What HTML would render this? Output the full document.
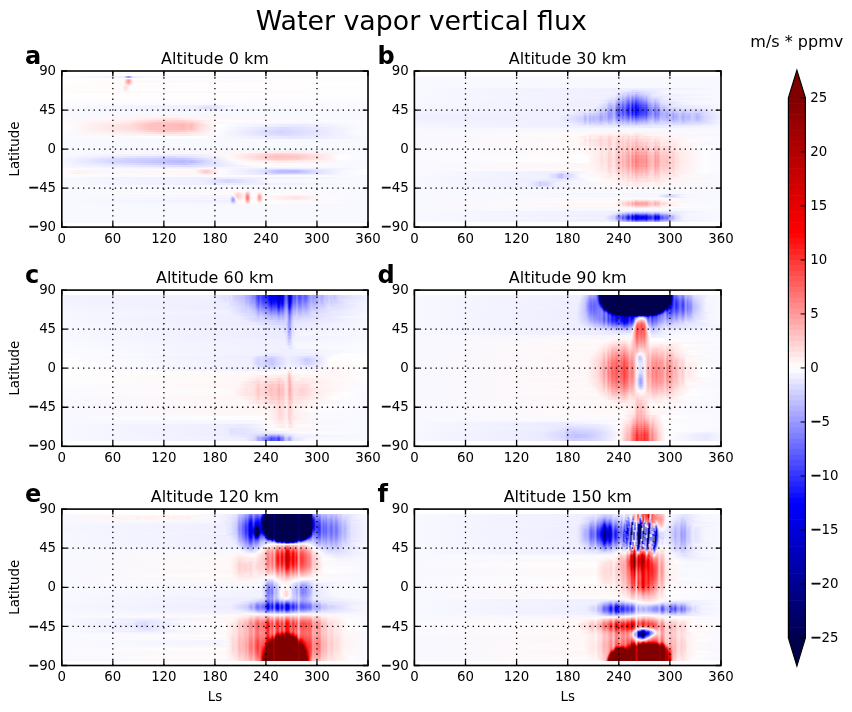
<!DOCTYPE html><html><head><meta charset="utf-8"><title>Water vapor vertical flux</title>
<style>html,body{margin:0;padding:0;background:#fff;width:852px;height:712px;overflow:hidden;position:relative}svg{display:block;position:absolute;left:0;top:0}text{font-family:'DejaVu Sans', 'Liberation Sans', sans-serif;fill:#000}.hm{position:absolute;top:0;height:712px}.hm i{position:absolute;left:0;right:0;display:block}</style></head><body>
<div class="hm" style="left:62.3px;width:306px"><i style="top:75.94px;height:2.05px;background:linear-gradient(90deg,#fcfcff 0,#f0f0ff 62px,#9898ff 66px,#9494ff 67px,#ededff 71px,#f8f8ff 87px,#fbfbff 306px)"></i><i style="top:77.94px;height:1.05px;background:linear-gradient(90deg,#fdfdff 0,#fcfcff 306px)"></i><i style="top:78.94px;height:1.05px;background:linear-gradient(90deg,#fdfdff 0,#fffefe 62px,#fbb 66px,#ffb8b8 67px,#fffdfd 71px,#fcfcff 306px)"></i><i style="top:79.94px;height:3.05px;background:linear-gradient(90deg,#fffeff 0,#fffafa 62px,#ff9d9d 66px,#ff9a9a 67px,#fff9f9 71px,#fefeff 306px)"></i><i style="top:82.94px;height:1.05px;background:linear-gradient(90deg,#fffefe 0,#fff8f8 62px,#ffb6b6 66px,#ffb4b4 67px,#fffcfc 71px,#fff 306px)"></i><i style="top:83.94px;height:1.05px;background:linear-gradient(90deg,#fffdfd 0,#fffcfc 61px,#ffcece 67px,#fff 71px,#fff 306px)"></i><i style="top:84.94px;height:1.05px;background:linear-gradient(90deg,#fffdfd 0,#fff8f8 61px,#ffe2e2 66px,#fcfcff 71px,#fffefe 306px)"></i><i style="top:85.94px;height:3.05px;background:linear-gradient(90deg,#fffcfc 0,#fffbfb 60px,#fdd 64px,#fefcfd 68px,#fffefe 306px)"></i><i style="top:88.94px;height:2.05px;background:linear-gradient(90deg,#fffcfc 0,#fffcfc 60px,#ffe4e4 64px,#fefeff 67px,#fffdfd 306px)"></i><i style="top:90.94px;height:2.05px;background:linear-gradient(90deg,#fffcfc 0,#fff8f8 62px,#fffdfd 306px)"></i><i style="top:92.94px;height:4.05px;background:linear-gradient(90deg,#fffdfd 0,#fffefe 306px)"></i><i style="top:96.94px;height:4.05px;background:linear-gradient(90deg,#fefeff 0,#fdfdff 306px)"></i><i style="top:100.94px;height:4.05px;background:linear-gradient(90deg,#fcfcff 0,#fbfbff 306px)"></i><i style="top:104.94px;height:2.05px;background:linear-gradient(90deg,#fafaff 0,#efefff 134px,#e5e5ff 147px,#f8f8ff 177px,#fafaff 306px)"></i><i style="top:106.94px;height:2.05px;background:linear-gradient(90deg,#f9f9ff 0,#efefff 133px,#dcdcff 146px,#f8f8ff 168px,#f9f9ff 306px)"></i><i style="top:108.94px;height:2.05px;background:linear-gradient(90deg,#f9f9ff 0,#f0f0ff 138px,#f9f9ff 306px)"></i><i style="top:110.94px;height:4.05px;background:linear-gradient(90deg,#f8f8ff 0,#f8f8ff 306px)"></i><i style="top:114.94px;height:3.05px;background:linear-gradient(90deg,#f9f9ff 0,#fff3f3 92px,#f8f8ff 214px,#f8f8ff 306px)"></i><i style="top:117.94px;height:2.05px;background:linear-gradient(90deg,#fafaff 0,#fff3f3 69px,#ffe2e2 110px,#fff6f6 138px,#f9f9ff 306px)"></i><i style="top:119.94px;height:2.05px;background:linear-gradient(90deg,#fbfbff 0,#fff0f0 63px,#ffd7d7 96px,#ffd2d2 120px,#ffdbdb 127px,#fdfdff 155px,#fafaff 306px)"></i><i style="top:121.94px;height:2.05px;background:linear-gradient(90deg,#fcfcff 0,#ffe8e8 65px,#ffc3c3 94px,#ffc4c4 118px,#ffc1c1 120px,#fcc 127px,#ffc6c6 129px,#fff1f1 144px,#fafaff 162px,#f6f6ff 258px,#fbfbff 306px)"></i><i style="top:123.94px;height:3.05px;background:linear-gradient(90deg,#fefeff 0,#ffdede 68px,#ffc0c0 87px,#ffc1c1 97px,#ffb8b8 118px,#ffb4b4 120px,#ffc1c1 127px,#ffb8b8 129px,#ffcfcf 134px,#fffefe 155px,#e8e8ff 232px,#fdfdff 306px)"></i><i style="top:126.94px;height:3.05px;background:linear-gradient(90deg,#fefeff 0,#ffdbdb 72px,#ffc2c2 87px,#ffc3c3 97px,#fbb 118px,#ffb7b7 120px,#ffc4c4 127px,#ffbcbc 129px,#ffdfdf 138px,#fdfdff 157px,#dbdbff 222px,#fdfdff 306px)"></i><i style="top:129.94px;height:2.05px;background:linear-gradient(90deg,#fdfdff 0,#ffe2e2 73px,#ffc9c9 94px,#ffc8c8 120px,#ffd3d3 127px,#ffd6d6 130px,#fefeff 155px,#d4d4ff 219px,#f9f9ff 293px,#fcfcff 306px)"></i><i style="top:131.94px;height:2.05px;background:linear-gradient(90deg,#fbfbff 0,#ffebeb 73px,#ffdbdb 100px,#ffe0e0 124px,#fcfcff 155px,#d4d4ff 219px,#f9f9ff 293px,#fbfbff 306px)"></i><i style="top:133.94px;height:2.05px;background:linear-gradient(90deg,#fafaff 0,#fff4f4 73px,#ffe9e9 120px,#fafaff 156px,#dbdbff 222px,#f9f9ff 298px,#fafaff 306px)"></i><i style="top:135.94px;height:3.05px;background:linear-gradient(90deg,#f9f9ff 0,#fefdfe 137px,#e6e6ff 233px,#f9f9ff 306px)"></i><i style="top:138.94px;height:4.05px;background:linear-gradient(90deg,#f8f8ff 0,#f8f8ff 306px)"></i><i style="top:142.94px;height:4.05px;background:#f8f8ff"></i><i style="top:146.94px;height:4.05px;background:linear-gradient(90deg,#f8f8ff 0,#f8f8ff 306px)"></i><i style="top:150.94px;height:2.05px;background:linear-gradient(90deg,#f8f8ff 0,#fff5f5 186px,#ffe9e9 223px,#fafaff 284px,#f8f8ff 306px)"></i><i style="top:152.94px;height:1.05px;background:linear-gradient(90deg,#f8f8ff 0,#f8f8ff 149px,#fff4f4 175px,#ffd8d8 219px,#ffe9e9 248px,#fbfbff 282px,#f8f8ff 306px)"></i><i style="top:153.94px;height:2.05px;background:linear-gradient(90deg,#f8f8ff 0,#ececff 130px,#fff9f9 167px,#ffc8c8 214px,#fcc 234px,#fefeff 279px,#f8f8ff 306px)"></i><i style="top:155.94px;height:2.05px;background:linear-gradient(90deg,#f8f8ff 0,#d9d9ff 110px,#ececff 145px,#fff9f9 167px,#ffbfbf 214px,#ffc4c4 234px,#fff 278px,#f8f8ff 306px)"></i><i style="top:157.94px;height:2.05px;background:linear-gradient(90deg,#f7f7ff 0,#d4d4ff 63px,#c5c5ff 120px,#ccf 127px,#fffbfb 169px,#ffc9c9 214px,#ffcece 234px,#fefeff 279px,#f7f7ff 306px)"></i><i style="top:159.94px;height:1.05px;background:linear-gradient(90deg,#f7f7ff 0,#d2d2ff 60px,#c5c5ff 96px,#babaff 120px,#c1c1ff 127px,#c2c2ff 130px,#fffdfd 171px,#ffdada 219px,#ffeaea 248px,#fbfbff 282px,#f7f7ff 306px)"></i><i style="top:160.94px;height:2.05px;background:linear-gradient(90deg,#f7f7ff 0,#d2d2ff 60px,#c5c5ff 96px,#b8b8ff 120px,#bfbfff 127px,#b7b7ff 129px,#e8e8ff 153px,#fffbfb 179px,#ffebeb 223px,#fafaff 284px,#f7f7ff 306px)"></i><i style="top:162.94px;height:2.05px;background:linear-gradient(90deg,#f7f7ff 0,#cfcfff 96px,#c4c4ff 120px,#cacaff 127px,#d5d5ff 137px,#fefeff 183px,#f7f7ff 306px)"></i><i style="top:164.94px;height:2.05px;background:linear-gradient(90deg,#f7f7ff 0,#dcdcff 124px,#fbfbff 200px,#f8f8ff 306px)"></i><i style="top:166.94px;height:1.05px;background:linear-gradient(90deg,#f8f8ff 0,#ececff 132px,#f6f6ff 157px,#f8f8ff 306px)"></i><i style="top:167.94px;height:1.05px;background:linear-gradient(90deg,#fafaff 0,#f3f3ff 132px,#fff8f8 142px,#ececff 208px,#efefff 251px,#f9f9ff 306px)"></i><i style="top:168.94px;height:1.05px;background:linear-gradient(90deg,#fcfcff 0,#f9f9ff 131px,#fff0f0 138px,#ffe2e2 146px,#fcfcff 157px,#e6e6ff 204px,#d3d3ff 221px,#e2e2ff 248px,#f8f8ff 287px,#fbfbff 306px)"></i><i style="top:169.94px;height:3.05px;background:linear-gradient(90deg,#fffdfd 0,#fff2f2 16px,#f8f8ff 38px,#fff7f7 133px,#ffc9c9 144px,#fdfdff 158px,#e3e3ff 199px,#bdbdff 216px,#babaff 234px,#dfdfff 254px,#f8f8ff 282px,#fefeff 306px)"></i><i style="top:172.94px;height:1.05px;background:linear-gradient(90deg,#fffcfc 0,#fee 15px,#fafaff 32px,#fff7f7 134px,#ffd7d7 145px,#fcfcff 158px,#e5e5ff 203px,#ccf 218px,#d7d7ff 244px,#f7f7ff 277px,#fff 306px)"></i><i style="top:173.94px;height:1.05px;background:linear-gradient(90deg,#fff 0,#fff9f9 19px,#fff7f7 137px,#ffefef 147px,#fafaff 158px,#e3e3ff 212px,#ebebff 249px,#fdfdff 306px)"></i><i style="top:174.94px;height:2.05px;background:linear-gradient(90deg,#fbfbff 0,#f9f9ff 301px,#fafaff 306px)"></i><i style="top:176.94px;height:2.05px;background:linear-gradient(90deg,#f8f8ff 0,#ededff 151px,#f8f8ff 306px)"></i><i style="top:178.94px;height:4.05px;background:linear-gradient(90deg,#f8f8ff 0,#eef 141px,#d8d8ff 166px,#f8f8ff 208px,#f8f8ff 306px)"></i><i style="top:182.94px;height:2.05px;background:linear-gradient(90deg,#f8f8ff 0,#ededff 148px,#ececff 177px,#f8f8ff 293px,#f8f8ff 306px)"></i><i style="top:184.94px;height:4.05px;background:linear-gradient(90deg,#f8f8ff 0,#f8f8ff 306px)"></i><i style="top:188.94px;height:2.05px;background:linear-gradient(90deg,#f8f8ff 0,#fffbfb 184px,#f8f8ff 306px)"></i><i style="top:190.94px;height:1.05px;background:linear-gradient(90deg,#f8f8ff 0,#fff7f7 173px,#fff9f9 179px,#fffcfc 183px,#ffe1e1 186px,#fbfbff 189px,#f8f8ff 306px)"></i><i style="top:191.94px;height:1.05px;background:linear-gradient(90deg,#f8f8ff 0,#fffafa 171px,#ffe8e8 177px,#fffdfd 182px,#ffcece 185px,#ffdede 187px,#fdfdff 189px,#fff5f5 196px,#ffecec 198px,#fbfbff 201px,#f8f8ff 306px)"></i><i style="top:192.94px;height:1.05px;background:linear-gradient(90deg,#f8f8ff 0,#fff8f8 171px,#ffd7d7 176px,#fff9f9 182px,#fff0f0 183px,#ffb7b7 185px,#ffb6b6 186px,#fff 189px,#fffafa 195px,#ffd9d9 197px,#ffe9e9 199px,#fbfbff 202px,#f8f8ff 306px)"></i><i style="top:193.94px;height:1.05px;background:linear-gradient(90deg,#f8f8ff 0,#fffdfd 171px,#fcc 176px,#fff6f6 182px,#ffe9e9 183px,#ff9f9f 185px,#ff9d9d 186px,#fffdfd 189px,#fdfdff 194px,#fdd 196px,#ffc4c4 197px,#ffc5c5 198px,#fffefe 201px,#fff9f9 243px,#f8f8ff 306px)"></i><i style="top:194.94px;height:1.05px;background:linear-gradient(90deg,#f8f8ff 0,#f2f2ff 171px,#fffefe 172px,#ffcaca 175px,#ffe0e0 179px,#fff3f3 182px,#ffe3e3 183px,#f88 185px,#ff8686 186px,#ffdfdf 188px,#fffbfb 189px,#fff 194px,#ffd0d0 196px,#ffaeae 197px,#ffafaf 198px,#fffbfb 201px,#ffefef 238px,#fafaff 262px,#f8f8ff 306px)"></i><i style="top:195.94px;height:1.05px;background:linear-gradient(90deg,#f8f8ff 0,#f9f9ff 168px,#d9d9ff 171px,#fff5f5 173px,#ffcbcb 175px,#ffd8d8 178px,#fff2f2 182px,#ffe0e0 183px,#ff7878 185px,#ff7575 186px,#ffdada 188px,#fff9f9 189px,#fffdfd 194px,#ffc5c5 196px,#ff9c9c 197px,#ff9e9e 198px,#fff8f8 201px,#ffe6e6 234px,#fbfbff 261px,#f8f8ff 306px)"></i><i style="top:196.94px;height:1.05px;background:linear-gradient(90deg,#f8f8ff 0,#f5f5ff 168px,#babaff 171px,#cdcdff 172px,#f6f6ff 173px,#ffd3d3 175px,#fdd 178px,#fff3f3 182px,#ffdfdf 183px,#ff7171 185px,#ff6e6e 186px,#ffd7d7 188px,#fff9f9 189px,#fffcfc 194px,#ffe8e8 195px,#ff9494 197px,#ff9797 198px,#ffe1e1 200px,#fffefe 202px,#ffe1e1 233px,#fbfbff 261px,#f8f8ff 306px)"></i><i style="top:197.94px;height:1.05px;background:linear-gradient(90deg,#f8f8ff 0,#f1f1ff 168px,#9e9eff 171px,#b3b3ff 172px,#e4e4ff 173px,#fff3f3 174px,#ffd9d9 176px,#fff5f5 182px,#ffe1e1 183px,#ff7575 185px,#ff7272 186px,#ffd9d9 188px,#fff9f9 189px,#fffdfd 194px,#ffe9e9 195px,#ff9898 197px,#ff9b9b 198px,#ffe2e2 200px,#fffefe 202px,#ffe2e2 233px,#fbfbff 261px,#f8f8ff 306px)"></i><i style="top:198.94px;height:1.05px;background:linear-gradient(90deg,#f8f8ff 0,#f7f7ff 167px,#d6d6ff 169px,#9191ff 171px,#a5a5ff 172px,#fff 174px,#ffe6e6 176px,#fff8f8 182px,#ffe5e5 183px,#ff8383 185px,#ff8080 186px,#fdd 188px,#fffafa 189px,#fffefe 194px,#ffcbcb 196px,#ffa7a7 197px,#ffa9a9 198px,#fffafa 201px,#ffeaea 234px,#fafaff 262px,#f8f8ff 306px)"></i><i style="top:199.94px;height:1.05px;background:linear-gradient(90deg,#f8f8ff 0,#efefff 168px,#9797ff 171px,#a8a8ff 172px,#f7f7ff 174px,#fff3f3 177px,#fffcfc 182px,#ffebeb 183px,#ff9898 185px,#ff9595 186px,#ffe4e4 188px,#fffcfc 189px,#fefeff 194px,#ffd8d8 196px,#ffbcbc 197px,#ffbdbd 198px,#fffdfd 201px,#fff5f5 239px,#f8f8ff 292px,#f8f8ff 306px)"></i><i style="top:200.94px;height:1.05px;background:linear-gradient(90deg,#f8f8ff 0,#f1f1ff 168px,#acacff 171px,#b8b8ff 172px,#f4f4ff 174px,#fff 179px,#fff 182px,#fff1f1 183px,#ffb0b0 185px,#ffaeae 186px,#fff 189px,#fff8f8 195px,#ffd2d2 197px,#ffe5e5 199px,#fefeff 201px,#f8f8ff 306px)"></i><i style="top:201.94px;height:1.05px;background:linear-gradient(90deg,#f8f8ff 0,#f3f3ff 168px,#c6c6ff 171px,#fcfcff 175px,#fff7f7 183px,#ffc8c8 185px,#ffc6c6 186px,#fdfdff 189px,#fffdfd 195px,#ffe6e6 198px,#fcfcff 201px,#f8f8ff 306px)"></i><i style="top:202.94px;height:1.05px;background:linear-gradient(90deg,#f8f8ff 0,#f5f5ff 168px,#dcdcff 171px,#fbfbff 176px,#fffcfc 183px,#ffdcdc 185px,#ffe8e8 187px,#fcfcff 189px,#fffafa 199px,#f8f8ff 306px)"></i><i style="top:203.94px;height:2.05px;background:linear-gradient(90deg,#f8f8ff 0,#f7f7ff 174px,#fff9f9 184px,#fff7f7 187px,#f8f8ff 306px)"></i><i style="top:205.94px;height:4.05px;background:linear-gradient(90deg,#f8f8ff 0,#f8f8ff 306px)"></i><i style="top:209.94px;height:4.05px;background:#f8f8ff"></i><i style="top:213.94px;height:4.05px;background:#f8f8ff"></i><i style="top:217.94px;height:4.05px;background:#f8f8ff"></i><i style="top:221.94px;height:0.21px;background:#f8f8ff"></i></div>
<div class="hm" style="left:414.9px;width:307px"><i style="top:75.94px;height:4.05px;background:#f8f8ff"></i><i style="top:79.94px;height:4.05px;background:linear-gradient(90deg,#f8f8ff 0,#f8f8ff 307px)"></i><i style="top:83.94px;height:4.05px;background:linear-gradient(90deg,#f8f8ff 0,#f8f8ff 307px)"></i><i style="top:87.94px;height:2.05px;background:linear-gradient(90deg,#f8f8ff 0,#eef 211px,#ededff 229px,#f8f8ff 307px)"></i><i style="top:89.94px;height:2.05px;background:linear-gradient(90deg,#f8f8ff 0,#eef 203px,#e6e6ff 215px,#dbdbff 218px,#dcdcff 220px,#f7f7ff 254px,#f8f8ff 307px)"></i><i style="top:91.94px;height:2.05px;background:linear-gradient(90deg,#f8f8ff 0,#f1f1ff 200px,#d4d4ff 213px,#cfcfff 214px,#ddf 216px,#c9c9ff 217px,#d7d7ff 219px,#c3c3ff 221px,#dadaff 228px,#f6f6ff 249px,#f8f8ff 307px)"></i><i style="top:93.94px;height:1.05px;background:linear-gradient(90deg,#f8f8ff 0,#eef 200px,#dcdcff 205px,#dcdcff 207px,#d2d2ff 208px,#dadaff 210px,#c1c1ff 214px,#d3d3ff 216px,#b9b9ff 217px,#ccf 219px,#b1b1ff 221px,#cdcdff 225px,#cfcfff 229px,#ebebff 239px,#f8f8ff 307px)"></i><i style="top:94.94px;height:1.05px;background:linear-gradient(90deg,#f8f8ff 0,#efefff 193px,#ececff 200px,#d5d5ff 205px,#e1e1ff 206px,#c9c9ff 208px,#d4d4ff 210px,#b5b5ff 214px,#cbcbff 215px,#ccf 216px,#acacff 217px,#c3c3ff 219px,#a3a3ff 221px,#b2b2ff 223px,#c4c4ff 225px,#babaff 226px,#d1d1ff 230px,#ceceff 232px,#eaeaff 238px,#efefff 245px,#f8f8ff 307px)"></i><i style="top:95.94px;height:1.05px;background:linear-gradient(90deg,#f8f8ff 0,#f1f1ff 192px,#e9e9ff 200px,#ceceff 205px,#dcdcff 206px,#c0c0ff 208px,#cdcdff 210px,#a9a9ff 214px,#c3c3ff 215px,#c4c4ff 216px,#9f9fff 217px,#a2a2ff 218px,#babaff 219px,#9494ff 221px,#a7a7ff 222px,#aaf 224px,#bbf 225px,#afafff 226px,#c9c9ff 230px,#bdbdff 231px,#dbdbff 235px,#e4e4ff 239px,#f8f8ff 277px,#f8f8ff 307px)"></i><i style="top:96.94px;height:1.05px;background:linear-gradient(90deg,#f8f8ff 0,#efefff 192px,#e6e6ff 200px,#c6c6ff 205px,#d7d7ff 206px,#b6b6ff 208px,#c8c8ff 209px,#9c9cff 214px,#babaff 215px,#bcbcff 216px,#9090ff 217px,#9494ff 218px,#b0b0ff 219px,#8484ff 221px,#9a9aff 222px,#9d9dff 224px,#b1b1ff 225px,#a3a3ff 226px,#b3b3ff 228px,#c1c1ff 230px,#b3b3ff 231px,#d3d3ff 234px,#e0e0ff 239px,#dedeff 241px,#f5f5ff 256px,#f8f8ff 307px)"></i><i style="top:97.94px;height:1.05px;background:linear-gradient(90deg,#f8f8ff 0,#f1f1ff 189px,#e2e2ff 198px,#e2e2ff 200px,#bebeff 205px,#d1d1ff 206px,#ababff 208px,#c1c1ff 209px,#8f8fff 214px,#b1b1ff 215px,#b3b3ff 216px,#8181ff 217px,#8686ff 218px,#a5a5ff 219px,#7373ff 221px,#8c8cff 222px,#8f8fff 224px,#a6a6ff 225px,#9696ff 226px,#a8a8ff 228px,#b8b8ff 230px,#a7a7ff 231px,#ccf 234px,#dbdbff 239px,#d1d1ff 240px,#efefff 249px,#f8f8ff 307px)"></i><i style="top:98.94px;height:1.05px;background:linear-gradient(90deg,#f8f8ff 0,#efefff 189px,#dedeff 198px,#dedeff 200px,#b4b4ff 204px,#b4b4ff 205px,#cbcbff 206px,#a0a0ff 208px,#b8b8ff 209px,#8080ff 214px,#a8a8ff 215px,#aaf 216px,#7272ff 217px,#77f 218px,#9b9bff 219px,#6161ff 221px,#7e7eff 222px,#8181ff 224px,#9b9bff 225px,#8989ff 226px,#9d9dff 227px,#9c9cff 229px,#afafff 230px,#9b9bff 231px,#c5c5ff 234px,#d6d6ff 239px,#c9c9ff 240px,#ededff 249px,#f8f8ff 307px)"></i><i style="top:99.94px;height:1.05px;background:linear-gradient(90deg,#f8f8ff 0,#eef 185px,#ddf 193px,#d9d9ff 198px,#dadaff 200px,#b3b3ff 203px,#aaf 205px,#c4c4ff 206px,#9494ff 208px,#b0b0ff 209px,#7272ff 214px,#9e9eff 215px,#a1a1ff 216px,#6262ff 217px,#6868ff 218px,#9090ff 219px,#5050ff 221px,#7070ff 222px,#7373ff 224px,#9090ff 225px,#7b7bff 226px,#9191ff 227px,#8f8fff 229px,#a5a5ff 230px,#8e8eff 231px,#b7b7ff 233px,#d5d5ff 238px,#c1c1ff 240px,#d3d3ff 242px,#dedeff 245px,#f7f7ff 267px,#f8f8ff 307px)"></i><i style="top:100.94px;height:1.05px;background:linear-gradient(90deg,#f8f8ff 0,#f1f1ff 184px,#e5e5ff 192px,#d4d4ff 195px,#dedeff 199px,#9e9eff 204px,#9f9fff 205px,#bdbdff 206px,#8787ff 208px,#a7a7ff 209px,#7676ff 213px,#6363ff 214px,#9595ff 215px,#9898ff 216px,#5252ff 217px,#5959ff 218px,#8585ff 219px,#3e3eff 221px,#6161ff 222px,#6565ff 224px,#8585ff 225px,#6d6dff 226px,#8686ff 227px,#8383ff 229px,#9b9bff 230px,#8181ff 231px,#aeaeff 233px,#d0d0ff 238px,#b8b8ff 240px,#cdcdff 242px,#ceceff 244px,#e4e4ff 246px,#f7f7ff 282px,#f8f8ff 307px)"></i><i style="top:101.94px;height:1.05px;background:linear-gradient(90deg,#f8f8ff 0,#efefff 184px,#e2e2ff 192px,#ceceff 195px,#dadaff 199px,#9e9eff 203px,#9494ff 205px,#b6b6ff 206px,#7a7aff 208px,#9e9eff 209px,#9a9aff 210px,#55f 214px,#8b8bff 215px,#8f8fff 216px,#4343ff 217px,#4b4bff 218px,#7b7bff 219px,#2d2dff 221px,#5454ff 222px,#5757ff 224px,#7a7aff 225px,#5f5fff 226px,#7a7aff 227px,#77f 229px,#9090ff 230px,#7373ff 231px,#a5a5ff 233px,#cacaff 238px,#aeaeff 240px,#c6c6ff 242px,#c6c6ff 244px,#e0e0ff 246px,#f7f7ff 277px,#f8f8ff 307px)"></i><i style="top:102.94px;height:1.05px;background:linear-gradient(90deg,#f7f7ff 0,#eef 184px,#dedeff 192px,#c6c6ff 194px,#c9c9ff 198px,#d6d6ff 199px,#cbcbff 200px,#ababff 201px,#8787ff 204px,#8989ff 205px,#afafff 206px,#6d6dff 208px,#9595ff 209px,#9191ff 210px,#4747ff 214px,#8282ff 215px,#8686ff 216px,#3535ff 217px,#3d3dff 218px,#7171ff 219px,#1d1dff 221px,#4646ff 222px,#4a4aff 224px,#6f6fff 225px,#5252ff 226px,#6f6fff 227px,#6a6aff 229px,#8686ff 230px,#66f 231px,#7878ff 232px,#9c9cff 233px,#b7b7ff 237px,#c4c4ff 238px,#a4a4ff 240px,#bfbfff 242px,#bfbfff 244px,#dcdcff 246px,#f5f5ff 273px,#f8f8ff 307px)"></i><i style="top:103.94px;height:1.05px;background:linear-gradient(90deg,#f7f7ff 0,#eef 182px,#dbdbff 192px,#bfbfff 194px,#c3c3ff 198px,#d2d2ff 199px,#c6c6ff 200px,#a3a3ff 201px,#7b7bff 204px,#7e7eff 205px,#a8a8ff 206px,#6161ff 208px,#8d8dff 209px,#88f 210px,#3a3aff 214px,#7a7aff 215px,#7e7eff 216px,#2727ff 217px,#3030ff 218px,#6868ff 219px,#0e0eff 221px,#3a3aff 222px,#3d3dff 224px,#6565ff 225px,#4545ff 226px,#6464ff 227px,#5e5eff 229px,#7c7cff 230px,#5959ff 231px,#6c6cff 232px,#9393ff 233px,#b0b0ff 237px,#bebeff 238px,#b5b5ff 239px,#99f 240px,#b7b7ff 242px,#adadff 243px,#d8d8ff 246px,#f3f3ff 270px,#f7f7ff 307px)"></i><i style="top:104.94px;height:2.05px;background:linear-gradient(90deg,#f7f7ff 0,#eef 181px,#d5d5ff 192px,#b5b5ff 194px,#babaff 198px,#ccf 199px,#bebeff 200px,#9696ff 201px,#6a6aff 204px,#6e6eff 205px,#9e9eff 206px,#5050ff 208px,#8181ff 209px,#7c7cff 210px,#2929ff 214px,#6e6eff 215px,#7474ff 216px,#1515ff 217px,#1f1fff 218px,#5c5cff 219px,#22f 220px,#0000fb 221px,#2a2aff 222px,#2c2cff 224px,#5757ff 225px,#3535ff 226px,#5656ff 227px,#4e4eff 229px,#6f6fff 230px,#4646ff 231px,#5b5bff 232px,#8787ff 233px,#a5a5ff 237px,#b5b5ff 238px,#aaf 239px,#8989ff 240px,#acacff 242px,#9f9fff 243px,#d1d1ff 246px,#cdcdff 248px,#e6e6ff 257px,#f7f7ff 307px)"></i><i style="top:106.94px;height:2.05px;background:linear-gradient(90deg,#f6f6ff 0,#f0f0ff 177px,#d7d7ff 188px,#ceceff 192px,#b2b2ff 193px,#a9a9ff 197px,#c5c5ff 199px,#b5b5ff 200px,#8787ff 201px,#5858ff 204px,#5d5dff 205px,#9393ff 206px,#3e3eff 208px,#7575ff 209px,#7070ff 210px,#3f3fff 212px,#1717ff 214px,#6363ff 215px,#6969ff 216px,#0404ff 217px,#0f0fff 218px,#5050ff 219px,#1212ff 220px,#00e 221px,#1a1aff 222px,#1c1cff 224px,#4a4aff 225px,#2424ff 226px,#4747ff 227px,#3d3dff 229px,#6060ff 230px,#33f 231px,#4949ff 232px,#7979ff 233px,#99f 237px,#ababff 238px,#9d9dff 239px,#77f 240px,#9e9eff 242px,#8e8eff 243px,#c8c8ff 246px,#c2c2ff 248px,#cdcdff 251px,#dbdbff 255px,#d7d7ff 259px,#e5e5ff 267px,#f6f6ff 307px)"></i><i style="top:108.94px;height:2.05px;background:linear-gradient(90deg,#f4f4ff 0,#f0f0ff 168px,#dcdcff 184px,#c8c8ff 187px,#d2d2ff 189px,#c3c3ff 191px,#c6c6ff 192px,#a6a6ff 193px,#a0a0ff 195px,#a7a7ff 198px,#c0c0ff 199px,#aeaeff 200px,#7d7dff 201px,#4b4bff 204px,#5252ff 205px,#8c8cff 206px,#33f 208px,#6e6eff 209px,#6a6aff 210px,#3737ff 212px,#1010ff 214px,#5f5fff 215px,#6565ff 216px,#0000fd 217px,#0909ff 218px,#4c4cff 219px,#0c0cff 220px,#0000e9 221px,#1414ff 222px,#1515ff 224px,#44f 225px,#1c1cff 226px,#4040ff 227px,#3434ff 229px,#5858ff 230px,#2727ff 231px,#3e3eff 232px,#7171ff 233px,#7f7fff 236px,#a4a4ff 238px,#9494ff 239px,#6969ff 240px,#9292ff 242px,#7f7fff 243px,#c0c0ff 246px,#b8b8ff 248px,#c1c1ff 250px,#c5c5ff 254px,#d3d3ff 257px,#c8c8ff 259px,#d7d7ff 260px,#d6d6ff 263px,#dcdcff 266px,#dadaff 269px,#dedeff 281px,#f5f5ff 307px)"></i><i style="top:110.94px;height:2.05px;background:linear-gradient(90deg,#f2f2ff 0,#efefff 159px,#e2e2ff 169px,#e9e9ff 173px,#d7d7ff 175px,#e2e2ff 177px,#d3d3ff 184px,#c1c1ff 185px,#c6c6ff 188px,#cacaff 189px,#b9b9ff 190px,#c0c0ff 192px,#9d9dff 193px,#9898ff 195px,#a2a2ff 198px,#bdbdff 199px,#ababff 200px,#7878ff 201px,#4848ff 204px,#4f4fff 205px,#8b8bff 206px,#3232ff 208px,#6e6eff 209px,#6a6aff 210px,#3939ff 212px,#1313ff 214px,#6161ff 215px,#6868ff 216px,#0303ff 217px,#0e0eff 218px,#4f4fff 219px,#11f 220px,#0000ed 221px,#1919ff 222px,#1919ff 224px,#4747ff 225px,#1f1fff 226px,#4242ff 227px,#3535ff 229px,#5959ff 230px,#2727ff 231px,#3d3dff 232px,#7070ff 233px,#7d7dff 236px,#a1a1ff 238px,#9090ff 239px,#6262ff 240px,#8c8cff 242px,#77f 243px,#a0a0ff 245px,#babaff 246px,#acacff 247px,#bdbdff 249px,#aeaeff 252px,#ccf 256px,#b4b4ff 258px,#cacaff 260px,#c5c5ff 262px,#d6d6ff 265px,#c1c1ff 268px,#d2d2ff 273px,#d6d6ff 276px,#d2d2ff 281px,#d4d4ff 285px,#f0f0ff 302px,#f4f4ff 307px)"></i><i style="top:112.94px;height:2.05px;background:linear-gradient(90deg,#f0f0ff 0,#f0f0ff 150px,#e1e1ff 168px,#cacaff 170px,#e1e1ff 173px,#c6c6ff 175px,#d8d8ff 177px,#cdcdff 179px,#c9c9ff 184px,#b2b2ff 185px,#b0b0ff 187px,#c4c4ff 189px,#b0b0ff 190px,#bbf 192px,#9696ff 193px,#9494ff 195px,#a2a2ff 198px,#bdbdff 199px,#ababff 200px,#7a7aff 201px,#4d4dff 204px,#5656ff 205px,#9090ff 206px,#3c3cff 208px,#7676ff 209px,#7272ff 210px,#4545ff 212px,#2323ff 214px,#6c6cff 215px,#7272ff 216px,#1414ff 217px,#1f1fff 218px,#5c5cff 219px,#22f 220px,#0101fb 221px,#2929ff 222px,#2929ff 224px,#5353ff 225px,#2e2eff 226px,#4e4eff 227px,#4141ff 229px,#6262ff 230px,#33f 231px,#4747ff 232px,#7676ff 233px,#8181ff 236px,#a3a3ff 238px,#9393ff 239px,#6565ff 240px,#8c8cff 242px,#7676ff 243px,#9e9eff 245px,#b8b8ff 246px,#a8a8ff 247px,#b8b8ff 249px,#a5a5ff 252px,#c4c4ff 256px,#a5a5ff 258px,#a7a7ff 259px,#bfbfff 260px,#b1b1ff 261px,#cdcdff 265px,#b1b1ff 268px,#c4c4ff 270px,#c1c1ff 275px,#d4d4ff 277px,#bcbcff 282px,#dadaff 289px,#f3f3ff 307px)"></i><i style="top:114.94px;height:1.05px;background:linear-gradient(90deg,#efefff 0,#efefff 146px,#e0e0ff 161px,#dbdbff 168px,#bebeff 170px,#dbdbff 173px,#b9b9ff 175px,#d0d0ff 177px,#c0c0ff 178px,#c7c7ff 181px,#c1c1ff 184px,#a9a9ff 185px,#a9a9ff 187px,#c0c0ff 189px,#acacff 190px,#b9b9ff 192px,#9494ff 193px,#9494ff 195px,#a4a4ff 198px,#bfbfff 199px,#aeaeff 200px,#8080ff 201px,#5858ff 204px,#6060ff 205px,#9797ff 206px,#4a4aff 208px,#8080ff 209px,#7d7dff 210px,#3535ff 214px,#7878ff 215px,#7e7eff 216px,#2929ff 217px,#33f 218px,#6a6aff 219px,#1212ff 221px,#3c3cff 222px,#3c3cff 224px,#6262ff 225px,#4040ff 226px,#5d5dff 227px,#5151ff 229px,#6f6fff 230px,#4343ff 231px,#55f 232px,#8080ff 233px,#9898ff 237px,#a9a9ff 238px,#99f 239px,#6d6dff 240px,#9191ff 242px,#7b7bff 243px,#a0a0ff 245px,#b9b9ff 246px,#a9a9ff 247px,#b8b8ff 249px,#a2a2ff 252px,#c0c0ff 256px,#b8b8ff 257px,#9e9eff 258px,#a0a0ff 259px,#babaff 260px,#aaf 261px,#c8c8ff 265px,#a9a9ff 268px,#bebeff 270px,#bbf 275px,#d0d0ff 277px,#c0c0ff 281px,#b5b5ff 282px,#d7d7ff 289px,#ededff 303px,#f2f2ff 307px)"></i><i style="top:115.94px;height:1.05px;background:linear-gradient(90deg,#efefff 0,#f0f0ff 145px,#ddf 161px,#d5d5ff 166px,#d7d7ff 168px,#b7b7ff 170px,#d8d8ff 173px,#b2b2ff 175px,#ccf 177px,#babaff 178px,#c3c3ff 181px,#b9b9ff 183px,#bebeff 184px,#a5a5ff 185px,#a5a5ff 187px,#bebeff 189px,#ababff 190px,#b9b9ff 192px,#9595ff 193px,#9696ff 195px,#a7a7ff 198px,#c1c1ff 199px,#b2b2ff 200px,#8686ff 201px,#6161ff 204px,#6969ff 205px,#9d9dff 206px,#5656ff 208px,#88f 209px,#8686ff 210px,#4545ff 214px,#8282ff 215px,#88f 216px,#3939ff 217px,#4343ff 218px,#7676ff 219px,#2525ff 221px,#4b4bff 222px,#4b4bff 224px,#6e6eff 225px,#4f4fff 226px,#6969ff 227px,#5e5eff 229px,#7979ff 230px,#5151ff 231px,#6161ff 232px,#8989ff 233px,#9f9fff 237px,#aeaeff 238px,#9f9fff 239px,#7575ff 240px,#9797ff 242px,#8282ff 243px,#a4a4ff 245px,#bcbcff 246px,#adadff 248px,#babaff 249px,#a3a3ff 252px,#c0c0ff 256px,#b8b8ff 257px,#9d9dff 258px,#9e9eff 259px,#b8b8ff 260px,#a8a8ff 261px,#c7c7ff 265px,#a6a6ff 268px,#bcbcff 270px,#b9b9ff 275px,#ceceff 277px,#bebeff 281px,#b2b2ff 282px,#d5d5ff 289px,#ececff 303px,#f2f2ff 307px)"></i><i style="top:116.94px;height:1.05px;background:linear-gradient(90deg,#efefff 0,#efefff 145px,#dbdbff 161px,#d3d3ff 166px,#d5d5ff 168px,#b2b2ff 170px,#d6d6ff 173px,#aeaeff 175px,#c9c9ff 177px,#b7b7ff 178px,#c0c0ff 181px,#b7b7ff 183px,#bcbcff 184px,#a3a3ff 185px,#a4a4ff 187px,#bebeff 189px,#acacff 190px,#babaff 192px,#9898ff 193px,#9a9aff 195px,#acacff 198px,#c4c4ff 199px,#b6b6ff 200px,#8d8dff 201px,#6d6dff 204px,#7575ff 205px,#a5a5ff 206px,#6464ff 208px,#9292ff 209px,#9090ff 210px,#55f 214px,#8d8dff 215px,#9292ff 216px,#4c4cff 217px,#5454ff 218px,#8282ff 219px,#3939ff 221px,#5c5cff 222px,#5c5cff 224px,#7b7bff 225px,#5f5fff 226px,#77f 227px,#6c6cff 229px,#8585ff 230px,#6060ff 231px,#6f6fff 232px,#9393ff 233px,#a6a6ff 237px,#b4b4ff 238px,#a6a6ff 239px,#7f7fff 240px,#9e9eff 242px,#8a8aff 243px,#bfbfff 246px,#b1b1ff 248px,#bdbdff 249px,#a6a6ff 252px,#c1c1ff 256px,#b9b9ff 257px,#9e9eff 258px,#a0a0ff 259px,#b9b9ff 260px,#a9a9ff 261px,#c7c7ff 265px,#a6a6ff 268px,#bcbcff 270px,#b9b9ff 275px,#ceceff 277px,#bebeff 281px,#b2b2ff 282px,#d5d5ff 289px,#ececff 303px,#f2f2ff 307px)"></i><i style="top:117.94px;height:1.05px;background:linear-gradient(90deg,#efefff 0,#efefff 145px,#dadaff 161px,#d2d2ff 166px,#d4d4ff 168px,#b0b0ff 170px,#d5d5ff 173px,#acacff 175px,#c8c8ff 177px,#b5b5ff 178px,#bfbfff 181px,#b7b7ff 183px,#bcbcff 184px,#a3a3ff 185px,#a6a6ff 187px,#c0c0ff 189px,#aeaeff 190px,#bdbdff 192px,#9d9dff 193px,#9f9fff 195px,#b1b1ff 198px,#c8c8ff 199px,#bcbcff 200px,#9696ff 201px,#7a7aff 204px,#8181ff 205px,#adadff 206px,#7373ff 208px,#9c9cff 209px,#7676ff 213px,#6767ff 214px,#99f 215px,#9e9eff 216px,#5f5fff 217px,#6767ff 218px,#9090ff 219px,#4f4fff 221px,#6e6eff 222px,#6e6eff 224px,#8989ff 225px,#7070ff 226px,#8585ff 227px,#7c7cff 229px,#9292ff 230px,#7171ff 231px,#7e7eff 232px,#9e9eff 233px,#afafff 237px,#bbf 238px,#aeaeff 239px,#8b8bff 240px,#a6a6ff 242px,#9494ff 243px,#c4c4ff 246px,#b7b7ff 248px,#babaff 250px,#b0b0ff 253px,#c4c4ff 256px,#a2a2ff 258px,#a3a3ff 259px,#bcbcff 260px,#acacff 261px,#c9c9ff 265px,#a9a9ff 268px,#bebeff 270px,#bbf 275px,#d0d0ff 277px,#c0c0ff 281px,#b5b5ff 282px,#d6d6ff 289px,#ededff 303px,#f2f2ff 307px)"></i><i style="top:118.94px;height:1.05px;background:linear-gradient(90deg,#f0f0ff 0,#efefff 145px,#dadaff 161px,#d2d2ff 166px,#d4d4ff 168px,#b1b1ff 170px,#d5d5ff 173px,#adadff 175px,#c9c9ff 177px,#b7b7ff 178px,#c1c1ff 181px,#b9b9ff 183px,#bebeff 184px,#a6a6ff 185px,#a9a9ff 187px,#c3c3ff 189px,#b3b3ff 190px,#c1c1ff 192px,#a3a3ff 193px,#a7a7ff 195px,#b8b8ff 198px,#cdcdff 199px,#c2c2ff 200px,#a1a1ff 201px,#88f 204px,#8f8fff 205px,#b5b5ff 206px,#8383ff 208px,#a8a8ff 209px,#7979ff 214px,#a5a5ff 215px,#a9a9ff 216px,#7373ff 217px,#7979ff 218px,#9d9dff 219px,#6565ff 221px,#8080ff 222px,#8080ff 224px,#9898ff 225px,#8282ff 226px,#9494ff 227px,#8c8cff 229px,#9f9fff 230px,#8282ff 231px,#a9a9ff 233px,#b8b8ff 237px,#c2c2ff 238px,#b7b7ff 239px,#9898ff 240px,#b0b0ff 242px,#9f9fff 243px,#c9c9ff 246px,#bdbdff 248px,#bebeff 251px,#b7b7ff 253px,#c8c8ff 256px,#a8a8ff 258px,#a9a9ff 259px,#c0c0ff 260px,#b1b1ff 261px,#ccf 265px,#aeaeff 268px,#c2c2ff 270px,#bfbfff 275px,#d2d2ff 277px,#b9b9ff 282px,#d9d9ff 289px,#f3f3ff 307px)"></i><i style="top:119.94px;height:1.05px;background:linear-gradient(90deg,#f1f1ff 0,#f0f0ff 145px,#dcdcff 161px,#d4d4ff 166px,#d6d6ff 168px,#b5b5ff 170px,#d7d7ff 173px,#b1b1ff 175px,#ccf 177px,#bbf 178px,#c4c4ff 181px,#c2c2ff 184px,#acacff 185px,#b0b0ff 187px,#c8c8ff 189px,#b9b9ff 190px,#c6c6ff 192px,#acacff 193px,#bfbfff 198px,#d2d2ff 199px,#c8c8ff 200px,#acacff 201px,#9797ff 204px,#9d9dff 205px,#bebeff 206px,#9393ff 208px,#b3b3ff 209px,#8c8cff 214px,#b1b1ff 215px,#b5b5ff 216px,#8686ff 217px,#8c8cff 218px,#aaf 219px,#7a7aff 221px,#9191ff 222px,#9191ff 224px,#a6a6ff 225px,#9393ff 226px,#a3a3ff 227px,#9c9cff 229px,#acacff 230px,#9393ff 231px,#b8b8ff 234px,#cacaff 238px,#a5a5ff 240px,#b9b9ff 242px,#ababff 243px,#cfcfff 246px,#c4c4ff 248px,#c5c5ff 251px,#bebeff 253px,#c6c6ff 257px,#b1b1ff 258px,#b1b1ff 259px,#c6c6ff 260px,#b8b8ff 261px,#d0d0ff 265px,#b5b5ff 268px,#c5c5ff 271px,#c4c4ff 275px,#d6d6ff 277px,#bfbfff 282px,#e7e7ff 295px,#f3f3ff 307px)"></i><i style="top:120.94px;height:1.05px;background:linear-gradient(90deg,#f2f2ff 0,#efefff 146px,#dedeff 161px,#d9d9ff 168px,#bbf 170px,#dadaff 173px,#b8b8ff 175px,#d0d0ff 177px,#c1c1ff 178px,#cacaff 181px,#c8c8ff 184px,#b4b4ff 185px,#c6c6ff 188px,#cdcdff 189px,#c0c0ff 190px,#ccf 192px,#b5b5ff 193px,#c7c7ff 198px,#d8d8ff 199px,#b3b3ff 202px,#ababff 205px,#c7c7ff 206px,#a3a3ff 208px,#bebeff 209px,#9d9dff 214px,#bdbdff 215px,#c0c0ff 216px,#99f 217px,#9e9eff 218px,#b7b7ff 219px,#8f8fff 221px,#a2a2ff 222px,#a2a2ff 224px,#b4b4ff 225px,#a4a4ff 226px,#afafff 228px,#b8b8ff 230px,#a4a4ff 231px,#c3c3ff 234px,#d1d1ff 238px,#b2b2ff 240px,#c3c3ff 242px,#bcbcff 244px,#d5d5ff 246px,#c6c6ff 254px,#cdcdff 257px,#babaff 258px,#ccf 260px,#c6c6ff 262px,#d5d5ff 265px,#bebeff 268px,#cfcfff 273px,#d4d4ff 276px,#cfcfff 281px,#ceceff 283px,#eef 301px,#f4f4ff 307px)"></i><i style="top:121.94px;height:1.05px;background:linear-gradient(90deg,#f3f3ff 0,#eef 150px,#dcdcff 166px,#ddf 168px,#c3c3ff 170px,#dedeff 173px,#c0c0ff 175px,#d5d5ff 177px,#ccf 179px,#cfcfff 184px,#bebeff 185px,#d3d3ff 189px,#cdcdff 191px,#d3d3ff 192px,#bdbdff 194px,#ddf 199px,#b8b8ff 203px,#b8b8ff 205px,#d0d0ff 206px,#b2b2ff 208px,#c8c8ff 209px,#aeaeff 214px,#c8c8ff 215px,#cacaff 216px,#aaf 217px,#c3c3ff 219px,#a3a3ff 221px,#b2b2ff 222px,#b2b2ff 224px,#c0c0ff 225px,#b3b3ff 226px,#c4c4ff 230px,#b3b3ff 231px,#ccf 234px,#d2d2ff 239px,#bfbfff 240px,#cdcdff 242px,#c7c7ff 244px,#dcdcff 246px,#cfcfff 254px,#d4d4ff 257px,#c5c5ff 259px,#d3d3ff 260px,#cfcfff 263px,#d4d4ff 266px,#c7c7ff 268px,#d6d6ff 273px,#dadaff 280px,#d4d4ff 283px,#f4f4ff 307px)"></i><i style="top:122.94px;height:1.05px;background:linear-gradient(90deg,#f4f4ff 0,#efefff 154px,#e2e2ff 168px,#ccf 170px,#e3e3ff 173px,#cacaff 175px,#dbdbff 177px,#d4d4ff 179px,#d6d6ff 184px,#cbcbff 186px,#dadaff 189px,#dadaff 192px,#c8c8ff 194px,#ddf 200px,#c5c5ff 203px,#c5c5ff 205px,#d8d8ff 206px,#c0c0ff 208px,#d1d1ff 210px,#bdbdff 214px,#d2d2ff 215px,#d4d4ff 216px,#babaff 217px,#ceceff 219px,#b4b4ff 221px,#ccf 225px,#c2c2ff 226px,#cfcfff 230px,#c2c2ff 231px,#d6d6ff 235px,#dadaff 239px,#cbcbff 240px,#d9d9ff 245px,#dbdbff 257px,#cfcfff 259px,#dadaff 260px,#dedeff 264px,#d0d0ff 268px,#e0e0ff 280px,#ddf 284px,#f5f5ff 307px)"></i><i style="top:123.94px;height:1.05px;background:linear-gradient(90deg,#f4f4ff 0,#eef 158px,#ddf 169px,#dcdcff 171px,#e7e7ff 173px,#d3d3ff 175px,#e1e1ff 177px,#d5d5ff 187px,#e1e1ff 192px,#d7d7ff 195px,#e3e3ff 200px,#d1d1ff 205px,#dfdfff 206px,#cdcdff 208px,#dadaff 210px,#cbcbff 214px,#dcdcff 216px,#c9c9ff 217px,#d8d8ff 219px,#c4c4ff 221px,#d6d6ff 225px,#d3d3ff 232px,#e1e1ff 239px,#dbdbff 241px,#e2e2ff 251px,#e2e2ff 257px,#d8d8ff 259px,#dedeff 267px,#e1e1ff 281px,#f6f6ff 307px)"></i><i style="top:124.94px;height:1.05px;background:linear-gradient(90deg,#f5f5ff 0,#eef 160px,#e4e4ff 169px,#ebebff 173px,#e2e2ff 176px,#e4e4ff 188px,#e5e5ff 198px,#dbdbff 205px,#e0e0ff 207px,#d7d7ff 214px,#e4e4ff 216px,#d7d7ff 218px,#d8d8ff 220px,#e8e8ff 237px,#e7e7ff 245px,#e9e9ff 276px,#f6f6ff 307px)"></i><i style="top:125.94px;height:2.05px;background:linear-gradient(90deg,#f6f6ff 0,#f0f0ff 168px,#eaeaff 232px,#f7f7ff 307px)"></i><i style="top:127.94px;height:2.05px;background:linear-gradient(90deg,#f7f7ff 0,#f7f7ff 307px)"></i><i style="top:129.94px;height:2.05px;background:linear-gradient(90deg,#f8f8ff 0,#f8f8ff 307px)"></i><i style="top:131.94px;height:2.05px;background:linear-gradient(90deg,#f8f8ff 0,#fff9f9 174px,#fff7f7 198px,#fff0f0 205px,#fff8f8 216px,#fff0f0 218px,#fafaff 272px,#f8f8ff 307px)"></i><i style="top:133.94px;height:2.05px;background:linear-gradient(90deg,#f8f8ff 0,#fffbfb 168px,#fff4f4 171px,#fff1f1 174px,#ffeded 188px,#fff0f0 192px,#ffe7e7 195px,#fff3f3 200px,#ffe5e5 205px,#fff2f2 206px,#ffe4e4 208px,#ffeaea 211px,#ffe4e4 214px,#fff1f1 216px,#ffe5e5 218px,#fee 219px,#ffe0e0 221px,#fff0f0 230px,#fff5f5 239px,#fff5f5 245px,#f8f8ff 307px)"></i><i style="top:135.94px;height:3.05px;background:linear-gradient(90deg,#f8f8ff 0,#fff9f9 161px,#fee 169px,#ffecec 171px,#fff6f6 173px,#ffe2e2 175px,#ffefef 177px,#ffe6e6 184px,#ffdbdb 186px,#ffe8e8 189px,#ffe3e3 191px,#ffe7e7 192px,#ffd5d5 194px,#ffecec 200px,#ffd7d7 203px,#ffd8d8 205px,#ffeaea 206px,#ffd6d6 208px,#ffe5e5 210px,#ffd6d6 214px,#ffe9e9 216px,#ffd5d5 217px,#ffe5e5 219px,#ffd1d1 221px,#ffe5e5 225px,#ffe2e2 232px,#ffefef 239px,#ffe8e8 241px,#fff3f3 251px,#fafaff 287px,#f8f8ff 307px)"></i><i style="top:138.94px;height:3.05px;background:linear-gradient(90deg,#f8f8ff 0,#fff7f7 161px,#fff3f3 168px,#ffe1e1 170px,#fff3f3 173px,#ffdbdb 175px,#ffeaea 177px,#ffe2e2 179px,#ffe0e0 184px,#ffcfcf 185px,#ffe2e2 189px,#ffdbdb 191px,#ffe1e1 192px,#ffcaca 194px,#ffecec 199px,#ffcbcb 203px,#ffcdcd 205px,#ffe2e2 206px,#ffc9c9 208px,#fdd 209px,#ffc8c8 214px,#ffdede 215px,#ffe0e0 216px,#ffc6c6 217px,#ffdbdb 219px,#ffc1c1 221px,#ffdada 225px,#ffd1d1 226px,#ffdede 230px,#ffd6d6 232px,#ffeded 238px,#ffd8d8 240px,#ffe3e3 242px,#ffdede 244px,#ffefef 246px,#ffecec 254px,#fdfdff 278px,#f8f8ff 307px)"></i><i style="top:141.94px;height:4.05px;background:linear-gradient(90deg,#f8f8ff 0,#fff9f9 161px,#ffecec 169px,#ffebeb 171px,#fff5f5 173px,#ffdfdf 175px,#ffecec 177px,#ffe4e4 179px,#ffe1e1 184px,#ffd1d1 185px,#ffe2e2 189px,#ffdbdb 191px,#ffe1e1 192px,#ffc9c9 194px,#ffebeb 199px,#ffcdcd 202px,#ffc7c7 205px,#ffdfdf 206px,#ffc2c2 208px,#ffd8d8 209px,#ffbebe 214px,#ffd7d7 215px,#ffdada 216px,#fbb 217px,#ffd3d3 219px,#ffb3b3 221px,#ffc0c0 223px,#ffd0d0 225px,#ffc4c4 226px,#ffd4d4 230px,#ffc3c3 231px,#ffdbdb 234px,#ffdede 239px,#ffcbcb 240px,#ffd8d8 242px,#ffd2d2 244px,#ffe9e9 246px,#ffe4e4 254px,#ffeded 257px,#ffe6e6 259px,#fff7f7 267px,#f8f8ff 307px)"></i><i style="top:145.94px;height:3.05px;background:linear-gradient(90deg,#f9f9ff 0,#fffafa 168px,#fff2f2 171px,#fff9f9 173px,#ffe8e8 175px,#fff2f2 177px,#ffe8e8 184px,#ffdbdb 186px,#ffe7e7 189px,#ffe0e0 191px,#ffe5e5 192px,#ffcece 194px,#ffecec 199px,#ffc6c6 203px,#ffc6c6 205px,#ffdede 206px,#ffbfbf 208px,#ffd5d5 209px,#ffb7b7 214px,#ffd2d2 215px,#ffd4d4 216px,#ffb1b1 217px,#ffb4b4 218px,#ffcbcb 219px,#ffa5a5 221px,#ffb7b7 222px,#ffb6b6 224px,#ffc6c6 225px,#ffb7b7 226px,#ffc1c1 228px,#ffc9c9 230px,#ffb4b4 231px,#ffd1d1 234px,#ffdede 238px,#ffbcbc 240px,#ffcdcd 242px,#ffc0c0 243px,#ffe1e1 246px,#ffd8d8 248px,#ffdbdb 254px,#ffe6e6 257px,#ffdede 259px,#ffebeb 260px,#fdfdff 287px,#f8f8ff 307px)"></i><i style="top:148.94px;height:3.05px;background:linear-gradient(90deg,#f9f9ff 0,#fff8f8 169px,#fff3f3 174px,#ffecec 184px,#ffdede 187px,#ffeaea 189px,#ffe7e7 192px,#ffd1d1 194px,#ffecec 199px,#ffc5c5 203px,#ffc3c3 205px,#ffdcdc 206px,#ffbaba 208px,#ffd1d1 209px,#ffaeae 214px,#fcc 215px,#ffcece 216px,#ffa6a6 217px,#faa 218px,#ffc3c3 219px,#ff9797 221px,#ffabab 222px,#faa 224px,#ffbcbc 225px,#faa 226px,#ffb5b5 228px,#ffb0b0 229px,#ffbebe 230px,#ffa6a6 231px,#ffc7c7 234px,#ffd7d7 238px,#fcc 239px,#ffafaf 240px,#ffc3c3 242px,#ffb4b4 243px,#ffdbdb 246px,#ffd0d0 248px,#ffd4d4 251px,#ffd4d4 254px,#ffe1e1 257px,#ffd7d7 259px,#ffe6e6 260px,#ffefef 267px,#fdfdff 290px,#f8f8ff 307px)"></i><i style="top:151.94px;height:3.05px;background:linear-gradient(90deg,#f9f9ff 0,#fffafa 169px,#fff5f5 174px,#ffeded 184px,#ffdfdf 187px,#ffeaea 189px,#ffe6e6 192px,#ffd0d0 194px,#ffeaea 199px,#ffc0c0 203px,#ffbebe 205px,#ffd8d8 206px,#ffb3b3 208px,#fcc 209px,#ffa4a4 214px,#ffc5c5 215px,#ffc7c7 216px,#f99 217px,#ff9d9d 218px,#ffbaba 219px,#ff8787 221px,#ff9d9d 222px,#ff9b9b 224px,#ffb0b0 225px,#ff9c9c 226px,#ffacac 227px,#ffa2a2 229px,#ffb3b3 230px,#ff9797 231px,#fbb 233px,#ffc5c5 237px,#ffd0d0 238px,#ffc3c3 239px,#ffa2a2 240px,#ffbaba 242px,#ffa8a8 243px,#ffd5d5 246px,#ffc9c9 248px,#ffcece 251px,#ffcbcb 253px,#ffdcdc 257px,#ffcdcd 258px,#ffe2e2 260px,#ffe5e5 263px,#ffeded 267px,#fdfdff 289px,#f9f9ff 307px)"></i><i style="top:154.94px;height:4.05px;background:linear-gradient(90deg,#f9f9ff 0,#fffdfd 173px,#fff4f4 176px,#ffecec 184px,#ffdede 187px,#ffe9e9 189px,#ffe1e1 191px,#ffe5e5 192px,#ffcdcd 194px,#ffe8e8 199px,#ffc3c3 202px,#ffb7b7 205px,#ffd4d4 206px,#ffabab 208px,#ffc6c6 209px,#ff9898 214px,#ffbdbd 215px,#ffbfbf 216px,#ff8b8b 217px,#ff9090 218px,#ffb0b0 219px,#ff7676 221px,#ff8f8f 222px,#ff8d8d 224px,#ffa4a4 225px,#ff8d8d 226px,#ff9f9f 227px,#ff9595 229px,#ffa8a8 230px,#f88 231px,#ff9393 232px,#ffb1b1 233px,#ffbdbd 237px,#ffc9c9 238px,#fbb 239px,#ff9696 240px,#ffb1b1 242px,#ff9d9d 243px,#ffcfcf 246px,#ffc2c2 248px,#ffc8c8 250px,#ffc5c5 253px,#ffd8d8 257px,#ffc8c8 258px,#ffdfdf 260px,#ffe2e2 263px,#ffecec 266px,#fdfdff 291px,#f9f9ff 307px)"></i><i style="top:158.94px;height:4.05px;background:linear-gradient(90deg,#f9f9ff 0,#fffdfd 173px,#fff4f4 176px,#ffecec 184px,#fdd 187px,#ffe8e8 189px,#ffe0e0 191px,#ffe4e4 192px,#ffcbcb 194px,#ffe8e8 199px,#ffc1c1 202px,#ffb4b4 205px,#ffd2d2 206px,#ffa6a6 208px,#ffc3c3 209px,#ff9292 214px,#ffb9b9 215px,#fbb 216px,#ff8484 217px,#ff8989 218px,#faa 219px,#ff6d6d 221px,#f88 222px,#ff8585 224px,#ff9e9e 225px,#ff8585 226px,#f99 227px,#ff8d8d 229px,#ffa2a2 230px,#ff8080 231px,#ff8c8c 232px,#ffabab 233px,#ffb9b9 237px,#ffc5c5 238px,#ffb7b7 239px,#ff9090 240px,#ffadad 242px,#ff9898 243px,#ffb7b7 245px,#ffcdcd 246px,#ffc0c0 248px,#fcc 249px,#ffbaba 252px,#ffdbdb 256px,#ffc6c6 258px,#ffdede 260px,#ffe1e1 263px,#ffebeb 266px,#fdfdff 291px,#f9f9ff 307px)"></i><i style="top:162.94px;height:4.05px;background:linear-gradient(90deg,#f9f9ff 0,#fff6f6 174px,#ffeded 184px,#ffdfdf 187px,#ffeaea 189px,#ffe6e6 192px,#ffcece 194px,#ffe9e9 199px,#ffc4c4 202px,#ffb8b8 205px,#ffd4d4 206px,#ffabab 208px,#ffc6c6 209px,#ff9898 214px,#ffbdbd 215px,#ffbfbf 216px,#ff8b8b 217px,#ff8f8f 218px,#ffafaf 219px,#ff7575 221px,#ff8e8e 222px,#ff8c8c 224px,#ffa3a3 225px,#ff8c8c 226px,#ff9e9e 227px,#ff9393 229px,#ffa7a7 230px,#ff8787 231px,#ff9292 232px,#ffb0b0 233px,#ffbdbd 237px,#ffc9c9 238px,#fbb 239px,#ff9696 240px,#ffb1b1 242px,#ff9d9d 243px,#ffd0d0 246px,#ffc3c3 248px,#ffc8c8 250px,#ffc6c6 253px,#ffd9d9 257px,#ffc9c9 258px,#ffe0e0 260px,#ffe3e3 263px,#ffeded 266px,#fcfcff 291px,#f9f9ff 307px)"></i><i style="top:166.94px;height:2.05px;background:linear-gradient(90deg,#f9f9ff 0,#fff7f7 174px,#ffefef 184px,#ffe2e2 187px,#ffecec 189px,#ffe8e8 192px,#ffd3d3 194px,#ffecec 199px,#ffc2c2 203px,#ffbfbf 205px,#ffd9d9 206px,#ffb4b4 208px,#ffcdcd 209px,#ffa3a3 214px,#ffc4c4 215px,#ffc6c6 216px,#ff9797 217px,#ff9b9b 218px,#ffb8b8 219px,#ff8484 221px,#ff9b9b 222px,#f99 224px,#ffaeae 225px,#f99 226px,#ffa9a9 227px,#ff9f9f 229px,#ffb1b1 230px,#ff9494 231px,#ffb9b9 233px,#ffc4c4 237px,#ffcfcf 238px,#ffc2c2 239px,#ffa1a1 240px,#ffb9b9 242px,#ffa7a7 243px,#ffd5d5 246px,#ffc9c9 248px,#ffcece 251px,#ffcbcb 253px,#fdd 257px,#ffcece 258px,#ffe3e3 260px,#ffe6e6 263px,#ffeded 267px,#fdfdff 290px,#f9f9ff 307px)"></i><i style="top:168.94px;height:2.05px;background:linear-gradient(90deg,#f9f9ff 0,#fbfbff 161px,#fff8f8 174px,#ffebeb 188px,#ffebeb 192px,#ffd7d7 194px,#fee 199px,#ffc8c8 203px,#ffc6c6 205px,#fdd 206px,#fbb 208px,#ffd2d2 209px,#ffacac 214px,#ffcaca 215px,#fcc 216px,#ffa2a2 217px,#ffa6a6 218px,#ffc0c0 219px,#ff9191 221px,#ffa6a6 222px,#ffa4a4 224px,#ffb7b7 225px,#ffa4a4 226px,#ffafaf 228px,#faa 229px,#ffbaba 230px,#ffa0a0 231px,#ffc3c3 234px,#ffcbcb 237px,#ffd4d4 238px,#ffc9c9 239px,#ffabab 240px,#ffc0c0 242px,#ffb0b0 243px,#ffd9d9 246px,#ffcece 248px,#ffd3d3 251px,#ffd0d0 253px,#ffe0e0 257px,#ffd6d6 259px,#ffe6e6 260px,#ffefef 267px,#fdfdff 290px,#f8f8ff 307px)"></i><i style="top:170.94px;height:2.05px;background:linear-gradient(90deg,#f9f9ff 0,#efefff 140px,#e7e7ff 148px,#fffafa 174px,#fee 188px,#ffeded 192px,#ffdcdc 194px,#ffeaea 200px,#ffcece 203px,#fcc 205px,#ffe1e1 206px,#ffc3c3 208px,#ffd8d8 209px,#ffb7b7 214px,#ffd1d1 215px,#ffd3d3 216px,#ffaeae 217px,#ffb1b1 218px,#ffc8c8 219px,#ffa0a0 221px,#ffb1b1 222px,#ffb0b0 224px,#ffc1c1 225px,#ffb0b0 226px,#ffbaba 228px,#ffb5b5 229px,#ffc3c3 230px,#ffacac 231px,#ffcbcb 234px,#ffdada 238px,#ffb5b5 240px,#ffc8c8 242px,#ffb9b9 243px,#ffdede 246px,#ffd4d4 248px,#ffd8d8 251px,#ffd8d8 254px,#ffe4e4 257px,#ffdbdb 259px,#ffe9e9 260px,#fdfdff 287px,#f8f8ff 307px)"></i><i style="top:172.94px;height:1.05px;background:linear-gradient(90deg,#f9f9ff 0,#efefff 133px,#e7e7ff 140px,#d0d0ff 147px,#e1e1ff 149px,#e7e7ff 153px,#fffbfb 174px,#ffefef 192px,#ffe2e2 195px,#ffeded 200px,#ffcfcf 204px,#ffe5e5 206px,#ffcaca 208px,#ffdcdc 209px,#ffbfbf 214px,#ffd7d7 215px,#ffd8d8 216px,#ffb7b7 217px,#ffcfcf 219px,#faa 221px,#ffbaba 222px,#ffb9b9 224px,#ffc8c8 225px,#ffb9b9 226px,#ffc2c2 228px,#ffcaca 230px,#ffb5b5 231px,#ffd1d1 234px,#ffdede 238px,#ffbdbd 240px,#ffcece 242px,#ffc1c1 243px,#ffe2e2 246px,#ffd9d9 248px,#ffdcdc 254px,#ffe7e7 257px,#ffdede 259px,#ffebeb 260px,#fdfdff 287px,#f8f8ff 307px)"></i><i style="top:173.94px;height:2.05px;background:linear-gradient(90deg,#f9f9ff 0,#f0f0ff 132px,#dedeff 138px,#e0e0ff 140px,#cbcbff 143px,#c0c0ff 147px,#d8d8ff 149px,#d6d6ff 152px,#fbfbff 166px,#fff6f6 184px,#fff2f2 192px,#ffe6e6 195px,#ffefef 200px,#ffd4d4 204px,#ffe8e8 206px,#ffd0d0 208px,#ffdfdf 210px,#ffc6c6 214px,#ffdcdc 215px,#fdd 216px,#ffc0c0 217px,#ffd5d5 219px,#ffb4b4 221px,#ffc0c0 223px,#ffcfcf 225px,#ffc1c1 226px,#ffd0d0 230px,#ffbebe 231px,#ffd7d7 234px,#ffdada 239px,#ffc4c4 240px,#ffd4d4 242px,#fcc 244px,#ffe5e5 246px,#ffe0e0 254px,#ffeaea 257px,#ffe2e2 259px,#fff6f6 266px,#f8f8ff 307px)"></i><i style="top:175.94px;height:2.05px;background:linear-gradient(90deg,#f8f8ff 0,#f0f0ff 132px,#ddf 138px,#e0e0ff 140px,#cbcbff 143px,#c0c0ff 147px,#d8d8ff 149px,#d6d6ff 152px,#fafaff 166px,#fff8f8 184px,#ffeaea 193px,#fff2f2 200px,#ffdede 205px,#ffecec 206px,#ffd8d8 208px,#ffe5e5 210px,#ffd0d0 214px,#ffe3e3 216px,#ffcbcb 217px,#ffdcdc 219px,#ffc1c1 221px,#ffd7d7 225px,#fcc 226px,#ffd9d9 230px,#ffc9c9 231px,#ffdede 234px,#ffe1e1 239px,#ffcece 240px,#ffdbdb 242px,#ffd5d5 244px,#ffeaea 246px,#ffe5e5 254px,#fee 257px,#ffe7e7 259px,#fff7f7 267px,#f8f8ff 307px)"></i><i style="top:177.94px;height:1.05px;background:linear-gradient(90deg,#f8f8ff 0,#f0f0ff 132px,#e6e6ff 140px,#d0d0ff 147px,#e1e1ff 149px,#e6e6ff 153px,#fff 177px,#ffefef 197px,#fff5f5 200px,#ffe3e3 205px,#ffefef 206px,#fdd 208px,#ffe9e9 210px,#ffd7d7 214px,#ffe8e8 216px,#ffd2d2 217px,#ffe2e2 219px,#ffcaca 221px,#fdd 225px,#ffd7d7 229px,#ffdfdf 230px,#ffd6d6 232px,#ffe3e3 235px,#ffe5e5 239px,#ffd5d5 240px,#ffe0e0 242px,#ffdbdb 244px,#ffeded 246px,#ffe9e9 254px,#fff0f0 257px,#fff5f5 263px,#f8f8ff 307px)"></i><i style="top:178.94px;height:2.05px;background:linear-gradient(90deg,#f8f8ff 0,#eef 121px,#e7e7ff 144px,#fffdfd 181px,#fff4f4 198px,#ffe7e7 205px,#fff2f2 206px,#ffe3e3 208px,#ffeded 210px,#fdd 214px,#ffecec 216px,#ffd9d9 217px,#ffe7e7 219px,#ffd2d2 221px,#ffe3e3 225px,#ffe4e4 230px,#ffdcdc 232px,#ffeaea 239px,#ffdbdb 240px,#ffe8e8 245px,#fff3f3 257px,#f9f9ff 293px,#f8f8ff 307px)"></i><i style="top:180.94px;height:1.05px;background:linear-gradient(90deg,#f8f8ff 0,#efefff 114px,#e4e4ff 124px,#d4d4ff 125px,#e0e0ff 128px,#f8f8ff 160px,#fffafa 192px,#fff9f9 200px,#ffebeb 205px,#ffefef 207px,#ffe3e3 214px,#ffefef 216px,#ffe1e1 218px,#ffebeb 219px,#ffd9d9 221px,#ffe5e5 228px,#ffe2e2 232px,#fee 239px,#ffe6e6 241px,#fff0f0 251px,#fbfbff 284px,#f8f8ff 307px)"></i><i style="top:181.94px;height:4.05px;background:linear-gradient(90deg,#f8f8ff 0,#f1f1ff 111px,#e4e4ff 120px,#dadaff 123px,#ddf 124px,#c5c5ff 125px,#dcdcff 127px,#d4d4ff 130px,#f0f0ff 141px,#fff8f8 193px,#fff4f4 202px,#ffebeb 214px,#fff5f5 216px,#ffe9e9 218px,#ffe9e9 220px,#fff4f4 237px,#ffeded 244px,#fff5f5 251px,#f8f8ff 307px)"></i><i style="top:185.94px;height:1.05px;background:linear-gradient(90deg,#f8f8ff 0,#eef 115px,#e7e7ff 124px,#d9d9ff 125px,#e4e4ff 128px,#f9f9ff 159px,#fff9f9 207px,#fff1f1 224px,#fff8f8 239px,#f8f8ff 307px)"></i><i style="top:186.94px;height:2.05px;background:linear-gradient(90deg,#f8f8ff 0,#f1f1ff 124px,#fff8f8 212px,#f8f8ff 307px)"></i><i style="top:188.94px;height:4.05px;background:linear-gradient(90deg,#f8f8ff 0,#f8f8ff 307px)"></i><i style="top:192.94px;height:1.05px;background:linear-gradient(90deg,#f8f8ff 0,#f6f6ff 248px,#f8f8ff 307px)"></i><i style="top:193.94px;height:1.05px;background:linear-gradient(90deg,#f8f8ff 0,#f6f6ff 244px,#e0e0ff 254px,#f9f9ff 274px,#f8f8ff 307px)"></i><i style="top:194.94px;height:2.05px;background:linear-gradient(90deg,#f8f8ff 0,#f7f7ff 242px,#d3d3ff 254px,#ddf 257px,#dbdbff 259px,#f7f7ff 268px,#f8f8ff 307px)"></i><i style="top:196.94px;height:1.05px;background:linear-gradient(90deg,#f8f8ff 0,#f7f7ff 244px,#e2e2ff 254px,#f8f8ff 276px,#f8f8ff 307px)"></i><i style="top:197.94px;height:1.05px;background:linear-gradient(90deg,#f8f8ff 0,#fffefe 237px,#f9f9ff 269px,#f8f8ff 307px)"></i><i style="top:198.94px;height:1.05px;background:linear-gradient(90deg,#f8f8ff 0,#fff6f6 212px,#ffeded 220px,#fff4f4 236px,#f9f9ff 274px,#f8f8ff 307px)"></i><i style="top:199.94px;height:1.05px;background:linear-gradient(90deg,#f8f8ff 0,#fff7f7 203px,#ffe9e9 213px,#ffefef 216px,#fdd 217px,#ffe8e8 219px,#ffd2d2 221px,#ffe1e1 225px,#ffd9d9 229px,#ffe1e1 230px,#ffd8d8 232px,#ffefef 238px,#ffdcdc 240px,#fff6f6 249px,#f8f8ff 307px)"></i><i style="top:200.94px;height:1.05px;background:linear-gradient(90deg,#f8f8ff 0,#fffcfc 200px,#ffebeb 205px,#ffecec 207px,#ffe3e3 208px,#ffeaea 210px,#ffd1d1 214px,#ffe2e2 216px,#ffc7c7 217px,#ffd7d7 219px,#ffb6b6 221px,#ffbebe 223px,#fcc 225px,#ffbebe 226px,#ffc5c5 228px,#ffcdcd 230px,#ffb9b9 231px,#ffd4d4 234px,#ffdbdb 239px,#ffc6c6 240px,#ffd7d7 242px,#ffd3d3 244px,#ffebeb 246px,#fff6f6 255px,#f8f8ff 307px)"></i><i style="top:201.94px;height:1.05px;background:linear-gradient(90deg,#f8f8ff 0,#fff9f9 200px,#ffe3e3 205px,#ffefef 206px,#ffd7d7 208px,#ffe2e2 210px,#ffc1c1 214px,#ffd7d7 215px,#ffd7d7 216px,#ffb2b2 217px,#ffb3b3 218px,#ffc8c8 219px,#ff9c9c 221px,#ffadad 222px,#ffa9a9 224px,#ffbaba 225px,#ffa7a7 226px,#ffb1b1 228px,#ffabab 229px,#ffbaba 230px,#ffa0a0 231px,#ffc4c4 234px,#ffd6d6 238px,#ffb2b2 240px,#ffc8c8 242px,#ffbcbc 243px,#ffe2e2 246px,#fdd 248px,#fff4f4 257px,#f9f9ff 276px,#f8f8ff 307px)"></i><i style="top:202.94px;height:2.05px;background:linear-gradient(90deg,#f8f8ff 0,#fff8f8 200px,#ffe0e0 205px,#ffecec 206px,#ffd3d3 208px,#ffdede 210px,#ffbaba 214px,#ffd2d2 215px,#ffd2d2 216px,#faa 217px,#ffabab 218px,#ffc2c2 219px,#ff9191 221px,#ffa4a4 222px,#ff9f9f 224px,#ffb2b2 225px,#ff9d9d 226px,#ffacac 227px,#ffa2a2 229px,#ffb2b2 230px,#ff9696 231px,#ffbaba 233px,#ffc7c7 237px,#ffd2d2 238px,#ffc7c7 239px,#ffa9a9 240px,#ffc2c2 242px,#ffb4b4 243px,#ffdfdf 246px,#ffd9d9 248px,#fee 255px,#fbfbff 270px,#f8f8ff 307px)"></i><i style="top:204.94px;height:1.05px;background:linear-gradient(90deg,#f8f8ff 0,#fffbfb 200px,#ffe8e8 205px,#fff2f2 206px,#ffdede 208px,#ffe6e6 210px,#ffcaca 214px,#fdd 215px,#fdd 216px,#ffbdbd 217px,#ffd0d0 219px,#ffa9a9 221px,#ffb8b8 222px,#ffb4b4 224px,#ffc4c4 225px,#ffb3b3 226px,#fbb 228px,#ffb6b6 229px,#ffc4c4 230px,#ffadad 231px,#ffcdcd 234px,#fdd 238px,#ffbcbc 240px,#ffd0d0 242px,#ffcbcb 244px,#ffe7e7 246px,#ffeded 254px,#fbfbff 269px,#f8f8ff 307px)"></i><i style="top:205.94px;height:1.05px;background:linear-gradient(90deg,#f8f8ff 0,#fff7f7 202px,#fff2f2 207px,#ffdcdc 214px,#ffeaea 216px,#ffd4d4 217px,#ffe1e1 219px,#ffc6c6 221px,#ffd8d8 225px,#ffcdcd 226px,#ffd8d8 230px,#ffc9c9 231px,#ffdfdf 235px,#ffe4e4 239px,#ffd4d4 240px,#ffe1e1 242px,#ffdede 244px,#fff1f1 246px,#fafaff 271px,#f8f8ff 307px)"></i><i style="top:206.94px;height:1.05px;background:linear-gradient(90deg,#f8f8ff 0,#fff6f6 211px,#fff6f6 216px,#ffe9e9 218px,#ffe8e8 220px,#ffe6e6 232px,#fff2f2 239px,#ffefef 244px,#fff 259px,#f8f8ff 307px)"></i><i style="top:207.94px;height:2.05px;background:linear-gradient(90deg,#f8f8ff 0,#f8f8ff 307px)"></i><i style="top:209.94px;height:1.05px;background:linear-gradient(90deg,#f8f8ff 0,#f7f7ff 262px,#f8f8ff 307px)"></i><i style="top:210.94px;height:1.05px;background:linear-gradient(90deg,#f8f8ff 0,#eef 203px,#eaeaff 216px,#e0e0ff 218px,#e7e7ff 239px,#e7e7ff 245px,#f8f8ff 294px,#f8f8ff 307px)"></i><i style="top:211.94px;height:1.05px;background:linear-gradient(90deg,#f8f8ff 0,#f0f0ff 200px,#e0e0ff 205px,#e0e0ff 207px,#cacaff 214px,#dadaff 216px,#c4c4ff 217px,#d3d3ff 219px,#babaff 221px,#ceceff 225px,#c7c7ff 229px,#cfcfff 230px,#c0c0ff 231px,#d2d2ff 235px,#d4d4ff 239px,#c2c2ff 240px,#cfcfff 242px,#cacaff 244px,#dfdfff 246px,#eaeaff 255px,#f8f8ff 297px,#f8f8ff 307px)"></i><i style="top:212.94px;height:1.05px;background:linear-gradient(90deg,#f8f8ff 0,#f0f0ff 193px,#e9e9ff 200px,#cbcbff 205px,#dadaff 206px,#bcbcff 208px,#ccf 209px,#a4a4ff 214px,#bfbfff 215px,#c0c0ff 216px,#9898ff 217px,#9b9bff 218px,#b4b4ff 219px,#8787ff 221px,#9a9aff 222px,#99f 224px,#ababff 225px,#9898ff 226px,#a3a3ff 228px,#9d9dff 229px,#acacff 230px,#9292ff 231px,#b3b3ff 234px,#b9b9ff 237px,#c2c2ff 238px,#b6b6ff 239px,#9595ff 240px,#adadff 242px,#9c9cff 243px,#cacaff 246px,#c2c2ff 248px,#cdcdff 251px,#d4d4ff 254px,#e4e4ff 257px,#f8f8ff 276px,#f8f8ff 307px)"></i><i style="top:213.94px;height:1.05px;background:linear-gradient(90deg,#f8f8ff 0,#f1f1ff 192px,#e0e0ff 200px,#b0b0ff 205px,#c7c7ff 206px,#9797ff 208px,#b1b1ff 209px,#7070ff 214px,#9d9dff 215px,#9f9fff 216px,#5d5dff 217px,#6262ff 218px,#8a8aff 219px,#4141ff 221px,#6161ff 222px,#5e5eff 224px,#7c7cff 225px,#5e5eff 226px,#7575ff 227px,#66f 229px,#7e7eff 230px,#5353ff 231px,#6060ff 232px,#8585ff 233px,#8585ff 236px,#a1a1ff 238px,#8e8eff 239px,#5959ff 240px,#7f7fff 242px,#6464ff 243px,#7070ff 244px,#aeaeff 246px,#9c9cff 247px,#b3b3ff 249px,#aaf 252px,#d7d7ff 256px,#d7d7ff 259px,#f3f3ff 265px,#f8f8ff 307px)"></i><i style="top:214.94px;height:1.05px;background:linear-gradient(90deg,#f8f8ff 0,#eef 192px,#d9d9ff 198px,#d7d7ff 200px,#a2a2ff 203px,#9292ff 205px,#b3b3ff 206px,#6f6fff 208px,#9595ff 209px,#8e8eff 210px,#3939ff 214px,#77f 215px,#7a7aff 216px,#1d1dff 217px,#2424ff 218px,#5d5dff 219px,#2121ff 220px,#0000f8 221px,#2424ff 222px,#1f1fff 224px,#4949ff 225px,#1f1fff 226px,#3f3fff 227px,#2a2aff 229px,#4b4bff 230px,#0f0fff 231px,#22f 232px,#5656ff 233px,#5656ff 236px,#7e7eff 238px,#6262ff 239px,#1818ff 240px,#4d4dff 242px,#2727ff 243px,#3838ff 244px,#9090ff 246px,#77f 247px,#9696ff 249px,#8a8aff 252px,#cacaff 256px,#c0c0ff 258px,#dcdcff 260px,#f6f6ff 271px,#f8f8ff 307px)"></i><i style="top:215.94px;height:1.05px;background:linear-gradient(90deg,#f8f8ff 0,#eef 190px,#d2d2ff 198px,#dbdbff 199px,#cfcfff 200px,#aeaeff 201px,#7c7cff 204px,#7a7aff 205px,#a3a3ff 206px,#4f4fff 208px,#7d7dff 209px,#7575ff 210px,#0b0bff 214px,#5959ff 215px,#5c5cff 216px,#0000ef 217px,#0000f5 218px,#3939ff 219px,#0000f3 220px,#0000ce 221px,#0000f5 222px,#0000f1 224px,#2020ff 225px,#0000f1 226px,#1313ff 227px,#0000fa 229px,#2323ff 230px,#0000e3 231px,#0000f3 232px,#3030ff 233px,#3030ff 236px,#6161ff 238px,#3e3eff 239px,#0000ea 240px,#0808ff 241px,#2525ff 242px,#0000f8 243px,#0b0bff 244px,#77f 246px,#5858ff 247px,#6161ff 248px,#7f7fff 249px,#7e7eff 251px,#7070ff 252px,#bfbfff 256px,#b2b2ff 258px,#d6d6ff 260px,#f4f4ff 269px,#f8f8ff 307px)"></i><i style="top:216.94px;height:1.05px;background:linear-gradient(90deg,#f8f8ff 0,#f2f2ff 189px,#cfcfff 198px,#d9d9ff 199px,#ccf 200px,#a8a8ff 201px,#7171ff 204px,#7070ff 205px,#9c9cff 206px,#4040ff 208px,#7373ff 209px,#6a6aff 210px,#2c2cff 212px,#0000f9 214px,#4b4bff 215px,#4f4fff 216px,#0000df 217px,#0000e6 218px,#2828ff 219px,#0000e3 220px,#00b 221px,#0000e5 222px,#0000e1 224px,#0e0eff 225px,#0000e1 226px,#00f 227px,#0000eb 229px,#11f 230px,#0000d2 231px,#0000e3 232px,#1f1fff 233px,#1f1fff 236px,#5454ff 238px,#2f2fff 239px,#0000da 240px,#0000f6 241px,#1313ff 242px,#0000e8 243px,#0000f9 244px,#6c6cff 246px,#4b4bff 247px,#5454ff 248px,#7575ff 249px,#7474ff 251px,#6565ff 252px,#babaff 256px,#adadff 258px,#d3d3ff 260px,#f1f1ff 268px,#f8f8ff 307px)"></i><i style="top:217.94px;height:1.05px;background:linear-gradient(90deg,#f8f8ff 0,#f2f2ff 189px,#d1d1ff 198px,#dadaff 199px,#ceceff 200px,#acacff 201px,#7878ff 204px,#7676ff 205px,#a0a0ff 206px,#4949ff 208px,#7979ff 209px,#7171ff 210px,#3636ff 212px,#0404ff 214px,#5454ff 215px,#5757ff 216px,#0000e9 217px,#0000ef 218px,#33f 219px,#0000ed 220px,#0000c7 221px,#0000ef 222px,#0000eb 224px,#1919ff 225px,#0000eb 226px,#0c0cff 227px,#0000f5 229px,#1c1cff 230px,#00d 231px,#0000ed 232px,#2a2aff 233px,#2a2aff 236px,#5c5cff 238px,#3939ff 239px,#0000e4 240px,#0101ff 241px,#1e1eff 242px,#0000f2 243px,#0404ff 244px,#7373ff 246px,#5353ff 247px,#5c5cff 248px,#7b7bff 249px,#7a7aff 251px,#6c6cff 252px,#bdbdff 256px,#b0b0ff 258px,#d5d5ff 260px,#f4f4ff 269px,#f8f8ff 307px)"></i><i style="top:218.94px;height:1.05px;background:linear-gradient(90deg,#f8f8ff 0,#eef 191px,#d7d7ff 198px,#dfdfff 199px,#8d8dff 204px,#8c8cff 205px,#afafff 206px,#66f 208px,#8e8eff 209px,#8787ff 210px,#2c2cff 214px,#6f6fff 215px,#7272ff 216px,#1010ff 217px,#1717ff 218px,#5353ff 219px,#1414ff 220px,#0000ed 221px,#1616ff 222px,#1212ff 224px,#3e3eff 225px,#11f 226px,#33f 227px,#1d1dff 229px,#4040ff 230px,#0101ff 231px,#1414ff 232px,#4c4cff 233px,#4c4cff 236px,#7676ff 238px,#5858ff 239px,#0909ff 240px,#4242ff 242px,#1919ff 243px,#2c2cff 244px,#8989ff 246px,#6f6fff 247px,#7676ff 248px,#9090ff 249px,#8383ff 252px,#c7c7ff 256px,#bcbcff 258px,#dbdbff 260px,#f6f6ff 270px,#f8f8ff 307px)"></i><i style="top:219.94px;height:1.05px;background:linear-gradient(90deg,#f8f8ff 0,#f0f0ff 192px,#dedeff 200px,#aaf 204px,#a9a9ff 205px,#c2c2ff 206px,#8d8dff 208px,#ababff 209px,#77f 213px,#6363ff 214px,#9494ff 215px,#9696ff 216px,#4e4eff 217px,#5353ff 218px,#8080ff 219px,#3030ff 221px,#5353ff 222px,#4f4fff 224px,#7070ff 225px,#4f4fff 226px,#6868ff 227px,#5858ff 229px,#7272ff 230px,#4343ff 231px,#5151ff 232px,#7a7aff 233px,#7a7aff 236px,#99f 238px,#8383ff 239px,#4949ff 240px,#7373ff 242px,#55f 243px,#6363ff 244px,#a7a7ff 246px,#9393ff 247px,#acacff 249px,#a2a2ff 252px,#d4d4ff 256px,#d4d4ff 259px,#ebebff 263px,#f8f8ff 303px,#f8f8ff 307px)"></i><i style="top:220.94px;height:1.05px;background:linear-gradient(90deg,#f8f8ff 0,#efefff 193px,#e7e7ff 200px,#c5c5ff 205px,#d6d6ff 206px,#b4b4ff 208px,#c6c6ff 209px,#9898ff 214px,#b8b8ff 215px,#b9b9ff 216px,#8b8bff 217px,#8e8eff 218px,#ababff 219px,#77f 221px,#8e8eff 222px,#8c8cff 224px,#a1a1ff 225px,#8c8cff 226px,#9c9cff 227px,#9191ff 229px,#a2a2ff 230px,#8484ff 231px,#a7a7ff 233px,#b0b0ff 237px,#bbf 238px,#adadff 239px,#88f 240px,#a3a3ff 242px,#9090ff 243px,#c4c4ff 246px,#bbf 248px,#c7c7ff 251px,#cfcfff 254px,#e1e1ff 257px,#f8f8ff 274px,#f8f8ff 307px)"></i><i style="top:221.94px;height:0.21px;background:linear-gradient(90deg,#f8f8ff 0,#eef 196px,#dfdfff 202px,#d4d4ff 205px,#dfdfff 206px,#c7c7ff 208px,#d2d2ff 210px,#b3b3ff 214px,#cacaff 215px,#cbcbff 216px,#aaf 217px,#acacff 218px,#c1c1ff 219px,#9c9cff 221px,#acacff 222px,#aaf 224px,#babaff 225px,#aaf 226px,#b3b3ff 228px,#babaff 230px,#a5a5ff 231px,#c0c0ff 234px,#ccf 238px,#a8a8ff 240px,#bbf 242px,#adadff 243px,#d3d3ff 246px,#ccf 248px,#e3e3ff 255px,#f8f8ff 277px,#f8f8ff 307px)"></i></div>
<div class="hm" style="left:62.3px;width:306px"><i style="top:295.05px;height:4.05px;background:linear-gradient(90deg,#f1f1ff 0,#f0f0ff 148px,#e0e0ff 164px,#e8e8ff 166px,#d8d8ff 167px,#e5e5ff 169px,#d1d1ff 172px,#c9c9ff 177px,#bcbcff 183px,#a5a5ff 185px,#b9b9ff 186px,#a1a1ff 187px,#9f9fff 189px,#8787ff 191px,#8b8bff 193px,#6161ff 194px,#44f 196px,#2424ff 197px,#6969ff 198px,#4545ff 199px,#4848ff 200px,#2e2eff 201px,#3030ff 205px,#0101ff 207px,#0000fe 208px,#0000db 209px,#0000df 210px,#0101ff 211px,#0000e8 212px,#0000fe 214px,#0000f0 215px,#00b 216px,#0000a9 217px,#0000d9 218px,#0000f7 219px,#0000db 220px,#0000d4 221px,#1d1dff 222px,#5151ff 223px,#6d6dff 224px,#6868ff 225px,#2424ff 226px,#0000b1 227px,#0000ac 228px,#0000ed 229px,#2020ff 230px,#5858ff 231px,#6969ff 232px,#4b4bff 233px,#8989ff 235px,#4646ff 237px,#5757ff 238px,#5454ff 239px,#7474ff 240px,#7878ff 241px,#5a5aff 243px,#6969ff 245px,#9393ff 247px,#aaf 250px,#9494ff 251px,#a2a2ff 253px,#9898ff 254px,#bfbfff 257px,#a7a7ff 260px,#c6c6ff 263px,#c3c3ff 266px,#d7d7ff 267px,#c3c3ff 269px,#d2d2ff 270px,#c1c1ff 272px,#dadaff 277px,#dbdbff 280px,#f2f2ff 306px)"></i><i style="top:299.05px;height:2.05px;background:linear-gradient(90deg,#f2f2ff 0,#efefff 153px,#e2e2ff 164px,#e9e9ff 166px,#dadaff 167px,#e7e7ff 169px,#d4d4ff 172px,#cdcdff 177px,#c1c1ff 183px,#ababff 185px,#bebeff 186px,#a8a8ff 187px,#a5a5ff 189px,#8e8eff 191px,#9292ff 193px,#6a6aff 194px,#4e4eff 196px,#2f2fff 197px,#7070ff 198px,#4e4eff 199px,#5151ff 200px,#3838ff 201px,#3838ff 205px,#0a0aff 207px,#0909ff 208px,#0000e3 209px,#0000e7 210px,#0909ff 211px,#0000ef 212px,#0707ff 214px,#0000f7 215px,#0000c4 216px,#0000b3 217px,#0000e2 218px,#0101fe 219px,#0000e3 220px,#0000dc 221px,#2525ff 222px,#5757ff 223px,#7272ff 224px,#6d6dff 225px,#2c2cff 226px,#00b 227px,#0000b7 228px,#0000f5 229px,#6060ff 231px,#7171ff 232px,#55f 233px,#9090ff 235px,#5252ff 237px,#6262ff 238px,#5f5fff 239px,#7e7eff 240px,#8181ff 241px,#6767ff 243px,#7575ff 245px,#9c9cff 247px,#b0b0ff 250px,#9d9dff 251px,#aaf 253px,#a9a9ff 255px,#c5c5ff 257px,#afafff 260px,#cbcbff 263px,#c8c8ff 266px,#dadaff 267px,#c9c9ff 269px,#d6d6ff 270px,#ccf 273px,#dedeff 277px,#e5e5ff 282px,#f3f3ff 306px)"></i><i style="top:301.05px;height:2.05px;background:linear-gradient(90deg,#f3f3ff 0,#efefff 153px,#e4e4ff 164px,#eaeaff 166px,#e1e1ff 168px,#e0e0ff 170px,#c5c5ff 183px,#b1b1ff 185px,#c2c2ff 186px,#aeaeff 187px,#9d9dff 190px,#99f 193px,#7575ff 194px,#5a5aff 196px,#3e3eff 197px,#7a7aff 198px,#5959ff 199px,#5c5cff 200px,#4545ff 201px,#4545ff 205px,#1a1aff 207px,#1818ff 208px,#0000f0 209px,#0000f3 210px,#1919ff 211px,#0000fb 212px,#1717ff 214px,#0606ff 215px,#0000d3 216px,#0000c3 217px,#0000ef 218px,#0f0fff 219px,#0000ea 221px,#33f 222px,#6262ff 223px,#7b7bff 224px,#7676ff 225px,#3939ff 226px,#0000ca 227px,#0000c7 228px,#0404fe 229px,#6a6aff 231px,#7a7aff 232px,#6161ff 233px,#9797ff 235px,#5f5fff 237px,#6c6cff 239px,#88f 240px,#8b8bff 241px,#7373ff 243px,#8080ff 245px,#a9a9ff 248px,#b7b7ff 250px,#a5a5ff 251px,#b1b1ff 253px,#b1b1ff 255px,#c9c9ff 257px,#b6b6ff 260px,#d0d0ff 263px,#cdcdff 266px,#ddf 267px,#cdcdff 269px,#d4d4ff 271px,#d2d2ff 274px,#e7e7ff 284px,#f4f4ff 306px)"></i><i style="top:303.05px;height:1.05px;background:linear-gradient(90deg,#f4f4ff 0,#eef 154px,#ececff 166px,#e3e3ff 168px,#e2e2ff 170px,#c9c9ff 183px,#b7b7ff 185px,#c6c6ff 186px,#b4b4ff 187px,#9f9fff 192px,#a0a0ff 193px,#7e7eff 194px,#6565ff 196px,#4b4bff 197px,#8383ff 198px,#6464ff 199px,#6767ff 200px,#5151ff 201px,#5151ff 205px,#2929ff 207px,#2727ff 208px,#0000fd 209px,#0101ff 210px,#2828ff 211px,#0c0cff 212px,#2626ff 214px,#1616ff 215px,#0000e2 216px,#0000d3 217px,#0000fb 218px,#1f1fff 219px,#0000fd 220px,#0000f7 221px,#4040ff 222px,#6b6bff 223px,#8383ff 224px,#7e7eff 225px,#4545ff 226px,#0000d9 227px,#0000d6 228px,#1414ff 229px,#7474ff 231px,#8383ff 232px,#6b6bff 233px,#9e9eff 235px,#6a6aff 237px,#7676ff 239px,#9090ff 240px,#9393ff 241px,#7e7eff 243px,#9d9dff 246px,#bcbcff 250px,#acacff 251px,#b7b7ff 255px,#cdcdff 257px,#bcbcff 260px,#d7d7ff 265px,#d1d1ff 266px,#e0e0ff 267px,#d1d1ff 269px,#d8d8ff 271px,#d6d6ff 274px,#f0f0ff 291px,#f4f4ff 306px)"></i><i style="top:304.05px;height:1.05px;background:linear-gradient(90deg,#f4f4ff 0,#ededff 155px,#ececff 166px,#e4e4ff 168px,#e3e3ff 170px,#ccf 183px,#babaff 185px,#c9c9ff 186px,#b8b8ff 187px,#a5a5ff 193px,#8585ff 194px,#5454ff 197px,#8989ff 198px,#6c6cff 199px,#6f6fff 200px,#5a5aff 201px,#5a5aff 205px,#3434ff 207px,#33f 208px,#0a0aff 209px,#0e0eff 210px,#33f 211px,#1919ff 212px,#3131ff 214px,#22f 215px,#0000ed 216px,#0000de 217px,#0909ff 218px,#2b2bff 219px,#0a0aff 220px,#0303ff 221px,#4a4aff 222px,#7373ff 223px,#8989ff 224px,#8484ff 225px,#4e4eff 226px,#0000e3 227px,#0000e1 228px,#2020ff 229px,#7b7bff 231px,#8a8aff 232px,#7373ff 233px,#a3a3ff 235px,#7272ff 237px,#7e7eff 239px,#9696ff 240px,#99f 241px,#8585ff 243px,#a2a2ff 246px,#c0c0ff 250px,#b3b3ff 252px,#bbf 255px,#d0d0ff 257px,#c6c6ff 261px,#dadaff 265px,#d4d4ff 266px,#e1e1ff 267px,#d4d4ff 269px,#dadaff 271px,#f5f5ff 303px,#f5f5ff 306px)"></i><i style="top:305.05px;height:1.05px;background:linear-gradient(90deg,#f4f4ff 0,#eef 158px,#ededff 166px,#e5e5ff 168px,#ceceff 183px,#bebeff 185px,#ccf 186px,#bbf 187px,#aaf 193px,#8b8bff 194px,#5e5eff 197px,#9090ff 198px,#7575ff 199px,#77f 200px,#6363ff 201px,#6363ff 205px,#4040ff 207px,#3f3fff 208px,#1919ff 209px,#1d1dff 210px,#3f3fff 211px,#2626ff 212px,#3d3dff 214px,#2f2fff 215px,#0000f8 216px,#0000eb 217px,#1717ff 218px,#3737ff 219px,#1919ff 220px,#1212ff 221px,#55f 222px,#8f8fff 224px,#8b8bff 225px,#5757ff 226px,#00e 227px,#0000ec 228px,#2c2cff 229px,#8383ff 231px,#9090ff 232px,#7b7bff 233px,#a9a9ff 235px,#7a7aff 237px,#8585ff 239px,#9c9cff 240px,#8e8eff 244px,#c0c0ff 249px,#b8b8ff 252px,#cbcbff 256px,#cacaff 259px,#d0d0ff 262px,#e3e3ff 267px,#d7d7ff 269px,#dcdcff 271px,#f5f5ff 306px)"></i><i style="top:306.05px;height:1.05px;background:linear-gradient(90deg,#f5f5ff 0,#ededff 159px,#e6e6ff 170px,#d1d1ff 183px,#c2c2ff 185px,#cfcfff 186px,#c1c1ff 188px,#aeaeff 192px,#afafff 193px,#9292ff 194px,#6868ff 197px,#9797ff 198px,#7d7dff 199px,#7f7fff 200px,#6d6dff 201px,#6d6dff 205px,#4c4cff 207px,#4b4bff 208px,#2828ff 209px,#2b2bff 210px,#4b4bff 211px,#3434ff 212px,#4a4aff 214px,#3d3dff 215px,#0808ff 216px,#0000f8 217px,#44f 219px,#2828ff 220px,#2121ff 221px,#5f5fff 222px,#9696ff 224px,#9191ff 225px,#6161ff 226px,#0000f9 227px,#0000f7 228px,#6363ff 230px,#8b8bff 231px,#9797ff 232px,#8484ff 233px,#aeaeff 235px,#8383ff 237px,#8d8dff 239px,#a2a2ff 240px,#9595ff 244px,#c4c4ff 249px,#bcbcff 252px,#ceceff 256px,#cdcdff 261px,#e5e5ff 267px,#d9d9ff 269px,#dedeff 271px,#f5f5ff 306px)"></i><i style="top:307.05px;height:1.05px;background:linear-gradient(90deg,#f5f5ff 0,#ededff 160px,#e7e7ff 170px,#d4d4ff 183px,#c5c5ff 185px,#d2d2ff 186px,#c5c5ff 188px,#b3b3ff 192px,#b4b4ff 193px,#99f 194px,#7272ff 197px,#9d9dff 198px,#8686ff 199px,#88f 200px,#77f 201px,#77f 205px,#5959ff 207px,#5858ff 208px,#3737ff 209px,#3a3aff 210px,#5858ff 211px,#4343ff 212px,#5757ff 214px,#4b4bff 215px,#1919ff 216px,#0909ff 217px,#5151ff 219px,#3737ff 220px,#3131ff 221px,#6a6aff 222px,#9c9cff 224px,#9898ff 225px,#6a6aff 226px,#0808ff 227px,#0606ff 228px,#4545ff 229px,#9292ff 231px,#9e9eff 232px,#8c8cff 233px,#b3b3ff 235px,#8b8bff 237px,#9595ff 239px,#ababff 241px,#9c9cff 244px,#c8c8ff 249px,#c1c1ff 252px,#d6d6ff 258px,#d0d0ff 261px,#e6e6ff 267px,#dfdfff 274px,#f5f5ff 300px,#f6f6ff 306px)"></i><i style="top:308.05px;height:1.05px;background:linear-gradient(90deg,#f5f5ff 0,#eef 160px,#e8e8ff 170px,#ceceff 184px,#d4d4ff 186px,#b8b8ff 192px,#b9b9ff 193px,#9a9aff 195px,#7c7cff 197px,#a4a4ff 198px,#8f8fff 199px,#7e7eff 204px,#7676ff 206px,#6464ff 208px,#4646ff 209px,#4949ff 210px,#6565ff 211px,#5151ff 212px,#6464ff 214px,#5858ff 215px,#2b2bff 216px,#1c1cff 217px,#5f5fff 219px,#4646ff 220px,#4040ff 221px,#7575ff 222px,#a3a3ff 224px,#9f9fff 225px,#7373ff 226px,#1717ff 227px,#1616ff 228px,#5151ff 229px,#9a9aff 231px,#a5a5ff 232px,#9494ff 233px,#b8b8ff 235px,#9393ff 237px,#9c9cff 239px,#b1b1ff 241px,#a3a3ff 244px,#ceceff 250px,#c5c5ff 252px,#d8d8ff 258px,#d4d4ff 261px,#e8e8ff 267px,#e1e1ff 274px,#f6f6ff 306px)"></i><i style="top:309.05px;height:1.05px;background:linear-gradient(90deg,#f6f6ff 0,#ededff 161px,#eaeaff 170px,#d1d1ff 184px,#d7d7ff 186px,#bdbdff 192px,#bebeff 193px,#a1a1ff 195px,#8686ff 197px,#ababff 198px,#9797ff 199px,#8181ff 206px,#7171ff 208px,#55f 209px,#5858ff 210px,#7171ff 211px,#5f5fff 212px,#7070ff 214px,#66f 215px,#3c3cff 216px,#2e2eff 217px,#6c6cff 219px,#4f4fff 221px,#8080ff 222px,#a9a9ff 224px,#a5a5ff 225px,#7c7cff 226px,#2626ff 227px,#2525ff 228px,#5d5dff 229px,#a1a1ff 231px,#acacff 232px,#9c9cff 233px,#bebeff 235px,#9b9bff 237px,#b6b6ff 241px,#aaf 244px,#d1d1ff 250px,#c9c9ff 252px,#dbdbff 258px,#dbdbff 262px,#e2e2ff 268px,#f6f6ff 306px)"></i><i style="top:310.05px;height:1.05px;background:linear-gradient(90deg,#f6f6ff 0,#f0f0ff 166px,#d4d4ff 184px,#d9d9ff 186px,#c2c2ff 193px,#8f8fff 197px,#b1b1ff 198px,#9f9fff 199px,#8c8cff 206px,#7d7dff 208px,#6464ff 209px,#66f 210px,#7d7dff 211px,#6d6dff 212px,#7c7cff 214px,#7373ff 215px,#4d4dff 216px,#4141ff 217px,#7878ff 219px,#5e5eff 221px,#8a8aff 222px,#afafff 224px,#ababff 225px,#8585ff 226px,#3434ff 227px,#3434ff 228px,#6969ff 229px,#a8a8ff 231px,#b2b2ff 232px,#a4a4ff 233px,#c2c2ff 235px,#a3a3ff 237px,#bbf 241px,#b0b0ff 244px,#d4d4ff 250px,#cdcdff 254px,#ddf 258px,#ddf 262px,#e4e4ff 268px,#f6f6ff 306px)"></i><i style="top:311.05px;height:1.05px;background:linear-gradient(90deg,#f6f6ff 0,#f1f1ff 166px,#d3d3ff 185px,#dcdcff 186px,#c7c7ff 193px,#99f 197px,#b8b8ff 198px,#a7a7ff 199px,#9696ff 206px,#88f 208px,#7272ff 209px,#7474ff 210px,#8989ff 211px,#7a7aff 212px,#88f 214px,#8080ff 215px,#5d5dff 216px,#5252ff 217px,#8484ff 219px,#6d6dff 221px,#aaf 223px,#b0b0ff 225px,#8c8cff 226px,#4141ff 227px,#4242ff 228px,#7474ff 229px,#afafff 231px,#b8b8ff 232px,#ababff 233px,#c7c7ff 235px,#aaf 237px,#c0c0ff 241px,#b6b6ff 244px,#d7d7ff 250px,#d5d5ff 255px,#dcdcff 259px,#e8e8ff 271px,#f6f6ff 306px)"></i><i style="top:312.05px;height:1.05px;background:linear-gradient(90deg,#f6f6ff 0,#f2f2ff 166px,#d6d6ff 185px,#d3d3ff 189px,#cbcbff 193px,#a1a1ff 197px,#bebeff 198px,#a6a6ff 201px,#9f9fff 206px,#9494ff 208px,#7f7fff 209px,#9494ff 211px,#8787ff 212px,#9393ff 214px,#8c8cff 215px,#6d6dff 216px,#6363ff 217px,#9090ff 219px,#7a7aff 221px,#b1b1ff 223px,#b5b5ff 225px,#9393ff 226px,#4d4dff 227px,#4e4eff 228px,#9c9cff 230px,#bebeff 232px,#b2b2ff 233px,#ccf 235px,#b1b1ff 237px,#c5c5ff 241px,#c0c0ff 245px,#dadaff 250px,#d8d8ff 255px,#dedeff 259px,#e9e9ff 271px,#f7f7ff 306px)"></i><i style="top:313.05px;height:1.05px;background:linear-gradient(90deg,#f7f7ff 0,#f2f2ff 166px,#d6d6ff 189px,#cfcfff 193px,#a9a9ff 197px,#c3c3ff 198px,#b1b1ff 202px,#a8a8ff 206px,#8e8eff 210px,#9e9eff 211px,#9393ff 212px,#9797ff 215px,#7b7bff 216px,#7272ff 217px,#9b9bff 219px,#8787ff 221px,#b7b7ff 223px,#babaff 225px,#9a9aff 226px,#5858ff 227px,#5959ff 228px,#a3a3ff 230px,#c3c3ff 232px,#b9b9ff 233px,#d0d0ff 235px,#b8b8ff 237px,#cacaff 241px,#c5c5ff 245px,#dcdcff 250px,#e1e1ff 256px,#f7f7ff 306px)"></i><i style="top:314.05px;height:1.05px;background:linear-gradient(90deg,#f7f7ff 0,#eef 170px,#d9d9ff 189px,#d3d3ff 193px,#b1b1ff 197px,#c8c8ff 198px,#b6b6ff 203px,#a8a8ff 208px,#9797ff 209px,#a8a8ff 211px,#a4a4ff 213px,#a1a1ff 215px,#8181ff 217px,#a5a5ff 219px,#9292ff 221px,#bdbdff 223px,#bebeff 225px,#a0a0ff 226px,#6262ff 227px,#6464ff 228px,#aaf 230px,#c8c8ff 232px,#bfbfff 233px,#d4d4ff 235px,#bebeff 237px,#ceceff 241px,#c9c9ff 245px,#dfdfff 250px,#e3e3ff 256px,#f7f7ff 306px)"></i><i style="top:315.05px;height:1.05px;background:linear-gradient(90deg,#f7f7ff 0,#efefff 170px,#d7d7ff 190px,#d6d6ff 193px,#b8b8ff 197px,#cdcdff 198px,#bcbcff 204px,#b0b0ff 208px,#a4a4ff 210px,#b1b1ff 211px,#adadff 213px,#ababff 215px,#8e8eff 217px,#aeaeff 219px,#9d9dff 221px,#c2c2ff 223px,#c2c2ff 225px,#a4a4ff 226px,#6a6aff 227px,#6d6dff 228px,#b1b1ff 230px,#cdcdff 232px,#c5c5ff 233px,#d7d7ff 235px,#c3c3ff 237px,#cbcbff 242px,#dfdfff 253px,#f6f6ff 299px,#f7f7ff 306px)"></i><i style="top:316.05px;height:2.05px;background:linear-gradient(90deg,#f7f7ff 0,#ededff 176px,#dbdbff 193px,#c2c2ff 197px,#d4d4ff 198px,#bcbcff 208px,#b2b2ff 210px,#bdbdff 211px,#b8b8ff 215px,#a0a0ff 217px,#babaff 219px,#ababff 221px,#ccf 224px,#c6c6ff 225px,#aaf 226px,#7474ff 227px,#7878ff 228px,#b9b9ff 230px,#d3d3ff 232px,#d6d6ff 234px,#d2d2ff 236px,#d9d9ff 246px,#f5f5ff 283px,#f7f7ff 306px)"></i><i style="top:318.05px;height:2.05px;background:linear-gradient(90deg,#f7f7ff 0,#ededff 177px,#d6d6ff 195px,#cdcdff 197px,#dbdbff 198px,#c2c2ff 210px,#c6c6ff 215px,#b4b4ff 217px,#c8c8ff 219px,#bbf 221px,#d2d2ff 224px,#cbcbff 225px,#b0b0ff 226px,#7d7dff 227px,#8383ff 228px,#c2c2ff 230px,#dadaff 232px,#dadaff 236px,#e3e3ff 247px,#f7f7ff 306px)"></i><i style="top:320.05px;height:2.05px;background:linear-gradient(90deg,#f7f7ff 0,#ededff 183px,#d6d6ff 197px,#dcdcff 199px,#d3d3ff 213px,#c4c4ff 217px,#d3d3ff 219px,#c8c8ff 221px,#d6d6ff 224px,#ceceff 225px,#b4b4ff 226px,#8484ff 227px,#8b8bff 228px,#c9c9ff 230px,#e0e0ff 232px,#e0e0ff 236px,#f7f7ff 306px)"></i><i style="top:322.05px;height:3.05px;background:linear-gradient(90deg,#f8f8ff 0,#ececff 189px,#d5d5ff 216px,#d9d9ff 224px,#b7b7ff 226px,#8989ff 227px,#9191ff 228px,#d0d0ff 230px,#e5e5ff 232px,#f8f8ff 306px)"></i><i style="top:325.05px;height:4.05px;background:linear-gradient(90deg,#f8f8ff 0,#efefff 193px,#ddf 224px,#bbf 226px,#8f8fff 227px,#99f 228px,#d7d7ff 230px,#eaeaff 233px,#f8f8ff 306px)"></i><i style="top:329.05px;height:4.05px;background:linear-gradient(90deg,#f8f8ff 0,#ececff 220px,#d8d8ff 225px,#99f 227px,#a3a3ff 228px,#ddf 230px,#f2f2ff 234px,#f8f8ff 306px)"></i><i style="top:333.05px;height:3.05px;background:linear-gradient(90deg,#f8f8ff 0,#ececff 222px,#ddf 225px,#a6a6ff 227px,#afafff 228px,#e2e2ff 230px,#f5f5ff 235px,#f8f8ff 306px)"></i><i style="top:336.05px;height:3.05px;background:linear-gradient(90deg,#f8f8ff 0,#ececff 223px,#d1d1ff 226px,#b5b5ff 227px,#bdbdff 228px,#f0f0ff 231px,#f8f8ff 306px)"></i><i style="top:339.05px;height:3.05px;background:linear-gradient(90deg,#f9f9ff 0,#efefff 223px,#dadaff 226px,#c4c4ff 227px,#f2f2ff 231px,#f9f9ff 306px)"></i><i style="top:342.05px;height:3.05px;background:linear-gradient(90deg,#f9f9ff 0,#efefff 224px,#d2d2ff 227px,#f6f6ff 232px,#f9f9ff 306px)"></i><i style="top:345.05px;height:4.05px;background:linear-gradient(90deg,#fafaff 0,#f0f0ff 225px,#e3e3ff 228px,#f7f7ff 234px,#fafaff 306px)"></i><i style="top:349.05px;height:4.05px;background:linear-gradient(90deg,#fbfbff 0,#efefff 226px,#fbfbff 303px,#fbfbff 306px)"></i><i style="top:353.05px;height:3.05px;background:linear-gradient(90deg,#fdfdff 0,#f1f1ff 193px,#e8e8ff 213px,#f0f0ff 226px,#ededff 249px,#fff 283px,#fcfcff 306px)"></i><i style="top:356.05px;height:2.05px;background:linear-gradient(90deg,#fdfdff 0,#ededff 191px,#dbdbff 197px,#dedeff 200px,#d4d4ff 210px,#efefff 226px,#e4e4ff 238px,#ddf 246px,#fffcfc 271px,#fdfdff 306px)"></i><i style="top:358.05px;height:4.05px;background:linear-gradient(90deg,#fefeff 0,#efefff 189px,#d0d0ff 197px,#dcdcff 198px,#c6c6ff 210px,#d7d7ff 215px,#dcdcff 218px,#ededff 226px,#e5e5ff 236px,#ccf 245px,#fffefe 268px,#fdfdff 306px)"></i><i style="top:362.05px;height:3.05px;background:linear-gradient(90deg,#fff 0,#efefff 189px,#d0d0ff 197px,#dcdcff 198px,#c5c5ff 210px,#d7d7ff 215px,#dcdcff 218px,#efefff 226px,#e7e7ff 236px,#d1d1ff 245px,#fffcfc 268px,#fffbfb 292px,#fefeff 306px)"></i><i style="top:365.05px;height:2.05px;background:linear-gradient(90deg,#fffefe 0,#f0f0ff 190px,#dadaff 197px,#dcdcff 200px,#d1d1ff 210px,#f4f4ff 227px,#e3e3ff 246px,#fffbfb 268px,#fffafa 292px,#fefeff 306px)"></i><i style="top:367.05px;height:2.05px;background:linear-gradient(90deg,#fffefe 0,#f1f1ff 193px,#dfdfff 210px,#fafaff 229px,#f1f1ff 251px,#fff9f9 268px,#fffcfc 298px,#fff 306px)"></i><i style="top:369.05px;height:2.05px;background:linear-gradient(90deg,#fffefe 0,#f1f1ff 200px,#fff8f8 226px,#fff2f2 228px,#fafaff 234px,#fff6f6 271px,#fff 306px)"></i><i style="top:371.05px;height:2.05px;background:linear-gradient(90deg,#fff 0,#fff9f9 225px,#ffdcdc 227px,#fffefe 231px,#fff6f6 271px,#fefeff 306px)"></i><i style="top:373.05px;height:2.05px;background:linear-gradient(90deg,#fff 0,#fff8f8 215px,#fff2f2 225px,#ffc9c9 227px,#fffafa 231px,#fff6f6 271px,#fefeff 306px)"></i><i style="top:375.05px;height:3.05px;background:linear-gradient(90deg,#fefeff 0,#fff6f6 190px,#ffecec 197px,#ffefef 208px,#ffebeb 218px,#ffecec 225px,#ffb8b8 227px,#ffc1c1 228px,#ffecec 230px,#fff4f4 236px,#fff6f6 271px,#fefeff 306px)"></i><i style="top:378.05px;height:3.05px;background:linear-gradient(90deg,#fefeff 0,#fff7f7 183px,#ffe4e4 196px,#ffdfdf 197px,#ffecec 198px,#ffe3e3 213px,#ffd5d5 217px,#ffdede 220px,#fee 224px,#ffd3d3 226px,#ffaeae 227px,#ffb6b6 228px,#ffe3e3 230px,#fff4f4 235px,#ffe9e9 239px,#fff7f7 268px,#fdfdff 306px)"></i><i style="top:381.05px;height:3.05px;background:linear-gradient(90deg,#fdfdff 0,#fff7f7 177px,#ffdede 194px,#ffd2d2 197px,#ffe4e4 198px,#ffd1d1 210px,#ffd7d7 215px,#ffc5c5 217px,#ffd9d9 219px,#ffd0d0 221px,#ffeaea 224px,#ffd3d3 226px,#ffaeae 227px,#ffb1b1 228px,#ffe6e6 231px,#ffe6e6 236px,#ffe8e8 246px,#fff6f6 271px,#fcfcff 306px)"></i><i style="top:384.05px;height:4.05px;background:linear-gradient(90deg,#fcfcff 0,#fff6f6 176px,#ffe5e5 185px,#ffe5e5 189px,#ffe1e1 193px,#ffc7c7 197px,#fdd 198px,#ffd4d4 204px,#ffc5c5 210px,#ffd0d0 214px,#ffb6b6 217px,#ffcfcf 219px,#ffc4c4 221px,#ffe7e7 224px,#ffd2d2 226px,#ffadad 227px,#ffadad 228px,#ffdfdf 231px,#ffe4e4 234px,#ffdede 236px,#ffdbdb 245px,#ffefef 250px,#fff7f7 271px,#fbfbff 306px)"></i><i style="top:388.05px;height:4.05px;background:linear-gradient(90deg,#fafaff 0,#fffafa 170px,#ffe2e2 185px,#ffebeb 186px,#fdd 193px,#ffc0c0 197px,#ffd8d8 198px,#ffcece 204px,#ffbebe 210px,#ffcaca 211px,#ffc5c5 215px,#ffadad 217px,#ffc8c8 219px,#ffbcbc 221px,#ffe4e4 224px,#ffd1d1 226px,#ffabab 227px,#ffa8a8 228px,#ffdbdb 231px,#ffe0e0 234px,#ffdada 236px,#ffd3d3 239px,#ffd6d6 242px,#ffe6e6 251px,#fff0f0 259px,#fdfdff 295px,#fafaff 306px)"></i><i style="top:392.05px;height:4.05px;background:linear-gradient(90deg,#fafaff 0,#fffafa 170px,#ffe3e3 185px,#ffe3e3 189px,#ffdfdf 193px,#ffc3c3 197px,#ffdada 198px,#ffd1d1 204px,#ffc0c0 210px,#ffcbcb 211px,#ffc7c7 215px,#ffafaf 217px,#ffcaca 219px,#ffbebe 221px,#ffe5e5 224px,#ffd3d3 226px,#ffaeae 227px,#ffabab 228px,#ffdcdc 231px,#ffe1e1 234px,#ffdbdb 236px,#ffd5d5 239px,#ffd7d7 242px,#ffeded 253px,#fefeff 282px,#f9f9ff 306px)"></i><i style="top:396.05px;height:4.05px;background:linear-gradient(90deg,#f9f9ff 0,#fff6f6 177px,#ffe6e6 193px,#ffcece 197px,#ffe2e2 198px,#ffd3d3 208px,#ffcaca 210px,#ffcfcf 215px,#ffbaba 217px,#ffd1d1 219px,#ffc6c6 221px,#ffe9e9 224px,#ffd8d8 226px,#ffb8b8 227px,#ffb5b5 228px,#ffe4e4 232px,#ffe5e5 234px,#ffe0e0 236px,#ffe7e7 246px,#fffdfd 271px,#f9f9ff 306px)"></i><i style="top:400.05px;height:4.05px;background:linear-gradient(90deg,#f8f8ff 0,#fff7f7 183px,#ffe3e3 196px,#ffdede 197px,#ffebeb 198px,#ffd7d7 210px,#ffd9d9 215px,#ffc7c7 217px,#ffd9d9 219px,#ffd0d0 221px,#ffeded 224px,#ffdfdf 226px,#ffc3c3 227px,#ffc1c1 228px,#ffeaea 232px,#ffe7e7 236px,#fff2f2 247px,#fafaff 287px,#f8f8ff 306px)"></i><i style="top:404.05px;height:4.05px;background:linear-gradient(90deg,#f8f8ff 0,#fff7f7 193px,#ffecec 197px,#ffeded 206px,#ffe1e1 215px,#ffd1d1 217px,#ffdfdf 219px,#ffd6d6 221px,#fff0f0 224px,#ffe3e3 226px,#ffcaca 227px,#ffd7d7 229px,#ffeded 232px,#ffecec 236px,#fdfdff 266px,#f8f8ff 306px)"></i><i style="top:408.05px;height:4.05px;background:linear-gradient(90deg,#f8f8ff 0,#fff5f5 205px,#ffe5e5 215px,#ffd5d5 217px,#ffdbdb 220px,#ffefef 225px,#ffcbcb 227px,#ffd8d8 229px,#fee 232px,#fffdfd 248px,#f8f8ff 306px)"></i><i style="top:412.05px;height:4.05px;background:linear-gradient(90deg,#f8f8ff 0,#fff7f7 206px,#ffe7e7 215px,#ffd7d7 217px,#ffdbdb 220px,#ffefef 225px,#ffcbcb 227px,#ffd8d8 229px,#fee 232px,#fafaff 257px,#f8f8ff 306px)"></i><i style="top:416.05px;height:4.05px;background:linear-gradient(90deg,#f8f8ff 0,#fffeff 201px,#ffe9e9 215px,#ffdada 217px,#ffdede 220px,#fff0f0 225px,#ffcece 227px,#ffe4e4 230px,#fff0f0 236px,#fafaff 255px,#f8f8ff 306px)"></i><i style="top:420.05px;height:4.05px;background:linear-gradient(90deg,#f8f8ff 0,#f6f6ff 192px,#fff9f9 208px,#ffe7e7 218px,#ffecec 222px,#fff3f3 225px,#ffd5d5 228px,#fff3f3 232px,#f8f8ff 261px,#f8f8ff 306px)"></i><i style="top:424.05px;height:4.05px;background:linear-gradient(90deg,#f8f8ff 0,#eef 160px,#e9e9ff 181px,#fffafa 211px,#ffecec 221px,#fff8f8 225px,#ffe2e2 228px,#fff9f9 234px,#f8f8ff 306px)"></i><i style="top:428.05px;height:3.05px;background:linear-gradient(90deg,#f8f8ff 0,#eef 158px,#ebebff 166px,#e3e3ff 168px,#e3e3ff 170px,#e5e5ff 185px,#fffcfc 215px,#fff9f9 226px,#fff4f4 229px,#f8f8ff 257px,#f8f8ff 306px)"></i><i style="top:431.05px;height:2.05px;background:linear-gradient(90deg,#f8f8ff 0,#eef 158px,#ebebff 166px,#e3e3ff 168px,#e3e3ff 170px,#e4e4ff 185px,#fcfcff 240px,#f8f8ff 306px)"></i><i style="top:433.05px;height:1.05px;background:linear-gradient(90deg,#f8f8ff 0,#efefff 158px,#ececff 166px,#e4e4ff 168px,#e3e3ff 206px,#e6e6ff 218px,#fbfbff 239px,#f8f8ff 306px)"></i><i style="top:434.05px;height:1.05px;background:linear-gradient(90deg,#f8f8ff 0,#ededff 159px,#ededff 166px,#e6e6ff 168px,#e1e1ff 195px,#ccf 208px,#c4c4ff 210px,#ceceff 215px,#c4c4ff 217px,#d6d6ff 220px,#ececff 226px,#f8f8ff 260px,#f8f8ff 306px)"></i><i style="top:435.05px;height:1.05px;background:linear-gradient(90deg,#f8f8ff 0,#eef 160px,#e6e6ff 185px,#dbdbff 194px,#cacaff 197px,#d8d8ff 198px,#b0b0ff 208px,#a3a3ff 210px,#b1b1ff 211px,#b0b0ff 213px,#b2b2ff 215px,#a0a0ff 217px,#c1c1ff 219px,#c0c0ff 221px,#e5e5ff 224px,#d9d9ff 228px,#f4f4ff 234px,#f8f8ff 306px)"></i><i style="top:436.05px;height:1.05px;background:linear-gradient(90deg,#f8f8ff 0,#efefff 160px,#e2e2ff 190px,#cdcdff 195px,#b9b9ff 197px,#cbcbff 198px,#ababff 203px,#9f9fff 206px,#9191ff 208px,#7b7bff 209px,#9191ff 211px,#8585ff 212px,#9292ff 215px,#7a7aff 216px,#7676ff 217px,#a7a7ff 219px,#a4a4ff 221px,#d2d2ff 223px,#ddf 225px,#c1c1ff 227px,#ededff 232px,#f8f8ff 300px,#f8f8ff 306px)"></i><i style="top:437.05px;height:1.05px;background:linear-gradient(90deg,#f8f8ff 0,#f1f1ff 166px,#e4e4ff 189px,#d8d8ff 193px,#a9a9ff 197px,#bfbfff 198px,#9c9cff 201px,#8686ff 206px,#7373ff 208px,#5757ff 209px,#5a5aff 210px,#7474ff 211px,#6464ff 212px,#7979ff 214px,#7474ff 215px,#5454ff 216px,#5050ff 217px,#8f8fff 219px,#8a8aff 221px,#c5c5ff 223px,#d4d4ff 225px,#afafff 227px,#e9e9ff 232px,#f8f8ff 264px,#f8f8ff 306px)"></i><i style="top:438.05px;height:3.05px;background:linear-gradient(90deg,#f8f8ff 0,#eef 183px,#d5d5ff 193px,#9e9eff 197px,#b8b8ff 198px,#a3a3ff 199px,#7474ff 206px,#5f5fff 208px,#3f3fff 209px,#4242ff 210px,#5f5fff 211px,#4d4dff 212px,#66f 214px,#5f5fff 215px,#3a3aff 216px,#3535ff 217px,#7e7eff 219px,#7878ff 221px,#a4a4ff 222px,#cbcbff 224px,#bfbfff 226px,#a1a1ff 227px,#a9a9ff 228px,#e0e0ff 231px,#f8f8ff 247px,#f8f8ff 306px)"></i><i style="top:441.05px;height:0.31px;background:linear-gradient(90deg,#f8f8ff 0,#efefff 186px,#dbdbff 193px,#ababff 197px,#c1c1ff 198px,#9d9dff 201px,#8686ff 206px,#7373ff 208px,#5757ff 209px,#5a5aff 210px,#7373ff 211px,#6363ff 212px,#7979ff 214px,#7373ff 215px,#5353ff 216px,#4e4eff 217px,#8d8dff 219px,#88f 221px,#c4c4ff 223px,#d3d3ff 225px,#acacff 227px,#e7e7ff 232px,#f8f8ff 264px,#f8f8ff 306px)"></i></div>
<div class="hm" style="left:414.9px;width:307px"><i style="top:295.05px;height:1.05px;background:linear-gradient(90deg,#f8f8ff 0,#efefff 166px,#cbcbff 172px,#a5a5ff 175px,#ababff 178px,#9797ff 179px,#a2a2ff 180px,#9595ff 181px,#3d3dff 183px,#0000a6 184px,#00004c 185px,#00004c 256px,#000098 257px,#1a1aff 258px,#6b6bff 259px,#7c7cff 260px,#66f 261px,#a6a6ff 265px,#8080ff 268px,#cacaff 271px,#b3b3ff 272px,#c2c2ff 276px,#dedeff 279px,#f8f8ff 297px,#f8f8ff 307px)"></i><i style="top:296.05px;height:1.05px;background:linear-gradient(90deg,#f8f8ff 0,#eef 166px,#c6c6ff 172px,#9d9dff 175px,#a4a4ff 178px,#8e8eff 179px,#9c9cff 180px,#9090ff 181px,#3f3fff 183px,#0000ac 184px,#00004c 185px,#00004c 256px,#009 257px,#1616ff 258px,#6464ff 259px,#7373ff 260px,#5a5aff 261px,#9e9eff 265px,#7474ff 268px,#c5c5ff 271px,#ababff 272px,#babaff 276px,#dadaff 279px,#f7f7ff 295px,#f8f8ff 307px)"></i><i style="top:297.05px;height:1.05px;background:linear-gradient(90deg,#f8f8ff 0,#efefff 165px,#c2c2ff 172px,#9595ff 175px,#9393ff 177px,#9d9dff 178px,#8585ff 179px,#9595ff 180px,#8b8bff 181px,#4343ff 183px,#0000b5 184px,#00004f 185px,#00004c 256px,#00009d 257px,#1414ff 258px,#5e5eff 259px,#6a6aff 260px,#4e4eff 261px,#9696ff 265px,#6868ff 268px,#c0c0ff 271px,#a3a3ff 272px,#b7b7ff 275px,#b3b3ff 276px,#d4d4ff 278px,#f7f7ff 294px,#f8f8ff 307px)"></i><i style="top:298.05px;height:1.05px;background:linear-gradient(90deg,#f8f8ff 0,#eef 165px,#bebeff 172px,#8e8eff 175px,#8c8cff 177px,#9696ff 178px,#7d7dff 179px,#8f8fff 180px,#8686ff 181px,#4848ff 183px,#0000c2 184px,#00005f 185px,#00004c 186px,#00004c 256px,#0000a5 257px,#1414ff 258px,#5959ff 259px,#6363ff 260px,#4343ff 261px,#8f8fff 265px,#77f 267px,#5c5cff 268px,#bbf 271px,#9b9bff 272px,#9b9bff 273px,#b0b0ff 275px,#acacff 276px,#d0d0ff 278px,#f6f6ff 293px,#f8f8ff 307px)"></i><i style="top:299.05px;height:1.05px;background:linear-gradient(90deg,#f8f8ff 0,#f0f0ff 164px,#c8c8ff 171px,#8686ff 175px,#8484ff 177px,#9090ff 178px,#7575ff 179px,#8989ff 180px,#8282ff 181px,#5050ff 183px,#0000d2 184px,#000074 185px,#00004c 186px,#00004c 256px,#0000af 257px,#1616ff 258px,#55f 259px,#5c5cff 260px,#3939ff 261px,#7070ff 264px,#88f 265px,#6e6eff 267px,#5151ff 268px,#b6b6ff 271px,#9494ff 272px,#9393ff 273px,#a7a7ff 274px,#a5a5ff 276px,#ccf 278px,#f6f6ff 292px,#f8f8ff 307px)"></i><i style="top:300.05px;height:1.05px;background:linear-gradient(90deg,#f8f8ff 0,#efefff 164px,#c5c5ff 171px,#8080ff 175px,#7e7eff 177px,#8a8aff 178px,#6e6eff 179px,#8383ff 180px,#5959ff 183px,#0000e4 184px,#00008d 185px,#00004c 186px,#00004c 256px,#0000bc 257px,#1a1aff 258px,#5353ff 259px,#5757ff 260px,#3131ff 261px,#6868ff 264px,#8282ff 265px,#66f 267px,#4747ff 268px,#b2b2ff 271px,#8d8dff 272px,#8b8bff 273px,#a1a1ff 274px,#9e9eff 276px,#c9c9ff 278px,#f6f6ff 292px,#f8f8ff 307px)"></i><i style="top:301.05px;height:1.05px;background:linear-gradient(90deg,#f8f8ff 0,#eef 164px,#c2c2ff 171px,#7a7aff 175px,#7878ff 177px,#8484ff 178px,#6767ff 179px,#7e7eff 180px,#6262ff 183px,#0000f8 184px,#0000ab 185px,#00004c 186px,#00004c 256px,#0000cb 257px,#1f1fff 258px,#5151ff 259px,#5252ff 260px,#2a2aff 261px,#6262ff 264px,#7d7dff 265px,#5f5fff 267px,#3e3eff 268px,#aeaeff 271px,#8686ff 272px,#8585ff 273px,#9b9bff 274px,#9898ff 276px,#c5c5ff 278px,#f6f6ff 292px,#f8f8ff 307px)"></i><i style="top:302.05px;height:1.05px;background:linear-gradient(90deg,#f8f8ff 0,#efefff 163px,#cbcbff 170px,#9696ff 173px,#6c6cff 176px,#7f7fff 178px,#6161ff 179px,#7a7aff 180px,#6b6bff 183px,#1212ff 184px,#00c 185px,#000054 186px,#00004c 255px,#00006e 256px,#0000da 257px,#2525ff 258px,#5151ff 259px,#4f4fff 260px,#2424ff 261px,#5d5dff 264px,#7979ff 265px,#5959ff 267px,#3737ff 268px,#ababff 271px,#8181ff 272px,#7f7fff 273px,#9797ff 274px,#9292ff 276px,#c2c2ff 278px,#f5f5ff 292px,#f8f8ff 307px)"></i><i style="top:303.05px;height:1.05px;background:linear-gradient(90deg,#f8f8ff 0,#eef 163px,#c9c9ff 170px,#9393ff 173px,#6868ff 176px,#7c7cff 178px,#5d5dff 179px,#7676ff 180px,#6a6aff 182px,#7373ff 183px,#2c2cff 184px,#0000ed 185px,#000083 186px,#00004c 187px,#00004c 255px,#000092 256px,#0000e9 257px,#2b2bff 258px,#5151ff 259px,#4d4dff 260px,#2020ff 261px,#5a5aff 264px,#7676ff 265px,#55f 267px,#3232ff 268px,#a8a8ff 271px,#7d7dff 272px,#7a7aff 273px,#9393ff 274px,#8d8dff 276px,#bfbfff 278px,#d6d6ff 283px,#f5f5ff 293px,#f8f8ff 307px)"></i><i style="top:304.05px;height:1.05px;background:linear-gradient(90deg,#f8f8ff 0,#ededff 163px,#c8c8ff 170px,#9191ff 173px,#6565ff 176px,#7979ff 178px,#5959ff 179px,#7373ff 180px,#6b6bff 182px,#7979ff 183px,#1212ff 185px,#0000b5 186px,#000071 187px,#00004c 188px,#00004c 254px,#000067 255px,#0000f7 257px,#5252ff 259px,#4c4cff 260px,#1e1eff 261px,#5858ff 264px,#7474ff 265px,#5252ff 267px,#2e2eff 268px,#a6a6ff 271px,#7979ff 272px,#77f 273px,#9090ff 274px,#8a8aff 276px,#bdbdff 278px,#ccf 282px,#f4f4ff 291px,#f8f8ff 307px)"></i><i style="top:305.05px;height:1.05px;background:linear-gradient(90deg,#f8f8ff 0,#f0f0ff 162px,#c7c7ff 170px,#8f8fff 173px,#6c6cff 175px,#6969ff 177px,#77f 178px,#5656ff 179px,#7171ff 180px,#6b6bff 182px,#7e7eff 183px,#3838ff 185px,#0000e5 186px,#0000a9 187px,#00004c 188px,#00004c 253px,#000080 254px,#00009a 255px,#0606ff 257px,#3737ff 258px,#5454ff 259px,#4d4dff 260px,#1e1eff 261px,#5757ff 264px,#7373ff 265px,#5151ff 267px,#2d2dff 268px,#a5a5ff 271px,#7878ff 272px,#7575ff 273px,#8e8eff 274px,#88f 276px,#bcbcff 278px,#cbcbff 282px,#f4f4ff 291px,#f8f8ff 307px)"></i><i style="top:306.05px;height:1.05px;background:linear-gradient(90deg,#f8f8ff 0,#efefff 162px,#c6c6ff 170px,#8f8fff 173px,#6262ff 176px,#7676ff 178px,#55f 179px,#7070ff 180px,#6b6bff 182px,#8282ff 183px,#6262ff 184px,#55f 185px,#1616ff 186px,#0000e2 187px,#00005f 188px,#00004c 189px,#00004c 253px,#0000ba 254px,#0000c7 255px,#0000e8 256px,#1515ff 257px,#5757ff 259px,#4e4eff 260px,#2020ff 261px,#5858ff 264px,#7474ff 265px,#5252ff 267px,#2e2eff 268px,#a5a5ff 271px,#77f 272px,#7474ff 273px,#8d8dff 274px,#8686ff 276px,#bbf 278px,#cacaff 282px,#f4f4ff 291px,#f8f8ff 307px)"></i><i style="top:307.05px;height:1.05px;background:linear-gradient(90deg,#f8f8ff 0,#efefff 162px,#c6c6ff 170px,#8f8fff 173px,#6363ff 176px,#7676ff 178px,#55f 179px,#6f6fff 180px,#6c6cff 182px,#8484ff 183px,#6b6bff 184px,#6a6aff 185px,#1b1bff 187px,#0000ad 188px,#00004c 189px,#00004c 250px,#00005b 251px,#00004c 252px,#000062 253px,#0000ea 254px,#0000e9 255px,#0000fa 256px,#5a5aff 259px,#5252ff 260px,#2424ff 261px,#5b5bff 264px,#7676ff 265px,#55f 267px,#3030ff 268px,#a6a6ff 271px,#7878ff 272px,#7575ff 273px,#8d8dff 274px,#8787ff 276px,#bbf 278px,#cacaff 282px,#f4f4ff 291px,#f8f8ff 307px)"></i><i style="top:308.05px;height:1.05px;background:linear-gradient(90deg,#f8f8ff 0,#eef 162px,#c6c6ff 170px,#9090ff 173px,#6464ff 176px,#77f 178px,#5656ff 179px,#7070ff 180px,#6c6cff 182px,#8686ff 183px,#7171ff 184px,#77f 185px,#4e4eff 187px,#0000f1 188px,#000059 189px,#00004c 190px,#00005b 191px,#00004c 193px,#00004c 249px,#0000a4 251px,#00004c 252px,#0000af 253px,#1717ff 254px,#0404ff 255px,#0d0dff 256px,#5f5fff 259px,#5656ff 260px,#2929ff 261px,#5f5fff 264px,#7a7aff 265px,#5959ff 267px,#3535ff 268px,#a8a8ff 271px,#7b7bff 272px,#77f 273px,#8f8fff 274px,#88f 276px,#bcbcff 278px,#cacaff 282px,#f4f4ff 291px,#f8f8ff 307px)"></i><i style="top:309.05px;height:1.05px;background:linear-gradient(90deg,#f8f8ff 0,#eef 162px,#c6c6ff 170px,#9292ff 173px,#6767ff 176px,#7979ff 178px,#5858ff 179px,#7171ff 180px,#6d6dff 182px,#8787ff 183px,#7575ff 184px,#7f7fff 185px,#6f6fff 187px,#3131ff 188px,#0000ba 189px,#000092 190px,#0000a9 191px,#00004d 192px,#00004c 249px,#0000c1 250px,#0000ec 251px,#00a 252px,#0000e7 253px,#3a3aff 254px,#1d1dff 255px,#1d1dff 256px,#6464ff 259px,#5c5cff 260px,#3030ff 261px,#6464ff 264px,#7e7eff 265px,#5e5eff 267px,#3c3cff 268px,#aaf 271px,#7e7eff 272px,#7b7bff 273px,#9292ff 274px,#8b8bff 276px,#bdbdff 278px,#cbcbff 282px,#f4f4ff 291px,#f8f8ff 307px)"></i><i style="top:310.05px;height:1.05px;background:linear-gradient(90deg,#f8f8ff 0,#eef 162px,#c7c7ff 170px,#9494ff 173px,#6b6bff 176px,#7c7cff 178px,#5c5cff 179px,#7474ff 180px,#6f6fff 182px,#88f 183px,#77f 184px,#8383ff 185px,#8282ff 187px,#5b5bff 188px,#0000fd 189px,#0000e9 190px,#0000f7 191px,#00004c 193px,#00004c 248px,#0d0dff 250px,#3535ff 251px,#0000e9 252px,#11f 253px,#5252ff 254px,#2f2fff 255px,#2a2aff 256px,#6b6bff 259px,#6262ff 260px,#3939ff 261px,#6b6bff 264px,#8484ff 265px,#6565ff 267px,#44f 268px,#adadff 271px,#8383ff 272px,#8080ff 273px,#9696ff 274px,#8f8fff 276px,#bfbfff 278px,#cdcdff 282px,#f4f4ff 291px,#f8f8ff 307px)"></i><i style="top:311.05px;height:1.05px;background:linear-gradient(90deg,#f8f8ff 0,#ededff 162px,#bebeff 171px,#7878ff 175px,#7575ff 177px,#8080ff 178px,#6060ff 179px,#77f 180px,#7171ff 182px,#8989ff 183px,#7878ff 184px,#8b8bff 187px,#7171ff 188px,#3232ff 189px,#2d2dff 190px,#4646ff 191px,#0000fe 192px,#000054 193px,#00004c 246px,#000057 247px,#0303ff 249px,#5656ff 250px,#6767ff 251px,#1818ff 252px,#3131ff 253px,#6161ff 254px,#3d3dff 255px,#3535ff 256px,#7272ff 259px,#6a6aff 260px,#4343ff 261px,#7373ff 264px,#8a8aff 265px,#6d6dff 267px,#4e4eff 268px,#b1b1ff 271px,#8989ff 272px,#8686ff 273px,#9b9bff 274px,#9494ff 276px,#c2c2ff 278px,#d7d7ff 283px,#f6f6ff 294px,#f8f8ff 307px)"></i><i style="top:312.05px;height:1.05px;background:linear-gradient(90deg,#f8f8ff 0,#ededff 162px,#c0c0ff 171px,#7d7dff 175px,#7a7aff 177px,#8484ff 178px,#6565ff 179px,#7a7aff 180px,#7373ff 182px,#8b8bff 183px,#7979ff 184px,#8f8fff 187px,#7a7aff 188px,#4b4bff 189px,#5454ff 190px,#7474ff 191px,#4c4cff 192px,#0000c8 193px,#0000a0 194px,#0000af 195px,#00004c 196px,#000053 245px,#0000ad 246px,#0404ff 248px,#5050ff 249px,#8080ff 250px,#8484ff 251px,#3737ff 252px,#44f 253px,#6c6cff 254px,#4949ff 255px,#4141ff 256px,#7a7aff 259px,#7272ff 260px,#4e4eff 261px,#7b7bff 264px,#9191ff 265px,#7676ff 267px,#5858ff 268px,#b6b6ff 271px,#9090ff 272px,#8d8dff 273px,#a1a1ff 274px,#9a9aff 276px,#c5c5ff 278px,#e5e5ff 286px,#f8f8ff 301px,#f8f8ff 307px)"></i><i style="top:313.05px;height:1.05px;background:linear-gradient(90deg,#f8f8ff 0,#eef 161px,#c2c2ff 171px,#8383ff 175px,#7f7fff 177px,#8989ff 178px,#6a6aff 179px,#7e7eff 180px,#7676ff 182px,#8c8cff 183px,#7a7aff 184px,#9090ff 187px,#7e7eff 188px,#5454ff 189px,#6464ff 190px,#88f 191px,#7171ff 192px,#0a0aff 193px,#0000f5 194px,#0a0aff 195px,#000058 197px,#00004c 201px,#00004c 242px,#000096 243px,#0000d7 245px,#1313ff 246px,#4d4dff 248px,#9595ff 250px,#9393ff 251px,#4949ff 252px,#5252ff 253px,#7676ff 254px,#5454ff 255px,#4c4cff 256px,#8282ff 259px,#7c7cff 260px,#5a5aff 261px,#9898ff 265px,#7f7fff 267px,#6464ff 268px,#babaff 271px,#9898ff 272px,#9595ff 273px,#a7a7ff 275px,#a1a1ff 276px,#c9c9ff 278px,#f5f5ff 293px,#f8f8ff 307px)"></i><i style="top:314.05px;height:1.05px;background:linear-gradient(90deg,#f8f8ff 0,#eef 161px,#c4c4ff 171px,#88f 175px,#8484ff 177px,#8e8eff 178px,#7070ff 179px,#8383ff 180px,#7979ff 182px,#8e8eff 183px,#7b7bff 184px,#9090ff 187px,#7e7eff 188px,#5656ff 189px,#6969ff 190px,#8f8fff 191px,#7f7fff 192px,#2f2fff 193px,#2828ff 194px,#4747ff 195px,#0000fa 196px,#0000c9 197px,#0000b7 199px,#00005c 201px,#00004c 203px,#00004c 234px,#000075 235px,#00007f 236px,#00004c 237px,#00004c 238px,#000079 239px,#0000b4 242px,#0707ff 243px,#3131ff 245px,#5959ff 246px,#6f6fff 248px,#a1a1ff 250px,#9c9cff 251px,#5656ff 252px,#5d5dff 253px,#7e7eff 254px,#5e5eff 255px,#5858ff 256px,#8b8bff 259px,#8585ff 260px,#66f 261px,#a0a0ff 265px,#7070ff 268px,#c0c0ff 271px,#a0a0ff 272px,#9d9dff 273px,#aeaeff 275px,#a8a8ff 276px,#cdcdff 278px,#f6f6ff 293px,#f8f8ff 307px)"></i><i style="top:315.05px;height:1.05px;background:linear-gradient(90deg,#f8f8ff 0,#eef 161px,#c7c7ff 171px,#8e8eff 175px,#8a8aff 177px,#9292ff 178px,#7575ff 179px,#8787ff 180px,#7c7cff 182px,#8f8fff 183px,#7c7cff 184px,#8f8fff 187px,#7c7cff 188px,#5454ff 189px,#6868ff 190px,#9090ff 191px,#8282ff 192px,#3a3aff 193px,#3a3aff 194px,#5e5eff 195px,#2424ff 196px,#0000f9 197px,#0000fd 199px,#0000a6 202px,#0000cd 204px,#0000b9 205px,#000060 206px,#000075 207px,#00004c 208px,#00004c 213px,#000094 215px,#00004c 216px,#00004c 219px,#00007a 220px,#00004c 221px,#00004c 222px,#000093 223px,#00a 224px,#0000d4 225px,#0000a1 226px,#0000b0 227px,#0000d8 228px,#00008d 229px,#00007d 230px,#0000a8 231px,#00006e 232px,#000072 233px,#0000a1 234px,#00e 235px,#0000f4 236px,#00009d 237px,#0000f2 239px,#0f0fff 242px,#5252ff 243px,#5f5fff 245px,#7676ff 246px,#7e7eff 248px,#a7a7ff 250px,#a2a2ff 251px,#6161ff 252px,#6868ff 253px,#8686ff 254px,#6969ff 255px,#6363ff 256px,#9494ff 259px,#8f8fff 260px,#7373ff 261px,#a8a8ff 265px,#7d7dff 268px,#c5c5ff 271px,#a8a8ff 272px,#b0b0ff 276px,#d1d1ff 278px,#f7f7ff 294px,#f8f8ff 307px)"></i><i style="top:316.05px;height:1.05px;background:linear-gradient(90deg,#f8f8ff 0,#eef 161px,#c9c9ff 171px,#9494ff 175px,#9797ff 178px,#7b7bff 179px,#8b8bff 180px,#7f7fff 182px,#9191ff 183px,#7d7dff 184px,#8e8eff 187px,#7b7bff 188px,#5252ff 189px,#66f 190px,#8f8fff 191px,#8282ff 192px,#3b3bff 193px,#3e3eff 194px,#6363ff 195px,#0c0cff 197px,#2020ff 199px,#0505ff 200px,#0000e0 202px,#0d0dff 204px,#0000fe 205px,#0000c3 206px,#0000d5 207px,#0000ba 208px,#000070 209px,#000092 210px,#0000a1 211px,#000089 212px,#0000f2 215px,#0000b2 216px,#0000bd 217px,#0000ab 218px,#00b 219px,#0202ff 220px,#0000f1 222px,#44f 223px,#7676ff 225px,#5b5bff 226px,#7c7cff 228px,#4949ff 229px,#2f2fff 230px,#3b3bff 231px,#0000fc 232px,#0000f2 233px,#0a0aff 234px,#4848ff 235px,#4a4aff 236px,#0000f5 237px,#3a3aff 239px,#3f3fff 242px,#7070ff 243px,#7171ff 245px,#8383ff 246px,#8787ff 248px,#adadff 250px,#a8a8ff 251px,#6b6bff 252px,#7171ff 253px,#8f8fff 254px,#7474ff 255px,#6f6fff 256px,#9c9cff 259px,#9898ff 260px,#7f7fff 261px,#b0b0ff 265px,#8a8aff 268px,#cacaff 271px,#b0b0ff 272px,#b7b7ff 276px,#d6d6ff 279px,#f7f7ff 295px,#f8f8ff 307px)"></i><i style="top:317.05px;height:1.05px;background:linear-gradient(90deg,#f8f8ff 0,#eef 161px,#cbcbff 171px,#9393ff 176px,#9c9cff 178px,#8181ff 179px,#9090ff 180px,#8282ff 182px,#9393ff 183px,#7e7eff 184px,#8d8dff 187px,#7979ff 188px,#5050ff 189px,#6464ff 190px,#8e8eff 191px,#8080ff 192px,#3939ff 193px,#3d3dff 194px,#6363ff 195px,#11f 197px,#2929ff 199px,#0000f2 202px,#0909ff 203px,#2929ff 204px,#2020ff 205px,#0000e5 206px,#0000f7 207px,#0000e3 208px,#0000a8 209px,#0000d4 211px,#0000c2 212px,#0404ff 214px,#2424ff 215px,#0000e8 216px,#0000f5 217px,#00e 218px,#0606ff 219px,#5b5bff 220px,#7c7cff 222px,#b3b3ff 223px,#d1d1ff 225px,#d6d6ff 228px,#8d8dff 231px,#5353ff 232px,#3939ff 233px,#4343ff 234px,#6d6dff 235px,#6b6bff 236px,#1e1eff 237px,#55f 239px,#5252ff 242px,#7b7bff 243px,#7b7bff 245px,#8b8bff 246px,#8e8eff 248px,#b1b1ff 250px,#adadff 251px,#7575ff 252px,#7b7bff 253px,#9797ff 254px,#7f7fff 255px,#88f 257px,#a5a5ff 259px,#a2a2ff 260px,#8b8bff 261px,#b8b8ff 265px,#9696ff 268px,#cfcfff 271px,#b9b9ff 272px,#bfbfff 276px,#dadaff 279px,#f7f7ff 296px,#f8f8ff 307px)"></i><i style="top:318.05px;height:1.05px;background:linear-gradient(90deg,#f8f8ff 0,#ededff 162px,#c4c4ff 172px,#99f 176px,#a1a1ff 178px,#8787ff 179px,#9494ff 180px,#8686ff 182px,#9696ff 183px,#8181ff 184px,#8d8dff 187px,#7979ff 188px,#4f4fff 189px,#6363ff 190px,#8d8dff 191px,#7f7fff 192px,#3838ff 193px,#3c3cff 194px,#6363ff 195px,#11f 197px,#2b2bff 199px,#0000f7 202px,#3131ff 204px,#2929ff 205px,#00e 206px,#0202ff 207px,#0000ef 208px,#0000b9 209px,#0000e3 211px,#0000d3 212px,#0000ec 213px,#1717ff 214px,#3535ff 215px,#0000f9 216px,#0909ff 218px,#2e2eff 219px,#8181ff 220px,#c1c1ff 222px,#eaeaff 223px,#fff 225px,#fffafa 228px,#f5f5ff 229px,#b3b3ff 231px,#7878ff 232px,#5656ff 233px,#5858ff 234px,#7a7aff 235px,#7676ff 236px,#2f2fff 237px,#6060ff 239px,#5b5bff 242px,#8282ff 243px,#8181ff 245px,#9191ff 246px,#9494ff 248px,#b6b6ff 250px,#b2b2ff 251px,#7f7fff 252px,#8686ff 253px,#9f9fff 254px,#8a8aff 255px,#9393ff 257px,#aeaeff 259px,#9797ff 261px,#bfbfff 265px,#a2a2ff 268px,#d4d4ff 271px,#c0c0ff 272px,#c6c6ff 276px,#dedeff 279px,#f8f8ff 298px,#f8f8ff 307px)"></i><i style="top:319.05px;height:1.05px;background:linear-gradient(90deg,#f8f8ff 0,#ededff 162px,#c8c8ff 172px,#9f9fff 176px,#a7a7ff 178px,#8d8dff 179px,#9595ff 181px,#8b8bff 182px,#99f 183px,#8585ff 184px,#8f8fff 187px,#7b7bff 188px,#5151ff 189px,#6565ff 190px,#8e8eff 191px,#8080ff 192px,#3939ff 193px,#3d3dff 194px,#6464ff 195px,#1313ff 197px,#2d2dff 199px,#0000fa 202px,#3434ff 204px,#2d2dff 205px,#0000f3 206px,#0808ff 207px,#0000f4 208px,#0000bf 209px,#0000e9 211px,#0000da 212px,#0000f2 213px,#3c3cff 215px,#0101ff 216px,#1717ff 217px,#1a1aff 218px,#4545ff 219px,#9898ff 220px,#eef 222px,#ffe0e0 224px,#ffcece 227px,#ffe2e2 229px,#f6f6ff 230px,#ccf 231px,#8f8fff 232px,#6767ff 233px,#6363ff 234px,#8181ff 235px,#7d7dff 236px,#3838ff 237px,#6767ff 239px,#6363ff 242px,#88f 243px,#88f 245px,#adadff 249px,#b8b8ff 251px,#8989ff 252px,#a8a8ff 254px,#9393ff 256px,#b6b6ff 259px,#a3a3ff 261px,#c6c6ff 265px,#adadff 268px,#d9d9ff 271px,#c6c6ff 273px,#d8d8ff 277px,#f7f7ff 295px,#f8f8ff 307px)"></i><i style="top:320.05px;height:1.05px;background:linear-gradient(90deg,#f8f8ff 0,#eef 162px,#cbcbff 172px,#a6a6ff 176px,#adadff 178px,#9595ff 179px,#9b9bff 181px,#9191ff 182px,#9e9eff 183px,#8a8aff 184px,#9393ff 187px,#7f7fff 188px,#5656ff 189px,#6969ff 190px,#9191ff 191px,#8484ff 192px,#3e3eff 193px,#4242ff 194px,#6868ff 195px,#1919ff 197px,#33f 199px,#00f 202px,#3a3aff 204px,#33f 205px,#0000f8 206px,#1010ff 207px,#0000fa 208px,#0000c7 209px,#0000ef 211px,#0000e1 212px,#0000f8 213px,#4343ff 215px,#0b0bff 216px,#2929ff 218px,#5959ff 219px,#acacff 220px,#dbdbff 221px,#ffe8e8 222px,#ffc1c1 224px,#ffc4c4 225px,#ffadad 226px,#ffaeae 227px,#ffc0c0 228px,#ffc1c1 229px,#ffeaea 230px,#e1e1ff 231px,#77f 233px,#6e6eff 234px,#88f 235px,#8383ff 236px,#4141ff 237px,#6e6eff 239px,#6b6bff 242px,#8f8fff 243px,#8f8fff 245px,#b3b3ff 249px,#bebeff 251px,#9494ff 252px,#b0b0ff 254px,#9e9eff 256px,#bebeff 259px,#aeaeff 261px,#cdcdff 265px,#b7b7ff 268px,#ddf 271px,#cdcdff 273px,#f3f3ff 287px,#f8f8ff 307px)"></i><i style="top:321.05px;height:1.05px;background:linear-gradient(90deg,#f8f8ff 0,#efefff 162px,#cfcfff 172px,#aeaeff 176px,#b4b4ff 178px,#9e9eff 179px,#a2a2ff 181px,#99f 182px,#a5a5ff 183px,#9191ff 184px,#9898ff 187px,#8686ff 188px,#5f5fff 189px,#7171ff 190px,#9696ff 191px,#8a8aff 192px,#4848ff 193px,#4b4bff 194px,#6f6fff 195px,#2525ff 197px,#3d3dff 199px,#0d0dff 202px,#44f 204px,#3e3eff 205px,#0404ff 206px,#1c1cff 207px,#0606ff 208px,#0000d3 209px,#0000f9 211px,#0000eb 212px,#0303ff 213px,#4c4cff 215px,#1919ff 216px,#3c3cff 218px,#6f6fff 219px,#c1c1ff 220px,#f9f9ff 221px,#ffc3c3 222px,#ffa5a5 224px,#ffacac 225px,#ff8f8f 226px,#ff9191 227px,#ffa9a9 228px,#ffa3a3 229px,#f5f5ff 231px,#8787ff 233px,#7a7aff 234px,#9090ff 235px,#8a8aff 236px,#4c4cff 237px,#77f 239px,#7575ff 242px,#9696ff 243px,#aaf 248px,#c6c6ff 250px,#c4c4ff 251px,#9e9eff 252px,#b8b8ff 254px,#a9a9ff 256px,#c4c4ff 260px,#b8b8ff 261px,#d0d0ff 266px,#c1c1ff 268px,#e1e1ff 271px,#d4d4ff 273px,#f6f6ff 290px,#f8f8ff 307px)"></i><i style="top:322.05px;height:1.05px;background:linear-gradient(90deg,#f8f8ff 0,#f0f0ff 162px,#d4d4ff 172px,#b7b7ff 177px,#bbf 178px,#a7a7ff 179px,#ababff 181px,#a2a2ff 182px,#acacff 183px,#9b9bff 184px,#a0a0ff 187px,#8f8fff 188px,#6b6bff 189px,#7b7bff 190px,#9e9eff 191px,#9292ff 192px,#5656ff 193px,#5959ff 194px,#7a7aff 195px,#3535ff 197px,#4b4bff 199px,#1f1fff 202px,#5252ff 204px,#4c4cff 205px,#1717ff 206px,#2d2dff 207px,#1919ff 208px,#0000e4 209px,#0000fc 210px,#0b0bff 211px,#0000fa 212px,#1515ff 213px,#5959ff 215px,#2b2bff 216px,#5353ff 218px,#8989ff 219px,#d7d7ff 220px,#ffe8e8 221px,#ffa1a1 222px,#ff8c8c 224px,#ff9797 225px,#ff7575 226px,#ff7878 227px,#ff9494 228px,#f88 229px,#ffb4b4 230px,#fff6f6 231px,#99f 233px,#88f 234px,#99f 235px,#9393ff 236px,#5a5aff 237px,#8181ff 239px,#8181ff 242px,#9f9fff 243px,#b2b2ff 248px,#cbcbff 250px,#cacaff 251px,#a9a9ff 252px,#c0c0ff 254px,#b3b3ff 256px,#ccf 260px,#c8c8ff 262px,#d6d6ff 266px,#cacaff 268px,#e5e5ff 271px,#e0e0ff 274px,#f8f8ff 300px,#f8f8ff 307px)"></i><i style="top:323.05px;height:1.05px;background:linear-gradient(90deg,#f8f8ff 0,#eef 163px,#d9d9ff 172px,#c0c0ff 177px,#c3c3ff 178px,#b1b1ff 179px,#b4b4ff 181px,#b5b5ff 183px,#a5a5ff 184px,#aaf 187px,#7a7aff 189px,#a8a8ff 191px,#9d9dff 192px,#6767ff 193px,#6a6aff 194px,#8787ff 195px,#4a4aff 197px,#5e5eff 199px,#3636ff 202px,#6464ff 204px,#5f5fff 205px,#2f2fff 206px,#4242ff 207px,#3030ff 208px,#0000f9 209px,#2323ff 211px,#1212ff 212px,#6a6aff 215px,#4141ff 216px,#6c6cff 218px,#a4a4ff 219px,#ededff 220px,#ffcdcd 221px,#ff8282 222px,#ff7878 224px,#ff8686 225px,#ff6060 226px,#ff6464 227px,#ff8484 228px,#ff7272 229px,#ff9e9e 230px,#ffe3e3 231px,#e1e1ff 232px,#acacff 233px,#9797ff 234px,#a4a4ff 235px,#9d9dff 236px,#6969ff 237px,#8d8dff 239px,#8e8eff 242px,#a9a9ff 243px,#c7c7ff 249px,#d0d0ff 251px,#b4b4ff 252px,#c8c8ff 254px,#bdbdff 256px,#d3d3ff 260px,#d2d2ff 263px,#d8d8ff 267px,#dadaff 269px,#e8e8ff 271px,#e2e2ff 276px,#f8f8ff 300px,#f8f8ff 307px)"></i><i style="top:324.05px;height:1.05px;background:linear-gradient(90deg,#f8f8ff 0,#ededff 165px,#d5d5ff 173px,#cbcbff 178px,#bcbcff 179px,#bfbfff 183px,#afafff 186px,#b5b5ff 187px,#8c8cff 189px,#b3b3ff 191px,#aaf 192px,#7b7bff 193px,#7d7dff 194px,#9797ff 195px,#6262ff 197px,#7373ff 199px,#5151ff 202px,#7878ff 204px,#7373ff 205px,#4a4aff 206px,#5b5bff 207px,#4b4bff 208px,#1919ff 209px,#3f3fff 211px,#3030ff 212px,#7c7cff 215px,#5a5aff 216px,#88f 218px,#fffcfc 220px,#ff6969 222px,#ff6868 224px,#ff7979 225px,#ff5050 226px,#ff5656 227px,#f77 228px,#ff6161 229px,#ff8c8c 230px,#ffd3d3 231px,#f5f5ff 232px,#c0c0ff 233px,#a7a7ff 234px,#a8a8ff 236px,#7a7aff 237px,#9a9aff 239px,#9b9bff 242px,#b3b3ff 243px,#ceceff 249px,#d6d6ff 251px,#bebeff 252px,#cfcfff 254px,#cdcdff 257px,#d9d9ff 260px,#ddf 264px,#dfdfff 269px,#e4e4ff 272px,#f8f8ff 307px)"></i><i style="top:325.05px;height:1.05px;background:linear-gradient(90deg,#f8f8ff 0,#eef 166px,#d2d2ff 178px,#c2c2ff 182px,#c0c0ff 187px,#9d9dff 189px,#bebeff 191px,#b6b6ff 192px,#8f8fff 193px,#9191ff 194px,#a7a7ff 195px,#7b7bff 197px,#8989ff 199px,#6c6cff 202px,#8d8dff 204px,#8989ff 205px,#6767ff 206px,#7474ff 207px,#6767ff 208px,#3d3dff 209px,#5b5bff 211px,#4e4eff 212px,#8f8fff 215px,#7474ff 216px,#a4a4ff 218px,#dadaff 219px,#ffe9e9 220px,#f55 222px,#ff6363 223px,#ff5d5d 224px,#ff7070 225px,#ff4646 226px,#ff4c4c 227px,#ff6f6f 228px,#f55 229px,#ff7d7d 230px,#ffc5c5 231px,#fff7f7 232px,#b7b7ff 234px,#b4b4ff 236px,#8b8bff 237px,#a9a9ff 240px,#a9a9ff 242px,#bebeff 243px,#dbdbff 251px,#c8c8ff 252px,#d6d6ff 254px,#d5d5ff 257px,#e3e3ff 267px,#f8f8ff 307px)"></i><i style="top:326.05px;height:1.05px;background:linear-gradient(90deg,#f8f8ff 0,#eef 168px,#ccf 182px,#c1c1ff 188px,#afafff 189px,#c9c9ff 191px,#c3c3ff 192px,#a3a3ff 193px,#b6b6ff 195px,#9393ff 197px,#9e9eff 199px,#8787ff 202px,#a2a2ff 204px,#9e9eff 205px,#8282ff 206px,#8d8dff 207px,#8282ff 208px,#5f5fff 209px,#77f 211px,#6c6cff 212px,#a1a1ff 215px,#8c8cff 216px,#bebeff 218px,#f2f2ff 219px,#ffd8d8 220px,#ff4646 222px,#ff5a5a 223px,#ff5656 224px,#ff6b6b 225px,#ff4040 226px,#ff4747 227px,#ff6a6a 228px,#ff4d4d 229px,#ff7373 230px,#ffbaba 231px,#ffe7e7 232px,#e3e3ff 233px,#c6c6ff 234px,#bebeff 236px,#9b9bff 237px,#b5b5ff 240px,#b6b6ff 242px,#c7c7ff 243px,#e0e0ff 251px,#d0d0ff 252px,#e3e3ff 260px,#f8f8ff 307px)"></i><i style="top:327.05px;height:1.05px;background:linear-gradient(90deg,#f8f8ff 0,#eef 170px,#cdcdff 188px,#bebeff 189px,#d3d3ff 191px,#ceceff 192px,#b6b6ff 193px,#c5c5ff 195px,#a9a9ff 197px,#ababff 200px,#a0a0ff 202px,#b2b2ff 205px,#9b9bff 206px,#9b9bff 208px,#7f7fff 209px,#9191ff 211px,#8787ff 212px,#b2b2ff 215px,#a3a3ff 216px,#d5d5ff 218px,#fff7f7 219px,#ffcbcb 220px,#ff3d3d 222px,#ff5656 223px,#ff5454 224px,#ff6a6a 225px,#ff3f3f 226px,#ff4646 227px,#ff6969 228px,#ff4a4a 229px,#ff6c6c 230px,#ffb2b2 231px,#f2f2ff 233px,#d4d4ff 234px,#c8c8ff 236px,#aaf 237px,#c1c1ff 241px,#e5e5ff 251px,#dbdbff 253px,#f7f7ff 291px,#f8f8ff 307px)"></i><i style="top:328.05px;height:1.05px;background:linear-gradient(90deg,#f8f8ff 0,#efefff 171px,#d7d7ff 188px,#d1d1ff 190px,#d8d8ff 192px,#c6c6ff 193px,#d1d1ff 195px,#bcbcff 197px,#bbf 201px,#bcbcff 203px,#c2c2ff 205px,#b1b1ff 206px,#b0b0ff 208px,#9a9aff 209px,#a7a7ff 211px,#a8a8ff 213px,#c1c1ff 215px,#b7b7ff 216px,#e9e9ff 218px,#ffe5e5 219px,#ffc0c0 220px,#ff3838 222px,#f55 223px,#ff5454 224px,#ff6b6b 225px,#ff4141 226px,#ff4848 227px,#ff6a6a 228px,#ff4a4a 229px,#ff6969 230px,#ffacac 231px,#fff 233px,#dfdfff 234px,#d1d1ff 236px,#b7b7ff 237px,#dedeff 246px,#e9e9ff 251px,#e1e1ff 253px,#f8f8ff 300px,#f8f8ff 307px)"></i><i style="top:329.05px;height:1.05px;background:linear-gradient(90deg,#f8f8ff 0,#efefff 172px,#e0e0ff 188px,#dbdbff 190px,#e1e1ff 192px,#d4d4ff 194px,#d2d2ff 196px,#ccf 203px,#d0d0ff 205px,#c2c2ff 208px,#b1b1ff 209px,#b9b9ff 213px,#cdcdff 215px,#c7c7ff 216px,#f9f9ff 218px,#ffb8b8 220px,#ff3636 222px,#ff5656 223px,#ff5656 224px,#ff6d6d 225px,#f44 226px,#ff4c4c 227px,#ff6d6d 228px,#ff4b4b 229px,#ff6868 230px,#ffa8a8 231px,#fff5f5 233px,#c2c2ff 237px,#ededff 250px,#f8f8ff 307px)"></i><i style="top:330.05px;height:1.05px;background:linear-gradient(90deg,#f8f8ff 0,#ededff 175px,#e3e3ff 190px,#d1d1ff 208px,#c8c8ff 210px,#d0d0ff 214px,#d5d5ff 216px,#fff9f9 218px,#ffb3b3 220px,#ff3636 222px,#ff5858 223px,#ff5959 224px,#ff7070 225px,#ff4848 226px,#ff5050 227px,#ff7070 228px,#ff4e4e 229px,#ff6868 230px,#ffa5a5 231px,#ffeded 233px,#e5e5ff 235px,#ccf 237px,#f0f0ff 250px,#f8f8ff 307px)"></i><i style="top:331.05px;height:2.05px;background:linear-gradient(90deg,#f8f8ff 0,#eef 188px,#e1e1ff 208px,#ddf 214px,#e3e3ff 216px,#f5f5ff 217px,#ffebeb 218px,#ffc3c3 219px,#ffaeae 220px,#ff3939 222px,#ff5d5d 223px,#ff5f5f 224px,#ff7676 225px,#ff5050 226px,#ff5757 227px,#ff7676 228px,#ff5353 229px,#ff6a6a 230px,#ffa4a4 231px,#fafaff 234px,#d7d7ff 237px,#f3f3ff 251px,#f8f8ff 307px)"></i><i style="top:333.05px;height:2.05px;background:linear-gradient(90deg,#f8f8ff 0,#ececff 210px,#f1f1ff 216px,#fffdfd 217px,#fbb 219px,#ffabab 220px,#ff3f3f 222px,#ff6363 223px,#ff6767 224px,#ff7d7d 225px,#ff5959 226px,#ff6060 227px,#ff7d7d 228px,#ff5b5b 229px,#ff6e6e 230px,#ffa4a4 231px,#ffb7b7 232px,#fffcfc 234px,#e2e2ff 237px,#f7f7ff 255px,#f8f8ff 307px)"></i><i style="top:335.05px;height:3.05px;background:linear-gradient(90deg,#f8f8ff 0,#f6f6ff 212px,#fcfcfe 216px,#fff3f3 217px,#ffb7b7 219px,#ffabab 220px,#ff4949 222px,#ff6e6e 223px,#ff8686 225px,#ff6565 226px,#ff6c6c 227px,#ff8686 228px,#f66 229px,#ff7676 230px,#ffa7a7 231px,#ffb7b7 232px,#fff5f5 234px,#efefff 238px,#fafaff 261px,#f8f8ff 307px)"></i><i style="top:338.05px;height:2.05px;background:linear-gradient(90deg,#f8f8ff 0,#fff6f6 196px,#fff8f8 211px,#fff7f7 216px,#ffd2d2 218px,#ffb6b6 219px,#ffafaf 220px,#ff5858 222px,#ff7a7a 223px,#ff9191 225px,#ff7373 226px,#ff9292 228px,#ff7474 229px,#ff8181 230px,#ffadad 231px,#ffd6d6 233px,#fefeff 235px,#f8f8ff 307px)"></i><i style="top:340.05px;height:2.05px;background:linear-gradient(90deg,#f8f8ff 0,#fffafa 192px,#ffeaea 203px,#ffeaea 210px,#fff9f9 215px,#ffcfcf 218px,#ffb6b6 219px,#ffb3b3 220px,#f66 222px,#ff8686 223px,#ff9c9c 225px,#ff8181 226px,#ff9c9c 228px,#ff8181 229px,#ff8c8c 230px,#ffb2b2 231px,#ffd5d5 233px,#fffcfc 235px,#fffcfc 258px,#f8f8ff 307px)"></i><i style="top:342.05px;height:2.05px;background:linear-gradient(90deg,#f8f8ff 0,#fff8f8 188px,#ffe1e1 203px,#ffdede 210px,#fff2f2 215px,#ffcbcb 218px,#ffb7b7 219px,#ffb7b7 220px,#ff7575 222px,#ff9494 223px,#ffa8a8 225px,#ff9191 226px,#ffa9a9 228px,#ff8f8f 229px,#ff9898 230px,#ffb9b9 231px,#ffd3d3 233px,#fff7f7 235px,#fff4f4 249px,#fff5f5 257px,#f8f8ff 307px)"></i><i style="top:344.05px;height:2.05px;background:linear-gradient(90deg,#f8f8ff 0,#fff7f7 187px,#ffeded 190px,#fff0f0 192px,#ffe2e2 194px,#ffdfdf 196px,#ffd6d6 203px,#ffdcdc 205px,#ffd0d0 206px,#ffd4d4 208px,#ffc7c7 209px,#ffebeb 215px,#ffb7b7 219px,#ffbcbc 220px,#ff8686 222px,#ffa2a2 223px,#ffb5b5 225px,#ffa1a1 226px,#ffb5b5 228px,#ff9f9f 229px,#ffa4a4 230px,#ffbfbf 231px,#ffd1d1 233px,#fff2f2 235px,#ffe8e8 247px,#fff2f2 251px,#ffe7e7 253px,#fefeff 270px,#f8f8ff 307px)"></i><i style="top:346.05px;height:2.05px;background:linear-gradient(90deg,#f8f8ff 0,#fff9f9 183px,#ffe7e7 190px,#ffebeb 192px,#ffd9d9 194px,#ffe2e2 195px,#fcc 197px,#ffcbcb 203px,#ffd2d2 205px,#ffc4c4 206px,#ffc7c7 208px,#ffb7b7 209px,#ffe3e3 215px,#ffb7b7 219px,#ffc0c0 220px,#ff9696 222px,#ffb1b1 223px,#ffc3c3 225px,#ffb2b2 226px,#ffc3c3 228px,#ffafaf 229px,#ffb1b1 230px,#ffc6c6 231px,#ffcfcf 233px,#fee 236px,#ffe4e4 238px,#ffe2e2 248px,#ffeded 251px,#ffdbdb 252px,#ffe3e3 255px,#fffafa 267px,#f8f8ff 307px)"></i><i style="top:348.05px;height:2.05px;background:linear-gradient(90deg,#f8f8ff 0,#fff8f8 181px,#ffe8e8 188px,#ffe0e0 190px,#ffe5e5 192px,#ffcfcf 193px,#ffdada 195px,#ffbfbf 197px,#ffbdbd 201px,#ffbfbf 203px,#ffc8c8 205px,#ffb6b6 206px,#ffbaba 208px,#ffa7a7 209px,#ffdada 215px,#ffb6b6 219px,#ffc4c4 220px,#ffa8a8 222px,#ffc1c1 223px,#ffd1d1 225px,#ffc7c7 227px,#ffd1d1 228px,#ffbdbd 230px,#fcc 231px,#fcc 233px,#ffe8e8 236px,#ffd5d5 237px,#ffcfcf 242px,#ffd6d6 244px,#ffe1e1 249px,#ffe7e7 251px,#ffd1d1 252px,#ffe1e1 254px,#ffe2e2 257px,#fff7f7 267px,#f8f8ff 307px)"></i><i style="top:350.05px;height:2.05px;background:linear-gradient(90deg,#f8f8ff 0,#fff7f7 180px,#ffe2e2 188px,#ffd4d4 189px,#ffe4e4 191px,#ffdede 192px,#ffc5c5 193px,#ffd1d1 195px,#ffb2b2 197px,#ffb3b3 200px,#ffa7a7 202px,#ffbfbf 204px,#ffbdbd 205px,#ffa8a8 206px,#ffacac 208px,#ff9595 209px,#ffafaf 211px,#ffb8b8 213px,#ffd1d1 215px,#ffbfbf 216px,#ffb5b5 219px,#ffc7c7 220px,#ffb9b9 222px,#ffd8d8 224px,#ffdfdf 228px,#ffc9c9 230px,#ffd1d1 231px,#ffc8c8 233px,#ffe1e1 236px,#ffcaca 237px,#ffcaca 241px,#ffc3c3 242px,#ffd1d1 243px,#ffd0d0 248px,#ffe0e0 251px,#ffc6c6 252px,#ffdada 254px,#ffdada 257px,#ffe9e9 260px,#fefeff 277px,#f8f8ff 307px)"></i><i style="top:352.05px;height:1.05px;background:linear-gradient(90deg,#f8f8ff 0,#fff9f9 178px,#fdd 188px,#ffcdcd 189px,#ffdfdf 191px,#ffd9d9 192px,#ffbdbd 193px,#ffcbcb 195px,#ffa8a8 197px,#ffa9a9 200px,#ff9d9d 202px,#ffb7b7 204px,#ffb5b5 205px,#ff9d9d 206px,#ffa9a9 207px,#ffa2a2 208px,#f88 209px,#ffa4a4 211px,#ffa0a0 212px,#ffcbcb 215px,#ffb7b7 216px,#ffb3b3 219px,#ffc9c9 220px,#ffc7c7 222px,#ffe8e8 224px,#ffe9e9 228px,#ffd2d2 230px,#ffc4c4 233px,#ffdbdb 236px,#ffc1c1 237px,#ffc7c7 240px,#ffbaba 242px,#ffcaca 243px,#ffc9c9 248px,#ffdbdb 251px,#ffbdbd 252px,#ffd4d4 254px,#ffcbcb 256px,#ffe5e5 260px,#ffeded 264px,#fff8f8 270px,#f8f8ff 307px)"></i><i style="top:353.05px;height:1.05px;background:linear-gradient(90deg,#f8f8ff 0,#fff8f8 178px,#ffdada 188px,#ffc9c9 189px,#ffdcdc 191px,#ffd6d6 192px,#ffb7b7 193px,#ffc7c7 195px,#ffa2a2 197px,#ffacac 199px,#ff9595 202px,#ffb1b1 204px,#ffafaf 205px,#ff9696 206px,#ffa3a3 207px,#ff9b9b 208px,#ff8080 209px,#ff9d9d 211px,#f99 212px,#ffc7c7 215px,#ffb2b2 216px,#ffb2b2 219px,#ffcbcb 220px,#ffd2d2 222px,#fff6f6 224px,#fff0f0 228px,#ffc2c2 233px,#ffd8d8 236px,#fbb 237px,#ffc1c1 240px,#ffb4b4 242px,#ffc5c5 243px,#ffc4c4 248px,#ffd8d8 251px,#ffb8b8 252px,#ffd0d0 254px,#ffc6c6 256px,#ffe2e2 260px,#ffe5e5 263px,#fee 267px,#fefeff 279px,#f8f8ff 307px)"></i><i style="top:354.05px;height:1.05px;background:linear-gradient(90deg,#f8f8ff 0,#fff7f7 178px,#ffd7d7 188px,#ffc4c4 189px,#ffd9d9 191px,#ffd2d2 192px,#ffb2b2 193px,#ffc2c2 195px,#ff9b9b 197px,#ffa6a6 199px,#ff8e8e 202px,#ffacac 204px,#faa 205px,#ff8f8f 206px,#ff9d9d 207px,#ff9494 208px,#f77 209px,#ff9797 211px,#ff9292 212px,#ffc2c2 215px,#ffacac 216px,#ffb0b0 219px,#fcc 220px,#ffdede 222px,#fffafa 223px,#f7f7ff 226px,#fff8f8 228px,#ffc0c0 233px,#ffd4d4 236px,#ffb6b6 237px,#ffbcbc 240px,#ffafaf 242px,#ffc0c0 243px,#ffbfbf 248px,#ffd7d7 250px,#ffd5d5 251px,#ffb2b2 252px,#fcc 254px,#ffc1c1 256px,#ffdfdf 260px,#ffe2e2 263px,#ffecec 267px,#fffafa 275px,#f8f8ff 307px)"></i><i style="top:355.05px;height:1.05px;background:linear-gradient(90deg,#f8f8ff 0,#fff7f7 175px,#ffdede 187px,#ffc0c0 189px,#ffd6d6 191px,#ffcfcf 192px,#ffacac 193px,#ffbebe 195px,#ff9595 197px,#ffa1a1 199px,#f88 202px,#ffa7a7 204px,#ffa5a5 205px,#ff8989 206px,#ff9797 207px,#ff8e8e 208px,#ff6f6f 209px,#ff9090 211px,#ff8b8b 212px,#ffbebe 215px,#ffa7a7 216px,#ffafaf 219px,#ffcdcd 220px,#ffeaea 222px,#f5f5ff 223px,#e3e3ff 225px,#fff 228px,#ffbdbd 233px,#ffd1d1 236px,#ffb0b0 237px,#ffb7b7 240px,#ffa9a9 242px,#ffbcbc 243px,#fbb 248px,#ffd4d4 250px,#ffd2d2 251px,#ffacac 252px,#ffc8c8 254px,#ffbcbc 256px,#ffdcdc 260px,#ffdbdb 262px,#ffecec 266px,#fee 269px,#fff5f5 272px,#f9f9ff 293px,#f8f8ff 307px)"></i><i style="top:356.05px;height:2.05px;background:linear-gradient(90deg,#f8f8ff 0,#fff7f7 174px,#ffdada 187px,#ffb9b9 189px,#ffd2d2 191px,#ffcaca 192px,#ffa4a4 193px,#ffa5a5 194px,#ffb8b8 195px,#ff8b8b 197px,#f99 199px,#ff7e7e 202px,#ffa0a0 204px,#ff9e9e 205px,#ff7f7f 206px,#ff8e8e 207px,#ff8585 208px,#ff6464 209px,#ff8787 211px,#ff8181 212px,#ffb9b9 215px,#ffa0a0 216px,#ffacac 219px,#ffcece 220px,#ffdbdb 221px,#fff9f9 222px,#ceceff 224px,#d1d1ff 226px,#f6f6ff 228px,#fff9f9 229px,#ffb9b9 233px,#fcc 236px,#ffa8a8 237px,#ffb0b0 240px,#ffa1a1 242px,#ffb5b5 243px,#ffb4b4 248px,#ffcfcf 250px,#ffcdcd 251px,#ffa4a4 252px,#ffc2c2 254px,#ffb5b5 256px,#ffd8d8 260px,#ffd7d7 262px,#ffe9e9 266px,#ffebeb 269px,#fff3f3 272px,#fafaff 290px,#f8f8ff 307px)"></i><i style="top:358.05px;height:2.05px;background:linear-gradient(90deg,#f8f8ff 0,#fff7f7 173px,#ffd5d5 187px,#ffb1b1 189px,#ffcdcd 191px,#ffc4c4 192px,#ff9a9a 193px,#ff9b9b 194px,#ffb0b0 195px,#ff7f7f 197px,#ff8e8e 199px,#ff7272 202px,#ff9797 204px,#ff9595 205px,#ff7474 206px,#ff8484 207px,#ff7a7a 208px,#ff5656 209px,#ff7c7c 211px,#ff7575 212px,#ffb1b1 215px,#ff9797 216px,#ffa9a9 219px,#ffcfcf 220px,#fdfdff 222px,#c8c8ff 224px,#c9c9ff 226px,#fcfcff 229px,#ffdede 231px,#ffb4b4 233px,#ffc6c6 236px,#ff9e9e 237px,#ffa8a8 240px,#ff9696 242px,#ffadad 243px,#ffa4a4 245px,#ffacac 248px,#ffcaca 250px,#ffc7c7 251px,#ff9a9a 252px,#fbb 254px,#ffacac 256px,#ffd2d2 259px,#ffc7c7 261px,#ffe6e6 266px,#fdd 268px,#fff7f7 271px,#f8f8ff 307px)"></i><i style="top:360.05px;height:2.05px;background:linear-gradient(90deg,#f8f8ff 0,#fff6f6 173px,#ffd5d5 185px,#ffc3c3 188px,#ffa9a9 189px,#ffc8c8 191px,#ffbebe 192px,#ff9191 193px,#ff9292 194px,#ffa9a9 195px,#ff7575 197px,#ff8686 199px,#ff6868 202px,#ff9090 204px,#ff8d8d 205px,#ff6a6a 206px,#ff7c7c 207px,#ff7171 208px,#ff4a4a 209px,#ff7272 211px,#ff6b6b 212px,#ffabab 215px,#ff8e8e 216px,#ff9494 218px,#ffa5a5 219px,#ffcece 220px,#fffdfd 222px,#d6d6ff 224px,#ddf 227px,#f6f6ff 229px,#ffdfdf 231px,#ffafaf 233px,#ffc4c4 235px,#ffc1c1 236px,#ff9595 237px,#ffa6a6 239px,#ff8e8e 242px,#ffa6a6 243px,#ff9c9c 245px,#ffa5a5 248px,#ffc5c5 250px,#ffc1c1 251px,#ff9090 252px,#ffb4b4 254px,#ffa4a4 256px,#ffcdcd 259px,#ffc1c1 261px,#ffe2e2 266px,#ffd8d8 268px,#fff6f6 271px,#fff8f8 277px,#f8f8ff 307px)"></i><i style="top:362.05px;height:4.05px;background:linear-gradient(90deg,#f8f8ff 0,#fff8f8 172px,#fdd 183px,#ffbdbd 188px,#ffa0a0 189px,#ffc2c2 191px,#ffb7b7 192px,#ff8686 193px,#ff8787 194px,#ffa1a1 195px,#ff6969 197px,#ff7b7b 199px,#ff5c5c 202px,#ff8787 204px,#ff8585 205px,#ff5f5f 206px,#ff7272 207px,#f66 208px,#ff3d3d 209px,#ff6767 211px,#ff5f5f 212px,#ffa4a4 215px,#ff8585 216px,#ff8b8b 218px,#ff9f9f 219px,#ffcbcb 220px,#fff9f9 222px,#e3e3ff 225px,#e8e8ff 228px,#fff4f4 230px,#ffa8a8 233px,#ffbebe 235px,#ffbaba 236px,#ff8b8b 237px,#ff9d9d 239px,#ff8383 242px,#ff9e9e 243px,#ff9393 245px,#ff9c9c 248px,#ffbfbf 250px,#fbb 251px,#ff8585 252px,#ff8f8f 253px,#ffacac 254px,#f99 255px,#ffa9a9 257px,#ffc7c7 259px,#ffb9b9 261px,#ffe0e0 265px,#ffd2d2 268px,#fff3f3 271px,#fff0f0 276px,#fbfbff 291px,#f8f8ff 307px)"></i><i style="top:366.05px;height:4.05px;background:linear-gradient(90deg,#f8f8ff 0,#fff6f6 172px,#ffdada 183px,#ffc4c4 186px,#ffc6c6 187px,#ff9898 189px,#ffbcbc 191px,#ffb1b1 192px,#ff7d7d 193px,#ff7e7e 194px,#ff9a9a 195px,#ff5e5e 197px,#ff7373 199px,#ff5252 202px,#ff8181 204px,#ff7e7e 205px,#ff5757 206px,#ff6b6b 207px,#ff5f5f 208px,#f33 209px,#ff5f5f 211px,#ff5656 212px,#ff9e9e 215px,#ff7d7d 216px,#ff8484 218px,#f99 219px,#ffc8c8 220px,#fff8f8 222px,#dbdbff 226px,#fff3f3 230px,#ffa2a2 233px,#ffa4a4 234px,#ffb9b9 235px,#ffb5b5 236px,#ff8282 237px,#ff9696 239px,#ff7b7b 242px,#ff9797 243px,#ff8c8c 245px,#ff9797 246px,#ff9595 248px,#ffbaba 250px,#ffb6b6 251px,#ff7c7c 252px,#ff8686 253px,#ffa5a5 254px,#ff9191 255px,#ffa1a1 257px,#ffc1c1 259px,#ffb2b2 261px,#ffdcdc 265px,#ffcdcd 268px,#fff1f1 271px,#ffe7e7 273px,#fff 286px,#f8f8ff 307px)"></i><i style="top:370.05px;height:3.05px;background:linear-gradient(90deg,#f8f8ff 0,#fff6f6 172px,#ffd9d9 183px,#ffc2c2 186px,#ffc5c5 187px,#ff9696 189px,#fbb 191px,#ffb0b0 192px,#ff7a7a 193px,#ff7c7c 194px,#ff9898 195px,#ff5b5b 197px,#ff7070 199px,#ff5050 202px,#ff7f7f 204px,#ff7d7d 205px,#f55 206px,#ff6969 207px,#ff5d5d 208px,#ff3030 209px,#ff5c5c 211px,#ff5353 212px,#ff9c9c 215px,#ff7a7a 216px,#ff8181 218px,#ff9696 219px,#ffc7c7 220px,#fff8f8 222px,#dedeff 225px,#d8d8ff 227px,#fff2f2 230px,#ff9f9f 233px,#ffa1a1 234px,#ffb7b7 235px,#ffb3b3 236px,#ff7f7f 237px,#ff9393 239px,#ff7878 242px,#ff9595 243px,#ff8a8a 245px,#ff9696 246px,#ff9393 248px,#ffb9b9 250px,#ffb4b4 251px,#ff7979 252px,#ff8383 253px,#ffa2a2 254px,#ff8e8e 255px,#ff9f9f 257px,#ffbfbf 259px,#ffb0b0 261px,#ffdbdb 265px,#ffcbcb 268px,#fff1f1 271px,#ffe6e6 273px,#fff 286px,#f8f8ff 307px)"></i><i style="top:373.05px;height:2.05px;background:linear-gradient(90deg,#f8f8ff 0,#fff6f6 172px,#ffd9d9 183px,#ffc3c3 186px,#ffc6c6 187px,#ff9797 189px,#ffbcbc 191px,#ffb0b0 192px,#ff7b7b 193px,#ff7d7d 194px,#f99 195px,#ff5d5d 197px,#ff7171 199px,#ff5151 202px,#ff8080 204px,#ff7d7d 205px,#ff5656 206px,#ff6a6a 207px,#ff5e5e 208px,#ff3232 209px,#ff5d5d 211px,#ff5454 212px,#ff9c9c 215px,#ff7b7b 216px,#ff8383 218px,#ff9898 219px,#ffc8c8 220px,#fffcfc 222px,#d8d8ff 224px,#c8c8ff 226px,#fff3f3 230px,#ffa0a0 233px,#ffa2a2 234px,#ffb7b7 235px,#ffb3b3 236px,#ff7f7f 237px,#ff9494 239px,#ff7878 242px,#ff9696 243px,#ff8a8a 245px,#ff9696 246px,#ff9494 248px,#ffb9b9 250px,#ffb5b5 251px,#ff7979 252px,#ff8383 253px,#ffa3a3 254px,#ff8e8e 255px,#ff9f9f 257px,#ffbfbf 259px,#ffb0b0 261px,#ffdbdb 265px,#fcc 268px,#fff1f1 271px,#ffe7e7 273px,#fff 286px,#f8f8ff 307px)"></i><i style="top:375.05px;height:2.05px;background:linear-gradient(90deg,#f8f8ff 0,#fff7f7 172px,#ffdada 183px,#ffc5c5 186px,#ffb8b8 188px,#ff9a9a 189px,#ffbdbd 191px,#ffb2b2 192px,#ff7e7e 193px,#ff8080 194px,#ff9b9b 195px,#ff6060 197px,#ff7474 199px,#ff5454 202px,#ff8282 204px,#ff7f7f 205px,#ff5858 206px,#ff6c6c 207px,#ff6060 208px,#ff3434 209px,#ff6060 211px,#ff5757 212px,#ff9e9e 215px,#ff7e7e 216px,#ff8585 218px,#ff9a9a 219px,#ffcaca 220px,#fefeff 222px,#ceceff 224px,#b9b9ff 226px,#fff6f6 230px,#ffa2a2 233px,#ffa3a3 234px,#ffb8b8 235px,#ffb4b4 236px,#ff8181 237px,#ff9595 239px,#ff7a7a 242px,#ff9797 243px,#ff8b8b 245px,#ff9797 246px,#ff9595 248px,#ffbaba 250px,#ffb6b6 251px,#ff7c7c 252px,#ff8585 253px,#ffa5a5 254px,#ff9090 255px,#ffa1a1 257px,#ffc1c1 259px,#ffb2b2 261px,#ffdcdc 265px,#ffcdcd 268px,#fff2f2 271px,#ffe8e8 273px,#fff 286px,#f8f8ff 307px)"></i><i style="top:377.05px;height:2.05px;background:linear-gradient(90deg,#f8f8ff 0,#fff8f8 172px,#ffdcdc 183px,#fbb 188px,#ff9e9e 189px,#ffc0c0 191px,#ffb6b6 192px,#ff8383 193px,#ff8585 194px,#ff9f9f 195px,#ff6565 197px,#ff7878 199px,#ff5858 202px,#ff8585 204px,#ff8282 205px,#ff5c5c 206px,#ff6f6f 207px,#ff6363 208px,#ff3939 209px,#ff6464 211px,#ff5b5b 212px,#ffa1a1 215px,#ff8282 216px,#ff8989 218px,#ff9e9e 219px,#fcc 220px,#f8f8ff 222px,#c2c2ff 224px,#a9a9ff 226px,#fff8f8 230px,#ffa5a5 233px,#ffa6a6 234px,#fbb 235px,#ffb6b6 236px,#ff8585 237px,#ff9898 239px,#ff7d7d 242px,#ff9a9a 243px,#ff8e8e 245px,#ff9a9a 246px,#ff9898 248px,#ffbcbc 250px,#ffb8b8 251px,#ff7f7f 252px,#ff8989 253px,#ffa7a7 254px,#ff9494 255px,#ffa4a4 257px,#ffc3c3 259px,#ffb5b5 261px,#ffdede 265px,#ffd0d0 268px,#fff2f2 271px,#ffefef 274px,#fbfbff 291px,#f8f8ff 307px)"></i><i style="top:379.05px;height:3.05px;background:linear-gradient(90deg,#f8f8ff 0,#fff6f6 173px,#ffe0e0 183px,#ffc0c0 188px,#ffa5a5 189px,#ffc5c5 191px,#fbb 192px,#ff8c8c 193px,#ff8d8d 194px,#ffa5a5 195px,#ff6f6f 197px,#ff8080 199px,#ff6161 202px,#ff8b8b 204px,#f88 205px,#ff6464 206px,#ff7676 207px,#ff6b6b 208px,#ff4343 209px,#ff6c6c 211px,#ff6464 212px,#ffa7a7 215px,#ff8989 216px,#ff9191 218px,#ffa5a5 219px,#ffd1d1 220px,#f3f3ff 222px,#b9b9ff 224px,#9b9bff 226px,#fffbfb 230px,#ffabab 233px,#ffbfbf 235px,#fbb 236px,#ff8b8b 237px,#ff9e9e 239px,#ff8484 242px,#ff9f9f 243px,#ff9494 245px,#ff9d9d 248px,#ffc0c0 250px,#ffbcbc 251px,#ff8787 252px,#ff9090 253px,#ffadad 254px,#ff9a9a 255px,#faa 257px,#ffc7c7 259px,#ffbaba 261px,#ffe1e1 265px,#ffd4d4 268px,#fff4f4 271px,#fff1f1 276px,#fbfbff 290px,#f8f8ff 307px)"></i><i style="top:382.05px;height:2.05px;background:linear-gradient(90deg,#f8f8ff 0,#fff8f8 173px,#ffd4d4 187px,#ffaeae 189px,#ffcbcb 191px,#ffc1c1 192px,#ff9696 193px,#ff9797 194px,#ffadad 195px,#ff7b7b 197px,#ff8a8a 199px,#ff6d6d 202px,#ff9393 204px,#ff9191 205px,#ff6f6f 206px,#ff8080 207px,#ff7575 208px,#ff5050 209px,#ff7676 211px,#ff6f6f 212px,#ffadad 215px,#ff9292 216px,#f99 218px,#ffacac 219px,#ffd5d5 220px,#f3f3ff 222px,#b9b9ff 224px,#9b9bff 226px,#fffcfc 230px,#ffb2b2 233px,#ffc0c0 236px,#ff9494 237px,#ffa5a5 239px,#ff8d8d 242px,#ffa6a6 243px,#ff9b9b 245px,#ffa4a4 248px,#ffc5c5 250px,#ffc1c1 251px,#ff9090 252px,#ffb4b4 254px,#ffa4a4 256px,#ffcdcd 259px,#ffc1c1 261px,#ffe2e2 266px,#ffd9d9 268px,#fff6f6 271px,#fff9f9 277px,#f8f8ff 307px)"></i><i style="top:384.05px;height:2.05px;background:linear-gradient(90deg,#f8f8ff 0,#fff7f7 174px,#ffd8d8 187px,#ffb6b6 189px,#ffd0d0 191px,#ffc7c7 192px,#ffa0a0 193px,#ffa0a0 194px,#ffb4b4 195px,#ff8686 197px,#ff9494 199px,#ff7878 202px,#ff9c9c 204px,#f99 205px,#ff7979 206px,#ff8989 207px,#ff7f7f 208px,#ff5c5c 209px,#ff8181 211px,#ff7a7a 212px,#ffb4b4 215px,#ff9b9b 216px,#ffa2a2 218px,#ffb3b3 219px,#ffd8d8 220px,#f6f6ff 222px,#c3c3ff 224px,#a9a9ff 226px,#fffbfb 230px,#ffb8b8 233px,#ffc5c5 236px,#ff9d9d 237px,#ffa7a7 240px,#ff9696 242px,#ffadad 243px,#ffa3a3 245px,#ffacac 248px,#ffcaca 250px,#ffc7c7 251px,#f99 252px,#ffbaba 254px,#ffacac 256px,#ffd2d2 259px,#ffc8c8 261px,#ffe6e6 266px,#fdd 268px,#fff8f8 271px,#f8f8ff 307px)"></i><i style="top:386.05px;height:1.05px;background:linear-gradient(90deg,#f8f8ff 0,#fff7f7 175px,#ffdcdc 187px,#ffbdbd 189px,#ffd4d4 191px,#fcc 192px,#ffa8a8 193px,#ffa8a8 194px,#ffbaba 195px,#ff8f8f 197px,#ff9c9c 199px,#ff8181 202px,#ffa3a3 204px,#ffa0a0 205px,#ff8282 206px,#ff9191 207px,#f88 208px,#ff6767 209px,#ff8989 211px,#ff8383 212px,#ffbaba 215px,#ffa2a2 216px,#ffb7b7 219px,#ffdada 220px,#fbfbff 222px,#ceceff 224px,#b9b9ff 226px,#fffafa 230px,#ffbdbd 233px,#ffcaca 236px,#ffa4a4 237px,#ffadad 240px,#ff9d9d 242px,#ffb3b3 243px,#ffb2b2 248px,#ffcece 250px,#ffcbcb 251px,#ffa1a1 252px,#ffc0c0 254px,#ffb3b3 256px,#ffd6d6 260px,#ffcdcd 261px,#ffe9e9 266px,#ffebeb 269px,#fff3f3 272px,#fafaff 288px,#f8f8ff 307px)"></i><i style="top:387.05px;height:1.05px;background:linear-gradient(90deg,#f8f8ff 0,#fff7f7 178px,#ffd5d5 188px,#ffc1c1 189px,#ffd7d7 191px,#ffd0d0 192px,#ffadad 193px,#ffbfbf 195px,#ff9595 197px,#ffa1a1 199px,#f88 202px,#ffa7a7 204px,#ffa5a5 205px,#ff8989 206px,#ff9797 207px,#ff8e8e 208px,#ff6f6f 209px,#ff8f8f 211px,#ff8989 212px,#ffbdbd 215px,#ffa7a7 216px,#fbb 219px,#ffdbdb 220px,#fff 222px,#d7d7ff 224px,#c5c5ff 226px,#fff8f8 230px,#ffc0c0 233px,#ffcdcd 236px,#ffa9a9 237px,#ffb2b2 240px,#ffa2a2 242px,#ffb7b7 243px,#ffb6b6 248px,#ffd1d1 250px,#ffcece 251px,#ffa6a6 252px,#ffc4c4 254px,#ffb7b7 256px,#ffd9d9 260px,#ffd8d8 262px,#ffebeb 266px,#ffeded 269px,#fff4f4 272px,#fafaff 289px,#f8f8ff 307px)"></i><i style="top:388.05px;height:1.05px;background:linear-gradient(90deg,#f8f8ff 0,#fff8f8 178px,#ffd8d8 188px,#ffc6c6 189px,#ffdada 191px,#ffd3d3 192px,#ffb3b3 193px,#ffc3c3 195px,#ff9c9c 197px,#ffa7a7 199px,#ff8f8f 202px,#ffadad 204px,#faa 205px,#ff9090 206px,#ff9d9d 207px,#ff9494 208px,#f77 209px,#ff9696 211px,#ff9090 212px,#ffc1c1 215px,#ffacac 216px,#ffbebe 219px,#ffdcdc 220px,#fffbfb 222px,#d2d2ff 226px,#fff6f6 230px,#ffc4c4 233px,#ffd0d0 236px,#ffaeae 237px,#ffb6b6 240px,#ffa8a8 242px,#fbb 243px,#fbb 248px,#ffd4d4 250px,#ffd1d1 251px,#ffacac 252px,#ffc8c8 254px,#ffbcbc 256px,#ffdcdc 260px,#ffdcdc 262px,#ffeded 266px,#ffefef 269px,#fffafa 275px,#f8f8ff 307px)"></i><i style="top:389.05px;height:1.05px;background:linear-gradient(90deg,#f8f8ff 0,#fff9f9 178px,#ffdbdb 188px,#ffcaca 189px,#fdd 191px,#ffd7d7 192px,#ffb8b8 193px,#ffc7c7 195px,#ffa3a3 197px,#ffadad 199px,#ff9696 202px,#ffb2b2 204px,#ffb0b0 205px,#ff9696 206px,#ffa3a3 207px,#ff9b9b 208px,#ff7f7f 209px,#ff9c9c 211px,#ff9797 212px,#ffc5c5 215px,#ffb1b1 216px,#ffc1c1 219px,#fdd 220px,#f6f6ff 223px,#dedeff 226px,#fafaff 229px,#ffc7c7 233px,#ffd3d3 236px,#ffb4b4 237px,#fbb 240px,#ffaeae 242px,#ffc0c0 243px,#ffbfbf 248px,#ffd7d7 250px,#ffd5d5 251px,#ffb2b2 252px,#fcc 254px,#ffc1c1 256px,#ffdfdf 260px,#ffe2e2 263px,#ffeded 267px,#fefeff 278px,#f8f8ff 307px)"></i><i style="top:390.05px;height:2.05px;background:linear-gradient(90deg,#f8f8ff 0,#fff7f7 180px,#ffe0e0 188px,#ffd1d1 189px,#ffe2e2 191px,#ffdcdc 192px,#ffc1c1 193px,#ffcece 195px,#ffadad 197px,#ffadad 200px,#ffa1a1 202px,#ffbaba 204px,#ffb8b8 205px,#ffa1a1 206px,#ffacac 207px,#ff8c8c 209px,#ffa6a6 211px,#ffa2a2 212px,#fcc 215px,#ffb9b9 216px,#ffc6c6 219px,#ffdede 220px,#fefcfd 223px,#f3f3ff 227px,#fffcfc 229px,#fcc 233px,#ffd8d8 236px,#ffbcbc 237px,#ffc3c3 240px,#ffb6b6 242px,#ffc7c7 243px,#ffc6c6 248px,#ffdada 251px,#ffbaba 252px,#ffd2d2 254px,#ffc9c9 256px,#ffe3e3 260px,#ffe7e7 263px,#fff0f0 267px,#fdfdff 278px,#f8f8ff 307px)"></i><i style="top:392.05px;height:2.05px;background:linear-gradient(90deg,#f8f8ff 0,#fff8f8 181px,#ffe6e6 188px,#fdd 190px,#ffe2e2 192px,#ffcbcb 193px,#ffd6d6 195px,#ffbaba 197px,#ffb7b7 201px,#ffb9b9 203px,#ffc3c3 205px,#ffafaf 206px,#ffb2b2 208px,#ff9d9d 209px,#ffb3b3 211px,#ffbcbc 213px,#ffd4d4 215px,#ffc4c4 216px,#fcc 219px,#ffe0e0 220px,#fffafa 227px,#ffd6d6 234px,#ffdfdf 236px,#ffc7c7 237px,#ffc8c8 241px,#ffc2c2 242px,#ffd0d0 243px,#ffd0d0 248px,#ffe0e0 251px,#ffc6c6 252px,#ffdada 254px,#ffdada 257px,#ffe9e9 260px,#fefeff 277px,#f8f8ff 307px)"></i><i style="top:394.05px;height:2.05px;background:linear-gradient(90deg,#f8f8ff 0,#fff9f9 183px,#ffe5e5 190px,#ffe9e9 192px,#ffd6d6 193px,#ffdfdf 195px,#ffc7c7 197px,#ffc4c4 201px,#ffc6c6 203px,#ffcdcd 205px,#ffbdbd 206px,#ffc0c0 208px,#ffadad 209px,#ffdcdc 215px,#ffcece 218px,#fdd 221px,#fff0f0 228px,#fdd 234px,#ffe5e5 236px,#ffd1d1 237px,#ffd2d2 241px,#ffe1e1 249px,#ffe7e7 251px,#ffd1d1 252px,#ffe2e2 254px,#ffe2e2 257px,#fffefe 273px,#f8f8ff 307px)"></i><i style="top:396.05px;height:2.05px;background:linear-gradient(90deg,#f8f8ff 0,#fff6f6 187px,#ffebeb 190px,#fee 192px,#ffdfdf 194px,#ffe6e6 195px,#ffd5d5 198px,#ffd1d1 203px,#ffd7d7 205px,#ffcaca 206px,#fcc 208px,#ffbdbd 209px,#ffe3e3 215px,#ffd7d7 219px,#ffe2e2 220px,#ffd3d3 222px,#ffe3e3 225px,#ffdfdf 227px,#ffe3e3 234px,#ffebeb 236px,#ffdada 237px,#ffe8e8 249px,#ffeded 251px,#ffdbdb 252px,#ffe3e3 255px,#fffbfb 267px,#f8f8ff 307px)"></i><i style="top:398.05px;height:2.05px;background:linear-gradient(90deg,#f8f8ff 0,#fff6f6 188px,#fff4f4 192px,#ffe7e7 194px,#ffe4e4 196px,#ffdcdc 203px,#ffe1e1 205px,#ffcbcb 209px,#ffe9e9 215px,#ffdbdb 219px,#ffe3e3 220px,#ffcdcd 222px,#ffdada 225px,#ffd5d5 227px,#ffe1e1 228px,#ffe9e9 234px,#fff0f0 236px,#ffe6e6 238px,#fee 249px,#fff2f2 251px,#ffe7e7 253px,#fdfdff 270px,#f8f8ff 307px)"></i><i style="top:400.05px;height:3.05px;background:linear-gradient(90deg,#f8f8ff 0,#fff9f9 192px,#ffe7e7 203px,#ffe0e0 210px,#fff0f0 215px,#ffe4e4 220px,#ffc6c6 222px,#ffd2d2 225px,#ffc5c5 226px,#ffdada 228px,#ffdada 230px,#fff5f5 236px,#ffeaea 242px,#fff8f8 251px,#fff0f0 253px,#fafaff 274px,#f8f8ff 307px)"></i><i style="top:403.05px;height:4.05px;background:linear-gradient(90deg,#f8f8ff 0,#fff7f7 196px,#fff0f0 213px,#ffe9e9 218px,#ffe5e5 220px,#ffc0c0 222px,#ffcaca 225px,#fbb 226px,#ffd3d3 228px,#ffd5d5 230px,#fff8f8 235px,#f8f8ff 307px)"></i><i style="top:407.05px;height:4.05px;background:linear-gradient(90deg,#f8f8ff 0,#fff8f8 208px,#fff0f0 217px,#ffe3e3 220px,#ffbaba 222px,#ffc5c5 225px,#ffb4b4 226px,#ffcece 228px,#ffcfcf 230px,#ffe2e2 232px,#fff8f8 236px,#f8f8ff 307px)"></i><i style="top:411.05px;height:4.05px;background:linear-gradient(90deg,#f8f8ff 0,#fffafa 208px,#ffebeb 217px,#fdd 220px,#ffb2b2 222px,#ffc0c0 225px,#ffaeae 226px,#ffc8c8 228px,#ffbcbc 229px,#ffd8d8 231px,#fff3f3 236px,#fff3f3 239px,#fafaff 258px,#f8f8ff 307px)"></i><i style="top:415.05px;height:3.05px;background:linear-gradient(90deg,#f8f8ff 0,#fff9f9 208px,#ffe5e5 216px,#ffd3d3 220px,#ffa5a5 222px,#fbb 225px,#ffa7a7 226px,#ffc0c0 228px,#ffb0b0 229px,#ffcbcb 231px,#ffcfcf 233px,#ffebeb 236px,#ffdede 237px,#fff 248px,#f8f8ff 307px)"></i><i style="top:418.05px;height:2.05px;background:linear-gradient(90deg,#f8f8ff 0,#fbfbff 201px,#fff7f7 208px,#ffeaea 215px,#ffc2c2 219px,#ffc8c8 220px,#ff9898 222px,#ffabab 223px,#ffb4b4 225px,#ff9e9e 226px,#ffb7b7 228px,#ffa3a3 229px,#ffbebe 231px,#ffc0c0 233px,#ffe0e0 235px,#ffe2e2 236px,#ffd2d2 237px,#fffbfb 247px,#f8f8ff 307px)"></i><i style="top:420.05px;height:2.05px;background:linear-gradient(90deg,#f8f8ff 0,#f7f7ff 197px,#fff8f8 207px,#ffe4e4 214px,#ffcfcf 217px,#ffb6b6 219px,#ffbfbf 220px,#ff8a8a 222px,#ffa2a2 223px,#ffadad 225px,#ff9595 226px,#ffafaf 228px,#ff9696 229px,#ff9a9a 230px,#ffb2b2 231px,#ffb2b2 233px,#ffd8d8 235px,#ffdbdb 236px,#ffc7c7 237px,#ffe1e1 241px,#fcfcff 250px,#f8f8ff 307px)"></i><i style="top:422.05px;height:2.05px;background:linear-gradient(90deg,#f8f8ff 0,#ececff 151px,#fefeff 203px,#ffdede 214px,#ffdfdf 215px,#ffa9a9 219px,#ffb3b3 220px,#ff7b7b 222px,#ff9696 223px,#ffa4a4 225px,#ff8a8a 226px,#ffa4a4 228px,#f88 229px,#ff8a8a 230px,#ffa5a5 231px,#f99 232px,#ffcfcf 235px,#ffd3d3 236px,#fbb 237px,#ffdada 241px,#fdfdff 250px,#f8f8ff 307px)"></i><i style="top:424.05px;height:2.05px;background:linear-gradient(90deg,#f8f8ff 0,#ebebff 142px,#eaeaff 182px,#fffdfd 205px,#ffd4d4 213px,#ffd8d8 215px,#ff9a9a 219px,#ffa8a8 220px,#ff6969 222px,#ff8a8a 223px,#ff9a9a 225px,#ff7d7d 226px,#f99 228px,#ff7878 229px,#ff7979 230px,#ff9696 231px,#f88 232px,#ffa9a9 234px,#ffc6c6 235px,#ffcaca 236px,#ffaeae 237px,#ffcfcf 240px,#fefeff 250px,#f8f8ff 307px)"></i><i style="top:426.05px;height:2.05px;background:linear-gradient(90deg,#f8f8ff 0,#ededff 132px,#e8e8ff 150px,#dedeff 154px,#ebebff 190px,#fffcfc 205px,#ffcdcd 213px,#ffd2d2 215px,#ffb7b7 216px,#ff8c8c 219px,#ff9b9b 220px,#ff5757 222px,#ff7c7c 223px,#ff8f8f 225px,#ff6f6f 226px,#ff8d8d 228px,#ff6767 229px,#ff6868 230px,#f88 231px,#f77 232px,#ff9c9c 234px,#ffbdbd 235px,#ffc1c1 236px,#ffa2a2 237px,#ffc7c7 240px,#ffcfcf 242px,#ffe3e3 244px,#fffefe 252px,#f8f8ff 307px)"></i><i style="top:428.05px;height:2.05px;background:linear-gradient(90deg,#f8f8ff 0,#eef 129px,#e3e3ff 150px,#d6d6ff 153px,#e0e0ff 182px,#fffbfb 205px,#ffc6c6 213px,#fcc 215px,#ffaeae 216px,#ff7e7e 219px,#ff8f8f 220px,#ff4545 222px,#ff6e6e 223px,#ff8484 225px,#ff6161 226px,#ff6767 227px,#ff8080 228px,#ff5656 229px,#ff5656 230px,#ff7979 231px,#f66 232px,#ff8f8f 234px,#ffb4b4 235px,#ffb9b9 236px,#ff9595 237px,#ffc0c0 240px,#ffc8c8 242px,#ffdfdf 244px,#fffdfd 252px,#f8f8ff 307px)"></i><i style="top:430.05px;height:2.05px;background:linear-gradient(90deg,#f8f8ff 0,#ebebff 129px,#dedeff 148px,#dfdfff 150px,#c9c9ff 152px,#d6d6ff 155px,#cfcfff 157px,#d6d6ff 177px,#e4e4ff 190px,#fffbfb 205px,#ffc0c0 213px,#ffc6c6 215px,#ffa5a5 216px,#ff9c9c 217px,#ff7171 219px,#ff8484 220px,#ff3434 222px,#ff6161 223px,#ff7979 225px,#ff5353 226px,#ff5a5a 227px,#ff7575 228px,#ff4646 229px,#ff4646 230px,#ff6c6c 231px,#ff5656 232px,#ff8383 234px,#ffacac 235px,#ffb1b1 236px,#ff8a8a 237px,#ffb2b2 239px,#ffc1c1 242px,#ffd7d7 243px,#fff 251px,#f7f7ff 301px,#f8f8ff 307px)"></i><i style="top:432.05px;height:2.05px;background:linear-gradient(90deg,#f7f7ff 0,#ececff 122px,#dbdbff 148px,#dcdcff 150px,#c3c3ff 152px,#d1d1ff 155px,#c9c9ff 157px,#cfcfff 169px,#d2d2ff 177px,#e1e1ff 190px,#fffafa 205px,#fbb 213px,#ffc1c1 215px,#ff9e9e 216px,#ff9494 217px,#f66 219px,#ff7b7b 220px,#ff2525 222px,#ff5656 223px,#ff7070 225px,#ff4747 226px,#ff4e4e 227px,#ff6b6b 228px,#ff3838 229px,#ff3838 230px,#ff6060 231px,#ff4949 232px,#ff5757 233px,#ffa5a5 235px,#faa 236px,#ff8080 237px,#ffacac 239px,#ffbcbc 242px,#ffd4d4 243px,#fffefe 251px,#efefff 293px,#f7f7ff 307px)"></i><i style="top:434.05px;height:4.05px;background:linear-gradient(90deg,#f7f7ff 0,#ececff 122px,#d9d9ff 148px,#dadaff 150px,#c0c0ff 152px,#cfcfff 155px,#c2c2ff 156px,#ccf 158px,#c1c1ff 160px,#c9c9ff 173px,#dfdfff 188px,#fff9f9 205px,#ffe2e2 208px,#fcc 210px,#ffb5b5 213px,#ffbcbc 215px,#ff9696 216px,#ff8c8c 217px,#ff5a5a 219px,#ff7171 220px,#ff1515 222px,#ff4a4a 223px,#ff4f4f 224px,#f66 225px,#ff3a3a 226px,#ff4242 227px,#ff6060 228px,#ff2a2a 229px,#ff2929 230px,#ff5454 231px,#ff3b3b 232px,#ff4a4a 233px,#ff9d9d 235px,#ffa3a3 236px,#ff7676 237px,#ffa5a5 239px,#ffb7b7 242px,#ffd0d0 243px,#fffefe 251px,#e8e8ff 290px,#f7f7ff 307px)"></i><i style="top:438.05px;height:3.31px;background:linear-gradient(90deg,#f7f7ff 0,#ebebff 128px,#ddf 148px,#dedeff 150px,#c7c7ff 152px,#d4d4ff 155px,#cdcdff 157px,#d4d4ff 177px,#e3e3ff 190px,#fffcfc 204px,#ffe0e0 208px,#fcc 209px,#ffb2b2 213px,#ffbaba 215px,#ff9292 216px,#f88 217px,#f55 219px,#ff6c6c 220px,#ff0f0f 222px,#ff4545 223px,#ff4a4a 224px,#ff6262 225px,#ff3535 226px,#ff3d3d 227px,#ff5c5c 228px,#ff2424 229px,#ff2323 230px,#ff4f4f 231px,#ff3636 232px,#ff4545 233px,#ff9a9a 235px,#ffa0a0 236px,#ff7272 237px,#ffa2a2 239px,#ffb4b4 242px,#ffcece 243px,#fffdfd 251px,#e9e9ff 290px,#f7f7ff 307px)"></i></div>
<div class="hm" style="left:62.3px;width:306px"><i style="top:514.05px;height:1.05px;background:linear-gradient(90deg,#f8f8ff 0,#fffefe 98px,#fffdfd 129px,#eef 169px,#e1e1ff 175px,#c5c5ff 177px,#c2c2ff 180px,#9c9cff 184px,#a7a7ff 186px,#8080ff 187px,#7171ff 189px,#77f 190px,#9d9dff 191px,#a3a3ff 192px,#8080ff 193px,#7070ff 196px,#9191ff 198px,#5656ff 200px,#1c1cff 201px,#0000dc 202px,#000085 203px,#00004c 204px,#00004c 211px,#0000ae 212px,#00004c 213px,#00004c 235px,#000058 236px,#00008e 237px,#00004c 238px,#00004c 248px,#000071 249px,#0000f9 250px,#9494ff 251px,#8282ff 252px,#a2a2ff 253px,#9c9cff 258px,#c8c8ff 260px,#b2b2ff 261px,#c1c1ff 263px,#b0b0ff 264px,#ccf 266px,#babaff 270px,#cdcdff 272px,#bfbfff 274px,#d5d5ff 277px,#d2d2ff 279px,#e1e1ff 281px,#e1e1ff 284px,#f6f6ff 302px,#f7f7ff 306px)"></i><i style="top:515.05px;height:1.05px;background:linear-gradient(90deg,#f8f8ff 0,#fff6f6 46px,#fff5f5 72px,#fff6f6 81px,#fff7f7 105px,#fff4f4 112px,#f6f6ff 159px,#dfdfff 175px,#bfbfff 177px,#bcbcff 180px,#adadff 181px,#b1b1ff 182px,#9292ff 184px,#9d9dff 186px,#7373ff 187px,#6262ff 189px,#6868ff 190px,#9292ff 191px,#99f 192px,#7272ff 193px,#6060ff 196px,#8181ff 198px,#3232ff 200px,#0000ed 201px,#0000ac 202px,#00004d 203px,#00004c 211px,#0000ab 212px,#00004c 213px,#000053 236px,#00008a 237px,#00004c 238px,#00004c 249px,#0000cb 250px,#7c7cff 251px,#6a6aff 252px,#9494ff 253px,#9d9dff 255px,#9292ff 258px,#c3c3ff 260px,#aaf 261px,#bbf 263px,#a8a8ff 264px,#c7c7ff 266px,#b3b3ff 270px,#c8c8ff 272px,#b8b8ff 274px,#d2d2ff 277px,#ceceff 279px,#dfdfff 281px,#dedeff 284px,#f5f5ff 298px,#f8f8ff 306px)"></i><i style="top:516.05px;height:1.05px;background:linear-gradient(90deg,#f8f8ff 0,#fff5f5 44px,#fff6f6 60px,#fff1f1 72px,#fff2f2 81px,#fff4f4 103px,#ffecec 107px,#fff6f6 109px,#fff1f1 112px,#fff7f7 124px,#ffefef 126px,#fffbfb 136px,#eef 168px,#dcdcff 175px,#b9b9ff 177px,#b6b6ff 180px,#a5a5ff 181px,#aaf 182px,#8787ff 184px,#9494ff 186px,#6565ff 187px,#5252ff 189px,#5959ff 190px,#8787ff 191px,#8f8fff 192px,#6464ff 193px,#4f4fff 196px,#7171ff 198px,#4848ff 199px,#0b0bff 200px,#00007d 202px,#00004c 203px,#00004c 211px,#0000a7 212px,#00004c 213px,#00004f 236px,#000087 237px,#00004c 238px,#00004c 249px,#00009c 250px,#6262ff 251px,#4f4fff 252px,#8585ff 253px,#9292ff 255px,#8787ff 258px,#bdbdff 260px,#a2a2ff 261px,#b4b4ff 263px,#a0a0ff 264px,#c1c1ff 266px,#ababff 270px,#c3c3ff 272px,#b1b1ff 274px,#cdcdff 277px,#cacaff 279px,#dcdcff 281px,#dbdbff 284px,#f3f3ff 295px,#f8f8ff 306px)"></i><i style="top:517.05px;height:1.05px;background:linear-gradient(90deg,#f8f8ff 0,#fff4f4 44px,#fff1f1 57px,#fff9f9 71px,#ffecec 75px,#fff5f5 79px,#fee 84px,#fff9f9 102px,#ffeaea 107px,#fff5f5 109px,#ffecec 111px,#fff3f3 114px,#ffefef 125px,#fbfbff 152px,#e2e2ff 171px,#dadaff 175px,#b3b3ff 177px,#b0b0ff 180px,#9d9dff 181px,#a2a2ff 182px,#7c7cff 184px,#8d8dff 185px,#8a8aff 186px,#5757ff 187px,#4242ff 189px,#4a4aff 190px,#7d7dff 191px,#8585ff 192px,#5656ff 193px,#3e3eff 196px,#5f5fff 198px,#2e2eff 199px,#0000eb 200px,#005 202px,#00004c 211px,#0000a4 212px,#00004c 213px,#00004c 236px,#000083 237px,#00004c 238px,#00004c 249px,#000070 250px,#4949ff 251px,#3434ff 252px,#7575ff 253px,#8787ff 255px,#7e7eff 257px,#7c7cff 258px,#b7b7ff 260px,#9a9aff 261px,#aeaeff 263px,#9797ff 264px,#bcbcff 266px,#a4a4ff 270px,#babaff 271px,#aaf 274px,#c9c9ff 277px,#c5c5ff 279px,#d9d9ff 280px,#d8d8ff 284px,#f3f3ff 295px,#f8f8ff 306px)"></i><i style="top:518.05px;height:1.05px;background:linear-gradient(90deg,#f8f8ff 0,#fff4f4 44px,#fff0f0 59px,#fff9f9 71px,#ffeded 75px,#fff6f6 79px,#ffefef 84px,#fff9f9 102px,#ffebeb 107px,#fff5f5 109px,#ffeded 111px,#fff3f3 114px,#fee 126px,#fffbfb 133px,#f3f3ff 163px,#d7d7ff 175px,#adadff 177px,#a9a9ff 180px,#9595ff 181px,#9a9aff 182px,#7171ff 184px,#8383ff 185px,#8080ff 186px,#4848ff 187px,#3232ff 189px,#3a3aff 190px,#7272ff 191px,#7b7bff 192px,#4848ff 193px,#2c2cff 196px,#4f4fff 198px,#1515ff 199px,#0000d1 200px,#00007f 201px,#00004c 202px,#00004c 211px,#0000a1 212px,#00004c 213px,#00004c 236px,#000080 237px,#00004c 238px,#00004c 250px,#3131ff 251px,#1a1aff 252px,#6565ff 253px,#7d7dff 255px,#7373ff 257px,#7272ff 258px,#b2b2ff 260px,#9292ff 261px,#a7a7ff 263px,#8f8fff 264px,#b7b7ff 266px,#a8a8ff 267px,#acacff 268px,#9c9cff 270px,#b4b4ff 271px,#b8b8ff 272px,#a3a3ff 274px,#c5c5ff 277px,#c0c0ff 279px,#d6d6ff 280px,#d6d6ff 284px,#ececff 291px,#f7f7ff 306px)"></i><i style="top:519.05px;height:1.05px;background:linear-gradient(90deg,#f8f8ff 0,#fff7f7 44px,#fff4f4 65px,#fff3f3 72px,#fff4f4 81px,#fff5f5 105px,#fff2f2 112px,#fff3f3 125px,#f7f7ff 156px,#e8e8ff 169px,#d4d4ff 175px,#a7a7ff 177px,#aeaeff 179px,#8d8dff 181px,#9393ff 182px,#66f 184px,#7a7aff 185px,#77f 186px,#3a3aff 187px,#22f 189px,#2b2bff 190px,#6767ff 191px,#7171ff 192px,#3a3aff 193px,#1c1cff 196px,#3f3fff 198px,#0000fe 199px,#00b 200px,#000063 201px,#00004c 202px,#00004c 211px,#00009e 212px,#00004c 213px,#00004c 236px,#00007c 237px,#00004c 238px,#00004c 250px,#1b1bff 251px,#0303ff 252px,#5757ff 253px,#7272ff 255px,#6464ff 256px,#6767ff 258px,#acacff 260px,#8a8aff 261px,#a1a1ff 263px,#8686ff 264px,#b1b1ff 266px,#a1a1ff 267px,#a5a5ff 268px,#9393ff 269px,#9595ff 270px,#afafff 271px,#b3b3ff 272px,#9c9cff 274px,#c1c1ff 277px,#bcbcff 279px,#d3d3ff 280px,#d3d3ff 284px,#ebebff 291px,#f7f7ff 306px)"></i><i style="top:520.05px;height:1.05px;background:linear-gradient(90deg,#f7f7ff 0,#fff8f8 57px,#fff8f8 81px,#fff9f9 105px,#f5f5ff 158px,#e7e7ff 169px,#d2d2ff 175px,#a1a1ff 177px,#a8a8ff 179px,#8585ff 181px,#8b8bff 182px,#5c5cff 184px,#7070ff 185px,#6d6dff 186px,#2c2cff 187px,#1212ff 189px,#1d1dff 190px,#5d5dff 191px,#6868ff 192px,#2c2cff 193px,#0c0cff 196px,#3131ff 198px,#0000f0 199px,#0000a8 200px,#00004e 201px,#00004c 211px,#00009b 212px,#00004c 213px,#00004c 236px,#00007a 237px,#00004c 238px,#00004c 250px,#0a0aff 251px,#0000f3 252px,#4a4aff 253px,#6969ff 255px,#5a5aff 256px,#5d5dff 258px,#a7a7ff 260px,#8282ff 261px,#8585ff 262px,#9a9aff 263px,#7e7eff 264px,#acacff 266px,#9b9bff 267px,#9f9fff 268px,#8c8cff 269px,#8d8dff 270px,#a9a9ff 271px,#aeaeff 272px,#9595ff 274px,#a6a6ff 276px,#bdbdff 277px,#b7b7ff 279px,#d0d0ff 280px,#c6c6ff 283px,#dedeff 286px,#f7f7ff 306px)"></i><i style="top:521.05px;height:1.05px;background:linear-gradient(90deg,#f7f7ff 0,#f7f7ff 154px,#e6e6ff 169px,#cfcfff 175px,#9c9cff 177px,#a3a3ff 179px,#7e7eff 181px,#8484ff 182px,#5151ff 184px,#6868ff 185px,#6464ff 186px,#1f1fff 187px,#0404ff 189px,#0f0fff 190px,#5353ff 191px,#5f5fff 192px,#1f1fff 193px,#0000fd 196px,#2525ff 198px,#0000e5 199px,#00004c 201px,#00004c 211px,#000098 212px,#00004c 213px,#00004c 236px,#007 237px,#00004c 238px,#00004c 250px,#0000fd 251px,#0000e8 252px,#3f3fff 253px,#6060ff 255px,#5050ff 256px,#5353ff 258px,#a2a2ff 260px,#7a7aff 261px,#7d7dff 262px,#9494ff 263px,#7676ff 264px,#a7a7ff 266px,#9595ff 267px,#99f 268px,#8585ff 269px,#8686ff 270px,#a4a4ff 271px,#a9a9ff 272px,#8f8fff 274px,#a1a1ff 276px,#b9b9ff 277px,#b3b3ff 279px,#cdcdff 280px,#c3c3ff 283px,#dcdcff 286px,#d8d8ff 287px,#e7e7ff 289px,#f7f7ff 306px)"></i><i style="top:522.05px;height:1.05px;background:linear-gradient(90deg,#f7f7ff 0,#f6f6ff 153px,#e5e5ff 169px,#d4d4ff 173px,#cdcdff 175px,#9797ff 177px,#9f9fff 179px,#77f 181px,#7e7eff 182px,#4848ff 184px,#5f5fff 185px,#5c5cff 186px,#1313ff 187px,#0000f8 189px,#0202ff 190px,#4949ff 191px,#55f 192px,#11f 193px,#0000fc 195px,#0000f1 196px,#0303ff 197px,#1b1bff 198px,#0000dc 199px,#00004c 201px,#00004c 211px,#000096 212px,#00004c 213px,#00004c 236px,#000075 237px,#00004c 238px,#00004c 250px,#0000f7 251px,#0000e0 252px,#3737ff 253px,#5959ff 255px,#4848ff 256px,#4b4bff 258px,#9d9dff 260px,#7373ff 261px,#77f 262px,#8f8fff 263px,#6f6fff 264px,#a3a3ff 266px,#8f8fff 267px,#9494ff 268px,#7e7eff 269px,#7f7fff 270px,#9f9fff 271px,#a4a4ff 272px,#8989ff 274px,#9c9cff 276px,#b5b5ff 277px,#aeaeff 279px,#cbcbff 280px,#c0c0ff 283px,#dadaff 286px,#d6d6ff 287px,#e6e6ff 289px,#f7f7ff 306px)"></i><i style="top:523.05px;height:1.05px;background:linear-gradient(90deg,#f7f7ff 0,#f3f3ff 158px,#e4e4ff 169px,#d2d2ff 173px,#cbcbff 175px,#9292ff 177px,#9a9aff 179px,#7171ff 181px,#7878ff 182px,#3f3fff 184px,#5858ff 185px,#5454ff 186px,#0808ff 187px,#0000ef 189px,#0000f8 190px,#4141ff 191px,#4c4cff 192px,#0101ff 193px,#0000e3 196px,#1212ff 198px,#0000d6 199px,#00004c 201px,#00004c 211px,#000095 212px,#00004c 213px,#00004c 236px,#000073 237px,#00004c 238px,#00004c 250px,#0000f4 251px,#0000db 252px,#3232ff 253px,#5353ff 255px,#4040ff 256px,#4343ff 258px,#99f 260px,#6d6dff 261px,#7070ff 262px,#8a8aff 263px,#6868ff 264px,#9e9eff 266px,#8a8aff 267px,#8f8fff 268px,#7878ff 269px,#7979ff 270px,#9b9bff 271px,#a0a0ff 272px,#8383ff 274px,#9797ff 276px,#b1b1ff 277px,#ababff 279px,#c8c8ff 280px,#bdbdff 283px,#d9d9ff 286px,#d4d4ff 287px,#e5e5ff 289px,#f6f6ff 306px)"></i><i style="top:524.05px;height:1.05px;background:linear-gradient(90deg,#f7f7ff 0,#f1f1ff 159px,#e4e4ff 169px,#d1d1ff 173px,#cacaff 175px,#8f8fff 177px,#9797ff 179px,#6b6bff 181px,#7373ff 182px,#3838ff 184px,#5151ff 185px,#4e4eff 186px,#0000fd 187px,#0000e7 189px,#0000f0 190px,#3838ff 191px,#4242ff 192px,#0000f2 193px,#0000d7 195px,#0000cf 196px,#0909ff 198px,#0000d2 199px,#00004c 201px,#00004c 211px,#000093 212px,#00004c 213px,#00004c 236px,#000071 237px,#00004c 238px,#00004c 250px,#0000f2 251px,#0000d8 252px,#2e2eff 253px,#4e4eff 255px,#3a3aff 256px,#3d3dff 258px,#9595ff 260px,#6868ff 261px,#6b6bff 262px,#8585ff 263px,#6262ff 264px,#9b9bff 266px,#8585ff 267px,#8a8aff 268px,#7272ff 269px,#7474ff 270px,#9797ff 271px,#9c9cff 272px,#7d7dff 274px,#9292ff 276px,#aeaeff 277px,#a7a7ff 279px,#c6c6ff 280px,#babaff 283px,#d7d7ff 286px,#d2d2ff 287px,#e4e4ff 289px,#f6f6ff 306px)"></i><i style="top:525.05px;height:1.05px;background:linear-gradient(90deg,#f7f7ff 0,#efefff 163px,#e3e3ff 169px,#d0d0ff 173px,#c8c8ff 175px,#8c8cff 177px,#9494ff 179px,#6767ff 181px,#6e6eff 182px,#3131ff 184px,#4c4cff 185px,#4848ff 186px,#0000f7 187px,#0000e1 189px,#0000ea 190px,#3030ff 191px,#3636ff 192px,#0000de 193px,#0000be 194px,#0000b0 196px,#0000fe 198px,#0000cf 199px,#00004c 201px,#00004c 211px,#000093 212px,#00004c 213px,#00004c 236px,#000071 237px,#00004c 238px,#00004c 250px,#0000f2 251px,#0000d7 252px,#2c2cff 253px,#4a4aff 255px,#3636ff 256px,#3737ff 258px,#9292ff 260px,#6363ff 261px,#6767ff 262px,#8282ff 263px,#5d5dff 264px,#9797ff 266px,#8181ff 267px,#8686ff 268px,#6e6eff 269px,#6f6fff 270px,#9393ff 271px,#9898ff 272px,#7979ff 274px,#8f8fff 276px,#ababff 277px,#a4a4ff 279px,#c4c4ff 280px,#b8b8ff 283px,#d6d6ff 286px,#d1d1ff 287px,#e4e4ff 289px,#f6f6ff 306px)"></i><i style="top:526.05px;height:1.05px;background:linear-gradient(90deg,#f6f6ff 0,#efefff 163px,#e3e3ff 169px,#d0d0ff 173px,#c8c8ff 175px,#8989ff 177px,#9191ff 179px,#6363ff 181px,#6b6bff 182px,#2c2cff 184px,#4747ff 185px,#4343ff 186px,#0000f3 187px,#0000dc 189px,#0000e4 190px,#2727ff 191px,#2727ff 192px,#0000c3 193px,#000092 194px,#000082 196px,#0000f5 198px,#0000ce 199px,#00004c 201px,#00004c 211px,#000092 212px,#00004c 213px,#00004c 236px,#000070 237px,#00004c 238px,#00004c 250px,#0000f6 251px,#0000da 252px,#2d2dff 253px,#4848ff 255px,#33f 256px,#33f 258px,#9090ff 260px,#6060ff 261px,#6363ff 262px,#7f7fff 263px,#5959ff 264px,#9595ff 266px,#7e7eff 267px,#8383ff 268px,#6a6aff 269px,#6b6bff 270px,#9090ff 271px,#9595ff 272px,#7575ff 274px,#8b8bff 276px,#a9a9ff 277px,#a1a1ff 279px,#c3c3ff 280px,#b6b6ff 283px,#d5d5ff 286px,#d0d0ff 287px,#e3e3ff 289px,#f6f6ff 306px)"></i><i style="top:527.05px;height:1.05px;background:linear-gradient(90deg,#f6f6ff 0,#efefff 163px,#e3e3ff 169px,#cfcfff 173px,#c7c7ff 175px,#88f 177px,#9090ff 179px,#6060ff 181px,#6868ff 182px,#2828ff 184px,#44f 185px,#4040ff 186px,#0000ef 187px,#0000d8 189px,#0000df 190px,#1f1fff 191px,#1515ff 192px,#0000a0 193px,#000057 194px,#00004c 196px,#0000eb 198px,#0000cf 199px,#00004c 201px,#00004c 211px,#000093 212px,#00004c 213px,#00004c 236px,#000071 237px,#00004c 238px,#00004c 250px,#0000fc 251px,#0000e1 252px,#3030ff 253px,#4848ff 255px,#3131ff 256px,#3131ff 258px,#8f8fff 260px,#5e5eff 261px,#6161ff 262px,#7c7cff 263px,#5757ff 264px,#9393ff 266px,#7b7bff 267px,#8181ff 268px,#6767ff 269px,#6868ff 270px,#8e8eff 271px,#9393ff 272px,#7272ff 274px,#8989ff 276px,#a7a7ff 277px,#9f9fff 279px,#c1c1ff 280px,#b4b4ff 283px,#d4d4ff 286px,#cfcfff 287px,#e2e2ff 289px,#f6f6ff 306px)"></i><i style="top:528.05px;height:1.05px;background:linear-gradient(90deg,#f6f6ff 0,#efefff 163px,#e3e3ff 169px,#cfcfff 173px,#c7c7ff 175px,#8787ff 177px,#8f8fff 179px,#5f5fff 181px,#66f 182px,#2626ff 184px,#4242ff 185px,#3e3eff 186px,#0000ed 187px,#0000d5 189px,#0000dc 190px,#1616ff 191px,#0202ff 192px,#007 193px,#00004c 194px,#00004c 196px,#000079 197px,#0000e1 198px,#0000d3 199px,#0000a1 200px,#000051 201px,#00004c 211px,#000094 212px,#00004c 213px,#00004c 236px,#000072 237px,#00004c 238px,#00004c 250px,#0a0aff 251px,#0000ea 252px,#3737ff 253px,#4949ff 255px,#3232ff 256px,#3030ff 258px,#8e8eff 260px,#5c5cff 261px,#5f5fff 262px,#7b7bff 263px,#55f 264px,#9292ff 266px,#7a7aff 267px,#7f7fff 268px,#6565ff 269px,#66f 270px,#8c8cff 271px,#9292ff 272px,#7070ff 274px,#8787ff 276px,#a5a5ff 277px,#9e9eff 279px,#c0c0ff 280px,#b3b3ff 283px,#d3d3ff 286px,#ceceff 287px,#e2e2ff 289px,#f6f6ff 306px)"></i><i style="top:529.05px;height:1.05px;background:linear-gradient(90deg,#f6f6ff 0,#f0f0ff 163px,#e3e3ff 169px,#d0d0ff 173px,#c7c7ff 175px,#8787ff 177px,#8f8fff 179px,#5e5eff 181px,#66f 182px,#2525ff 184px,#4141ff 185px,#3d3dff 186px,#0000ec 187px,#0000d4 189px,#0000d9 190px,#0f0fff 191px,#0000f3 192px,#00004f 193px,#000054 197px,#0000d8 198px,#0000d9 199px,#0000b2 200px,#00006a 201px,#00004c 202px,#00004c 211px,#000095 212px,#00004c 213px,#00004c 236px,#000073 237px,#00004c 238px,#00004c 250px,#1d1dff 251px,#0000f7 252px,#4040ff 253px,#4c4cff 255px,#33f 256px,#3131ff 258px,#8e8eff 260px,#5c5cff 261px,#5f5fff 262px,#7b7bff 263px,#5454ff 264px,#9191ff 266px,#7979ff 267px,#7e7eff 268px,#6464ff 269px,#6565ff 270px,#8b8bff 271px,#9191ff 272px,#6e6eff 274px,#8686ff 276px,#a5a5ff 277px,#9d9dff 279px,#c0c0ff 280px,#b2b2ff 283px,#d3d3ff 286px,#ceceff 287px,#e1e1ff 288px,#f6f6ff 306px)"></i><i style="top:530.05px;height:1.05px;background:linear-gradient(90deg,#f6f6ff 0,#f0f0ff 163px,#e4e4ff 169px,#d0d0ff 173px,#c8c8ff 175px,#88f 177px,#8f8fff 179px,#5f5fff 181px,#6767ff 182px,#2525ff 184px,#4141ff 185px,#3d3dff 186px,#0000ed 187px,#0000d5 189px,#0000d9 190px,#0b0bff 191px,#0000ea 192px,#00004c 193px,#00004c 197px,#0000d4 198px,#0000e3 199px,#0000c8 200px,#00004c 202px,#00004c 211px,#000097 212px,#00004c 213px,#00004c 236px,#000075 237px,#00004c 238px,#00004c 249px,#000059 250px,#3232ff 251px,#0a0aff 252px,#4a4aff 253px,#5050ff 255px,#3737ff 256px,#33f 258px,#8f8fff 260px,#5d5dff 261px,#6060ff 262px,#7b7bff 263px,#55f 264px,#9191ff 266px,#7979ff 267px,#7e7eff 268px,#6363ff 269px,#6464ff 270px,#8b8bff 271px,#9191ff 272px,#6e6eff 274px,#8585ff 276px,#a4a4ff 277px,#9c9cff 279px,#c0c0ff 280px,#b2b2ff 283px,#d3d3ff 286px,#cdcdff 287px,#e1e1ff 288px,#f6f6ff 306px)"></i><i style="top:531.05px;height:1.05px;background:linear-gradient(90deg,#f6f6ff 0,#f0f0ff 163px,#e5e5ff 169px,#d1d1ff 173px,#c9c9ff 175px,#8a8aff 177px,#9191ff 179px,#6161ff 181px,#6868ff 182px,#2828ff 184px,#4343ff 185px,#3f3fff 186px,#0000ef 187px,#0000d7 189px,#0000db 190px,#0b0bff 191px,#0000e7 192px,#00004c 193px,#00004c 197px,#0000d7 198px,#0000ef 199px,#0000e0 200px,#00006c 202px,#00004c 203px,#00004c 211px,#00009a 212px,#00004c 213px,#00004c 236px,#000078 237px,#00004c 238px,#00004c 249px,#000084 250px,#4a4aff 251px,#2020ff 252px,#5656ff 253px,#5656ff 255px,#3c3cff 256px,#3737ff 258px,#9090ff 260px,#5f5fff 261px,#6262ff 262px,#7d7dff 263px,#5656ff 264px,#9292ff 266px,#7a7aff 267px,#7f7fff 268px,#6464ff 269px,#6565ff 270px,#8c8cff 271px,#9191ff 272px,#6f6fff 274px,#8686ff 276px,#a5a5ff 277px,#9d9dff 279px,#c0c0ff 280px,#b2b2ff 283px,#d3d3ff 286px,#cdcdff 287px,#e1e1ff 288px,#f6f6ff 306px)"></i><i style="top:532.05px;height:1.05px;background:linear-gradient(90deg,#f6f6ff 0,#f1f1ff 163px,#e5e5ff 169px,#d2d2ff 173px,#cacaff 175px,#8c8cff 177px,#9393ff 179px,#6363ff 181px,#6b6bff 182px,#2b2bff 184px,#4646ff 185px,#4242ff 186px,#0000f2 187px,#0000db 189px,#0000df 190px,#11f 191px,#0000ed 192px,#00004c 193px,#00004c 197px,#0000e3 198px,#00f 199px,#0000f8 200px,#009 202px,#00004c 203px,#00004c 211px,#00009d 212px,#00004c 213px,#00004c 236px,#00007b 237px,#00004c 238px,#00004c 249px,#0000b0 250px,#6161ff 251px,#3737ff 252px,#6262ff 253px,#5c5cff 255px,#4242ff 256px,#3c3cff 258px,#9393ff 260px,#6262ff 261px,#6464ff 262px,#7f7fff 263px,#5959ff 264px,#9494ff 266px,#7c7cff 267px,#8181ff 268px,#66f 269px,#6767ff 270px,#8d8dff 271px,#9292ff 272px,#7070ff 274px,#8787ff 276px,#a5a5ff 277px,#9d9dff 279px,#c0c0ff 280px,#b3b3ff 283px,#d3d3ff 286px,#ceceff 287px,#e2e2ff 289px,#f6f6ff 306px)"></i><i style="top:533.05px;height:1.05px;background:linear-gradient(90deg,#f7f7ff 0,#f1f1ff 163px,#ccf 175px,#9090ff 177px,#9595ff 179px,#6767ff 181px,#6e6eff 182px,#3030ff 184px,#4b4bff 185px,#4747ff 186px,#0000f7 187px,#0000e1 189px,#0000e6 190px,#1b1bff 191px,#0000f9 192px,#000054 193px,#00004c 196px,#000067 197px,#0000f6 198px,#1a1aff 199px,#1919ff 200px,#0000f6 201px,#0000c9 202px,#007 203px,#00004c 204px,#00004c 211px,#0000a1 212px,#00004c 213px,#00004c 236px,#00007f 237px,#00004c 238px,#00004c 248px,#000058 249px,#0000dc 250px,#77f 251px,#4c4cff 252px,#6e6eff 253px,#6464ff 255px,#4a4aff 256px,#4242ff 258px,#9696ff 260px,#6767ff 261px,#6868ff 262px,#8282ff 263px,#5d5dff 264px,#9696ff 266px,#7f7fff 267px,#8484ff 268px,#6969ff 269px,#6a6aff 270px,#8f8fff 271px,#9494ff 272px,#7373ff 274px,#8989ff 276px,#a7a7ff 277px,#9f9fff 279px,#c1c1ff 280px,#b4b4ff 283px,#d4d4ff 286px,#cfcfff 287px,#e2e2ff 289px,#f6f6ff 306px)"></i><i style="top:534.05px;height:1.05px;background:linear-gradient(90deg,#f7f7ff 0,#f1f1ff 163px,#cdcdff 175px,#9494ff 177px,#99f 179px,#6c6cff 181px,#7373ff 182px,#3636ff 184px,#5050ff 185px,#4c4cff 186px,#0000fc 187px,#0000e8 189px,#00e 190px,#2828ff 191px,#1010ff 192px,#000081 193px,#00004c 194px,#00004c 196px,#000097 197px,#1414ff 198px,#3434ff 199px,#3838ff 200px,#0000f7 202px,#0000b5 203px,#00004c 204px,#00004c 211px,#0000a5 212px,#00004c 213px,#00004c 236px,#000084 237px,#00004c 238px,#000051 248px,#00009f 249px,#0606ff 250px,#8b8bff 251px,#6060ff 252px,#7979ff 253px,#6c6cff 255px,#5252ff 256px,#4a4aff 258px,#99f 260px,#6c6cff 261px,#6d6dff 262px,#8686ff 263px,#6262ff 264px,#99f 266px,#8282ff 267px,#8787ff 268px,#6d6dff 269px,#6e6eff 270px,#9292ff 271px,#9797ff 272px,#7676ff 274px,#8c8cff 276px,#a9a9ff 277px,#a1a1ff 279px,#c3c3ff 280px,#b5b5ff 283px,#d4d4ff 286px,#cfcfff 287px,#e3e3ff 289px,#f6f6ff 306px)"></i><i style="top:535.05px;height:1.05px;background:linear-gradient(90deg,#f7f7ff 0,#ededff 164px,#dadaff 174px,#babaff 176px,#9898ff 177px,#9d9dff 179px,#7272ff 181px,#7878ff 182px,#3e3eff 184px,#5656ff 185px,#5353ff 186px,#0606ff 187px,#0000f0 189px,#0000f7 190px,#3737ff 191px,#2a2aff 192px,#0000b1 193px,#000065 194px,#00004d 195px,#000060 196px,#0000c9 197px,#3535ff 198px,#5353ff 200px,#2d2dff 202px,#0000ef 203px,#00005a 204px,#00004c 206px,#00004c 211px,#0000ab 212px,#00004c 213px,#000052 236px,#000089 237px,#00004c 238px,#00004c 247px,#0000a4 248px,#0000dc 249px,#3535ff 250px,#9b9bff 251px,#7171ff 252px,#8484ff 253px,#7474ff 255px,#5b5bff 256px,#5252ff 258px,#9d9dff 260px,#7272ff 261px,#7373ff 262px,#8a8aff 263px,#6868ff 264px,#9c9cff 266px,#8686ff 267px,#8b8bff 268px,#7272ff 269px,#7272ff 270px,#9595ff 271px,#9a9aff 272px,#7a7aff 274px,#8f8fff 276px,#ababff 277px,#a4a4ff 279px,#c4c4ff 280px,#b7b7ff 283px,#d6d6ff 286px,#d1d1ff 287px,#e3e3ff 289px,#f6f6ff 306px)"></i><i style="top:536.05px;height:1.05px;background:linear-gradient(90deg,#f7f7ff 0,#efefff 167px,#d2d2ff 175px,#9d9dff 177px,#a1a1ff 179px,#7878ff 181px,#7e7eff 182px,#4646ff 184px,#5d5dff 185px,#5a5aff 186px,#11f 187px,#0000f9 189px,#0202ff 190px,#4545ff 191px,#4343ff 192px,#00d 193px,#0000ab 194px,#00009e 195px,#0000ab 196px,#0000f6 197px,#5454ff 198px,#6a6aff 200px,#5a5aff 202px,#2f2fff 203px,#0000b5 204px,#00004c 205px,#00004c 211px,#0000b5 212px,#00004c 213px,#00004c 235px,#00005a 236px,#000090 237px,#00004c 238px,#00004f 246px,#0000ea 248px,#1515ff 249px,#a9a9ff 251px,#8080ff 252px,#8f8fff 253px,#7e7eff 255px,#6565ff 256px,#5b5bff 258px,#a2a2ff 260px,#7878ff 261px,#7979ff 262px,#9090ff 263px,#6e6eff 264px,#a0a0ff 266px,#8b8bff 267px,#8f8fff 268px,#77f 269px,#7878ff 270px,#99f 271px,#9d9dff 272px,#7f7fff 274px,#9393ff 276px,#aeaeff 277px,#a7a7ff 279px,#c6c6ff 280px,#b9b9ff 283px,#d7d7ff 286px,#d2d2ff 287px,#e4e4ff 289px,#f6f6ff 306px)"></i><i style="top:537.05px;height:1.05px;background:linear-gradient(90deg,#f7f7ff 0,#eef 168px,#d5d5ff 175px,#a3a3ff 177px,#a6a6ff 179px,#7f7fff 181px,#8484ff 182px,#4f4fff 184px,#6565ff 185px,#6262ff 186px,#1d1dff 187px,#0505ff 189px,#11f 190px,#5353ff 191px,#5858ff 192px,#0101ff 193px,#0000e2 194px,#0000e5 196px,#2626ff 197px,#6e6eff 198px,#7c7cff 202px,#6464ff 203px,#0000fe 204px,#000097 205px,#00004c 206px,#00004c 211px,#0000c4 212px,#00004c 213px,#00004c 235px,#000065 236px,#00009b 237px,#00004c 238px,#00004c 244px,#0000eb 247px,#2f2fff 248px,#4a4aff 249px,#b4b4ff 251px,#8e8eff 252px,#99f 253px,#8787ff 255px,#7070ff 256px,#66f 258px,#a7a7ff 260px,#8080ff 261px,#8080ff 262px,#9595ff 263px,#7575ff 264px,#a4a4ff 266px,#9090ff 267px,#9494ff 268px,#7d7dff 269px,#7d7dff 270px,#9d9dff 271px,#a1a1ff 272px,#8484ff 274px,#9797ff 276px,#b1b1ff 277px,#aaf 279px,#c8c8ff 280px,#bcbcff 283px,#d8d8ff 286px,#d4d4ff 287px,#e5e5ff 289px,#f6f6ff 306px)"></i><i style="top:538.05px;height:1.05px;background:linear-gradient(90deg,#f7f7ff 0,#efefff 168px,#d7d7ff 175px,#a9a9ff 177px,#acacff 179px,#8686ff 181px,#8b8bff 182px,#5959ff 184px,#6e6eff 185px,#6b6bff 186px,#2a2aff 187px,#1313ff 189px,#2020ff 190px,#6060ff 191px,#6969ff 192px,#2626ff 193px,#0e0eff 194px,#1717ff 196px,#8282ff 198px,#9595ff 202px,#8989ff 203px,#0000f4 205px,#0000a0 206px,#00008f 207px,#00009e 208px,#00008c 209px,#00004c 210px,#00004c 211px,#0000df 212px,#00004c 213px,#00004c 235px,#0000af 237px,#00004c 238px,#00004c 243px,#000090 244px,#0000ed 245px,#1414ff 246px,#66f 248px,#7171ff 249px,#bebeff 251px,#9b9bff 252px,#a3a3ff 253px,#7878ff 257px,#7070ff 258px,#adadff 260px,#8787ff 261px,#88f 262px,#9b9bff 263px,#7d7dff 264px,#a9a9ff 266px,#9696ff 267px,#99f 268px,#8484ff 269px,#8484ff 270px,#a2a2ff 271px,#a6a6ff 272px,#8a8aff 274px,#9c9cff 276px,#b5b5ff 277px,#aeaeff 279px,#cacaff 280px,#bfbfff 283px,#dadaff 286px,#d5d5ff 287px,#e6e6ff 289px,#f6f6ff 306px)"></i><i style="top:539.05px;height:1.05px;background:linear-gradient(90deg,#f7f7ff 0,#eef 169px,#dadaff 175px,#afafff 177px,#a5a5ff 180px,#8e8eff 181px,#9393ff 182px,#6464ff 184px,#77f 185px,#7474ff 186px,#3737ff 187px,#2323ff 189px,#2f2fff 190px,#6c6cff 191px,#77f 192px,#4141ff 193px,#3434ff 194px,#3f3fff 196px,#9292ff 198px,#a4a4ff 203px,#4a4aff 205px,#0707ff 206px,#0606ff 208px,#0000f0 209px,#006 210px,#000062 211px,#1313ff 212px,#000069 213px,#00004c 214px,#00004c 217px,#00005b 218px,#00004c 220px,#00004c 235px,#00009e 236px,#0000d4 237px,#00004c 238px,#00004c 241px,#0000ab 242px,#0101ff 244px,#5050ff 245px,#8d8dff 248px,#a1a1ff 250px,#c7c7ff 251px,#a7a7ff 252px,#adadff 253px,#7b7bff 258px,#b2b2ff 260px,#8f8fff 261px,#a1a1ff 263px,#8585ff 264px,#aeaeff 266px,#9c9cff 267px,#9f9fff 268px,#8b8bff 269px,#8b8bff 270px,#a7a7ff 271px,#aaf 272px,#9090ff 274px,#a1a1ff 276px,#b8b8ff 277px,#b2b2ff 279px,#cdcdff 280px,#c2c2ff 283px,#dbdbff 286px,#d7d7ff 287px,#e7e7ff 289px,#f7f7ff 306px)"></i><i style="top:540.05px;height:1.05px;background:linear-gradient(90deg,#f7f7ff 0,#efefff 169px,#ddf 175px,#b6b6ff 177px,#acacff 180px,#9696ff 181px,#9a9aff 182px,#6f6fff 184px,#8181ff 185px,#7e7eff 186px,#4646ff 187px,#33f 189px,#3f3fff 190px,#77f 191px,#8383ff 192px,#5656ff 193px,#5656ff 195px,#5b5bff 196px,#a0a0ff 198px,#b8b8ff 203px,#6363ff 206px,#6e6eff 208px,#5f5fff 209px,#0000ed 210px,#0000e2 211px,#6363ff 212px,#0000ce 213px,#00004c 214px,#00004c 217px,#000094 218px,#00004c 219px,#00004c 221px,#00007c 222px,#00004c 223px,#00004c 232px,#000061 233px,#00004c 234px,#00004c 235px,#0000df 236px,#1717ff 237px,#0000a3 238px,#008 239px,#0000d3 240px,#0000d9 241px,#2a2aff 242px,#9595ff 245px,#b2b2ff 250px,#cfcfff 251px,#b3b3ff 252px,#a6a6ff 255px,#8e8eff 257px,#8787ff 258px,#b8b8ff 260px,#9898ff 261px,#a8a8ff 263px,#8d8dff 264px,#b3b3ff 266px,#a2a2ff 267px,#a5a5ff 268px,#9292ff 269px,#9292ff 270px,#acacff 271px,#afafff 272px,#9696ff 274px,#a6a6ff 276px,#bcbcff 277px,#b6b6ff 279px,#cfcfff 280px,#c5c5ff 283px,#ddf 286px,#f7f7ff 306px)"></i><i style="top:541.05px;height:1.05px;background:linear-gradient(90deg,#f7f7ff 0,#f0f0ff 169px,#e0e0ff 175px,#bcbcff 177px,#b3b3ff 180px,#9f9fff 181px,#a2a2ff 182px,#7a7aff 184px,#8a8aff 185px,#88f 186px,#5454ff 187px,#4343ff 189px,#4f4fff 190px,#8383ff 191px,#8e8eff 192px,#6767ff 193px,#7171ff 196px,#acacff 198px,#c7c7ff 203px,#9c9cff 206px,#aeaeff 208px,#a9a9ff 209px,#6e6eff 210px,#6464ff 211px,#aaf 212px,#4b4bff 213px,#0000e3 214px,#00006f 216px,#00008e 217px,#00e 218px,#00007b 219px,#00004c 220px,#00006f 221px,#0000cd 222px,#000078 223px,#00004c 224px,#00004c 227px,#000068 228px,#00009d 229px,#00004c 231px,#00004c 232px,#00c 233px,#000098 234px,#0000a1 235px,#4848ff 236px,#7878ff 237px,#2b2bff 238px,#2121ff 239px,#5e5eff 240px,#6565ff 241px,#9494ff 242px,#c0c0ff 245px,#c0c0ff 250px,#d6d6ff 251px,#bebeff 252px,#b0b0ff 255px,#9393ff 258px,#bebeff 260px,#a0a0ff 261px,#aeaeff 263px,#9696ff 264px,#b8b8ff 266px,#a8a8ff 267px,#ababff 268px,#99f 270px,#b1b1ff 271px,#b4b4ff 272px,#9d9dff 274px,#c0c0ff 277px,#babaff 279px,#d2d2ff 280px,#c9c9ff 283px,#dfdfff 286px,#f7f7ff 306px)"></i><i style="top:542.05px;height:1.05px;background:linear-gradient(90deg,#f7f7ff 0,#ededff 170px,#e3e3ff 175px,#c3c3ff 177px,#babaff 180px,#a8a8ff 181px,#aaf 182px,#8686ff 184px,#9292ff 186px,#6363ff 187px,#5454ff 189px,#5e5eff 190px,#8e8eff 191px,#99f 192px,#77f 193px,#8282ff 196px,#b7b7ff 198px,#d4d4ff 203px,#c3c3ff 206px,#d4d4ff 209px,#bcbcff 210px,#b9b9ff 211px,#d7d7ff 212px,#2424ff 216px,#3232ff 217px,#7070ff 218px,#1717ff 219px,#0000e4 220px,#0404ff 221px,#4a4aff 222px,#0505ff 223px,#000091 224px,#0000b3 227px,#0000fa 228px,#2525ff 229px,#0505ff 230px,#0000e7 231px,#0000f6 232px,#5959ff 233px,#3c3cff 234px,#4a4aff 235px,#ababff 236px,#c2c2ff 237px,#a6a6ff 238px,#a4a4ff 239px,#bdbdff 240px,#dcdcff 245px,#ceceff 250px,#dedeff 251px,#cacaff 252px,#9e9eff 258px,#c4c4ff 260px,#a9a9ff 261px,#b5b5ff 263px,#9e9eff 264px,#bebeff 266px,#a0a0ff 270px,#b7b7ff 271px,#b9b9ff 272px,#a4a4ff 274px,#c4c4ff 277px,#bfbfff 279px,#d5d5ff 280px,#d4d4ff 284px,#ececff 291px,#f7f7ff 306px)"></i><i style="top:543.05px;height:1.05px;background:linear-gradient(90deg,#f7f7ff 0,#efefff 171px,#dbdbff 176px,#c9c9ff 178px,#b2b2ff 182px,#9191ff 184px,#9c9cff 186px,#7272ff 187px,#6464ff 189px,#6e6eff 190px,#99f 191px,#a3a3ff 192px,#8585ff 193px,#9292ff 196px,#c1c1ff 198px,#ddf 204px,#f0f0ff 212px,#babaff 216px,#cdcdff 218px,#99f 220px,#bcbcff 222px,#a4a4ff 223px,#6b6bff 224px,#7d7dff 227px,#a1a1ff 228px,#b1b1ff 229px,#9e9eff 231px,#a8a8ff 232px,#cacaff 233px,#ccf 235px,#e6e6ff 236px,#f2f2ff 245px,#dcdcff 250px,#e5e5ff 251px,#aaf 258px,#cacaff 260px,#b1b1ff 261px,#bbf 263px,#a7a7ff 264px,#c3c3ff 266px,#a8a8ff 270px,#bfbfff 272px,#ababff 274px,#c8c8ff 277px,#c3c3ff 279px,#d8d8ff 280px,#d7d7ff 284px,#ededff 291px,#f7f7ff 306px)"></i><i style="top:544.05px;height:1.05px;background:linear-gradient(90deg,#f7f7ff 0,#eef 174px,#cfcfff 178px,#bbf 182px,#9d9dff 184px,#a6a6ff 186px,#8080ff 187px,#7474ff 189px,#7d7dff 190px,#a4a4ff 191px,#adadff 192px,#9393ff 193px,#a2a2ff 196px,#cbcbff 198px,#fffefe 209px,#fff9f9 217px,#fff6f6 231px,#ffeded 235px,#fff9f9 237px,#ffe6e6 239px,#fafaff 247px,#ceceff 255px,#b5b5ff 258px,#cfcfff 260px,#babaff 261px,#c2c2ff 263px,#afafff 264px,#c8c8ff 266px,#afafff 270px,#c4c4ff 272px,#b1b1ff 274px,#ccf 277px,#c8c8ff 279px,#dbdbff 281px,#dadaff 284px,#f3f3ff 295px,#f7f7ff 306px)"></i><i style="top:545.05px;height:1.05px;background:linear-gradient(90deg,#f7f7ff 0,#f0f0ff 174px,#b3b3ff 183px,#a8a8ff 184px,#b0b0ff 186px,#8f8fff 187px,#8c8cff 190px,#aeaeff 191px,#b7b7ff 192px,#a1a1ff 193px,#b0b0ff 196px,#dadaff 199px,#fffbfb 205px,#ffe5e5 211px,#fff6f6 212px,#ffc7c7 216px,#ffe4e4 218px,#ffc4c4 220px,#ffe0e0 222px,#ffd1d1 223px,#ffadad 224px,#ffb6b6 227px,#ffd5d5 229px,#ffbebe 232px,#ffd7d7 233px,#ffc5c5 235px,#ffe5e5 236px,#ffebeb 237px,#ffcaca 239px,#fcfcff 249px,#c0c0ff 258px,#d5d5ff 260px,#c0c0ff 262px,#c8c8ff 263px,#b7b7ff 264px,#cdcdff 266px,#b6b6ff 270px,#c8c8ff 272px,#b8b8ff 274px,#d0d0ff 277px,#ccf 279px,#dedeff 281px,#ddf 284px,#f4f4ff 297px,#f7f7ff 306px)"></i><i style="top:546.05px;height:1.05px;background:linear-gradient(90deg,#f7f7ff 0,#efefff 175px,#bdbdff 183px,#b3b3ff 184px,#babaff 186px,#9d9dff 187px,#9b9bff 190px,#b8b8ff 191px,#c0c0ff 192px,#aeaeff 193px,#ceceff 197px,#fefeff 203px,#ffdfdf 207px,#ffe4e4 209px,#ffd1d1 210px,#ffd4d4 211px,#ffefef 212px,#ffb3b3 215px,#ffa7a7 216px,#ffd1d1 218px,#ffa0a0 220px,#ffcaca 222px,#ffb3b3 223px,#ff7b7b 224px,#ff8a8a 227px,#ffacac 228px,#ffbaba 229px,#f99 231px,#ff9b9b 232px,#ffc0c0 233px,#ffa9a9 235px,#ffd7d7 236px,#ffe0e0 237px,#ffb3b3 239px,#ffc0c0 240px,#ffb7b7 241px,#fffdfd 250px,#cacaff 258px,#dadaff 260px,#c7c7ff 262px,#ceceff 263px,#bfbfff 264px,#d2d2ff 266px,#bcbcff 270px,#cdcdff 272px,#bebeff 274px,#d4d4ff 277px,#d0d0ff 279px,#e0e0ff 281px,#dfdfff 284px,#f6f6ff 300px,#f7f7ff 306px)"></i><i style="top:547.05px;height:1.05px;background:linear-gradient(90deg,#f7f7ff 0,#f2f2ff 175px,#bebeff 184px,#c3c3ff 186px,#aaf 187px,#a9a9ff 190px,#c2c2ff 191px,#c9c9ff 192px,#bcbcff 194px,#fafaff 201px,#ffebeb 204px,#ffcdcd 206px,#ffd9d9 209px,#ffc1c1 210px,#ffc5c5 211px,#ffe8e8 212px,#ff9c9c 215px,#ff8d8d 216px,#ff9e9e 217px,#ffc3c3 218px,#ff8383 220px,#ffb9b9 222px,#ff9c9c 223px,#ff5454 224px,#ff6767 227px,#ff9494 228px,#ffa6a6 229px,#ff7c7c 231px,#ff7f7f 232px,#ffafaf 233px,#ff9595 234px,#ff9292 235px,#fcc 236px,#ffd7d7 237px,#ffb1b1 238px,#ff9e9e 239px,#ffaeae 240px,#ffa3a3 241px,#ffb6b6 242px,#ffe5e5 249px,#fff 251px,#d8d8ff 259px,#dfdfff 260px,#ceceff 262px,#d4d4ff 263px,#c6c6ff 264px,#d6d6ff 266px,#c3c3ff 270px,#d2d2ff 272px,#c4c4ff 274px,#d3d3ff 278px,#e1e1ff 282px,#f7f7ff 306px)"></i><i style="top:548.05px;height:1.05px;background:linear-gradient(90deg,#f7f7ff 0,#f1f1ff 176px,#c9c9ff 184px,#ccf 186px,#b3b3ff 188px,#b6b6ff 190px,#d1d1ff 192px,#c9c9ff 194px,#fffcfc 201px,#ffe0e0 204px,#ffbdbd 206px,#ffcfcf 209px,#ffb2b2 210px,#ffb8b8 211px,#ffe2e2 212px,#ff9c9c 214px,#ff7676 216px,#ff8a8a 217px,#ffb6b6 218px,#ff6a6a 220px,#faa 222px,#ff8787 223px,#ff3232 224px,#ff4949 227px,#ff7e7e 228px,#ff9393 229px,#ff6262 231px,#f66 232px,#ff9f9f 233px,#ff8181 234px,#ff7d7d 235px,#ffc1c1 236px,#ffcfcf 237px,#ffa1a1 238px,#ff8b8b 239px,#ff9e9e 240px,#ff9090 241px,#ffa6a6 242px,#ffacac 244px,#ffc0c0 246px,#ffe8e8 250px,#fff9f9 251px,#f2f2ff 255px,#dfdfff 259px,#cdcdff 264px,#dadaff 266px,#c9c9ff 270px,#d6d6ff 272px,#d0d0ff 275px,#e4e4ff 282px,#f7f7ff 306px)"></i><i style="top:549.05px;height:1.05px;background:linear-gradient(90deg,#f7f7ff 0,#f6f6ff 176px,#d5d5ff 186px,#c0c0ff 188px,#c3c3ff 190px,#d9d9ff 192px,#dbdbff 195px,#fffbfb 200px,#ffe8e8 203px,#ffaeae 206px,#ffc6c6 209px,#ffa4a4 210px,#ffabab 211px,#fdd 212px,#ff8c8c 214px,#ff6060 216px,#f77 217px,#faa 218px,#ff7474 219px,#ff5252 220px,#ff9c9c 222px,#ff7474 223px,#f11 224px,#ff2c2c 227px,#ff6969 228px,#ff8282 229px,#ff4a4a 231px,#ff4f4f 232px,#ff9090 233px,#ff6e6e 234px,#ff6969 235px,#ffb8b8 236px,#ffc7c7 237px,#ff9393 238px,#ff7a7a 239px,#ff8f8f 240px,#ff7f7f 241px,#ff9898 242px,#ff9d9d 244px,#ffb2b2 245px,#fcc 249px,#fff4f4 251px,#fafaff 255px,#e5e5ff 259px,#dadaff 265px,#cfcfff 270px,#dadaff 272px,#d5d5ff 276px,#e6e6ff 282px,#f7f7ff 306px)"></i><i style="top:550.05px;height:1.05px;background:linear-gradient(90deg,#f8f8ff 0,#f8f8ff 177px,#ddf 186px,#cbcbff 189px,#e1e1ff 192px,#ececff 196px,#fffbfb 199px,#ffe2e2 203px,#ffa1a1 206px,#ffbebe 209px,#ff9898 210px,#ffa0a0 211px,#ffd7d7 212px,#ff7d7d 214px,#ff4c4c 216px,#f66 217px,#ff9f9f 218px,#ff6363 219px,#ff3c3c 220px,#ff8f8f 222px,#ff6161 223px,#f80000 224px,#ff0202 226px,#ff1010 227px,#f55 228px,#ff7272 229px,#f33 231px,#ff3939 232px,#ff8282 233px,#ff5c5c 234px,#ff5757 235px,#ffafaf 236px,#ffc0c0 237px,#ff8686 238px,#ff6a6a 239px,#ff8282 240px,#ff6f6f 241px,#ff8b8b 242px,#ff9090 244px,#ffa7a7 245px,#ffc1c1 249px,#ffefef 251px,#fff7f7 254px,#ececff 260px,#dedeff 265px,#d4d4ff 270px,#d7d7ff 273px,#f6f6ff 297px,#f7f7ff 306px)"></i><i style="top:551.05px;height:1.05px;background:linear-gradient(90deg,#f8f8ff 0,#f8f8ff 179px,#dadaff 190px,#fffcfc 198px,#ffdcdc 203px,#ff9595 206px,#ffb6b6 209px,#ff8d8d 210px,#ff9696 211px,#ffd3d3 212px,#ff7070 214px,#ff3a3a 216px,#ff5656 217px,#ff9494 218px,#ff5252 219px,#ff2828 220px,#ff8383 222px,#ff5050 223px,#ea0000 224px,#fa0000 227px,#ff4343 228px,#ff6262 229px,#ff1e1e 231px,#ff2525 232px,#ff7575 233px,#ff4c4c 234px,#ff4747 235px,#ffa7a7 236px,#ffb9b9 237px,#ff7b7b 238px,#ff5c5c 239px,#ff7575 240px,#ff6161 241px,#ff8080 242px,#ff8484 244px,#ff9d9d 245px,#ffa1a1 247px,#ffcdcd 250px,#ffebeb 251px,#ffe2e2 252px,#fbfbff 257px,#e2e2ff 265px,#ddf 276px,#f7f7ff 300px,#f7f7ff 306px)"></i><i style="top:552.05px;height:1.05px;background:linear-gradient(90deg,#f8f8ff 0,#f8f8ff 181px,#e4e4ff 190px,#fffafa 197px,#ffd7d7 203px,#ff8b8b 206px,#ffb0b0 209px,#ff8383 210px,#ff8d8d 211px,#ffcfcf 212px,#ff6464 214px,#ff2a2a 216px,#ff4848 217px,#ff8b8b 218px,#ff4343 219px,#ff1515 220px,#ff3d3d 221px,#ff7878 222px,#ff4141 223px,#d00 224px,#ef0000 227px,#f55 229px,#ff0b0b 231px,#ff1313 232px,#ff6a6a 233px,#ff3d3d 234px,#ff3838 235px,#ffa0a0 236px,#ffb4b4 237px,#ff7070 238px,#ff5050 239px,#ff6b6b 240px,#f55 241px,#ff7575 242px,#ff7a7a 244px,#ff9494 245px,#ff9898 247px,#ffc7c7 250px,#ffe7e7 251px,#fdd 252px,#fbfbff 258px,#e6e6ff 265px,#e1e1ff 276px,#f8f8ff 306px)"></i><i style="top:553.05px;height:1.05px;background:linear-gradient(90deg,#f8f8ff 0,#fff8f8 176px,#f5f5ff 185px,#f6f6ff 193px,#fff8f8 196px,#ffd2d2 203px,#ff8282 206px,#ffabab 209px,#ff7b7b 210px,#ff8686 211px,#fcc 212px,#ff5a5a 214px,#ff1c1c 216px,#ff3b3b 217px,#ff8383 218px,#ff3636 219px,#ff0505 220px,#ff2f2f 221px,#ff6e6e 222px,#f33 223px,#d10000 224px,#e50000 227px,#ff2424 228px,#ff4949 229px,#fc0000 231px,#ff0404 232px,#ff6060 233px,#ff3131 234px,#ff2c2c 235px,#f99 236px,#ffafaf 237px,#ff6868 238px,#ff4545 239px,#ff6262 240px,#ff4b4b 241px,#ff6d6d 242px,#ff7272 244px,#ff8d8d 245px,#ff9090 247px,#ffc1c1 250px,#ffe4e4 251px,#ffd8d8 252px,#fafaff 259px,#e1e1ff 270px,#f8f8ff 306px)"></i><i style="top:554.05px;height:2.05px;background:linear-gradient(90deg,#f8f8ff 0,#fff7f7 171px,#fff1f1 178px,#fefcfd 193px,#ffcdcd 203px,#ff7979 206px,#ffa0a0 208px,#ffa5a5 209px,#ff7272 210px,#ff7e7e 211px,#ffc8c8 212px,#ff4f4f 214px,#ff0c0c 216px,#ff2d2d 217px,#ff7a7a 218px,#ff2727 219px,#f80000 220px,#ff1f1f 221px,#ff6262 222px,#ff2323 223px,#c40000 224px,#d90000 227px,#ff1313 228px,#ff3b3b 229px,#f30000 231px,#f80000 232px,#ff5454 233px,#ff2323 234px,#ff1d1d 235px,#ff9292 236px,#ffa9a9 237px,#ff5e5e 238px,#ff3939 239px,#ff5858 240px,#ff3f3f 241px,#ff6363 242px,#ff6868 244px,#ff8484 245px,#ff8787 247px,#ffa0a0 249px,#ffe0e0 251px,#ffd2d2 252px,#fafaff 260px,#e8e8ff 276px,#f8f8ff 306px)"></i><i style="top:556.05px;height:2.05px;background:linear-gradient(90deg,#f8f8ff 0,#fffafa 169px,#ffecec 176px,#ffe8e8 178px,#fff9f9 192px,#ffc9c9 203px,#ff7070 206px,#ff9a9a 208px,#ffa0a0 209px,#ff6b6b 210px,#f77 211px,#ffc5c5 212px,#ff4646 214px,#fe0101 216px,#f22 217px,#ff7272 218px,#ff1c1c 219px,#f10000 220px,#ff1313 221px,#ff5959 222px,#ff1616 223px,#b90000 224px,#cf0000 227px,#ff0606 228px,#ff3030 229px,#ff0b0b 230px,#eb0000 231px,#f10000 232px,#ff4b4b 233px,#ff1717 234px,#ff1212 235px,#ff8d8d 236px,#ffa5a5 237px,#ff5656 238px,#ff2f2f 239px,#ff4f4f 240px,#ff3535 241px,#ff5b5b 242px,#ff5f5f 244px,#ff7d7d 245px,#ff7f7f 247px,#ff9898 249px,#fdd 251px,#fcc 252px,#fcfcff 261px,#ededff 276px,#f8f8ff 306px)"></i><i style="top:558.05px;height:3.05px;background:linear-gradient(90deg,#f8f8ff 0,#fff8f8 169px,#ffe5e5 176px,#ffdfdf 178px,#ffecec 186px,#ffe6e6 190px,#fff1f1 192px,#ffdcdc 197px,#ffc6c6 203px,#ff6c6c 206px,#ff9898 208px,#ff9e9e 209px,#ff6868 210px,#ff7575 211px,#ffc4c4 212px,#f44 214px,#fe0000 216px,#ff2121 217px,#ff7272 218px,#ff1b1b 219px,#f00000 220px,#ff1212 221px,#ff5959 222px,#ff1616 223px,#b90000 224px,#cf0000 227px,#ff0505 228px,#ff2f2f 229px,#ff0a0a 230px,#eb0000 231px,#f00000 232px,#ff4a4a 233px,#ff1515 234px,#ff1010 235px,#ff8c8c 236px,#ffa4a4 237px,#ff5353 238px,#ff2c2c 239px,#ff4c4c 240px,#ff3232 241px,#ff5858 242px,#ff5c5c 244px,#ff7a7a 245px,#ff7b7b 247px,#ff9494 249px,#ffdbdb 251px,#ffc9c9 252px,#fffdfd 261px,#f4f4ff 280px,#f8f8ff 306px)"></i><i style="top:561.05px;height:2.05px;background:linear-gradient(90deg,#f8f8ff 0,#fff6f6 169px,#ffeaea 175px,#ffd2d2 177px,#ffdede 180px,#ffe2e2 185px,#ffdcdc 190px,#ffebeb 192px,#ffd7d7 197px,#ffcdcd 202px,#ffc5c5 203px,#ff6d6d 206px,#f99 208px,#ff9f9f 209px,#ff6a6a 210px,#f77 211px,#ffc5c5 212px,#ff4949 214px,#ff0505 216px,#ff2828 217px,#f77 218px,#ff2424 219px,#f60000 220px,#ff1d1d 221px,#ff6161 222px,#f22 223px,#c30000 224px,#d80000 227px,#ff1212 228px,#ff3939 229px,#f10000 231px,#f60000 232px,#ff5151 233px,#ff1d1d 234px,#ff1717 235px,#ff8f8f 236px,#ffa6a6 237px,#ff5757 238px,#ff3030 239px,#ff4f4f 240px,#ff3434 241px,#ff5959 242px,#ff5c5c 244px,#ff7a7a 245px,#ff7b7b 247px,#ff9393 249px,#ffdada 251px,#ffc7c7 252px,#fffafa 261px,#f7f7ff 296px,#f8f8ff 306px)"></i><i style="top:563.05px;height:2.05px;background:linear-gradient(90deg,#f8f8ff 0,#fff8f8 168px,#ffe9e9 173px,#fdd 176px,#ffcece 177px,#ffdada 180px,#ffd4d4 184px,#ffe1e1 186px,#ffd3d3 188px,#ffe9e9 192px,#ffd6d6 197px,#ffcece 202px,#ffc7c7 203px,#ff7171 206px,#ff9d9d 208px,#ffa3a3 209px,#ff7070 210px,#ff7d7d 211px,#ffc8c8 212px,#ff5252 214px,#ff1414 216px,#ff3535 217px,#ff8080 218px,#f33 219px,#fe0404 220px,#ff2d2d 221px,#ff6d6d 222px,#f33 223px,#d10000 224px,#e50000 227px,#ff2424 228px,#ff4848 229px,#fb0000 231px,#fd0202 232px,#ff5c5c 233px,#ff2b2b 234px,#ff2424 235px,#ff9595 236px,#faa 237px,#ff5f5f 238px,#ff3838 239px,#ff5656 240px,#ff3c3c 241px,#ff5f5f 242px,#ff6262 244px,#ff7e7e 245px,#ff7f7f 247px,#ff9696 249px,#ffdbdb 251px,#ffc8c8 252px,#fff9f9 261px,#f8f8ff 306px)"></i><i style="top:565.05px;height:1.05px;background:linear-gradient(90deg,#f8f8ff 0,#fff8f8 168px,#ffe9e9 173px,#fdd 176px,#ffcdcd 177px,#ffd9d9 180px,#ffd2d2 184px,#ffdfdf 186px,#ffd1d1 188px,#ffe8e8 192px,#ffd2d2 196px,#ffd8d8 199px,#ffc9c9 203px,#ff7878 206px,#ffa2a2 208px,#ffa7a7 209px,#ff7878 210px,#ff8484 211px,#ffcbcb 212px,#ff5c5c 214px,#f22 216px,#ff4242 217px,#ff8989 218px,#ff4141 219px,#ff1414 220px,#ff3d3d 221px,#ff7979 222px,#ff4343 223px,#df0000 224px,#f10000 227px,#ff3535 228px,#ff5656 229px,#ff0b0b 231px,#f11 232px,#ff6767 233px,#ff3838 234px,#ff3131 235px,#ff9b9b 236px,#ffafaf 237px,#ff6767 238px,#ff4343 239px,#ff5e5e 240px,#ff4545 241px,#ff6767 242px,#ff6868 244px,#ff8484 245px,#ff8484 247px,#ff9a9a 249px,#ffdcdc 251px,#ffcaca 252px,#fff9f9 261px,#f8f8ff 306px)"></i><i style="top:566.05px;height:1.05px;background:linear-gradient(90deg,#f8f8ff 0,#fff8f8 168px,#ffe9e9 173px,#fdd 176px,#ffcdcd 177px,#ffd9d9 180px,#ffd1d1 184px,#ffdfdf 186px,#ffd0d0 188px,#ffe8e8 192px,#ffd3d3 196px,#ffd9d9 199px,#ffcbcb 203px,#ff7e7e 206px,#ffa6a6 208px,#ffacac 209px,#ff7e7e 210px,#ff8a8a 211px,#ffcece 212px,#ff6464 214px,#ff2e2e 216px,#ff4d4d 217px,#ff8f8f 218px,#ff4c4c 219px,#f22 220px,#ff8181 222px,#ff4f4f 223px,#e90000 224px,#fa0000 227px,#ff4242 228px,#ff6161 229px,#ff1919 231px,#ff1e1e 232px,#ff6f6f 233px,#ff4343 234px,#ff3c3c 235px,#ffa0a0 236px,#ffb3b3 237px,#ff6e6e 238px,#ff4b4b 239px,#ff6565 240px,#ff4d4d 241px,#ff6d6d 242px,#ff6f6f 244px,#ff8989 245px,#ff8989 247px,#ff9e9e 249px,#ffdede 251px,#fcc 252px,#fffcfc 262px,#f8f8ff 306px)"></i><i style="top:567.05px;height:1.05px;background:linear-gradient(90deg,#f8f8ff 0,#fff8f8 168px,#ffe9e9 173px,#fdd 176px,#ffcdcd 177px,#ffd9d9 180px,#ffd2d2 184px,#ffdfdf 186px,#ffd0d0 188px,#ffe8e8 192px,#ffd4d4 196px,#ffdbdb 199px,#ffcece 203px,#ff8484 206px,#ffabab 208px,#ffb1b1 209px,#ff8585 210px,#ff9191 211px,#ffd1d1 212px,#ff6d6d 214px,#ff3a3a 216px,#ff5858 217px,#ff9797 218px,#ff5757 219px,#ff3030 220px,#ff8a8a 222px,#ff5b5b 223px,#f30000 224px,#ff0808 227px,#ff4f4f 228px,#ff6b6b 229px,#ff2828 231px,#ff2d2d 232px,#ff7878 233px,#ff4e4e 234px,#ff4747 235px,#ffa6a6 236px,#ffb8b8 237px,#ff7676 238px,#f55 239px,#ff6e6e 240px,#ff5757 241px,#ff7575 242px,#ff7676 244px,#ff8f8f 245px,#ff8f8f 247px,#ffa2a2 249px,#ffe0e0 251px,#ffcfcf 252px,#fffcfc 262px,#f8f8ff 306px)"></i><i style="top:568.05px;height:1.05px;background:linear-gradient(90deg,#f8f8ff 0,#fff9f9 168px,#ffeaea 173px,#ffdede 176px,#ffcece 177px,#ffdada 180px,#ffd2d2 184px,#ffdfdf 186px,#ffd1d1 188px,#ffe9e9 192px,#ffd5d5 196px,#fdd 199px,#ffd1d1 203px,#ff8d8d 206px,#ffb6b6 209px,#ff8e8e 210px,#ff9898 211px,#ffd4d4 212px,#f77 214px,#ff4848 216px,#ff6363 217px,#ff9e9e 218px,#ff6464 219px,#ff4040 220px,#ff9393 222px,#ff6767 223px,#fe0000 224px,#ff1b1b 227px,#ff5c5c 228px,#f77 229px,#ff3838 231px,#ff3c3c 232px,#ff8282 233px,#ff5b5b 234px,#ff5454 235px,#ffacac 236px,#ffbdbd 237px,#ff8080 238px,#ff6060 239px,#f77 240px,#ff6161 241px,#ff7e7e 242px,#ff7e7e 244px,#ff9696 245px,#ff9595 247px,#ffbfbf 250px,#ffe2e2 251px,#ffd2d2 252px,#fffcfc 262px,#f8f8ff 306px)"></i><i style="top:569.05px;height:1.05px;background:linear-gradient(90deg,#f8f8ff 0,#fff6f6 169px,#ffeaea 175px,#ffd0d0 177px,#ffdbdb 180px,#ffd4d4 184px,#ffe0e0 186px,#ffd2d2 188px,#ffe9e9 192px,#ffd7d7 196px,#ffdfdf 199px,#ffd5d5 203px,#ff9696 206px,#ffbcbc 209px,#ff9797 210px,#ffa1a1 211px,#ffd8d8 212px,#ff8282 214px,#ff5656 216px,#ff7070 217px,#ffa6a6 218px,#ff7070 219px,#ff4f4f 220px,#ff9c9c 222px,#ff7474 223px,#ff1313 224px,#ff2e2e 227px,#ff6a6a 228px,#ff8282 229px,#ff4848 231px,#ff4c4c 232px,#ff8c8c 233px,#ff6868 234px,#ff6262 235px,#ffb3b3 236px,#ffc2c2 237px,#ff8989 238px,#ff6c6c 239px,#ff8181 240px,#ff6d6d 241px,#ff8787 242px,#f88 244px,#ff9d9d 245px,#ff9d9d 247px,#ffc3c3 250px,#ffe4e4 251px,#ffd5d5 252px,#fffdfd 262px,#f8f8ff 306px)"></i><i style="top:570.05px;height:1.05px;background:linear-gradient(90deg,#f8f8ff 0,#fff6f6 169px,#ffebeb 175px,#ffd1d1 177px,#ffdcdc 180px,#ffd5d5 184px,#ffe1e1 186px,#ffd4d4 188px,#ffeaea 192px,#ffdfdf 197px,#ffd9d9 203px,#ffa0a0 206px,#ffc3c3 209px,#ffa2a2 210px,#faa 211px,#ffdcdc 212px,#ff8e8e 214px,#ff6565 216px,#ff7d7d 217px,#ffaeae 218px,#ff7d7d 219px,#ff5f5f 220px,#ffa5a5 222px,#ff8181 223px,#ff2929 224px,#ff4242 227px,#ff7878 228px,#ff8e8e 229px,#ff5959 231px,#ff5c5c 232px,#ff9797 233px,#ff7676 234px,#ff7070 235px,#ffbaba 236px,#ffc8c8 237px,#ff9494 238px,#ff7979 239px,#ff8d8d 240px,#ff7a7a 241px,#ff9292 242px,#ff9292 244px,#ffa6a6 245px,#ffb5b5 249px,#ffe7e7 251px,#ffd9d9 252px,#fffdfd 262px,#f8f8ff 306px)"></i><i style="top:571.05px;height:1.05px;background:linear-gradient(90deg,#f8f8ff 0,#fff7f7 169px,#ffe2e2 176px,#ffd4d4 177px,#ffdede 180px,#ffd7d7 184px,#ffe3e3 186px,#ffd7d7 189px,#ffecec 192px,#ffe1e1 197px,#fdd 203px,#ffabab 206px,#ffcbcb 209px,#ffadad 210px,#ffb4b4 211px,#ffe1e1 212px,#ff9a9a 214px,#ff7575 216px,#ff8a8a 217px,#ffb7b7 218px,#ff6f6f 220px,#ffafaf 222px,#ff8e8e 223px,#ff3f3f 224px,#f55 227px,#ff8686 228px,#ff9a9a 229px,#ff6a6a 231px,#ff6d6d 232px,#ffa2a2 233px,#ff8484 234px,#ff7e7e 235px,#ffc2c2 236px,#ffcece 237px,#ff9f9f 238px,#ff8787 239px,#ff9898 240px,#f88 241px,#ff9d9d 242px,#ff9e9e 244px,#ffafaf 245px,#ffbdbd 249px,#ffeaea 251px,#fdd 252px,#fffefe 262px,#f8f8ff 306px)"></i><i style="top:572.05px;height:1.05px;background:linear-gradient(90deg,#f8f8ff 0,#fff8f8 169px,#ffe4e4 176px,#ffd6d6 177px,#ffe0e0 180px,#ffe3e3 185px,#fdd 190px,#ffeded 192px,#ffe4e4 197px,#ffe2e2 203px,#ffb7b7 206px,#ffd3d3 209px,#ffb9b9 210px,#ffbfbf 211px,#ffe6e6 212px,#ff9393 215px,#ff8585 216px,#ff9797 217px,#ffbfbf 218px,#ff7f7f 220px,#ffb8b8 222px,#ff9b9b 223px,#ff5454 224px,#ff6868 227px,#ff9494 228px,#ffa6a6 229px,#ff7b7b 231px,#ff7e7e 232px,#ffadad 233px,#ff9292 234px,#ff8e8e 235px,#ffc9c9 236px,#ffd4d4 237px,#ffabab 238px,#ff9595 239px,#ffa5a5 240px,#ff9696 241px,#ffa9a9 242px,#faa 244px,#ffb7b7 246px,#ffd5d5 250px,#ffeded 251px,#ffe2e2 252px,#fff 262px,#f8f8ff 306px)"></i><i style="top:573.05px;height:1.05px;background:linear-gradient(90deg,#f8f8ff 0,#fff9f9 169px,#ffe6e6 176px,#ffdede 178px,#ffe7e7 186px,#ffdcdc 189px,#ffefef 192px,#ffe7e7 197px,#ffe7e7 203px,#ffc4c4 206px,#ffdcdc 209px,#ffc6c6 210px,#ffcbcb 211px,#ffebeb 212px,#ffa2a2 215px,#ff9494 216px,#ffa4a4 217px,#ffc7c7 218px,#ff8e8e 220px,#ffc1c1 222px,#ffa7a7 223px,#ff6868 224px,#ff7b7b 227px,#ffa2a2 228px,#ffb1b1 229px,#ff8c8c 231px,#ff8e8e 232px,#ffb8b8 233px,#ffa1a1 234px,#ff9d9d 235px,#ffd1d1 236px,#ffdbdb 237px,#ffa4a4 239px,#ffb2b2 240px,#ffa5a5 241px,#ffb6b6 242px,#ffcece 249px,#fff0f0 251px,#ffecec 254px,#fdfdff 264px,#f8f8ff 306px)"></i><i style="top:574.05px;height:1.05px;background:linear-gradient(90deg,#f8f8ff 0,#fffafa 169px,#ffe8e8 176px,#ffe1e1 178px,#ffe9e9 186px,#ffdfdf 189px,#fff1f1 192px,#ffeaea 197px,#ffe2e2 204px,#ffd2d2 206px,#ffe5e5 209px,#ffd4d4 210px,#ffd6d6 211px,#fff0f0 212px,#ffb1b1 215px,#ffa4a4 216px,#ffcfcf 218px,#ff9d9d 220px,#ffcaca 222px,#ffb3b3 223px,#ff7c7c 224px,#ff8d8d 227px,#ffafaf 228px,#ffbdbd 229px,#ff9d9d 231px,#ff9f9f 232px,#ffc3c3 233px,#ffacac 235px,#ffd9d9 236px,#ffe2e2 237px,#ffb4b4 239px,#ffc0c0 240px,#ffb5b5 241px,#ffc1c1 243px,#ffe1e1 250px,#fff3f3 251px,#fff6f6 258px,#f8f8ff 306px)"></i><i style="top:575.05px;height:1.05px;background:linear-gradient(90deg,#f8f8ff 0,#fffbfb 169px,#ffeaea 176px,#ffe4e4 178px,#ffebeb 186px,#ffe5e5 190px,#fff2f2 192px,#ffeaea 204px,#ffe7e7 207px,#ffefef 209px,#ffe3e3 211px,#fff5f5 212px,#ffb4b4 216px,#ffd7d7 218px,#ffacac 220px,#ffd2d2 222px,#ffbebe 223px,#ff8f8f 224px,#ff9e9e 227px,#ffc7c7 229px,#ffadad 231px,#ffafaf 232px,#ffcece 233px,#ffbcbc 235px,#ffe1e1 236px,#ffe8e8 237px,#ffc4c4 239px,#ffcdcd 240px,#ffc5c5 241px,#ffe8e8 250px,#fff7f7 251px,#f8f8ff 306px)"></i><i style="top:576.05px;height:1.05px;background:linear-gradient(90deg,#f8f8ff 0,#fffcfc 169px,#ffecec 176px,#ffe6e6 178px,#ffe8e8 190px,#fee 193px,#fff0f0 210px,#fffafa 212px,#ffc2c2 216px,#ffdfdf 218px,#ffb9b9 220px,#ffdada 222px,#ffc9c9 223px,#ffa1a1 224px,#ffaeae 227px,#ffd2d2 229px,#ffbfbf 232px,#ffd9d9 233px,#ffcbcb 235px,#ffe9e9 236px,#ffefef 237px,#ffd4d4 239px,#ffefef 250px,#fff7f7 253px,#f8f8ff 306px)"></i><i style="top:577.05px;height:1.05px;background:linear-gradient(90deg,#f8f8ff 0,#fff7f7 171px,#ffefef 176px,#ffe8e8 184px,#fff0f0 195px,#fff 212px,#ffd1d1 216px,#ffe6e6 218px,#ffc6c6 220px,#ffe1e1 222px,#ffd3d3 223px,#ffb2b2 224px,#ffbebe 227px,#ffdcdc 229px,#ffcfcf 232px,#ffe3e3 233px,#ffdbdb 235px,#fff6f6 237px,#ffe4e4 239px,#fffbfb 255px,#f8f8ff 306px)"></i><i style="top:578.05px;height:1.05px;background:linear-gradient(90deg,#f8f8ff 0,#fff7f7 175px,#ffecec 178px,#fee 190px,#f7f7ff 205px,#f5f5ff 211px,#fffefe 213px,#ffdede 216px,#ffecec 218px,#ffd1d1 220px,#ffe7e7 222px,#ffc1c1 224px,#fcc 227px,#ffe5e5 229px,#ffdede 232px,#ffeded 233px,#ffe9e9 235px,#fffcfc 237px,#f8f8ff 306px)"></i><i style="top:579.05px;height:1.05px;background:linear-gradient(90deg,#f8f8ff 0,#fff8f8 175px,#ffefef 178px,#fff8f8 191px,#f9f9ff 203px,#dfdfff 207px,#e8e8ff 211px,#fff 214px,#ffeaea 217px,#fff2f2 218px,#ffdbdb 220px,#ffeded 222px,#ffcece 224px,#ffebeb 230px,#fafaff 239px,#f8f8ff 306px)"></i><i style="top:580.05px;height:1.05px;background:linear-gradient(90deg,#f8f8ff 0,#fffafa 175px,#fff1f1 181px,#f8f8ff 202px,#d1d1ff 207px,#dadaff 209px,#d0d0ff 210px,#efefff 212px,#fff7f7 216px,#ffecec 219px,#ffe9e9 221px,#ffebeb 223px,#ffdada 224px,#fefeff 233px,#e7e7ff 244px,#fafaff 262px,#f8f8ff 306px)"></i><i style="top:581.05px;height:1.05px;background:linear-gradient(90deg,#f8f8ff 0,#fff7f7 176px,#f8f8ff 201px,#e3e3ff 204px,#c2c2ff 206px,#cfcfff 209px,#c1c1ff 210px,#e9e9ff 212px,#f2f2ff 215px,#fffcfc 218px,#ffefef 221px,#fff0f0 223px,#ffe7e7 225px,#fefeff 231px,#efefff 236px,#d5d5ff 241px,#f9f9ff 257px,#f8f8ff 306px)"></i><i style="top:582.05px;height:1.05px;background:linear-gradient(90deg,#f8f8ff 0,#fff9f9 176px,#f6f6ff 201px,#dbdbff 204px,#b2b2ff 206px,#c5c5ff 209px,#b2b2ff 210px,#c2c2ff 211px,#e4e4ff 212px,#e8e8ff 215px,#fefeff 218px,#fff4f4 221px,#fff2f2 226px,#fcfcff 229px,#ddf 235px,#e8e8ff 237px,#cbcbff 239px,#cbcbff 244px,#f3f3ff 253px,#f8f8ff 306px)"></i><i style="top:583.05px;height:1.05px;background:linear-gradient(90deg,#f8f8ff 0,#f7f7ff 200px,#e6e6ff 203px,#a4a4ff 206px,#bbf 209px,#a4a4ff 210px,#b6b6ff 211px,#e0e0ff 212px,#d4d4ff 214px,#fbfbff 218px,#fff4f4 225px,#f6f6ff 229px,#d1d1ff 235px,#e2e2ff 237px,#bcbcff 239px,#bebeff 244px,#ececff 252px,#f8f8ff 282px,#f8f8ff 306px)"></i><i style="top:584.05px;height:1.05px;background:linear-gradient(90deg,#f8f8ff 0,#f9f9ff 199px,#e2e2ff 203px,#9696ff 206px,#b1b1ff 209px,#9696ff 210px,#ababff 211px,#dbdbff 212px,#ccf 214px,#fefeff 219px,#fff8f8 225px,#ebebff 230px,#d9d9ff 232px,#dedeff 233px,#c6c6ff 235px,#dbdbff 236px,#ddf 237px,#aeaeff 239px,#b4b4ff 240px,#a6a6ff 241px,#ddf 250px,#e8e8ff 252px,#f8f8ff 271px,#f8f8ff 306px)"></i><i style="top:585.05px;height:2.05px;background:linear-gradient(90deg,#f8f8ff 0,#f7f7ff 199px,#ddf 203px,#8484ff 206px,#a5a5ff 209px,#8585ff 210px,#9c9cff 211px,#d6d6ff 212px,#c1c1ff 214px,#fbfbff 219px,#fff9f9 225px,#ededff 229px,#cdcdff 232px,#d6d6ff 233px,#b8b8ff 235px,#d3d3ff 236px,#d6d6ff 237px,#9c9cff 239px,#a4a4ff 240px,#9393ff 241px,#a2a2ff 242px,#a1a1ff 244px,#d6d6ff 250px,#e8e8ff 251px,#f8f8ff 275px,#f8f8ff 306px)"></i><i style="top:587.05px;height:2.05px;background:linear-gradient(90deg,#f8f8ff 0,#f8f8ff 198px,#d8d8ff 203px,#7373ff 206px,#9898ff 209px,#7373ff 210px,#8e8eff 211px,#d0d0ff 212px,#b6b6ff 214px,#fafaff 219px,#fff3f3 225px,#f8f8ff 227px,#c2c2ff 232px,#cdcdff 233px,#a9a9ff 235px,#cbcbff 236px,#cfcfff 237px,#8a8aff 239px,#9494ff 240px,#7f7fff 241px,#9191ff 242px,#9090ff 244px,#a3a3ff 245px,#bdbdff 249px,#e5e5ff 251px,#f8f8ff 270px,#f8f8ff 306px)"></i><i style="top:589.05px;height:2.05px;background:linear-gradient(90deg,#f8f8ff 0,#f4f4ff 199px,#d6d6ff 203px,#6a6aff 206px,#9292ff 209px,#6a6aff 210px,#8787ff 211px,#cdcdff 212px,#b1b1ff 214px,#fcfcff 219px,#fee 223px,#ffe0e0 224px,#fefdfe 227px,#bdbdff 232px,#c9c9ff 233px,#a2a2ff 235px,#c7c7ff 236px,#cbcbff 237px,#8181ff 239px,#8b8bff 240px,#7575ff 241px,#8989ff 242px,#88f 244px,#9c9cff 245px,#b8b8ff 249px,#e3e3ff 251px,#f8f8ff 269px,#f8f8ff 306px)"></i><i style="top:591.05px;height:3.05px;background:linear-gradient(90deg,#f8f8ff 0,#f3f3ff 199px,#d6d6ff 203px,#6c6cff 206px,#9393ff 209px,#6c6cff 210px,#8989ff 211px,#ceceff 212px,#b2b2ff 214px,#fffefe 219px,#ffe5e5 223px,#ffd1d1 224px,#f7f7ff 228px,#bfbfff 232px,#cacaff 233px,#a3a3ff 235px,#c8c8ff 236px,#ccf 237px,#8383ff 239px,#8d8dff 240px,#7878ff 241px,#8b8bff 242px,#8a8aff 244px,#9e9eff 245px,#babaff 249px,#e4e4ff 251px,#f8f8ff 269px,#f8f8ff 306px)"></i><i style="top:594.05px;height:2.05px;background:linear-gradient(90deg,#f8f8ff 0,#f3f3ff 199px,#d8d8ff 203px,#7878ff 206px,#9d9dff 209px,#7979ff 210px,#9292ff 211px,#d2d2ff 212px,#b7b7ff 214px,#fffefe 219px,#ffe5e5 223px,#ffd0d0 224px,#f9f9ff 228px,#c4c4ff 232px,#cfcfff 233px,#acacff 235px,#cdcdff 236px,#d1d1ff 237px,#9090ff 239px,#9a9aff 240px,#8686ff 241px,#9797ff 242px,#9797ff 244px,#a9a9ff 246px,#d1d1ff 250px,#e6e6ff 251px,#f8f8ff 272px,#f8f8ff 306px)"></i><i style="top:596.05px;height:1.05px;background:linear-gradient(90deg,#f8f8ff 0,#f1f1ff 199px,#d9d9ff 203px,#8080ff 206px,#a3a3ff 209px,#8282ff 210px,#99f 211px,#d4d4ff 212px,#b9b9ff 214px,#fafaff 219px,#ffecec 223px,#ffdbdb 224px,#fffbfb 227px,#c7c7ff 232px,#d1d1ff 233px,#b2b2ff 235px,#d0d0ff 236px,#d5d5ff 237px,#9a9aff 239px,#a3a3ff 240px,#9292ff 241px,#a1a1ff 242px,#a1a1ff 244px,#b1b1ff 246px,#d4d4ff 250px,#e7e7ff 251px,#f8f8ff 276px,#f8f8ff 306px)"></i><i style="top:597.05px;height:1.05px;background:linear-gradient(90deg,#f8f8ff 0,#eef 199px,#d8d8ff 203px,#8383ff 206px,#a6a6ff 209px,#8686ff 210px,#9c9cff 211px,#d5d5ff 212px,#b8b8ff 214px,#f2f2ff 219px,#fff5f5 223px,#fff0f0 225px,#fafaff 227px,#c6c6ff 232px,#d1d1ff 233px,#b5b5ff 235px,#d2d2ff 236px,#d6d6ff 237px,#a0a0ff 239px,#a8a8ff 240px,#9898ff 241px,#a7a7ff 242px,#a6a6ff 244px,#d6d6ff 250px,#e8e8ff 251px,#f7f7ff 281px,#f8f8ff 306px)"></i><i style="top:598.05px;height:1.05px;background:linear-gradient(90deg,#f8f8ff 0,#eef 194px,#dcdcff 202px,#bbf 204px,#8181ff 206px,#a7a7ff 209px,#8686ff 210px,#9b9bff 211px,#d4d4ff 212px,#b3b3ff 214px,#d4d4ff 217px,#e8e8ff 218px,#fbfbff 225px,#d8d8ff 230px,#c1c1ff 232px,#cfcfff 233px,#b4b4ff 235px,#d2d2ff 236px,#d7d7ff 237px,#a3a3ff 239px,#ababff 240px,#9c9cff 241px,#a7a7ff 243px,#d5d5ff 250px,#e7e7ff 251px,#f8f8ff 291px,#f8f8ff 306px)"></i><i style="top:599.05px;height:1.05px;background:linear-gradient(90deg,#f8f8ff 0,#ededff 188px,#d5d5ff 202px,#b3b3ff 204px,#7979ff 206px,#a4a4ff 209px,#8181ff 210px,#9696ff 211px,#d1d1ff 212px,#a8a8ff 214px,#b0b0ff 216px,#ddf 218px,#d7d7ff 220px,#eaeaff 223px,#cdcdff 230px,#b8b8ff 232px,#cacaff 233px,#afafff 235px,#d1d1ff 236px,#d6d6ff 237px,#a2a2ff 239px,#ababff 240px,#9c9cff 241px,#a7a7ff 243px,#d3d3ff 250px,#e6e6ff 251px,#f8f8ff 306px)"></i><i style="top:600.05px;height:1.05px;background:linear-gradient(90deg,#f8f8ff 0,#eef 186px,#d9d9ff 195px,#cbcbff 202px,#c3c3ff 203px,#6a6aff 206px,#9c9cff 209px,#7676ff 210px,#8c8cff 211px,#ccf 212px,#9898ff 214px,#9898ff 216px,#cfcfff 218px,#bcbcff 220px,#dcdcff 222px,#bdbdff 224px,#babaff 227px,#cbcbff 229px,#a9a9ff 232px,#c1c1ff 233px,#a6a6ff 235px,#ccf 236px,#d3d3ff 237px,#9c9cff 239px,#a6a6ff 240px,#9797ff 241px,#a6a6ff 242px,#a5a5ff 244px,#b2b2ff 246px,#cdcdff 250px,#e2e2ff 251px,#dedeff 254px,#efefff 269px,#f8f8ff 306px)"></i><i style="top:601.05px;height:1.05px;background:linear-gradient(90deg,#f8f8ff 0,#f0f0ff 176px,#ddf 188px,#e0e0ff 192px,#c7c7ff 197px,#c3c3ff 200px,#b5b5ff 203px,#5252ff 206px,#8585ff 208px,#9090ff 209px,#6565ff 210px,#7c7cff 211px,#c5c5ff 212px,#8181ff 214px,#7878ff 216px,#bebeff 218px,#99f 220px,#c8c8ff 222px,#b8b8ff 223px,#9191ff 224px,#9797ff 227px,#b8b8ff 229px,#9595ff 231px,#9494ff 232px,#b4b4ff 233px,#9797ff 235px,#c5c5ff 236px,#cdcdff 237px,#9191ff 239px,#9d9dff 240px,#8d8dff 241px,#9e9eff 242px,#9c9cff 244px,#a9a9ff 246px,#c5c5ff 250px,#ddf 251px,#d1d1ff 252px,#e1e1ff 259px,#f8f8ff 306px)"></i><i style="top:602.05px;height:1.05px;background:linear-gradient(90deg,#f8f8ff 0,#efefff 175px,#e2e2ff 186px,#cdcdff 190px,#d7d7ff 192px,#b0b0ff 196px,#bfbfff 198px,#a3a3ff 203px,#3535ff 206px,#7474ff 208px,#8181ff 209px,#4e4eff 210px,#6767ff 211px,#bbf 212px,#66f 214px,#5353ff 216px,#7575ff 217px,#aaf 218px,#8585ff 219px,#7272ff 220px,#b1b1ff 222px,#9a9aff 223px,#5f5fff 224px,#7070ff 227px,#9595ff 228px,#a3a3ff 229px,#7a7aff 231px,#7a7aff 232px,#a5a5ff 233px,#8a8aff 234px,#8383ff 235px,#bcbcff 236px,#c6c6ff 237px,#9a9aff 238px,#8282ff 239px,#9090ff 240px,#7e7eff 241px,#9292ff 242px,#8f8fff 244px,#a0a0ff 245px,#a8a8ff 249px,#d7d7ff 251px,#c6c6ff 252px,#cdcdff 258px,#e3e3ff 260px,#e4e4ff 265px,#f7f7ff 306px)"></i><i style="top:603.05px;height:1.05px;background:linear-gradient(90deg,#f7f7ff 0,#f1f1ff 169px,#dbdbff 186px,#c0c0ff 190px,#cdcdff 192px,#ababff 194px,#9b9bff 196px,#aeaeff 198px,#9191ff 203px,#1313ff 206px,#6060ff 208px,#6f6fff 209px,#3434ff 210px,#5050ff 211px,#b1b1ff 212px,#4848ff 214px,#2b2bff 216px,#5353ff 217px,#9494ff 218px,#6363ff 219px,#4a4aff 220px,#9a9aff 222px,#7b7bff 223px,#2c2cff 224px,#4747ff 227px,#7878ff 228px,#8c8cff 229px,#5c5cff 231px,#5f5fff 232px,#9393ff 233px,#7474ff 234px,#6e6eff 235px,#b1b1ff 236px,#bebeff 237px,#8b8bff 238px,#7070ff 239px,#8181ff 240px,#6d6dff 241px,#8383ff 242px,#8080ff 244px,#9292ff 245px,#8d8dff 247px,#99f 249px,#d0d0ff 251px,#bbf 252px,#c2c2ff 255px,#c0c0ff 258px,#ddf 260px,#d4d4ff 262px,#e2e2ff 268px,#f7f7ff 306px)"></i><i style="top:604.05px;height:1.05px;background:linear-gradient(90deg,#f7f7ff 0,#efefff 169px,#e4e4ff 176px,#d4d4ff 186px,#b5b5ff 189px,#c4c4ff 192px,#9b9bff 194px,#8686ff 196px,#9f9fff 198px,#7f7fff 203px,#1b1bff 205px,#0000f6 206px,#1a1aff 207px,#4d4dff 208px,#5e5eff 209px,#1b1bff 210px,#3a3aff 211px,#a7a7ff 212px,#2b2bff 214px,#0606ff 216px,#33f 217px,#8080ff 218px,#44f 219px,#2424ff 220px,#8585ff 222px,#5d5dff 223px,#0000fc 224px,#2121ff 227px,#5e5eff 228px,#77f 229px,#4040ff 231px,#44f 232px,#8383ff 233px,#5f5fff 234px,#5959ff 235px,#a7a7ff 236px,#b6b6ff 237px,#7d7dff 238px,#5e5eff 239px,#7272ff 240px,#5c5cff 241px,#7474ff 242px,#7070ff 244px,#8585ff 245px,#7e7eff 247px,#8a8aff 249px,#a1a1ff 250px,#c9c9ff 251px,#b0b0ff 252px,#b8b8ff 255px,#b4b4ff 258px,#d7d7ff 260px,#ccf 262px,#d6d6ff 263px,#cdcdff 264px,#dfdfff 266px,#e2e2ff 271px,#f7f7ff 306px)"></i><i style="top:605.05px;height:1.05px;background:linear-gradient(90deg,#f7f7ff 0,#eef 169px,#e2e2ff 176px,#cfcfff 186px,#b2b2ff 188px,#aaf 190px,#bcbcff 191px,#bcbcff 192px,#8d8dff 194px,#77f 196px,#9393ff 198px,#7171ff 203px,#0505ff 205px,#0000e5 206px,#0606ff 207px,#3e3eff 208px,#5151ff 209px,#0808ff 210px,#2929ff 211px,#9f9fff 212px,#1515ff 214px,#0000fa 215px,#00e 216px,#1a1aff 217px,#7070ff 218px,#2b2bff 219px,#0606ff 220px,#7474ff 222px,#4747ff 223px,#0000e2 224px,#0303ff 227px,#4949ff 228px,#66f 229px,#2a2aff 231px,#2f2fff 232px,#7575ff 233px,#4f4fff 234px,#4848ff 235px,#9f9fff 236px,#afafff 237px,#7272ff 238px,#5151ff 239px,#6767ff 240px,#4e4eff 241px,#6969ff 242px,#6565ff 244px,#7b7bff 245px,#7272ff 247px,#7f7fff 249px,#9797ff 250px,#c4c4ff 251px,#a8a8ff 252px,#afafff 255px,#aaf 258px,#d2d2ff 260px,#c3c3ff 261px,#d1d1ff 263px,#c7c7ff 264px,#dbdbff 266px,#d4d4ff 270px,#dbdbff 273px,#f5f5ff 295px,#f7f7ff 306px)"></i><i style="top:606.05px;height:2.05px;background:linear-gradient(90deg,#f7f7ff 0,#ededff 169px,#e0e0ff 176px,#ccf 186px,#adadff 188px,#a4a4ff 190px,#b8b8ff 191px,#b8b8ff 192px,#8686ff 194px,#6e6eff 196px,#8c8cff 198px,#7272ff 201px,#6a6aff 203px,#0000fb 205px,#0000de 206px,#0000fe 207px,#3838ff 208px,#4c4cff 209px,#0101ff 210px,#22f 211px,#9c9cff 212px,#0a0aff 214px,#0000e2 216px,#0b0bff 217px,#66f 218px,#1c1cff 219px,#0000f6 220px,#2727ff 221px,#6969ff 222px,#3838ff 223px,#0000d2 224px,#0000f4 227px,#3d3dff 228px,#5c5cff 229px,#1d1dff 231px,#2424ff 232px,#6f6fff 233px,#4747ff 234px,#4141ff 235px,#9c9cff 236px,#adadff 237px,#6d6dff 238px,#4c4cff 239px,#6262ff 240px,#4949ff 241px,#6565ff 242px,#6060ff 244px,#77f 245px,#6e6eff 247px,#7a7aff 249px,#9393ff 250px,#c1c1ff 251px,#a3a3ff 252px,#afafff 253px,#a5a5ff 258px,#cfcfff 260px,#bfbfff 261px,#ceceff 263px,#c3c3ff 264px,#d9d9ff 266px,#d1d1ff 270px,#d9d9ff 273px,#f3f3ff 291px,#f7f7ff 306px)"></i><i style="top:608.05px;height:1.05px;background:linear-gradient(90deg,#f7f7ff 0,#eef 169px,#e2e2ff 176px,#d0d0ff 186px,#acacff 189px,#aaf 190px,#bdbdff 191px,#bdbdff 192px,#8e8eff 194px,#77f 196px,#9393ff 198px,#7373ff 203px,#0d0dff 205px,#0000ed 206px,#11f 207px,#4747ff 208px,#5959ff 209px,#1313ff 210px,#3232ff 211px,#a2a2ff 212px,#1919ff 214px,#0000fb 215px,#00e 216px,#1818ff 217px,#6e6eff 218px,#2828ff 219px,#0101ff 220px,#7070ff 222px,#4242ff 223px,#00d 224px,#0000fe 227px,#4848ff 228px,#6565ff 229px,#2b2bff 231px,#3232ff 232px,#7878ff 233px,#5353ff 234px,#4e4eff 235px,#a3a3ff 236px,#b2b2ff 237px,#7878ff 238px,#5a5aff 239px,#6f6fff 240px,#5858ff 241px,#7272ff 242px,#6e6eff 244px,#8282ff 245px,#7a7aff 247px,#8484ff 249px,#9b9bff 250px,#c5c5ff 251px,#aaf 252px,#b1b1ff 255px,#ababff 258px,#d2d2ff 260px,#c3c3ff 261px,#d1d1ff 263px,#c7c7ff 264px,#dbdbff 266px,#d4d4ff 270px,#dbdbff 273px,#f5f5ff 295px,#f7f7ff 306px)"></i><i style="top:609.05px;height:1.05px;background:linear-gradient(90deg,#f7f7ff 0,#f0f0ff 169px,#d6d6ff 186px,#b7b7ff 189px,#c5c5ff 192px,#9c9cff 194px,#88f 196px,#a0a0ff 198px,#8484ff 203px,#0a0aff 206px,#5d5dff 208px,#6d6dff 209px,#3030ff 210px,#4a4aff 211px,#adadff 212px,#3434ff 214px,#0909ff 216px,#33f 217px,#7e7eff 218px,#4040ff 219px,#1e1eff 220px,#8080ff 222px,#5757ff 223px,#0000f6 224px,#1d1dff 227px,#5d5dff 228px,#77f 229px,#4545ff 231px,#4b4bff 232px,#88f 233px,#6969ff 234px,#6464ff 235px,#aeaeff 236px,#bcbcff 237px,#8a8aff 238px,#6f6fff 239px,#8282ff 240px,#6f6fff 241px,#8585ff 242px,#8181ff 244px,#9393ff 245px,#8c8cff 247px,#9595ff 249px,#cdcdff 251px,#b5b5ff 252px,#bbf 255px,#b6b6ff 258px,#d8d8ff 260px,#ceceff 262px,#ddf 268px,#f7f7ff 306px)"></i><i style="top:610.05px;height:1.05px;background:linear-gradient(90deg,#f7f7ff 0,#efefff 175px,#dedeff 186px,#c5c5ff 190px,#d0d0ff 192px,#aaf 195px,#a5a5ff 197px,#b2b2ff 198px,#9b9bff 203px,#3737ff 206px,#7b7bff 208px,#8787ff 209px,#5656ff 210px,#6b6bff 211px,#bbf 212px,#5858ff 214px,#3434ff 216px,#5757ff 217px,#9494ff 218px,#6161ff 219px,#4646ff 220px,#9696ff 222px,#7474ff 223px,#22f 224px,#4646ff 227px,#7a7aff 228px,#8f8fff 229px,#6767ff 231px,#6c6cff 232px,#9e9eff 233px,#8585ff 234px,#8282ff 235px,#bdbdff 236px,#c8c8ff 237px,#a0a0ff 238px,#8c8cff 239px,#9a9aff 240px,#8c8cff 241px,#9d9dff 242px,#9b9bff 244px,#a9a9ff 245px,#ababff 249px,#d6d6ff 251px,#c4c4ff 252px,#c5c5ff 258px,#dfdfff 260px,#d7d7ff 262px,#e3e3ff 268px,#f7f7ff 306px)"></i><i style="top:611.05px;height:1.05px;background:linear-gradient(90deg,#f8f8ff 0,#f0f0ff 176px,#dedeff 187px,#ddf 192px,#babaff 196px,#c0c0ff 199px,#b5b5ff 203px,#6b6bff 206px,#9c9cff 208px,#a5a5ff 209px,#8080ff 210px,#8f8fff 211px,#cbcbff 212px,#8181ff 214px,#66f 216px,#7f7fff 217px,#aeaeff 218px,#7373ff 220px,#afafff 222px,#9696ff 223px,#5959ff 224px,#7474ff 227px,#9b9bff 228px,#ababff 229px,#8e8eff 231px,#9292ff 232px,#b7b7ff 233px,#a3a3ff 235px,#cdcdff 236px,#d6d6ff 237px,#ababff 239px,#b6b6ff 240px,#acacff 241px,#bfbfff 246px,#ceceff 250px,#e1e1ff 251px,#d8d8ff 254px,#dfdfff 259px,#f8f8ff 306px)"></i><i style="top:612.05px;height:1.05px;background:linear-gradient(90deg,#f8f8ff 0,#f1f1ff 186px,#dbdbff 195px,#cfcfff 203px,#9f9fff 206px,#c3c3ff 209px,#ababff 210px,#b4b4ff 211px,#dbdbff 212px,#9f9fff 215px,#99f 216px,#c7c7ff 218px,#a1a1ff 220px,#c8c8ff 222px,#b8b8ff 223px,#9191ff 224px,#a3a3ff 227px,#c7c7ff 229px,#b9b9ff 232px,#d0d0ff 233px,#c4c4ff 235px,#dedeff 236px,#e4e4ff 237px,#cbcbff 239px,#e2e2ff 250px,#e8e8ff 255px,#f8f8ff 306px)"></i><i style="top:613.05px;height:1.05px;background:linear-gradient(90deg,#f8f8ff 0,#f4f4ff 194px,#e0e0ff 204px,#d6d6ff 207px,#dfdfff 209px,#d8d8ff 211px,#eaeaff 212px,#c9c9ff 216px,#e0e0ff 218px,#cdcdff 220px,#e1e1ff 222px,#c6c6ff 224px,#dfdfff 230px,#ececff 238px,#f8f8ff 306px)"></i><i style="top:614.05px;height:1.05px;background:linear-gradient(90deg,#f8f8ff 0,#fff5f5 188px,#f7f7ff 213px,#fff8f8 240px,#fff6f6 250px,#f8f8ff 306px)"></i><i style="top:615.05px;height:1.05px;background:linear-gradient(90deg,#f8f8ff 0,#fff9f9 176px,#ffe6e6 190px,#fff0f0 192px,#ffe2e2 197px,#ffe1e1 204px,#ffd6d6 206px,#fee 209px,#ffeaea 211px,#fffafa 212px,#ffe2e2 216px,#fff4f4 218px,#ffecec 221px,#ffeded 223px,#ffdcdc 224px,#ffe8e8 230px,#ffe0e0 232px,#ffecec 233px,#ffe1e1 235px,#fff6f6 237px,#fdd 239px,#ffe5e5 250px,#fff4f4 251px,#ffeaea 258px,#fff3f3 261px,#fafaff 287px,#f8f8ff 306px)"></i><i style="top:616.05px;height:1.05px;background:linear-gradient(90deg,#f8f8ff 0,#fcfcff 159px,#fff5f5 176px,#ffebeb 186px,#ffd8d8 190px,#ffe5e5 192px,#ffc8c8 196px,#ffd5d5 199px,#ffd7d7 203px,#ffb0b0 206px,#ffd9d9 209px,#ffc7c7 210px,#ffd0d0 211px,#ffefef 212px,#ffc4c4 215px,#fcc 217px,#ffe2e2 218px,#ffc6c6 220px,#ffe2e2 222px,#ffd5d5 223px,#ffb5b5 224px,#ffbdbd 227px,#ffd9d9 229px,#ffc4c4 232px,#ffdada 233px,#ffc8c8 235px,#ffe6e6 236px,#ffebeb 237px,#ffc5c5 239px,#fcc 240px,#ffc1c1 241px,#ffd5d5 250px,#ffebeb 251px,#ffdcdc 252px,#fdd 258px,#fff2f2 260px,#fafaff 292px,#f8f8ff 306px)"></i><i style="top:617.05px;height:1.05px;background:linear-gradient(90deg,#f8f8ff 0,#f7f7ff 98px,#fff6f6 175px,#ffeaea 178px,#ffe4e4 186px,#ffcaca 189px,#ffdbdb 192px,#ffbebe 194px,#ffbcbc 197px,#ffcaca 198px,#ffc4c4 203px,#ff8d8d 206px,#ffbdbd 208px,#ffc6c6 209px,#ffacac 210px,#ffb9b9 211px,#ffe5e5 212px,#ffb1b1 214px,#ff9f9f 216px,#ffd2d2 218px,#ffa8a8 220px,#ffd2d2 222px,#ffbfbf 223px,#ff9191 224px,#ff9e9e 227px,#ffc6c6 229px,#ffa9a9 231px,#ffa9a9 232px,#ffc9c9 233px,#ffb1b1 235px,#ffdada 236px,#ffe1e1 237px,#ffaeae 239px,#ffb8b8 240px,#ffa9a9 241px,#ffb6b6 242px,#ffb0b0 244px,#ffb6b6 246px,#ffb8b8 249px,#ffe3e3 251px,#ffd0d0 252px,#ffd0d0 258px,#ffecec 260px,#ffe5e5 262px,#fff3f3 268px,#f9f9ff 297px,#f8f8ff 306px)"></i><i style="top:618.05px;height:1.05px;background:linear-gradient(90deg,#f8f8ff 0,#f3f3ff 91px,#fffafa 169px,#ffecec 176px,#ffe5e5 178px,#ffdcdc 186px,#ffc2c2 188px,#ffbdbd 190px,#ffd1d1 192px,#ffadad 194px,#ffa0a0 196px,#fbb 198px,#ffb3b3 203px,#ff6d6d 206px,#ffa8a8 208px,#ffb4b4 209px,#ff9292 210px,#ffa3a3 211px,#ffdcdc 212px,#f99 214px,#ff8282 216px,#f99 217px,#ffc3c3 218px,#ff8d8d 220px,#ffc3c3 222px,#ffabab 223px,#ff6f6f 224px,#ff8181 227px,#ffa6a6 228px,#ffb5b5 229px,#ff8f8f 231px,#ff9191 232px,#ffb8b8 233px,#ffa0a0 234px,#ff9a9a 235px,#ffcfcf 236px,#ffd8d8 237px,#ff9898 239px,#ffa5a5 240px,#ff9292 241px,#ffa3a3 242px,#ff9b9b 244px,#ffa9a9 245px,#ff9f9f 247px,#ffa5a5 249px,#ffdbdb 251px,#ffc3c3 252px,#ffc8c8 255px,#ffc5c5 258px,#ffe7e7 260px,#fdd 262px,#ffefef 268px,#fdfdff 287px,#f8f8ff 306px)"></i><i style="top:619.05px;height:1.05px;background:linear-gradient(90deg,#f8f8ff 0,#ebebff 74px,#fff8f8 169px,#ffe8e8 176px,#ffe0e0 178px,#ffd4d4 183px,#ffd5d5 186px,#ffb6b6 188px,#ffb0b0 190px,#ffc6c6 191px,#ffc8c8 192px,#ffa9a9 193px,#ff8d8d 196px,#ffadad 198px,#ffa3a3 203px,#ff4e4e 206px,#ff9595 208px,#ffa3a3 209px,#ff7a7a 210px,#ff8e8e 211px,#ffd3d3 212px,#ff8282 214px,#f66 216px,#ff8282 217px,#ffb5b5 218px,#ff8b8b 219px,#ff7474 220px,#ffb5b5 222px,#ff9898 223px,#ff5050 224px,#f66 227px,#ff9292 228px,#ffa4a4 229px,#f77 231px,#ff7979 232px,#ffa9a9 233px,#ff8c8c 234px,#ff8585 235px,#ffc4c4 236px,#ffcfcf 237px,#ff9e9e 238px,#ff8383 239px,#ff9292 240px,#ff7c7c 241px,#ff9090 242px,#ff8787 244px,#ff9898 245px,#ff8c8c 247px,#ff9494 249px,#ffa9a9 250px,#ffd3d3 251px,#ffb7b7 252px,#ffbdbd 255px,#ffb9b9 258px,#ffe1e1 260px,#ffd3d3 261px,#ffe1e1 263px,#ffd8d8 264px,#ffecec 266px,#fff1f1 271px,#fbfbff 292px,#f8f8ff 306px)"></i><i style="top:620.05px;height:1.05px;background:linear-gradient(90deg,#f8f8ff 0,#f1f1ff 71px,#e6e6ff 84px,#f8f8ff 122px,#fff6f6 169px,#fee 175px,#ffd6d6 177px,#ffdcdc 180px,#ffc7c7 184px,#ffcece 186px,#ffb3b3 187px,#ffa4a4 190px,#ffbdbd 191px,#ffbfbf 192px,#ff9b9b 193px,#ff7b7b 196px,#ff9f9f 198px,#ff9393 201px,#ff9494 203px,#ff3131 206px,#ff8484 208px,#ff9494 209px,#ff6565 210px,#ff7c7c 211px,#ffcbcb 212px,#ff6e6e 214px,#ff4d4d 216px,#ff6e6e 217px,#ffa8a8 218px,#ff7878 219px,#ff5d5d 220px,#ffa8a8 222px,#ff8686 223px,#f33 224px,#ff4d4d 227px,#ff8080 228px,#ff9595 229px,#ff6161 231px,#ff6363 232px,#ff9b9b 233px,#ff7979 234px,#ff7171 235px,#ffbaba 236px,#ffc7c7 237px,#ff8f8f 238px,#ff6f6f 239px,#ff8080 240px,#ff6767 241px,#ff7e7e 242px,#ff7474 244px,#f88 245px,#ff7a7a 247px,#ff8383 249px,#ff9c9c 250px,#fcc 251px,#ffacac 252px,#ffb8b8 253px,#ffadad 257px,#ffaeae 258px,#ffdcdc 260px,#fcc 261px,#ffdcdc 263px,#ffd2d2 264px,#ffe9e9 266px,#ffe4e4 270px,#fefeff 285px,#f8f8ff 306px)"></i><i style="top:621.05px;height:1.05px;background:linear-gradient(90deg,#f8f8ff 0,#efefff 71px,#e7e7ff 76px,#e2e2ff 84px,#f8f8ff 115px,#fff7f7 168px,#ffecec 173px,#ffe0e0 176px,#ffd1d1 177px,#ffd7d7 180px,#ffc0c0 184px,#ffc8c8 186px,#faa 187px,#f99 190px,#ffb5b5 191px,#ffb7b7 192px,#ff8f8f 193px,#ff6b6b 196px,#ff9494 198px,#ff8686 201px,#ff8787 203px,#f33 205px,#ff1919 206px,#ff7575 208px,#ff8686 209px,#ff5252 210px,#ff6b6b 211px,#ffc4c4 212px,#ff5c5c 214px,#ff3737 216px,#ff5c5c 217px,#ff9d9d 218px,#ff6767 219px,#ff4949 220px,#ff9d9d 222px,#f77 223px,#ff1a1a 224px,#ff3737 227px,#ff7171 228px,#f88 229px,#ff4e4e 231px,#ff5151 232px,#ff8e8e 233px,#ff6969 234px,#ff6060 235px,#ffb1b1 236px,#ffbfbf 237px,#ff8181 238px,#ff5e5e 239px,#ff7171 240px,#f55 241px,#ff6f6f 242px,#ff6464 244px,#ff7a7a 245px,#ff6b6b 247px,#ff7474 249px,#ff9090 250px,#ffc5c5 251px,#ffa2a2 252px,#ffb0b0 253px,#ffa3a3 257px,#ffa5a5 258px,#ffd7d7 260px,#ffc5c5 261px,#ffd8d8 263px,#ffcdcd 264px,#ffe6e6 266px,#ffe0e0 270px,#ffe9e9 273px,#fff 287px,#f8f8ff 306px)"></i><i style="top:622.05px;height:1.05px;background:linear-gradient(90deg,#f8f8ff 0,#eef 71px,#e4e4ff 76px,#dfdfff 84px,#f7f7ff 111px,#fff6f6 164px,#fff3f3 169px,#ffe9e9 173px,#fdd 176px,#fcc 177px,#ffd4d4 180px,#ffbaba 184px,#ffc3c3 186px,#ffa2a2 187px,#ff9090 190px,#ffaeae 191px,#ffb0b0 192px,#ff8686 193px,#ff5f5f 196px,#ff8a8a 198px,#ff7b7b 201px,#ff7c7c 203px,#f22 205px,#ff0505 206px,#ff6868 208px,#ff7c7c 209px,#ff4343 210px,#ff5f5f 211px,#ffbfbf 212px,#ff4d4d 214px,#ff2626 216px,#ff4d4d 217px,#ff9494 218px,#ff5a5a 219px,#ff3939 220px,#ff9494 222px,#ff6b6b 223px,#ff0707 224px,#ff2626 227px,#ff6464 228px,#ff7d7d 229px,#ff3f3f 231px,#ff4141 232px,#ff8484 233px,#ff5c5c 234px,#ff5252 235px,#faa 236px,#ffb9b9 237px,#ff7676 238px,#ff5050 239px,#ff6565 240px,#ff4747 241px,#ff6262 242px,#ff5757 244px,#ff6e6e 245px,#ff5e5e 247px,#ff6c6c 248px,#ff6868 249px,#ff8686 250px,#ffc0c0 251px,#ff9a9a 252px,#ffa8a8 253px,#ff9b9b 257px,#ff9d9d 258px,#ffd4d4 260px,#ffc0c0 261px,#ffd4d4 263px,#ffc8c8 264px,#ffe3e3 266px,#fdd 270px,#ffe7e7 273px,#fffefe 287px,#f8f8ff 306px)"></i><i style="top:623.05px;height:4.05px;background:linear-gradient(90deg,#f8f8ff 0,#ececff 71px,#dbdbff 75px,#e4e4ff 78px,#d7d7ff 83px,#e6e6ff 86px,#f8f8ff 125px,#fffbfb 163px,#ffe6e6 173px,#ffe5e5 175px,#ffc6c6 177px,#ffcece 180px,#ffb3b3 184px,#ffbdbd 186px,#ff9a9a 187px,#ff8686 190px,#ffa7a7 191px,#ffa9a9 192px,#ff7b7b 193px,#ff5151 196px,#ff8181 198px,#ff7171 201px,#ff7272 203px,#f11 205px,#f80000 206px,#ff2424 207px,#ff5d5d 208px,#ff7171 209px,#ff3434 210px,#ff5252 211px,#ffb9b9 212px,#ff4040 214px,#ff1515 216px,#ff4040 217px,#ff8c8c 218px,#ff4d4d 219px,#ff2929 220px,#ff8b8b 222px,#ff5f5f 223px,#f90000 224px,#ff1515 227px,#ff5858 228px,#ff7373 229px,#ff3030 231px,#f33 232px,#ff7b7b 233px,#ff4f4f 234px,#ff4545 235px,#ffa3a3 236px,#ffb4b4 237px,#ff6c6c 238px,#ff4242 239px,#ff5959 240px,#ff3939 241px,#ff5656 242px,#ff4949 244px,#ff6363 245px,#ff5151 247px,#ff6060 248px,#ff5c5c 249px,#ff7c7c 250px,#fbb 251px,#ff9191 252px,#ffa1a1 253px,#ff8c8c 256px,#ff9393 258px,#ffcfcf 260px,#ffb9b9 261px,#ffcfcf 263px,#ffc2c2 264px,#ffdfdf 266px,#ffd9d9 270px,#ffe9e9 272px,#ffeaea 276px,#fffdfd 287px,#f9f9ff 306px)"></i><i style="top:627.05px;height:2.05px;background:linear-gradient(90deg,#f8f8ff 0,#ededff 71px,#e3e3ff 76px,#dedeff 84px,#f7f7ff 110px,#fffafa 163px,#ffefef 169px,#ffe2e2 172px,#ffe4e4 175px,#ffc4c4 177px,#ffcece 180px,#ffb3b3 184px,#ffbebe 186px,#ff9b9b 187px,#ff8989 190px,#ffa9a9 191px,#ffacac 192px,#ff7f7f 193px,#ff5757 196px,#ff8686 198px,#f77 201px,#ff7878 203px,#ff1c1c 205px,#fd0202 206px,#ff6565 208px,#ff7878 209px,#ff3e3e 210px,#ff5a5a 211px,#ffbdbd 212px,#ff4848 214px,#ff1e1e 216px,#ff4747 217px,#ff9090 218px,#ff5252 219px,#ff2f2f 220px,#ff8e8e 222px,#ff6363 223px,#fc0000 224px,#ff1c1c 227px,#ff5d5d 228px,#ff7878 229px,#ff3939 231px,#ff3c3c 232px,#ff8181 233px,#ff5757 234px,#ff4e4e 235px,#ffa8a8 236px,#ffb8b8 237px,#ff7373 238px,#ff4b4b 239px,#ff6161 240px,#ff4242 241px,#ff5e5e 242px,#ff5151 244px,#ff6969 245px,#ff5858 247px,#f66 248px,#ff6161 249px,#ff8080 250px,#ffbdbd 251px,#ff9494 252px,#ffa3a3 253px,#ff8e8e 256px,#ff9494 258px,#ffcfcf 260px,#ffb9b9 261px,#ffcece 263px,#ffc1c1 264px,#ffdfdf 266px,#ffd7d7 270px,#ffe7e7 272px,#ffe8e8 276px,#fffdfd 286px,#f9f9ff 306px)"></i><i style="top:629.05px;height:2.05px;background:linear-gradient(90deg,#f9f9ff 0,#f0f0ff 71px,#e9e9ff 76px,#e4e4ff 84px,#f8f8ff 118px,#fffafa 163px,#ffefef 169px,#ffe2e2 172px,#ffe4e4 175px,#ffc5c5 177px,#ffcfcf 180px,#ffb6b6 184px,#ffc0c0 186px,#ff9f9f 187px,#ff8e8e 190px,#ffaeae 191px,#ffb0b0 192px,#ff8686 193px,#ff6161 196px,#ff8d8d 198px,#ff8080 201px,#ff8282 203px,#ff2c2c 205px,#ff1010 206px,#ff6f6f 208px,#ff8181 209px,#ff4b4b 210px,#ff6565 211px,#ffc1c1 212px,#ff5151 214px,#ff2424 216px,#ff4a4a 217px,#ff9090 218px,#ff5151 219px,#ff2c2c 220px,#ff8b8b 222px,#ff5f5f 223px,#f80000 224px,#ff1b1b 227px,#ff5e5e 228px,#ff7a7a 229px,#ff4040 231px,#f44 232px,#f88 233px,#ff6161 234px,#ff5959 235px,#ffadad 236px,#ffbdbd 237px,#ff7c7c 238px,#ff5858 239px,#ff6c6c 240px,#ff4e4e 241px,#ff6969 242px,#ff5c5c 244px,#ff7373 245px,#ff6262 247px,#ff6b6b 249px,#ff8787 250px,#ffc1c1 251px,#ff9a9a 252px,#ffa8a8 253px,#ff9797 257px,#f99 258px,#ffd1d1 260px,#fbb 261px,#ffd0d0 263px,#ffc2c2 264px,#ffdfdf 266px,#ffd7d7 270px,#ffe7e7 272px,#ffe7e7 276px,#fffdfd 286px,#f9f9ff 306px)"></i><i style="top:631.05px;height:1.05px;background:linear-gradient(90deg,#f9f9ff 0,#ebebff 74px,#fffafa 163px,#fee 169px,#ffe1e1 172px,#ffe4e4 175px,#ffc5c5 177px,#ffcfcf 180px,#ffb7b7 184px,#ffc1c1 186px,#ffa1a1 187px,#ff9191 190px,#ffb0b0 191px,#ffb2b2 192px,#ff8a8a 193px,#f66 196px,#ff9191 198px,#ff8585 201px,#ff8686 203px,#f33 205px,#ff1919 206px,#ff7474 208px,#ff8585 209px,#ff4f4f 210px,#ff6868 211px,#ffc2c2 212px,#ff4d4d 214px,#ff1818 216px,#ff3c3c 217px,#ff8585 218px,#ff3c3c 219px,#ff0f0f 220px,#ff3a3a 221px,#ff7878 222px,#f44 223px,#e30000 224px,#fe0000 227px,#ff4e4e 228px,#ff6f6f 229px,#ff3939 231px,#ff4141 232px,#ff8787 233px,#ff6262 234px,#ff5c5c 235px,#ffafaf 236px,#ffbfbf 237px,#ff8080 238px,#ff5d5d 239px,#ff7171 240px,#f55 241px,#ff6e6e 242px,#ff6262 244px,#ff7878 245px,#ff6767 247px,#ff6f6f 249px,#ff8b8b 250px,#ffc2c2 251px,#ff9c9c 252px,#faa 253px,#f99 257px,#ff9a9a 258px,#ffd1d1 260px,#ffbcbc 261px,#ffd0d0 263px,#ffc2c2 264px,#ffdfdf 266px,#ffd6d6 270px,#ffe7e7 272px,#ffe7e7 276px,#fff7f7 282px,#f9f9ff 306px)"></i><i style="top:632.05px;height:1.05px;background:linear-gradient(90deg,#f9f9ff 0,#f3f3ff 91px,#fffafa 163px,#fee 169px,#ffe1e1 172px,#ffe3e3 175px,#ffc4c4 177px,#ffcece 180px,#ffb6b6 184px,#ffc1c1 186px,#ffa1a1 187px,#ff9191 190px,#ffb0b0 191px,#ffb3b3 192px,#ff8a8a 193px,#ff6767 196px,#ff9292 198px,#ff8686 201px,#ff8787 203px,#ff3535 205px,#ff1a1a 206px,#ff7474 208px,#ff8585 209px,#ff4d4d 210px,#ff6565 211px,#ffbfbf 212px,#ff4141 214px,#fd0000 216px,#ff1f1f 217px,#ff7070 218px,#ff1717 219px,#e00 220px,#ff0e0e 221px,#ff5858 222px,#ff1818 223px,#bf0000 224px,#e50000 227px,#ff2f2f 228px,#ff5959 229px,#ff2525 231px,#f33 232px,#ff8080 233px,#ff5c5c 234px,#ff5858 235px,#ffaeae 236px,#ffbebe 237px,#ff8080 238px,#ff5e5e 239px,#ff7272 240px,#ff5656 241px,#ff6f6f 242px,#ff6363 244px,#ff7979 245px,#ff6868 247px,#ff7070 249px,#ff8c8c 250px,#ffc3c3 251px,#ff9d9d 252px,#faa 253px,#f99 257px,#ff9a9a 258px,#ffd1d1 260px,#ffbcbc 261px,#ffd0d0 263px,#ffc2c2 264px,#ffdfdf 266px,#ffd6d6 270px,#ffe6e6 272px,#ffe6e6 276px,#fff7f7 282px,#f9f9ff 306px)"></i><i style="top:633.05px;height:1.05px;background:linear-gradient(90deg,#f9f9ff 0,#f7f7ff 98px,#fffafa 163px,#ffeded 169px,#ffe3e3 171px,#ffe3e3 175px,#ffc3c3 177px,#ffcece 180px,#ffb5b5 184px,#ffc1c1 186px,#ffa0a0 187px,#ff9090 190px,#ffafaf 191px,#ffb2b2 192px,#ff8989 193px,#f66 196px,#ff9191 198px,#ff8585 201px,#ff8787 203px,#f33 205px,#ff1818 206px,#ff7272 208px,#ff8181 209px,#ff4646 210px,#ff5c5c 211px,#ffbaba 212px,#ff2626 214px,#f90000 215px,#e20000 216px,#f30000 217px,#ff4949 218px,#e90000 219px,#c20000 220px,#e00000 221px,#f22 222px,#e60000 223px,#820000 224px,#b90000 227px,#fa0000 228px,#ff3030 229px,#fe0000 231px,#ff1515 232px,#ff7272 233px,#ff4f4f 234px,#ff4e4e 235px,#ffabab 236px,#ffbcbc 237px,#ff7e7e 238px,#ff5c5c 239px,#ff7070 240px,#ff5454 241px,#ff6e6e 242px,#ff6262 244px,#ff7878 245px,#ff6767 247px,#ff6f6f 249px,#ff8b8b 250px,#ffc2c2 251px,#ff9c9c 252px,#faa 253px,#ff9898 257px,#f99 258px,#ffd1d1 260px,#fbb 261px,#ffcfcf 263px,#ffc1c1 264px,#ffdede 266px,#ffd5d5 270px,#ffe5e5 272px,#ffe5e5 276px,#fff6f6 282px,#f9f9ff 306px)"></i><i style="top:634.05px;height:1.05px;background:linear-gradient(90deg,#f9f9ff 0,#fafaff 147px,#fffbfb 163px,#ffeded 169px,#ffe2e2 171px,#ffe2e2 175px,#ffc1c1 177px,#fcc 180px,#ffb4b4 184px,#ffbfbf 186px,#ff9e9e 187px,#ff8e8e 190px,#ffaeae 191px,#ffb1b1 192px,#ff8787 193px,#ff6464 196px,#ff9090 198px,#ff8383 201px,#ff8484 203px,#ff2f2f 205px,#ff1212 206px,#ff6c6c 208px,#ff7a7a 209px,#ff3838 210px,#ff4a4a 211px,#ffb0b0 212px,#fa0000 214px,#b50000 216px,#c80000 217px,#ff0c0c 218px,#b60000 219px,#810000 220px,#a00 221px,#ea0000 222px,#800000 224px,#800000 227px,#ce0000 228px,#f60000 229px,#dc0000 231px,#ef0000 232px,#ff5757 233px,#ff3535 234px,#ff3b3b 235px,#ffa4a4 236px,#ffb8b8 237px,#ff7878 238px,#ff5656 239px,#ff6c6c 240px,#ff5151 241px,#ff6b6b 242px,#ff6060 244px,#ff7575 245px,#ff6565 247px,#ff6d6d 249px,#ff8989 250px,#ffc1c1 251px,#ff9a9a 252px,#ffa8a8 253px,#ff9696 257px,#ff9797 258px,#ffd0d0 260px,#ffbaba 261px,#ffcece 263px,#ffbfbf 264px,#fdd 266px,#ffd3d3 270px,#ffe5e5 272px,#ffe4e4 276px,#fff6f6 282px,#f9f9ff 306px)"></i><i style="top:635.05px;height:1.05px;background:linear-gradient(90deg,#f9f9ff 0,#fffcfc 163px,#ffecec 169px,#ffe2e2 171px,#ffe1e1 175px,#ffc0c0 177px,#ffcbcb 180px,#ffb2b2 184px,#ffbebe 186px,#ff9b9b 187px,#ff8b8b 190px,#ffacac 191px,#ffaeae 192px,#ff8484 193px,#ff6060 196px,#ff8d8d 198px,#ff8080 201px,#ff8181 203px,#ff0808 206px,#ff6262 208px,#ff6e6e 209px,#ff1f1f 210px,#ff2d2d 211px,#ff9e9e 212px,#ff2d2d 213px,#d30000 214px,#800000 216px,#8b0000 217px,#dc0000 218px,#800000 219px,#800000 221px,#bd0000 222px,#800000 223px,#800000 227px,#940000 228px,#c80000 229px,#a80000 231px,#c50000 232px,#ff2b2b 233px,#ff0909 234px,#ff1919 235px,#ff9898 236px,#ffb1b1 237px,#ff6f6f 238px,#ff4d4d 239px,#f66 240px,#ff4a4a 241px,#ff6767 242px,#ff5b5b 244px,#ff7272 245px,#ff6161 247px,#ff6e6e 248px,#ff6969 249px,#ff8686 250px,#ffc0c0 251px,#ff9898 252px,#ffa6a6 253px,#ff9494 257px,#ff9595 258px,#ffcece 260px,#ffb8b8 261px,#fcc 263px,#ffbebe 264px,#ffdcdc 266px,#ffd2d2 270px,#ffe4e4 272px,#ffe3e3 276px,#fff5f5 282px,#f9f9ff 306px)"></i><i style="top:636.05px;height:1.05px;background:linear-gradient(90deg,#f9f9ff 0,#fffdfd 163px,#ffecec 169px,#fdd 170px,#ffe0e0 175px,#ffbebe 177px,#ffc9c9 180px,#ffbebe 181px,#ffc6c6 182px,#ffb0b0 184px,#ffbcbc 186px,#ff9898 187px,#f88 190px,#ffa9a9 191px,#ffacac 192px,#ff8080 193px,#ff5b5b 196px,#ff8989 198px,#ff7b7b 201px,#ff7c7c 203px,#ff1e1e 205px,#fc0000 206px,#ff5252 208px,#ff5a5a 209px,#fb0000 210px,#fe0000 211px,#ff8383 212px,#f50000 213px,#9d0000 214px,#800000 215px,#800000 217px,#b10000 218px,#800000 219px,#800000 221px,#950000 222px,#800000 223px,#800000 228px,#940000 229px,#800000 230px,#890000 232px,#f40000 233px,#e20000 234px,#f10000 235px,#ff8484 236px,#ffa6a6 237px,#ff6060 238px,#ff4040 239px,#ff5d5d 240px,#ff4242 241px,#ff6060 242px,#ff5656 244px,#ff6d6d 245px,#ff5c5c 247px,#ff6969 248px,#ff6464 249px,#ff8282 250px,#ffbdbd 251px,#ff9595 252px,#ffa3a3 253px,#ff8c8c 256px,#ff9191 258px,#ffcdcd 260px,#ffb5b5 261px,#ffcbcb 263px,#ffbcbc 264px,#ffdbdb 266px,#ffd1d1 270px,#ffe3e3 272px,#ffe0e0 275px,#fff5f5 282px,#f9f9ff 306px)"></i><i style="top:637.05px;height:1.05px;background:linear-gradient(90deg,#f9f9ff 0,#fff7f7 164px,#ffecec 169px,#fdd 170px,#ffdfdf 175px,#ffbcbc 177px,#ffc8c8 180px,#ffbcbc 181px,#ffc4c4 182px,#ffadad 184px,#ffb9b9 186px,#ff9595 187px,#ff8484 190px,#ffa6a6 191px,#ffa9a9 192px,#ff7c7c 193px,#ff5656 196px,#ff8585 198px,#ff7676 201px,#f77 203px,#f11 205px,#f30000 206px,#ff0d0d 207px,#ff3b3b 208px,#ff3c3c 209px,#d00 210px,#da0000 211px,#ff5c5c 212px,#cb0000 213px,#800000 214px,#800000 217px,#8c0000 218px,#800000 221px,#800000 232px,#c90000 233px,#b20000 234px,#c90000 235px,#f66 236px,#ff9494 237px,#ff4949 238px,#ff2c2c 239px,#ff5151 240px,#ff3737 241px,#ff5959 242px,#ff4f4f 244px,#ff6868 245px,#ff5656 247px,#ff6464 248px,#ff5f5f 249px,#ff7e7e 250px,#fbb 251px,#ff9191 252px,#ffa0a0 253px,#f88 256px,#ff8e8e 258px,#ffcbcb 260px,#ffb3b3 261px,#ffc9c9 263px,#ffbaba 264px,#ffdada 266px,#ffcfcf 270px,#ffe2e2 272px,#ffdfdf 275px,#fff4f4 282px,#f9f9ff 304px,#f9f9ff 306px)"></i><i style="top:638.05px;height:1.05px;background:linear-gradient(90deg,#f9f9ff 0,#fffafa 164px,#ffecec 169px,#ffdcdc 170px,#ffdede 175px,#ffbaba 177px,#ffc6c6 180px,#ffbaba 181px,#ffc2c2 182px,#ffabab 184px,#ffb7b7 186px,#ff9292 187px,#ff8080 190px,#ffa4a4 191px,#ffa6a6 192px,#ff7878 193px,#ff5050 196px,#ff8181 198px,#ff7171 201px,#ff7070 203px,#f00 205px,#e60000 206px,#f60000 207px,#ff1818 208px,#ff1010 209px,#b10000 210px,#a00 211px,#ff2c2c 212px,#9b0000 213px,#800000 214px,#800000 232px,#900 233px,#800000 234px,#940000 235px,#ff3b3b 236px,#ff7a7a 237px,#ff2727 238px,#ff0f0f 239px,#ff4040 240px,#ff2828 241px,#ff4f4f 242px,#ff4848 244px,#ff6262 245px,#ff5050 247px,#ff5f5f 248px,#ff5a5a 249px,#ff7a7a 250px,#ffb9b9 251px,#ff8d8d 252px,#ff9d9d 253px,#ff8585 256px,#ff8a8a 258px,#ffc9c9 260px,#ffb1b1 261px,#ffc7c7 263px,#ffb7b7 264px,#ffd9d9 266px,#ffcece 270px,#ffe1e1 272px,#ffdede 275px,#fff4f4 282px,#fafaff 303px,#f9f9ff 306px)"></i><i style="top:639.05px;height:1.05px;background:linear-gradient(90deg,#f9f9ff 0,#fbfbff 163px,#ffebeb 169px,#ffdbdb 170px,#fdd 175px,#ffb8b8 177px,#ffc4c4 180px,#ffb8b8 181px,#ffc0c0 182px,#ffa8a8 184px,#ffb5b5 186px,#ff8f8f 187px,#ff7c7c 190px,#ffa1a1 191px,#ffa4a4 192px,#ff7474 193px,#ff4a4a 196px,#ff7c7c 198px,#ff6c6c 201px,#ff6969 203px,#ff2a2a 204px,#f40000 205px,#d40000 206px,#f20000 208px,#e80000 209px,#800000 210px,#800000 211px,#fb0000 212px,#800000 213px,#800000 235px,#ff0303 236px,#ff5656 237px,#fa0000 238px,#f20000 239px,#ff2828 240px,#ff1515 241px,#f44 242px,#ff4040 244px,#ff5c5c 245px,#ff4a4a 247px,#ff5a5a 248px,#f55 249px,#ff7575 250px,#ffb7b7 251px,#ff8a8a 252px,#ff9a9a 253px,#ff8181 256px,#ff8787 258px,#ffc8c8 260px,#ffafaf 261px,#ffc6c6 263px,#ffb6b6 264px,#ffd8d8 266px,#fcc 270px,#ffe0e0 272px,#ffdede 275px,#fff4f4 282px,#fafaff 303px,#f9f9ff 306px)"></i><i style="top:640.05px;height:1.05px;background:linear-gradient(90deg,#f9f9ff 0,#f4f4ff 158px,#fff7f7 166px,#ffebeb 169px,#ffdbdb 170px,#ffdcdc 175px,#ffb6b6 177px,#ffc3c3 180px,#ffb7b7 181px,#ffbfbf 182px,#ffa6a6 184px,#ffb3b3 186px,#ff8c8c 187px,#ff7979 190px,#ff9e9e 191px,#ffa1a1 192px,#ff7070 193px,#ff4545 196px,#ff7878 198px,#f66 201px,#ff6161 203px,#ff1b1b 204px,#e60000 205px,#b00 206px,#d00000 208px,#c00000 209px,#800000 210px,#800000 211px,#e50000 212px,#800000 213px,#800000 235px,#e10000 236px,#ff2828 237px,#d90000 238px,#d50000 239px,#ff0606 240px,#fd0000 241px,#ff3535 242px,#ff3838 244px,#ff5656 245px,#ff4545 247px,#f55 248px,#ff4f4f 249px,#ff7171 250px,#ffb4b4 251px,#ff8686 252px,#ff9797 253px,#ff7e7e 256px,#ff8484 258px,#ffc6c6 260px,#ffadad 261px,#ffc4c4 263px,#ffb4b4 264px,#ffd7d7 266px,#ffcbcb 270px,#ffdfdf 272px,#fdd 275px,#fff3f3 282px,#fafaff 303px,#f9f9ff 306px)"></i><i style="top:641.05px;height:1.05px;background:linear-gradient(90deg,#f9f9ff 0,#f5f5ff 157px,#fff6f6 167px,#ffdada 170px,#ffdcdc 175px,#ffb5b5 177px,#ffc2c2 180px,#ffb5b5 181px,#ffbdbd 182px,#ffa4a4 184px,#ffb1b1 186px,#ff8989 187px,#ff7676 190px,#ff9c9c 191px,#ff9e9e 192px,#ff6c6c 193px,#ff4040 196px,#ff7474 198px,#ff6060 201px,#ff5757 203px,#ff0707 204px,#980000 206px,#a50000 208px,#800000 210px,#800000 211px,#d30000 212px,#800000 213px,#800000 235px,#f90000 237px,#b00000 238px,#ae0000 239px,#eb0000 240px,#eb0000 241px,#ff2323 242px,#ff2e2e 244px,#ff5050 245px,#ff3f3f 247px,#ff5050 248px,#ff4b4b 249px,#ff6d6d 250px,#ffb2b2 251px,#ff8383 252px,#ff9595 253px,#ff7b7b 256px,#ff8181 258px,#ffc5c5 260px,#ffabab 261px,#ffc3c3 263px,#ffb2b2 264px,#ffd6d6 266px,#ffcaca 270px,#ffdfdf 272px,#ffdcdc 275px,#fff3f3 282px,#fafaff 302px,#f9f9ff 306px)"></i><i style="top:642.05px;height:1.05px;background:linear-gradient(90deg,#f9f9ff 0,#f4f4ff 157px,#f7f7ff 163px,#ffebeb 169px,#ffdada 170px,#ffdbdb 175px,#ffb4b4 177px,#ffc1c1 180px,#ffb4b4 181px,#ffbcbc 182px,#ffa2a2 184px,#ffb0b0 186px,#ff8787 187px,#ff7373 190px,#ff9a9a 191px,#ff9c9c 192px,#ff6969 193px,#ff3c3c 196px,#ff7171 198px,#ff5b5b 201px,#ff5c5c 202px,#ff4b4b 203px,#f50000 204px,#800000 206px,#800000 211px,#c70000 212px,#800000 213px,#800000 235px,#e00000 237px,#820000 238px,#800000 239px,#c00 240px,#d40000 241px,#ff0a0a 242px,#ff2424 244px,#ff4949 245px,#ff3a3a 247px,#ff4c4c 248px,#ff4747 249px,#ff6a6a 250px,#ffb1b1 251px,#ff8181 252px,#ff9292 253px,#ff7878 256px,#ff7f7f 258px,#ffc4c4 260px,#ffa9a9 261px,#ffc2c2 263px,#ffb1b1 264px,#ffd5d5 266px,#ffcaca 270px,#ffdede 272px,#ffdcdc 275px,#fff3f3 282px,#fafaff 302px,#f9f9ff 306px)"></i><i style="top:643.05px;height:1.05px;background:linear-gradient(90deg,#f9f9ff 0,#f4f4ff 157px,#fdfdff 164px,#ffebeb 169px,#ffdada 170px,#ffdbdb 175px,#ffb3b3 177px,#ffc5c5 179px,#ffb3b3 181px,#fbb 182px,#ffa1a1 184px,#ffafaf 186px,#ff8585 187px,#ff7171 190px,#ff9898 191px,#ff9b9b 192px,#ff6767 193px,#ff3838 196px,#ff6e6e 198px,#ff5353 202px,#ff3c3c 203px,#e40000 204px,#960000 205px,#800000 206px,#800000 211px,#bf0000 212px,#800000 213px,#800000 235px,#930000 236px,#cb0000 237px,#800000 238px,#800000 239px,#a50000 240px,#b40000 241px,#f30000 242px,#f00 243px,#ff1717 244px,#ff4242 245px,#ff3636 247px,#ff4848 248px,#ff4343 249px,#ff6868 250px,#ffafaf 251px,#ff7f7f 252px,#ff9191 253px,#ff7676 256px,#ff7d7d 258px,#ffc3c3 260px,#ffa8a8 261px,#ffc1c1 263px,#ffb0b0 264px,#ffd4d4 266px,#ffc9c9 270px,#ffdede 272px,#ffdbdb 275px,#fff3f3 282px,#fafaff 302px,#f9f9ff 306px)"></i><i style="top:644.05px;height:1.05px;background:linear-gradient(90deg,#f9f9ff 0,#f5f5ff 157px,#fff7f7 166px,#ffeaea 169px,#ffd9d9 170px,#ffdada 175px,#ffb2b2 177px,#ffc4c4 179px,#ffb2b2 181px,#fbb 182px,#ffa0a0 184px,#ffaeae 186px,#ff8484 187px,#ff6f6f 190px,#ff9797 191px,#ff9a9a 192px,#ff6565 193px,#ff3535 196px,#ff6c6c 198px,#ff4949 202px,#ff2828 203px,#cd0000 204px,#800000 205px,#800000 211px,#ba0000 212px,#800000 213px,#860000 236px,#b00 237px,#800000 238px,#800000 240px,#8d0000 241px,#de0000 242px,#ff0808 244px,#ff3a3a 245px,#ff3232 247px,#ff4545 248px,#ff4141 249px,#f66 250px,#ffaeae 251px,#ff7d7d 252px,#ff8f8f 253px,#ff7575 256px,#ff7c7c 258px,#ffc3c3 260px,#ffa8a8 261px,#ffc1c1 263px,#ffafaf 264px,#ffd4d4 266px,#ffc9c9 270px,#ffdede 272px,#ffdbdb 275px,#fff3f3 282px,#fafaff 302px,#f9f9ff 306px)"></i><i style="top:645.05px;height:1.05px;background:linear-gradient(90deg,#f9f9ff 0,#f5f5ff 158px,#fff5f5 167px,#ffd9d9 170px,#ffdada 175px,#ffb2b2 177px,#ffc4c4 179px,#ffb2b2 181px,#ffbaba 182px,#ffa0a0 184px,#ffaeae 186px,#ff8484 187px,#ff6e6e 190px,#ff9696 191px,#f99 192px,#ff6464 193px,#ff3434 196px,#ff6a6a 198px,#ff3c3c 202px,#ff1010 203px,#b10000 204px,#800000 205px,#800000 211px,#b70000 212px,#800000 213px,#800000 236px,#af0000 237px,#800000 238px,#800000 241px,#c30000 242px,#f90000 244px,#ff3131 245px,#ff2e2e 247px,#ff4343 248px,#ff3f3f 249px,#ff6464 250px,#ffaeae 251px,#ff7c7c 252px,#ff8f8f 253px,#ff7474 256px,#ff7b7b 258px,#ffc2c2 260px,#ffa7a7 261px,#ffc1c1 263px,#ffafaf 264px,#ffd4d4 266px,#ffc9c9 270px,#ffdede 272px,#ffdbdb 275px,#fff3f3 282px,#fafaff 302px,#f9f9ff 306px)"></i><i style="top:646.05px;height:1.05px;background:linear-gradient(90deg,#f9f9ff 0,#fff6f6 165px,#ffeaea 169px,#ffd9d9 170px,#ffdbdb 175px,#ffb3b3 177px,#ffc4c4 179px,#ffb2b2 181px,#fbb 182px,#ffa0a0 184px,#ffaeae 186px,#ff8484 187px,#ff6e6e 190px,#ff9696 191px,#f99 192px,#ff6363 193px,#f33 196px,#ff6969 198px,#ff2b2b 202px,#f70000 203px,#8e0000 204px,#800000 206px,#800000 211px,#b50000 212px,#800000 213px,#800000 236px,#a80000 237px,#800000 238px,#800000 241px,#ed0000 244px,#ff2626 245px,#ff2b2b 247px,#ff4141 248px,#ff3e3e 249px,#ff6464 250px,#ffaeae 251px,#ff7c7c 252px,#ff8f8f 253px,#ff7474 256px,#ff7c7c 258px,#ffc3c3 260px,#ffa7a7 261px,#ffc1c1 263px,#ffafaf 264px,#ffd4d4 266px,#ffc9c9 270px,#ffdede 272px,#ffdbdb 275px,#fff3f3 282px,#fafaff 302px,#f9f9ff 306px)"></i><i style="top:647.05px;height:1.05px;background:linear-gradient(90deg,#f9f9ff 0,#fff8f8 164px,#ffeaea 169px,#ffd9d9 170px,#ffdbdb 175px,#ffb3b3 177px,#ffc5c5 179px,#ffb3b3 181px,#fbb 182px,#ffa1a1 184px,#ffaeae 186px,#ff8484 187px,#ff6f6f 190px,#ff9696 191px,#f99 192px,#ff6464 193px,#f33 196px,#ff6868 198px,#ff1616 202px,#e40000 203px,#800000 204px,#800000 211px,#b50000 212px,#800000 213px,#800000 236px,#a30000 237px,#800000 238px,#800000 242px,#de0000 244px,#ff1919 245px,#ff2828 247px,#ff4141 248px,#ff3e3e 249px,#ff6464 250px,#ffaeae 251px,#ff7d7d 252px,#ff8f8f 253px,#ff7575 256px,#ff7c7c 258px,#ffc3c3 260px,#ffa8a8 261px,#ffc1c1 263px,#ffb0b0 264px,#ffd5d5 266px,#ffcaca 270px,#ffdede 272px,#ffdcdc 275px,#fff3f3 282px,#fafaff 302px,#f9f9ff 306px)"></i><i style="top:648.05px;height:1.05px;background:linear-gradient(90deg,#f9f9ff 0,#fffefe 163px,#ffeaea 169px,#ffd9d9 170px,#ffdbdb 175px,#ffb4b4 177px,#ffc1c1 180px,#ffb4b4 181px,#ffbcbc 182px,#ffa2a2 184px,#ffafaf 186px,#ff8686 187px,#ff7171 190px,#ff9898 191px,#ff9a9a 192px,#f66 193px,#ff3535 196px,#ff6868 198px,#ff2626 201px,#fe0000 202px,#cd0000 203px,#800000 204px,#800000 211px,#b40000 212px,#800000 213px,#800000 236px,#a10000 237px,#800000 238px,#800000 242px,#910000 243px,#ff0909 245px,#ff4040 248px,#ff3f3f 249px,#ff6565 250px,#ffaeae 251px,#ff7e7e 252px,#ff9090 253px,#ff7676 256px,#ff7e7e 258px,#ffc4c4 260px,#ffa9a9 261px,#ffc2c2 263px,#ffb1b1 264px,#ffd5d5 266px,#ffcaca 270px,#ffdfdf 272px,#fdd 275px,#fff3f3 282px,#fafaff 302px,#f9f9ff 306px)"></i><i style="top:649.05px;height:1.05px;background:linear-gradient(90deg,#f9f9ff 0,#fffcfc 163px,#ffeaea 169px,#ffdada 170px,#ffdcdc 175px,#ffb6b6 177px,#ffc2c2 180px,#ffb5b5 181px,#ffbdbd 182px,#ffa4a4 184px,#ffb1b1 186px,#f88 187px,#ff7373 190px,#f99 191px,#ff9c9c 192px,#ff6868 193px,#ff3737 196px,#ff6868 198px,#ff1616 201px,#ef0000 202px,#800000 204px,#800000 211px,#b50000 212px,#800000 213px,#800000 236px,#9f0000 237px,#800000 238px,#800000 243px,#fa0000 245px,#ff4141 248px,#ff4141 249px,#ff6767 250px,#ffb0b0 251px,#ff8080 252px,#ff9292 253px,#ff7979 256px,#ff8080 258px,#ffc5c5 260px,#ffabab 261px,#ffc3c3 263px,#ffb3b3 264px,#ffd6d6 266px,#ffcbcb 270px,#ffe0e0 272px,#fdd 275px,#fff4f4 282px,#fafaff 303px,#f9f9ff 306px)"></i><i style="top:650.05px;height:1.05px;background:linear-gradient(90deg,#f9f9ff 0,#fffbfb 163px,#ffeaea 169px,#ffdada 170px,#fdd 175px,#ffb8b8 177px,#ffc4c4 180px,#ffb7b7 181px,#ffbfbf 182px,#ffa6a6 184px,#ffb3b3 186px,#ff8a8a 187px,#ff7676 190px,#ff9b9b 191px,#ff9e9e 192px,#ff6b6b 193px,#ff3b3b 196px,#ff6969 198px,#ff3232 200px,#ff0404 201px,#de0000 202px,#9b0000 203px,#800000 204px,#800000 211px,#b50000 212px,#800000 213px,#800000 236px,#9f0000 237px,#800000 238px,#800000 243px,#9d0000 244px,#e00 245px,#ff2020 247px,#ff4242 248px,#ff4343 249px,#ff6a6a 250px,#ffb1b1 251px,#ff8282 252px,#ff9494 253px,#ff7c7c 256px,#ff8383 258px,#ffc6c6 260px,#ffadad 261px,#ffc5c5 263px,#ffb4b4 264px,#ffd7d7 266px,#ffcdcd 270px,#ffe1e1 272px,#ffdede 275px,#fff4f4 282px,#fafaff 303px,#f9f9ff 306px)"></i><i style="top:651.05px;height:1.05px;background:linear-gradient(90deg,#f9f9ff 0,#fffafa 163px,#ffebeb 169px,#ffdbdb 170px,#ffdede 175px,#ffbaba 177px,#ffc5c5 180px,#ffb9b9 181px,#ffc1c1 182px,#ffa8a8 184px,#ffb5b5 186px,#ff8e8e 187px,#ff7a7a 190px,#ff9e9e 191px,#ffa1a1 192px,#ff6f6f 193px,#ff3f3f 196px,#ff6b6b 198px,#f60000 201px,#c00 202px,#820000 203px,#800000 211px,#b60000 212px,#800000 213px,#800000 236px,#9f0000 237px,#800000 238px,#830000 244px,#e10000 245px,#fd0000 246px,#ff4343 248px,#ff4646 249px,#ff6d6d 250px,#ffb3b3 251px,#ff8686 252px,#ff9797 253px,#ff7f7f 256px,#ff8686 258px,#ffc8c8 260px,#ffafaf 261px,#ffc7c7 263px,#ffb7b7 264px,#ffd8d8 266px,#ffcece 270px,#ffe2e2 272px,#ffdfdf 275px,#fff5f5 282px,#f9f9ff 304px,#f9f9ff 306px)"></i><i style="top:652.05px;height:1.05px;background:linear-gradient(90deg,#f9f9ff 0,#fff9f9 163px,#ffebeb 169px,#fdd 170px,#ffe0e0 175px,#ffbcbc 177px,#ffc8c8 180px,#ffbcbc 181px,#ffc3c3 182px,#ffabab 184px,#ffb7b7 186px,#ff9292 187px,#ff7e7e 190px,#ffa1a1 191px,#ffa4a4 192px,#ff7474 193px,#ff4545 196px,#ff6c6c 198px,#ff1f1f 200px,#ea0000 201px,#800000 203px,#800000 211px,#b70000 212px,#800000 213px,#800000 236px,#a00000 237px,#800000 238px,#800000 244px,#d20000 245px,#f50000 246px,#ff1919 247px,#f44 248px,#ff4a4a 249px,#ff7171 250px,#ffb6b6 251px,#ff8a8a 252px,#ff9b9b 253px,#ff8383 256px,#ff8a8a 258px,#ffcaca 260px,#ffb2b2 261px,#ffc9c9 263px,#ffb9b9 264px,#ffdada 266px,#ffd0d0 270px,#ffe3e3 272px,#ffe1e1 275px,#fff5f5 282px,#f9f9ff 306px)"></i><i style="top:653.05px;height:1.05px;background:linear-gradient(90deg,#f9f9ff 0,#fff9f9 163px,#ffecec 169px,#ffe2e2 171px,#ffe1e1 175px,#ffbfbf 177px,#ffcaca 180px,#ffbfbf 181px,#ffc6c6 182px,#ffafaf 184px,#ffbaba 186px,#ff9696 187px,#ff8383 190px,#ffa5a5 191px,#ffa8a8 192px,#ff7979 193px,#ff4b4b 196px,#ff6e6e 198px,#ff1414 200px,#de0000 201px,#800000 203px,#800000 211px,#b90000 212px,#800000 213px,#800000 236px,#a20000 237px,#800000 238px,#800000 244px,#c30000 245px,#e00 246px,#ff1515 247px,#ff4646 248px,#ff4f4f 249px,#ff7676 250px,#ffb9b9 251px,#ff8e8e 252px,#ff9f9f 253px,#f88 256px,#ff8f8f 258px,#fcc 260px,#ffb5b5 261px,#ffcbcb 263px,#ffbcbc 264px,#ffdcdc 266px,#ffd2d2 270px,#ffe4e4 272px,#ffe4e4 276px,#fff6f6 282px,#f9f9ff 306px)"></i><i style="top:654.05px;height:1.05px;background:linear-gradient(90deg,#f9f9ff 0,#fff9f9 163px,#ffeded 169px,#ffe3e3 171px,#ffe3e3 175px,#ffc2c2 177px,#fcc 180px,#ffb3b3 184px,#ffbebe 186px,#ff9b9b 187px,#ff8989 190px,#ffa9a9 191px,#ffacac 192px,#ff7f7f 193px,#ff5252 196px,#ff7070 198px,#ff4747 199px,#ff0808 200px,#950000 202px,#800000 203px,#800000 211px,#ba0000 212px,#800000 213px,#800000 236px,#a30000 237px,#800000 238px,#800000 244px,#e50000 246px,#ff1010 247px,#ff4848 248px,#ff5454 249px,#ff7b7b 250px,#ffbcbc 251px,#ff9393 252px,#ffa3a3 253px,#ff8e8e 256px,#ff9494 258px,#ffcfcf 260px,#ffb8b8 261px,#ffcdcd 263px,#ffbfbf 264px,#fdd 266px,#ffd4d4 270px,#ffe6e6 272px,#ffe6e6 276px,#fff7f7 282px,#f9f9ff 306px)"></i><i style="top:655.05px;height:1.05px;background:linear-gradient(90deg,#f9f9ff 0,#fffafa 163px,#fee 169px,#ffe2e2 172px,#ffe4e4 175px,#ffc5c5 177px,#ffcfcf 180px,#ffb7b7 184px,#ffc1c1 186px,#ffa0a0 187px,#ff8f8f 190px,#ffaeae 191px,#ffb0b0 192px,#ff8585 193px,#ff5959 196px,#ff7373 198px,#f44 199px,#fd0000 200px,#850000 202px,#800000 211px,#bc0000 212px,#800000 213px,#800000 236px,#a50000 237px,#800000 238px,#800000 244px,#a40000 245px,#d00 246px,#ff0b0b 247px,#ff4a4a 248px,#ff5959 249px,#ff8181 250px,#ffbfbf 251px,#f99 252px,#ffa8a8 253px,#ff9898 257px,#ff9a9a 258px,#ffd1d1 260px,#ffbcbc 261px,#ffd0d0 263px,#ffc3c3 264px,#ffdfdf 266px,#ffd7d7 270px,#ffe7e7 272px,#ffe7e7 276px,#fff7f7 282px,#f9f9ff 306px)"></i><i style="top:656.05px;height:1.05px;background:linear-gradient(90deg,#f9f9ff 0,#fffafa 163px,#ffe6e6 173px,#ffe6e6 175px,#ffc9c9 177px,#ffd2d2 180px,#fbb 184px,#ffc5c5 186px,#ffa5a5 187px,#ff9595 190px,#ffb3b3 191px,#ffb5b5 192px,#ff8c8c 193px,#ff6161 196px,#ff7575 198px,#f70000 200px,#800000 202px,#800000 211px,#be0000 212px,#800000 213px,#800000 236px,#a70000 237px,#800000 238px,#800000 244px,#960000 245px,#d40000 246px,#ff0707 247px,#ff4d4d 248px,#ff5f5f 249px,#ff8787 250px,#ffc3c3 251px,#ff9e9e 252px,#ffadad 253px,#ff9e9e 257px,#ff9f9f 258px,#ffd4d4 260px,#ffc0c0 261px,#ffd3d3 263px,#ffc6c6 264px,#ffe1e1 266px,#ffd9d9 270px,#ffe9e9 272px,#ffe9e9 276px,#fefeff 288px,#f9f9ff 306px)"></i><i style="top:657.05px;height:2.05px;background:linear-gradient(90deg,#f9f9ff 0,#fffbfb 163px,#ffe9e9 173px,#ffdede 176px,#ffcece 177px,#ffd7d7 180px,#ffc1c1 184px,#ffcaca 186px,#ffaeae 187px,#ff9f9f 190px,#ffbaba 191px,#ffbcbc 192px,#ff9797 193px,#ff6e6e 196px,#ff7a7a 198px,#ef0000 200px,#a00 201px,#800000 202px,#800000 211px,#c20000 212px,#800000 213px,#810000 236px,#a00 237px,#800000 238px,#840000 245px,#ff0101 247px,#ff5151 248px,#ff9090 250px,#ffc8c8 251px,#ffa7a7 252px,#ffb5b5 253px,#ffa7a7 257px,#ffa8a8 258px,#ffd9d9 260px,#ffc6c6 261px,#ffd7d7 263px,#fcc 264px,#ffe5e5 266px,#fdd 270px,#ffe6e6 273px,#fdfdff 288px,#f9f9ff 306px)"></i><i style="top:659.05px;height:1.49px;background:linear-gradient(90deg,#f8f8ff 0,#fff6f6 164px,#ffecec 175px,#ffd5d5 177px,#ffdcdc 180px,#ffcaca 184px,#ffd2d2 186px,#ffb1b1 188px,#ffacac 190px,#ffc4c4 191px,#ffc5c5 192px,#ffa5a5 193px,#ff7f7f 196px,#ff8181 198px,#ff3e3e 199px,#e70000 200px,#9e0000 201px,#800000 202px,#800000 211px,#c60000 212px,#800000 213px,#870000 236px,#af0000 237px,#800000 238px,#800000 245px,#fd0000 247px,#ff5858 248px,#ff9d9d 250px,#ffcfcf 251px,#ffb3b3 252px,#ffbfbf 253px,#ffb4b4 258px,#ffdede 260px,#ffcece 261px,#fdd 263px,#ffd3d3 264px,#ffe9e9 266px,#ffe2e2 270px,#ffeaea 273px,#fdfdff 288px,#f9f9ff 306px)"></i></div>
<div class="hm" style="left:414.9px;width:307px"><i style="top:514.05px;height:1.05px;background:linear-gradient(90deg,#f8f8ff 0,#efefff 173px,#dcdcff 187px,#d3d3ff 190px,#dfdfff 197px,#e2e2ff 200px,#ebebff 206px,#dcdcff 207px,#fefeff 209px,#d3d3ff 211px,#f7f7ff 212px,#cfcfff 213px,#f9f9ff 214px,#d7d7ff 215px,#fff8f8 216px,#ffd8d8 217px,#ebebff 218px,#ff9e9e 219px,#fff9f9 221px,#ffc9c9 222px,#ff4141 223px,#faa 224px,#fffbfb 225px,#bdbdff 226px,#ff7474 227px,#ff3d3d 228px,#ff6868 229px,#ff6d6d 230px,#ff1515 231px,#ff7d7d 232px,#ef0000 233px,#ff0303 234px,#ffd5d5 235px,#ffd5d5 236px,#ff5050 237px,#ff9b9b 239px,#ffabab 241px,#ff9090 242px,#ffc1c1 244px,#ffb2b2 246px,#ffcaca 247px,#ffc4c4 248px,#fffdfd 251px,#e3e3ff 270px,#f8f8ff 287px,#f8f8ff 307px)"></i><i style="top:515.05px;height:1.05px;background:linear-gradient(90deg,#f8f8ff 0,#efefff 169px,#e3e3ff 179px,#eaeaff 181px,#c9c9ff 190px,#d1d1ff 194px,#cdcdff 196px,#e6e6ff 199px,#e0e0ff 202px,#e8e8ff 206px,#d9d9ff 207px,#fefeff 209px,#cbcbff 211px,#f4f4ff 212px,#adadff 213px,#f7f7ff 214px,#cfcfff 215px,#fffafa 216px,#ffd7d7 217px,#e1e1ff 218px,#ff9696 219px,#fffafa 221px,#ffc3c3 222px,#ff2f2f 223px,#ffa8a8 224px,#fcfcff 225px,#a8a8ff 226px,#ff8383 227px,#ff3232 228px,#ff5a5a 229px,#ffa6a6 230px,#f00 231px,#ff7272 232px,#ca0000 233px,#f40000 234px,#ffd7d7 235px,#ffc4c4 236px,#ff3e3e 237px,#ff6969 238px,#ffa0a0 241px,#ff9a9a 243px,#ffb9b9 244px,#ffa7a7 246px,#ffc3c3 247px,#ffbcbc 248px,#fffdfd 251px,#eaeaff 265px,#e0e0ff 270px,#f5f5ff 282px,#f8f8ff 307px)"></i><i style="top:516.05px;height:1.05px;background:linear-gradient(90deg,#f8f8ff 0,#efefff 168px,#dfdfff 179px,#e7e7ff 181px,#d4d4ff 185px,#bebeff 190px,#cfcfff 193px,#c4c4ff 196px,#e2e2ff 199px,#dadaff 202px,#eaeaff 205px,#d3d3ff 207px,#f4f4ff 209px,#e9e9ff 210px,#c1c1ff 211px,#fff 212px,#9d9dff 213px,#f3f3ff 214px,#fffefe 216px,#ffdada 217px,#9191ff 218px,#ff9191 219px,#fff5f5 221px,#ffc0c0 222px,#ff2525 223px,#eef 225px,#8c8cff 226px,#ff8f8f 227px,#ff3131 228px,#ff5252 229px,#ffafaf 230px,#f80000 231px,#ff6d6d 232px,#c00000 233px,#ec0000 234px,#ffeded 235px,#ffc8c8 236px,#ff3131 237px,#ff9090 238px,#ff7373 239px,#ff8d8d 240px,#ff8585 241px,#ffa0a0 242px,#ff9292 243px,#ffaeae 244px,#ff9e9e 246px,#ffc0c0 247px,#ffb6b6 248px,#fffcfc 251px,#e8e8ff 265px,#e2e2ff 268px,#e4e4ff 271px,#f7f7ff 288px,#f8f8ff 307px)"></i><i style="top:517.05px;height:1.05px;background:linear-gradient(90deg,#f8f8ff 0,#eef 166px,#ddf 175px,#dadaff 179px,#e4e4ff 181px,#cfcfff 183px,#c5c5ff 187px,#b0b0ff 190px,#c6c6ff 193px,#b9b9ff 196px,#dbdbff 198px,#d3d3ff 202px,#e7e7ff 205px,#cbcbff 207px,#f0f0ff 209px,#e5e5ff 210px,#b5b5ff 211px,#fbfbff 212px,#8989ff 213px,#eaeaff 215px,#fffafa 217px,#7272ff 218px,#ff9292 219px,#fff8f8 221px,#ffbfbf 222px,#ff4f4f 223px,#ff9595 224px,#dadaff 225px,#cacaff 226px,#ffa7a7 227px,#ff3e3e 228px,#ff5050 229px,#ffc3c3 230px,#f60000 231px,#ffacac 232px,#bc0000 233px,#e90000 234px,#fffdfd 235px,#ffd2d2 236px,#ff2a2a 237px,#ff9090 238px,#ff6a6a 239px,#f88 240px,#ff7a7a 241px,#ff9e9e 242px,#ff8c8c 243px,#faa 244px,#ffa7a7 245px,#ff9090 246px,#fbb 247px,#ffb2b2 248px,#fffcfc 251px,#e6e6ff 265px,#d7d7ff 267px,#e2e2ff 271px,#f8f8ff 287px,#f8f8ff 307px)"></i><i style="top:518.05px;height:1.05px;background:linear-gradient(90deg,#f8f8ff 0,#f0f0ff 165px,#d8d8ff 175px,#d4d4ff 179px,#dfdfff 181px,#c7c7ff 183px,#bbf 187px,#9e9eff 189px,#bcbcff 193px,#adadff 196px,#d6d6ff 198px,#c5c5ff 201px,#d8d8ff 203px,#d3d3ff 204px,#e5e5ff 205px,#c2c2ff 207px,#eaeaff 208px,#e0e0ff 210px,#ababff 211px,#f5f5ff 212px,#7373ff 213px,#e2e2ff 215px,#f4f4ff 217px,#4b4bff 218px,#ff9898 219px,#fffdfd 221px,#ffc1c1 222px,#ff5b5b 223px,#ffa6a6 224px,#4a4aff 225px,#acacff 226px,#ffcece 227px,#e20000 228px,#ff5656 229px,#ffe1e1 230px,#f40000 231px,#ffbebe 232px,#be0000 233px,#ff5e5e 234px,#eaeaff 235px,#ffe3e3 236px,#ff2424 237px,#ff9696 238px,#ff6565 239px,#ffacac 240px,#ff7272 241px,#ffa0a0 242px,#ff8c8c 243px,#ffa8a8 244px,#ffa5a5 245px,#ff8b8b 246px,#ffb8b8 247px,#ffb0b0 248px,#fffcfc 251px,#eef 259px,#e3e3ff 265px,#d3d3ff 267px,#dfdfff 271px,#f4f4ff 283px,#f8f8ff 307px)"></i><i style="top:519.05px;height:1.05px;background:linear-gradient(90deg,#f8f8ff 0,#efefff 165px,#d8d8ff 174px,#ceceff 179px,#dedeff 180px,#dadaff 181px,#bebeff 183px,#afafff 187px,#8b8bff 189px,#8d8dff 190px,#acacff 192px,#b0b0ff 193px,#9f9fff 194px,#9f9fff 196px,#d0d0ff 198px,#cfcfff 199px,#bbf 201px,#d1d1ff 203px,#cbcbff 204px,#e0e0ff 205px,#c0c0ff 207px,#e5e5ff 208px,#e3e3ff 209px,#ceceff 210px,#9c9cff 211px,#ededff 212px,#a8a8ff 213px,#9898ff 214px,#d8d8ff 215px,#f1f1ff 216px,#e0e0ff 217px,#1e1eff 218px,#ffa3a3 219px,#fafaff 221px,#ffc5c5 222px,#ff7171 223px,#ffbebe 224px,#1818ff 225px,#fcfcff 227px,#eb0000 228px,#ff6262 229px,#f5f5ff 230px,#fb0000 231px,#ffd8d8 232px,#c80000 233px,#ff7f7f 234px,#ccf 235px,#ffb1b1 236px,#ff2a2a 237px,#ffa1a1 238px,#ff6363 239px,#ffb3b3 240px,#ff6e6e 241px,#ffbaba 242px,#ff9090 243px,#ffa8a8 244px,#ffa7a7 245px,#f88 246px,#ffb6b6 247px,#ffacac 248px,#ffebeb 250px,#fffdfd 251px,#ececff 259px,#e1e1ff 265px,#cfcfff 267px,#dcdcff 271px,#f4f4ff 282px,#f8f8ff 307px)"></i><i style="top:520.05px;height:1.05px;background:linear-gradient(90deg,#f8f8ff 0,#eef 165px,#dfdfff 173px,#c4c4ff 177px,#c6c6ff 179px,#d9d9ff 180px,#d4d4ff 181px,#bbf 182px,#a2a2ff 187px,#7676ff 189px,#7878ff 190px,#9595ff 191px,#a4a4ff 193px,#8e8eff 194px,#8f8fff 196px,#c8c8ff 198px,#c7c7ff 199px,#b0b0ff 200px,#b8b8ff 202px,#c9c9ff 203px,#c4c4ff 204px,#dbdbff 205px,#bebeff 206px,#b5b5ff 207px,#e0e0ff 208px,#c6c6ff 210px,#8b8bff 211px,#9797ff 213px,#8383ff 214px,#dfdfff 215px,#e4e4ff 216px,#c8c8ff 217px,#8181ff 218px,#ffb2b2 219px,#ffe0e0 220px,#ffeaea 221px,#fcc 222px,#ff8e8e 223px,#ffc9c9 224px,#0000e9 225px,#5d5dff 226px,#bdbdff 227px,#fa0000 228px,#fff6f6 230px,#ff0f0f 231px,#fff8f8 232px,#d70000 233px,#faa 234px,#a8a8ff 235px,#ffc4c4 236px,#ff3636 237px,#ffb1b1 238px,#ff6565 239px,#ffc0c0 240px,#ff9e9e 241px,#ffc9c9 242px,#f99 243px,#ffabab 245px,#f88 246px,#ffbaba 247px,#ffadad 248px,#ffecec 250px,#fffdfd 252px,#dedeff 261px,#dedeff 265px,#cbcbff 267px,#d3d3ff 269px,#cdcdff 270px,#e3e3ff 272px,#f7f7ff 288px,#f8f8ff 307px)"></i><i style="top:521.05px;height:1.05px;background:linear-gradient(90deg,#f8f8ff 0,#f0f0ff 164px,#dbdbff 173px,#bcbcff 177px,#bebeff 179px,#d4d4ff 180px,#ceceff 181px,#b1b1ff 182px,#a2a2ff 186px,#8080ff 188px,#5e5eff 189px,#5f5fff 190px,#8383ff 191px,#9595ff 193px,#7a7aff 194px,#7e7eff 196px,#c1c1ff 198px,#bebeff 199px,#a4a4ff 200px,#adadff 202px,#bfbfff 203px,#bbf 204px,#d6d6ff 205px,#afafff 206px,#aaf 207px,#dadaff 208px,#bdbdff 210px,#7979ff 211px,#8484ff 213px,#6d6dff 214px,#d5d5ff 215px,#d6d6ff 216px,#adadff 217px,#5c5cff 218px,#ffc5c5 219px,#ffebeb 220px,#ffefef 221px,#ffd5d5 222px,#a2a2ff 223px,#ffebeb 224px,#0000be 225px,#6d6dff 226px,#7474ff 227px,#ff1919 228px,#cfcfff 229px,#d9d9ff 230px,#ff2d2d 231px,#ffebeb 232px,#ea0000 233px,#fdd 234px,#8585ff 235px,#ffdcdc 236px,#ff4848 237px,#ff9494 238px,#ff6b6b 239px,#ffd1d1 240px,#ffa6a6 241px,#fdd 242px,#ffa5a5 243px,#ffb1b1 245px,#ff8b8b 246px,#ffbdbd 247px,#ffb1b1 248px,#ffdada 249px,#fff 251px,#e5e5ff 259px,#dadaff 261px,#dbdbff 265px,#c6c6ff 267px,#d0d0ff 269px,#c8c8ff 270px,#e1e1ff 272px,#f7f7ff 287px,#f8f8ff 307px)"></i><i style="top:522.05px;height:1.05px;background:linear-gradient(90deg,#f8f8ff 0,#efefff 164px,#d7d7ff 173px,#b3b3ff 177px,#b6b6ff 179px,#cfcfff 180px,#c7c7ff 181px,#a6a6ff 182px,#9494ff 186px,#6e6eff 188px,#4343ff 189px,#44f 190px,#6f6fff 191px,#8686ff 193px,#6464ff 194px,#6b6bff 196px,#b8b8ff 198px,#b4b4ff 199px,#9696ff 200px,#a2a2ff 202px,#b5b5ff 203px,#b2b2ff 204px,#ccf 205px,#a3a3ff 206px,#9d9dff 207px,#d5d5ff 208px,#b7b7ff 209px,#b6b6ff 211px,#6060ff 212px,#7070ff 213px,#3c3cff 214px,#cacaff 215px,#c6c6ff 216px,#0000b4 217px,#3434ff 218px,#ffdada 219px,#7272ff 220px,#fff6f6 221px,#ffdede 222px,#6767ff 223px,#eef 224px,#000090 225px,#4141ff 226px,#2525ff 227px,#ff4242 228px,#a3a3ff 229px,#a4a4ff 230px,#ff8585 231px,#f0f0ff 232px,#ff0404 233px,#8181ff 234px,#5959ff 235px,#fff6f6 236px,#ff5d5d 237px,#ffa6a6 238px,#ff7474 239px,#ffa7a7 240px,#ffb2b2 241px,#fff5f5 242px,#ffb0b0 243px,#ffb9b9 245px,#ff9090 246px,#ffc1c1 247px,#ffb7b7 248px,#ffe0e0 249px,#fefeff 251px,#e2e2ff 259px,#d5d5ff 261px,#d9d9ff 265px,#c3c3ff 266px,#ccf 269px,#c4c4ff 270px,#dfdfff 272px,#ebebff 279px,#f8f8ff 305px,#f8f8ff 307px)"></i><i style="top:523.05px;height:1.05px;background:linear-gradient(90deg,#f8f8ff 0,#eef 164px,#d2d2ff 173px,#a9a9ff 176px,#b5b5ff 178px,#adadff 179px,#c9c9ff 180px,#bfbfff 181px,#9a9aff 182px,#8f8fff 183px,#9898ff 184px,#7373ff 187px,#5a5aff 188px,#2626ff 189px,#2626ff 190px,#5a5aff 191px,#7676ff 193px,#4c4cff 194px,#5757ff 196px,#afafff 198px,#a9a9ff 199px,#8787ff 200px,#9595ff 202px,#ababff 203px,#a9a9ff 204px,#c5c5ff 205px,#9898ff 206px,#9191ff 207px,#cfcfff 208px,#88f 210px,#ababff 211px,#4949ff 212px,#a8a8ff 213px,#2121ff 214px,#bebeff 215px,#b0b0ff 216px,#00008c 217px,#0b0bff 218px,#fff0f0 219px,#55f 220px,#fffdfd 221px,#ffe8e8 222px,#2b2bff 223px,#c7c7ff 224px,#000078 225px,#1414ff 226px,#0000e0 227px,#ff6c6c 228px,#7575ff 229px,#6e6eff 230px,#ffafaf 231px,#cbcbff 232px,#f33 233px,#3b3bff 234px,#2c2cff 235px,#ececff 236px,#ff7474 237px,#ffbcbc 238px,#ffe4e4 239px,#ffb9b9 240px,#ffc2c2 241px,#fcfcff 242px,#ffc4c4 243px,#ffc0c0 245px,#ff9898 246px,#ffc9c9 247px,#ffbfbf 248px,#ffe6e6 249px,#fcfcff 251px,#dfdfff 259px,#d0d0ff 261px,#d6d6ff 265px,#bebeff 266px,#c8c8ff 269px,#c0c0ff 270px,#ddf 272px,#f1f1ff 278px,#f8f8ff 307px)"></i><i style="top:524.05px;height:1.05px;background:linear-gradient(90deg,#f8f8ff 0,#eef 163px,#cdcdff 173px,#9f9fff 176px,#acacff 178px,#a3a3ff 179px,#c3c3ff 180px,#b7b7ff 181px,#8e8eff 182px,#8181ff 183px,#8c8cff 184px,#6262ff 187px,#4545ff 188px,#0707ff 189px,#0707ff 190px,#44f 191px,#6565ff 193px,#3232ff 194px,#4343ff 196px,#a6a6ff 198px,#9e9eff 199px,#77f 200px,#88f 202px,#bfbfff 205px,#8c8cff 206px,#a0a0ff 207px,#c8c8ff 208px,#7b7bff 210px,#9f9fff 211px,#3232ff 212px,#9b9bff 213px,#0606ff 214px,#b3b3ff 215px,#9f9fff 216px,#000065 217px,#0000ea 218px,#f9f9ff 219px,#3939ff 220px,#fbfbff 221px,#fff2f2 222px,#0000f2 223px,#0000ae 224px,#00004c 225px,#00e 226px,#6262ff 227px,#ff9696 228px,#4848ff 229px,#ffcfcf 230px,#ffd7d7 231px,#a7a7ff 232px,#ff6262 233px,#0000f7 234px,#0000fe 235px,#ffc5c5 236px,#ff8c8c 237px,#ffd4d4 238px,#fffbfb 239px,#ffcfcf 240px,#ffd6d6 241px,#ddf 242px,#ffdbdb 243px,#ffc7c7 244px,#ffcbcb 245px,#ffa3a3 246px,#ffc7c7 247px,#ffc7c7 248px,#ffeded 249px,#fafaff 251px,#dbdbff 259px,#cbcbff 261px,#d4d4ff 264px,#d3d3ff 265px,#babaff 266px,#c4c4ff 269px,#bbf 270px,#dadaff 272px,#e6e6ff 277px,#f1f1ff 278px,#f4f4ff 285px,#f8f8ff 307px)"></i><i style="top:525.05px;height:1.05px;background:linear-gradient(90deg,#f8f8ff 0,#f0f0ff 162px,#c9c9ff 170px,#c9c9ff 173px,#9595ff 176px,#a3a3ff 178px,#99f 179px,#bcbcff 180px,#aeaeff 181px,#8282ff 182px,#7474ff 183px,#7f7fff 184px,#5050ff 187px,#00e 189px,#0000ed 190px,#2d2dff 191px,#5353ff 193px,#1717ff 194px,#2e2eff 196px,#9d9dff 198px,#9292ff 199px,#66f 200px,#7a7aff 202px,#b8b8ff 205px,#8787ff 206px,#9595ff 207px,#c2c2ff 208px,#8686ff 209px,#6e6eff 210px,#9494ff 211px,#0000e3 212px,#8e8eff 213px,#0000f1 214px,#a7a7ff 215px,#9090ff 216px,#00004c 217px,#e8e8ff 218px,#e5e5ff 219px,#1e1eff 220px,#f5f5ff 221px,#fffbfb 222px,#0000ca 223px,#00004c 225px,#0000d0 226px,#2727ff 227px,#ffbdbd 228px,#000052 229px,#fee 230px,#fffefe 231px,#ffdede 232px,#ff8d8d 233px,#0000c8 234px,#1414ff 235px,#ffd8d8 236px,#ffa4a4 237px,#ffa3a3 238px,#eaeaff 239px,#ffe8e8 240px,#7575ff 241px,#fff5f5 243px,#ffd8d8 244px,#ffd6d6 245px,#ffb1b1 246px,#ffd1d1 247px,#ffd1d1 248px,#fff4f4 249px,#f8f8ff 251px,#d8d8ff 259px,#c6c6ff 260px,#d2d2ff 264px,#d0d0ff 265px,#b5b5ff 266px,#c1c1ff 269px,#b7b7ff 270px,#d8d8ff 272px,#e5e5ff 277px,#f0f0ff 278px,#f2f2ff 284px,#f8f8ff 307px)"></i><i style="top:526.05px;height:1.05px;background:linear-gradient(90deg,#f8f8ff 0,#efefff 162px,#ceceff 169px,#c4c4ff 173px,#8a8aff 176px,#9b9bff 178px,#9090ff 179px,#b6b6ff 180px,#a6a6ff 181px,#7676ff 182px,#66f 183px,#7272ff 184px,#3f3fff 187px,#1a1aff 188px,#0000d7 189px,#0000d5 190px,#1515ff 191px,#4242ff 193px,#0000fd 194px,#1919ff 196px,#9393ff 198px,#8686ff 199px,#5656ff 200px,#6d6dff 202px,#b1b1ff 205px,#7d7dff 206px,#8b8bff 207px,#aeaeff 208px,#7979ff 209px,#6262ff 210px,#ababff 211px,#0000d1 212px,#8282ff 213px,#6969ff 214px,#9d9dff 215px,#8181ff 216px,#00004c 217px,#dadaff 218px,#d4d4ff 219px,#3d3dff 220px,#efefff 221px,#fbfbff 222px,#0000fb 223px,#00005b 224px,#00004c 225px,#000094 226px,#0000f4 227px,#ffe0e0 228px,#00004c 229px,#f5f5ff 230px,#dedeff 231px,#fff2f2 232px,#ffb4b4 233px,#00009c 234px,#0000f3 235px,#ffe9e9 236px,#9393ff 237px,#ffb6b6 238px,#d0d0ff 239px,#fbb 240px,#5050ff 241px,#9797ff 242px,#fff7f7 243px,#ffd5d5 246px,#ffdbdb 248px,#fffdfd 249px,#e2e2ff 255px,#d5d5ff 259px,#c1c1ff 260px,#cfcfff 264px,#ceceff 265px,#b1b1ff 266px,#afafff 267px,#bfbfff 268px,#b3b3ff 270px,#d6d6ff 272px,#ddf 276px,#f0f0ff 278px,#f0f0ff 281px,#f8f8ff 307px)"></i><i style="top:527.05px;height:1.05px;background:linear-gradient(90deg,#f8f8ff 0,#efefff 162px,#cbcbff 169px,#bfbfff 173px,#8080ff 176px,#9393ff 178px,#8686ff 179px,#b0b0ff 180px,#9d9dff 181px,#6a6aff 182px,#5858ff 183px,#66f 184px,#2e2eff 187px,#0505ff 188px,#0000c1 189px,#0000be 190px,#0000fe 191px,#3131ff 193px,#0000ea 194px,#0404ff 196px,#8a8aff 198px,#7b7bff 199px,#4646ff 200px,#6161ff 202px,#9e9eff 205px,#7272ff 206px,#8181ff 207px,#a7a7ff 208px,#6d6dff 209px,#5656ff 210px,#a4a4ff 211px,#0000bf 212px,#77f 213px,#5d5dff 214px,#9494ff 215px,#7474ff 216px,#00004c 217px,#ceceff 218px,#c5c5ff 219px,#2a2aff 220px,#ebebff 221px,#ceceff 222px,#0000df 223px,#00004c 224px,#000078 225px,#007 226px,#0000d2 227px,#fffdfd 228px,#00004c 229px,#dedeff 230px,#2929ff 231px,#fbfbff 232px,#ffd4d4 233px,#00004c 234px,#0000dc 235px,#fff9f9 236px,#7272ff 237px,#ffc8c8 238px,#b7b7ff 239px,#ffd1d1 240px,#2a2aff 241px,#7272ff 242px,#eef 243px,#fff6f6 244px,#ffe3e3 245px,#f9f9ff 250px,#e0e0ff 255px,#d2d2ff 259px,#bdbdff 260px,#cbcbff 263px,#cbcbff 265px,#adadff 266px,#aaf 267px,#bcbcff 268px,#afafff 270px,#d5d5ff 272px,#d2d2ff 274px,#efefff 278px,#e6e6ff 280px,#f7f7ff 292px,#f8f8ff 307px)"></i><i style="top:528.05px;height:1.05px;background:linear-gradient(90deg,#f8f8ff 0,#eef 162px,#c7c7ff 169px,#bbf 170px,#bbf 173px,#77f 176px,#8b8bff 178px,#7e7eff 179px,#aaf 180px,#9595ff 181px,#5f5fff 182px,#4c4cff 183px,#5a5aff 184px,#0000f5 188px,#0000ac 189px,#0000a8 190px,#0000ef 191px,#0000fc 192px,#2121ff 193px,#0000d8 194px,#0000f5 196px,#8282ff 198px,#7070ff 199px,#3737ff 200px,#5656ff 202px,#9898ff 205px,#6969ff 206px,#9898ff 207px,#a1a1ff 208px,#6363ff 209px,#5252ff 210px,#9e9eff 211px,#0000af 212px,#0000ed 213px,#5151ff 214px,#8c8cff 215px,#3434ff 216px,#00004c 217px,#c5c5ff 218px,#b8b8ff 219px,#1919ff 220px,#e7e7ff 221px,#c7c7ff 222px,#0000c7 223px,#00004c 224px,#00005f 225px,#00005e 226px,#eaeaff 227px,#eaeaff 228px,#00004c 229px,#eef 230px,#0808ff 231px,#eef 232px,#0000d9 233px,#00004c 234px,#0000c6 235px,#fff8f8 236px,#55f 237px,#ffd8d8 238px,#2f2fff 239px,#ffe6e6 240px,#0606ff 241px,#5a5aff 242px,#d5d5ff 243px,#fafaff 244px,#ffeded 245px,#f5f5ff 250px,#dedeff 255px,#d0d0ff 259px,#b9b9ff 260px,#c8c8ff 263px,#c9c9ff 265px,#a9a9ff 266px,#a7a7ff 267px,#b9b9ff 268px,#ababff 270px,#d3d3ff 272px,#d1d1ff 274px,#efefff 278px,#e6e6ff 280px,#f6f6ff 291px,#f8f8ff 307px)"></i><i style="top:529.05px;height:1.05px;background:linear-gradient(90deg,#f8f8ff 0,#eef 162px,#c4c4ff 169px,#b7b7ff 170px,#b7b7ff 173px,#6e6eff 176px,#8484ff 178px,#7676ff 179px,#a4a4ff 180px,#8e8eff 181px,#55f 182px,#4040ff 183px,#5050ff 184px,#0f0fff 187px,#0000e9 188px,#009 189px,#000094 190px,#0000e1 191px,#0000ef 192px,#1313ff 193px,#0000c8 194px,#0000e9 196px,#2d2dff 197px,#7a7aff 198px,#66f 199px,#2a2aff 200px,#4b4bff 202px,#8484ff 204px,#9292ff 205px,#6d6dff 206px,#9292ff 207px,#9c9cff 208px,#3636ff 209px,#4848ff 210px,#9898ff 211px,#1515ff 212px,#0000e2 213px,#4747ff 214px,#9898ff 215px,#2828ff 216px,#00004c 217px,#bdbdff 218px,#afafff 219px,#0a0aff 220px,#e4e4ff 221px,#c0c0ff 222px,#0000b3 223px,#00004c 224px,#00004c 226px,#d9d9ff 227px,#d8d8ff 228px,#00004c 229px,#e1e1ff 230px,#0000f1 231px,#e4e4ff 232px,#0000bf 233px,#00004c 234px,#4a4aff 235px,#fcfcff 236px,#3c3cff 237px,#ffe7e7 238px,#1414ff 239px,#fffafa 240px,#0000c0 241px,#3a3aff 242px,#bfbfff 243px,#e5e5ff 244px,#fff7f7 245px,#f7f7ff 246px,#ffefef 247px,#fbfbff 248px,#f3f3ff 250px,#eaeaff 254px,#d1d1ff 257px,#cdcdff 259px,#b6b6ff 260px,#cacaff 262px,#c7c7ff 265px,#a6a6ff 266px,#a3a3ff 267px,#b6b6ff 268px,#a8a8ff 270px,#d1d1ff 272px,#cfcfff 274px,#efefff 278px,#e5e5ff 280px,#f6f6ff 291px,#f8f8ff 307px)"></i><i style="top:530.05px;height:1.05px;background:linear-gradient(90deg,#f8f8ff 0,#eef 161px,#e1e1ff 165px,#cfcfff 167px,#c1c1ff 169px,#b4b4ff 170px,#b3b3ff 173px,#6767ff 176px,#7e7eff 178px,#6f6fff 179px,#a0a0ff 180px,#88f 181px,#4c4cff 182px,#3737ff 183px,#4747ff 184px,#0202ff 187px,#0000de 188px,#008 189px,#000083 190px,#0000d5 191px,#0707ff 193px,#0000ba 194px,#0000de 196px,#22f 197px,#7373ff 198px,#5d5dff 199px,#1d1dff 200px,#4242ff 202px,#7e7eff 204px,#8d8dff 205px,#6767ff 206px,#8d8dff 207px,#9797ff 208px,#2c2cff 209px,#4141ff 210px,#9494ff 211px,#0a0aff 212px,#0000da 213px,#4040ff 214px,#9393ff 215px,#1f1fff 216px,#00004c 217px,#b8b8ff 218px,#a9a9ff 219px,#e2e2ff 221px,#bcbcff 222px,#00c 223px,#00004c 224px,#00004c 226px,#cdcdff 227px,#cbcbff 228px,#00004c 229px,#d8d8ff 230px,#0000e2 231px,#ddf 232px,#0000ab 233px,#00004c 234px,#3c3cff 235px,#f4f4ff 236px,#2828ff 237px,#fff3f3 238px,#0000fc 239px,#f2f2ff 240px,#0000a9 241px,#1d1dff 242px,#c3c3ff 243px,#fefeff 245px,#ddf 246px,#fff9f9 247px,#ececff 249px,#e9e9ff 254px,#cfcfff 257px,#ccf 259px,#b4b4ff 260px,#b5b5ff 261px,#c8c8ff 262px,#c5c5ff 265px,#a3a3ff 266px,#a0a0ff 267px,#b4b4ff 268px,#a5a5ff 270px,#d0d0ff 272px,#ceceff 274px,#eef 278px,#e4e4ff 280px,#f6f6ff 290px,#f8f8ff 307px)"></i><i style="top:531.05px;height:1.05px;background:linear-gradient(90deg,#f8f8ff 0,#eef 161px,#e1e1ff 165px,#cdcdff 167px,#bfbfff 169px,#b1b1ff 170px,#b6b6ff 172px,#b0b0ff 173px,#6161ff 176px,#7979ff 178px,#6969ff 179px,#9c9cff 180px,#8383ff 181px,#4545ff 182px,#2f2fff 183px,#4040ff 184px,#0d0dff 186px,#0000fa 187px,#0000d5 188px,#00007b 189px,#000075 190px,#0000cb 191px,#0000da 192px,#0000fd 193px,#0000af 194px,#0000d6 196px,#1919ff 197px,#6e6eff 198px,#5757ff 199px,#1414ff 200px,#3939ff 202px,#7a7aff 204px,#8484ff 205px,#6161ff 206px,#8989ff 207px,#8484ff 208px,#2525ff 209px,#3b3bff 210px,#0505ff 211px,#0202ff 212px,#0000d3 213px,#6767ff 214px,#9090ff 215px,#1717ff 216px,#00004c 217px,#b4b4ff 218px,#a4a4ff 219px,#e1e1ff 221px,#b8b8ff 222px,#0000c1 223px,#00004c 224px,#000079 225px,#00004c 226px,#c5c5ff 227px,#0000a4 228px,#00004c 229px,#d2d2ff 230px,#2121ff 231px,#d8d8ff 232px,#00009c 233px,#00004c 234px,#3131ff 235px,#eef 236px,#8989ff 237px,#fffcfc 238px,#00e 239px,#4d4dff 240px,#000095 241px,#0404ff 242px,#b3b3ff 243px,#f7f7ff 245px,#d0d0ff 246px,#fdfdff 247px,#e8e8ff 249px,#e9e9ff 254px,#ceceff 257px,#cacaff 259px,#b2b2ff 260px,#b3b3ff 261px,#c7c7ff 262px,#c4c4ff 265px,#a0a0ff 266px,#9e9eff 267px,#b2b2ff 268px,#a3a3ff 270px,#cfcfff 272px,#ccf 274px,#eef 278px,#e4e4ff 280px,#f6f6ff 290px,#f8f8ff 307px)"></i><i style="top:532.05px;height:1.05px;background:linear-gradient(90deg,#f8f8ff 0,#eef 161px,#e0e0ff 165px,#ccf 167px,#bebeff 169px,#afafff 170px,#b4b4ff 172px,#aeaeff 173px,#5c5cff 176px,#7575ff 178px,#6565ff 179px,#9a9aff 180px,#7f7fff 181px,#4040ff 182px,#2929ff 183px,#3b3bff 184px,#0505ff 186px,#0000f5 187px,#0000cf 188px,#000071 189px,#00006b 190px,#0000c4 191px,#0000d4 192px,#0000f8 193px,#0000a7 194px,#0000d0 196px,#1313ff 197px,#6b6bff 198px,#5252ff 199px,#0d0dff 200px,#3434ff 202px,#7070ff 204px,#8181ff 205px,#5e5eff 206px,#88f 207px,#8181ff 208px,#2020ff 209px,#8f8fff 210px,#0000fe 211px,#0000fc 212px,#0000b0 213px,#6464ff 214px,#8e8eff 215px,#00004c 216px,#00004c 217px,#b3b3ff 218px,#000068 219px,#bbf 220px,#e0e0ff 221px,#4d4dff 222px,#0000b9 223px,#00004c 224px,#000070 225px,#00004c 226px,#c0c0ff 227px,#00009b 228px,#00004c 229px,#cfcfff 230px,#1717ff 231px,#d6d6ff 232px,#00004c 233px,#00004c 234px,#2a2aff 235px,#ebebff 236px,#8080ff 237px,#fbfbff 238px,#5f5fff 239px,#3d3dff 240px,#000086 241px,#0404ff 242px,#a6a6ff 243px,#f3f3ff 245px,#c6c6ff 246px,#f7f7ff 247px,#d7d7ff 248px,#f0f0ff 251px,#e8e8ff 254px,#cdcdff 257px,#c9c9ff 259px,#b0b0ff 260px,#b1b1ff 261px,#c6c6ff 262px,#c3c3ff 265px,#9e9eff 266px,#9c9cff 267px,#b1b1ff 268px,#a1a1ff 270px,#ceceff 272px,#cbcbff 274px,#eef 278px,#e3e3ff 280px,#f5f5ff 289px,#f8f8ff 307px)"></i><i style="top:533.05px;height:1.05px;background:linear-gradient(90deg,#f8f8ff 0,#eef 161px,#e0e0ff 165px,#cbcbff 167px,#bdbdff 169px,#aeaeff 170px,#b3b3ff 172px,#adadff 173px,#5a5aff 176px,#7373ff 178px,#6363ff 179px,#9898ff 180px,#7d7dff 181px,#3d3dff 182px,#2626ff 183px,#3838ff 184px,#0101ff 186px,#0000f2 187px,#00c 188px,#00006c 189px,#000065 190px,#0000c1 191px,#0000d0 192px,#0000f5 193px,#0000a2 194px,#0000cd 196px,#1010ff 197px,#6868ff 198px,#4f4fff 199px,#0909ff 200px,#3131ff 202px,#6f6fff 204px,#7f7fff 205px,#5c5cff 206px,#8787ff 207px,#8080ff 208px,#1d1dff 209px,#8e8eff 210px,#0000fc 211px,#0000fa 212px,#0000ac 213px,#6363ff 214px,#8686ff 215px,#00004c 216px,#00004c 217px,#b2b2ff 218px,#000064 219px,#bcbcff 220px,#e0e0ff 221px,#4a4aff 222px,#0000b5 223px,#00004c 224px,#00006b 225px,#00004c 226px,#bebeff 227px,#000095 228px,#00004c 229px,#5353ff 230px,#1212ff 231px,#d5d5ff 232px,#00004c 233px,#00004c 234px,#2626ff 235px,#e9e9ff 236px,#7b7bff 237px,#f7f7ff 238px,#5757ff 239px,#3232ff 240px,#000095 241px,#0000f8 242px,#9d9dff 243px,#eef 245px,#bfbfff 246px,#f2f2ff 247px,#d3d3ff 248px,#f0f0ff 251px,#e8e8ff 254px,#ccf 257px,#c9c9ff 259px,#afafff 260px,#b0b0ff 261px,#c5c5ff 262px,#c2c2ff 265px,#9d9dff 266px,#9b9bff 267px,#b0b0ff 268px,#a0a0ff 270px,#ceceff 272px,#cbcbff 274px,#eef 278px,#e3e3ff 280px,#f5f5ff 289px,#f8f8ff 307px)"></i><i style="top:534.05px;height:1.05px;background:linear-gradient(90deg,#f8f8ff 0,#eef 161px,#dfdfff 165px,#cbcbff 167px,#bcbcff 169px,#adadff 170px,#b3b3ff 172px,#adadff 173px,#5959ff 176px,#7373ff 178px,#6363ff 179px,#9898ff 180px,#7c7cff 181px,#3d3dff 182px,#2525ff 183px,#3737ff 184px,#0101ff 186px,#0000f1 187px,#0000cb 188px,#00006b 189px,#000064 190px,#0000c0 191px,#0000cf 192px,#0000f5 193px,#0000a1 194px,#00c 196px,#0f0fff 197px,#6868ff 198px,#4e4eff 199px,#0808ff 200px,#3131ff 202px,#5c5cff 203px,#7f7fff 205px,#7878ff 206px,#8787ff 207px,#8080ff 208px,#0000df 209px,#8e8eff 210px,#0000fb 211px,#66f 212px,#0000ab 213px,#6363ff 214px,#8686ff 215px,#00004c 216px,#00004c 217px,#b3b3ff 218px,#000063 219px,#bebeff 220px,#e1e1ff 221px,#4949ff 222px,#00004c 223px,#00004c 224px,#000068 225px,#0000c6 226px,#bfbfff 227px,#000094 228px,#8a8aff 229px,#1010ff 231px,#d6d6ff 232px,#00004c 233px,#00004c 234px,#d4d4ff 235px,#eaeaff 236px,#0c0cff 238px,#5252ff 239px,#2c2cff 240px,#00008f 241px,#0000f2 242px,#9797ff 243px,#ececff 245px,#babaff 246px,#efefff 247px,#d1d1ff 248px,#e8e8ff 249px,#e8e8ff 254px,#ccf 257px,#c8c8ff 259px,#afafff 260px,#b0b0ff 261px,#c5c5ff 262px,#c1c1ff 265px,#9c9cff 266px,#9a9aff 267px,#afafff 268px,#a0a0ff 270px,#cdcdff 272px,#cbcbff 274px,#eef 278px,#e3e3ff 280px,#f5f5ff 289px,#f8f8ff 307px)"></i><i style="top:535.05px;height:1.05px;background:linear-gradient(90deg,#f8f8ff 0,#eef 161px,#e0e0ff 165px,#cbcbff 167px,#bdbdff 169px,#aeaeff 170px,#b3b3ff 172px,#adadff 173px,#5b5bff 176px,#7474ff 178px,#6464ff 179px,#99f 180px,#7e7eff 181px,#3f3fff 182px,#2727ff 183px,#3939ff 184px,#0303ff 186px,#0000f3 187px,#0000ce 188px,#00006e 189px,#000068 190px,#0000c2 191px,#0000d2 192px,#0000f6 193px,#0000a4 194px,#0000cf 196px,#11f 197px,#6969ff 198px,#5050ff 199px,#0b0bff 200px,#2c2cff 202px,#5e5eff 203px,#8585ff 205px,#7979ff 206px,#8989ff 207px,#7676ff 208px,#0000e0 209px,#8f8fff 210px,#00c 211px,#6868ff 212px,#0000ac 213px,#6464ff 214px,#88f 215px,#00004c 216px,#9a9aff 217px,#b6b6ff 218px,#000065 219px,#c1c1ff 220px,#e2e2ff 221px,#4949ff 222px,#00004c 223px,#00004c 224px,#000069 225px,#0000c7 226px,#c2c2ff 227px,#000095 228px,#8e8eff 229px,#55f 230px,#dadaff 231px,#d9d9ff 232px,#00004c 233px,#00004c 234px,#d5d5ff 235px,#f0f0ff 237px,#0c0cff 238px,#5151ff 239px,#00004c 240px,#00008d 241px,#0000f0 242px,#8c8cff 243px,#eaeaff 245px,#d0d0ff 246px,#ededff 247px,#d0d0ff 248px,#e8e8ff 249px,#e8e8ff 254px,#ccf 257px,#c8c8ff 259px,#afafff 260px,#b0b0ff 261px,#c5c5ff 262px,#c1c1ff 265px,#9c9cff 266px,#9a9aff 267px,#afafff 268px,#a0a0ff 270px,#cdcdff 272px,#cbcbff 274px,#eef 278px,#e3e3ff 280px,#f5f5ff 289px,#f8f8ff 307px)"></i><i style="top:536.05px;height:1.05px;background:linear-gradient(90deg,#f8f8ff 0,#eef 161px,#e0e0ff 165px,#ccf 167px,#bebeff 169px,#afafff 170px,#b5b5ff 172px,#afafff 173px,#5e5eff 176px,#77f 178px,#6767ff 179px,#9b9bff 180px,#8181ff 181px,#4343ff 182px,#2c2cff 183px,#3d3dff 184px,#0909ff 186px,#0000f7 187px,#0000d3 188px,#000076 189px,#000070 190px,#0000c8 191px,#0000d7 192px,#0000fb 193px,#0000ab 194px,#0000d3 196px,#1717ff 197px,#6c6cff 198px,#5454ff 199px,#1010ff 200px,#3030ff 202px,#6262ff 203px,#88f 205px,#7c7cff 206px,#8c8cff 207px,#7979ff 208px,#0000e3 209px,#9191ff 210px,#0000cf 211px,#6b6bff 212px,#4242ff 213px,#8b8bff 215px,#00004c 216px,#9f9fff 217px,#b9b9ff 218px,#0000b4 219px,#c6c6ff 220px,#e4e4ff 221px,#7e7eff 222px,#00004c 223px,#00004c 225px,#0000cb 226px,#c6c6ff 227px,#00004c 228px,#9393ff 229px,#5959ff 230px,#ddf 231px,#dcdcff 232px,#00004c 233px,#00004c 234px,#d8d8ff 235px,#f2f2ff 237px,#0f0fff 238px,#bebeff 239px,#00004c 240px,#00008e 241px,#22f 242px,#8b8bff 243px,#c1c1ff 244px,#d8d8ff 245px,#d0d0ff 246px,#ededff 247px,#cbcbff 248px,#e8e8ff 249px,#e9e9ff 254px,#cdcdff 257px,#c9c9ff 259px,#afafff 260px,#b0b0ff 261px,#c5c5ff 262px,#c2c2ff 265px,#9d9dff 266px,#9b9bff 267px,#b0b0ff 268px,#a0a0ff 270px,#cdcdff 272px,#cbcbff 274px,#eef 278px,#e3e3ff 280px,#f5f5ff 289px,#f8f8ff 307px)"></i><i style="top:537.05px;height:1.05px;background:linear-gradient(90deg,#f8f8ff 0,#eef 161px,#e0e0ff 165px,#cdcdff 167px,#c0c0ff 169px,#b2b2ff 170px,#b7b7ff 172px,#b1b1ff 173px,#6363ff 176px,#7b7bff 178px,#6c6cff 179px,#9e9eff 180px,#8585ff 181px,#4949ff 182px,#33f 183px,#44f 184px,#0000fe 187px,#0000da 188px,#000082 189px,#00007c 190px,#0000d1 191px,#0202ff 193px,#0000b5 194px,#0000db 196px,#1e1eff 197px,#7171ff 198px,#5a5aff 199px,#1919ff 200px,#3737ff 202px,#6767ff 203px,#6969ff 204px,#8c8cff 205px,#7d7dff 208px,#0000e8 209px,#afafff 210px,#0000d4 211px,#7070ff 212px,#4848ff 213px,#9090ff 215px,#00004c 216px,#a5a5ff 217px,#bebeff 218px,#0000bc 219px,#ccf 220px,#b3b3ff 221px,#8181ff 222px,#00004c 223px,#00004f 225px,#0000d1 226px,#ccf 227px,#00004c 228px,#99f 229px,#0000a6 230px,#e1e1ff 231px,#e1e1ff 232px,#00004c 233px,#00004c 234px,#ddf 235px,#0101ff 236px,#f6f6ff 237px,#1616ff 238px,#c1c1ff 239px,#000051 240px,#000093 241px,#2626ff 242px,#8d8dff 243px,#c2c2ff 244px,#d8d8ff 245px,#dadaff 247px,#ccf 248px,#e9e9ff 249px,#e9e9ff 254px,#ceceff 257px,#cacaff 259px,#b0b0ff 260px,#b1b1ff 261px,#c6c6ff 262px,#c3c3ff 265px,#9e9eff 266px,#9c9cff 267px,#b0b0ff 268px,#a1a1ff 270px,#ceceff 272px,#cbcbff 274px,#eef 278px,#e3e3ff 280px,#f5f5ff 289px,#f8f8ff 307px)"></i><i style="top:538.05px;height:1.05px;background:linear-gradient(90deg,#f8f8ff 0,#eef 161px,#e1e1ff 165px,#cfcfff 167px,#c2c2ff 169px,#b5b5ff 170px,#b4b4ff 173px,#6a6aff 176px,#8181ff 178px,#7272ff 179px,#a2a2ff 180px,#8b8bff 181px,#5151ff 182px,#3c3cff 183px,#4c4cff 184px,#0a0aff 187px,#0000e4 188px,#000091 189px,#00008c 190px,#0000dc 191px,#0e0eff 193px,#0000c2 194px,#0000e5 196px,#2929ff 197px,#7878ff 198px,#6363ff 199px,#2525ff 200px,#4040ff 202px,#7171ff 203px,#6f6fff 204px,#9090ff 205px,#9e9eff 206px,#8383ff 208px,#0000f5 209px,#b3b3ff 210px,#0000db 211px,#0000f8 212px,#4f4fff 213px,#7373ff 214px,#6f6fff 215px,#00004c 216px,#adadff 217px,#c3c3ff 218px,#0000c6 219px,#d3d3ff 220px,#b8b8ff 221px,#8686ff 222px,#00004c 223px,#000059 225px,#0000d9 226px,#d3d3ff 227px,#00004c 228px,#d3d3ff 229px,#0000b0 230px,#e5e5ff 231px,#00a 232px,#00004c 233px,#00004c 234px,#f2f2ff 235px,#0b0bff 236px,#fafaff 237px,#00009e 238px,#c5c5ff 239px,#00005b 240px,#0000a8 241px,#2d2dff 242px,#9191ff 243px,#dfdfff 244px,#d4d4ff 246px,#dcdcff 247px,#cfcfff 248px,#ebebff 249px,#eaeaff 254px,#cfcfff 257px,#cbcbff 259px,#b2b2ff 260px,#b3b3ff 261px,#c7c7ff 262px,#c4c4ff 265px,#a0a0ff 266px,#9e9eff 267px,#b2b2ff 268px,#a3a3ff 270px,#cfcfff 272px,#ccf 274px,#eef 278px,#e4e4ff 280px,#f6f6ff 290px,#f8f8ff 307px)"></i><i style="top:539.05px;height:1.05px;background:linear-gradient(90deg,#f8f8ff 0,#eef 162px,#c5c5ff 169px,#b8b8ff 170px,#b8b8ff 173px,#7272ff 176px,#8787ff 178px,#7a7aff 179px,#a7a7ff 180px,#9292ff 181px,#5a5aff 182px,#4747ff 183px,#5656ff 184px,#1818ff 187px,#0000f0 188px,#0000a4 189px,#0000a0 190px,#0000e9 191px,#0000f6 192px,#1c1cff 193px,#0000d1 194px,#0000f0 196px,#3535ff 197px,#7f7fff 198px,#6c6cff 199px,#3232ff 200px,#4b4bff 202px,#7979ff 203px,#77f 204px,#a4a4ff 206px,#8989ff 208px,#0000fd 209px,#b7b7ff 210px,#4c4cff 211px,#0202ff 212px,#5858ff 213px,#9191ff 214px,#77f 215px,#00004c 216px,#b6b6ff 217px,#cacaff 218px,#0000d4 219px,#ddf 220px,#8c8cff 222px,#00004c 223px,#00004c 224px,#000067 225px,#e1e1ff 226px,#ddf 227px,#00004c 228px,#dbdbff 229px,#0000bc 230px,#ebebff 231px,#0000b6 232px,#00004c 233px,#00004c 234px,#f8f8ff 235px,#1818ff 236px,#fffefe 237px,#00a 238px,#cbcbff 239px,#00004c 240px,#0000b3 241px,#3737ff 242px,#e1e1ff 244px,#dcdcff 245px,#f1f1ff 246px,#d3d3ff 248px,#eef 249px,#ebebff 254px,#d0d0ff 257px,#ccf 259px,#b4b4ff 260px,#b5b5ff 261px,#c8c8ff 262px,#c5c5ff 265px,#a2a2ff 266px,#a0a0ff 267px,#b4b4ff 268px,#a5a5ff 270px,#d0d0ff 272px,#cdcdff 274px,#eef 278px,#e4e4ff 280px,#f6f6ff 290px,#f8f8ff 307px)"></i><i style="top:540.05px;height:1.05px;background:linear-gradient(90deg,#f8f8ff 0,#eef 162px,#c8c8ff 169px,#bdbdff 170px,#bcbcff 173px,#7b7bff 176px,#8f8fff 178px,#8282ff 179px,#adadff 180px,#9a9aff 181px,#6565ff 182px,#5353ff 183px,#6161ff 184px,#2727ff 187px,#0000fd 188px,#0000b9 189px,#0000b5 190px,#0000f8 191px,#0707ff 192px,#2b2bff 193px,#0000e3 194px,#0000fd 196px,#8787ff 198px,#77f 199px,#4141ff 200px,#5656ff 202px,#8282ff 203px,#8080ff 204px,#a4a4ff 205px,#ababff 206px,#7b7bff 208px,#0c0cff 209px,#bcbcff 210px,#5656ff 211px,#0f0fff 212px,#6363ff 213px,#9a9aff 214px,#8181ff 215px,#00004c 216px,#c1c1ff 217px,#e8e8ff 220px,#a4a4ff 222px,#00004c 223px,#00004c 224px,#000078 225px,#e9e9ff 226px,#e7e7ff 227px,#000052 228px,#e5e5ff 229px,#0000ca 230px,#f1f1ff 231px,#0000c4 232px,#00004c 233px,#1313ff 234px,#fefeff 235px,#2727ff 236px,#fff8f8 237px,#0000b9 238px,#d2d2ff 239px,#00004c 240px,#0000c0 241px,#4242ff 242px,#e4e4ff 244px,#d7d7ff 245px,#f4f4ff 246px,#ddf 248px,#f0f0ff 249px,#ececff 254px,#d2d2ff 257px,#ceceff 259px,#b7b7ff 260px,#cacaff 262px,#c7c7ff 265px,#a5a5ff 266px,#a3a3ff 267px,#b6b6ff 268px,#a8a8ff 270px,#d1d1ff 272px,#cfcfff 274px,#eef 278px,#e5e5ff 280px,#f6f6ff 291px,#f8f8ff 307px)"></i><i style="top:541.05px;height:1.05px;background:linear-gradient(90deg,#f8f8ff 0,#efefff 162px,#cbcbff 169px,#c1c1ff 173px,#8585ff 176px,#9797ff 178px,#8b8bff 179px,#b3b3ff 180px,#a2a2ff 181px,#7171ff 182px,#6161ff 183px,#6e6eff 184px,#3939ff 187px,#1313ff 188px,#0000cf 189px,#00c 190px,#0d0dff 191px,#3c3cff 193px,#0000f5 194px,#1212ff 196px,#9191ff 198px,#8383ff 199px,#5151ff 200px,#6464ff 202px,#8c8cff 203px,#8585ff 204px,#ababff 205px,#b3b3ff 206px,#8484ff 208px,#1b1bff 209px,#77f 210px,#6161ff 211px,#1f1fff 212px,#9494ff 213px,#a3a3ff 214px,#8c8cff 215px,#0000a4 216px,#cdcdff 217px,#f5f5ff 220px,#ababff 222px,#00004c 223px,#00004c 224px,#00008b 225px,#f1f1ff 226px,#0000f1 227px,#000069 228px,#efefff 229px,#2b2bff 230px,#f8f8ff 231px,#0000d4 232px,#00004c 233px,#2727ff 234px,#fff9f9 235px,#a1a1ff 236px,#fff0f0 237px,#0000c9 238px,#4141ff 239px,#000056 240px,#0000cf 241px,#7676ff 242px,#9898ff 243px,#e7e7ff 244px,#dbdbff 245px,#f8f8ff 246px,#e1e1ff 248px,#f2f2ff 249px,#ededff 254px,#d4d4ff 257px,#d0d0ff 259px,#babaff 260px,#c8c8ff 263px,#c9c9ff 265px,#a8a8ff 266px,#a6a6ff 267px,#b8b8ff 268px,#ababff 270px,#d3d3ff 272px,#d0d0ff 274px,#efefff 278px,#e5e5ff 280px,#f6f6ff 291px,#f8f8ff 307px)"></i><i style="top:542.05px;height:1.05px;background:linear-gradient(90deg,#f8f8ff 0,#efefff 162px,#cfcfff 169px,#c6c6ff 173px,#8f8fff 176px,#a0a0ff 178px,#9595ff 179px,#babaff 180px,#ababff 181px,#7e7eff 182px,#6f6fff 183px,#7b7bff 184px,#4b4bff 187px,#2929ff 188px,#0000e6 189px,#0000e4 190px,#2525ff 191px,#4e4eff 193px,#0e0eff 194px,#2828ff 196px,#9b9bff 198px,#8f8fff 199px,#6161ff 200px,#7272ff 202px,#9797ff 203px,#8f8fff 204px,#b3b3ff 205px,#bcbcff 206px,#8f8fff 208px,#6e6eff 211px,#1313ff 212px,#9f9fff 213px,#aeaeff 214px,#0000f0 215px,#0000b9 216px,#dadaff 217px,#0000f8 218px,#f6f6ff 219px,#fffafa 220px,#7373ff 221px,#b4b4ff 222px,#00004c 223px,#000085 224px,#00009f 225px,#fbfbff 226px,#0909ff 227px,#000083 228px,#fcfcff 229px,#4040ff 230px,#fffefe 231px,#0000e6 232px,#000054 233px,#3d3dff 234px,#fff2f2 235px,#aeaeff 236px,#ffe8e8 237px,#6262ff 238px,#5252ff 239px,#00006e 240px,#00e 241px,#8484ff 242px,#a2a2ff 243px,#ececff 244px,#dfdfff 245px,#fdfdff 246px,#d7d7ff 247px,#f5f5ff 249px,#e3e3ff 255px,#d2d2ff 259px,#bdbdff 260px,#cbcbff 263px,#cbcbff 265px,#acacff 266px,#aaf 267px,#bbf 268px,#aeaeff 270px,#d4d4ff 272px,#d2d2ff 274px,#efefff 278px,#e6e6ff 280px,#f7f7ff 292px,#f8f8ff 307px)"></i><i style="top:543.05px;height:1.05px;background:linear-gradient(90deg,#f8f8ff 0,#f0f0ff 162px,#d0d0ff 171px,#cacaff 173px,#9a9aff 176px,#a8a8ff 178px,#9f9fff 179px,#c0c0ff 180px,#b4b4ff 181px,#8b8bff 182px,#7d7dff 183px,#88f 184px,#5d5dff 187px,#3f3fff 188px,#0000fd 189px,#0000fc 190px,#3d3dff 191px,#6060ff 193px,#2929ff 194px,#3e3eff 196px,#a5a5ff 198px,#9b9bff 199px,#7373ff 200px,#8080ff 202px,#9e9eff 203px,#9b9bff 204px,#bbf 205px,#c6c6ff 206px,#9a9aff 208px,#7b7bff 211px,#2727ff 212px,#ababff 213px,#babaff 214px,#0303ff 215px,#0000d1 216px,#e9e9ff 217px,#1010ff 218px,#fff3f3 219px,#ffe7e7 220px,#8383ff 221px,#bebeff 222px,#00004c 223px,#00009f 224px,#0000b6 225px,#fff8f8 226px,#2929ff 227px,#00009f 228px,#9494ff 229px,#5656ff 230px,#fff6f6 231px,#00009d 232px,#000071 233px,#55f 234px,#ffeaea 235px,#bcbcff 236px,#ffe0e0 237px,#7575ff 238px,#6565ff 239px,#000087 240px,#00f 241px,#9292ff 242px,#f0f0ff 244px,#e3e3ff 245px,#fffdfd 246px,#dedeff 247px,#f6f6ff 250px,#e5e5ff 255px,#d5d5ff 259px,#c0c0ff 260px,#cfcfff 264px,#cdcdff 265px,#b0b0ff 266px,#aeaeff 267px,#bebeff 268px,#b2b2ff 270px,#d6d6ff 272px,#ddf 276px,#f0f0ff 278px,#efefff 281px,#f8f8ff 307px)"></i><i style="top:544.05px;height:1.05px;background:linear-gradient(90deg,#f8f8ff 0,#ededff 163px,#cfcfff 173px,#a4a4ff 176px,#b1b1ff 178px,#a9a9ff 179px,#c7c7ff 180px,#bcbcff 181px,#9797ff 182px,#8c8cff 183px,#9595ff 184px,#7070ff 187px,#55f 188px,#1e1eff 189px,#1d1dff 190px,#5454ff 191px,#7272ff 193px,#44f 194px,#55f 196px,#afafff 198px,#a7a7ff 199px,#8484ff 200px,#9393ff 202px,#aaf 203px,#a7a7ff 204px,#ceceff 205px,#cfcfff 206px,#b7b7ff 207px,#8585ff 208px,#a6a6ff 209px,#9898ff 210px,#c1c1ff 211px,#3d3dff 212px,#b9b9ff 213px,#c1c1ff 214px,#1d1dff 215px,#0000ea 216px,#fafaff 217px,#2d2dff 218px,#ffdcdc 219px,#ffd2d2 220px,#9494ff 221px,#c8c8ff 222px,#00004c 223px,#00b 224px,#55f 225px,#ffebeb 226px,#4c4cff 227px,#f3f3ff 228px,#6e6eff 230px,#ffecec 231px,#0000b8 232px,#000091 233px,#ffeaea 234px,#ffe1e1 235px,#cbcbff 236px,#7272ff 237px,#8989ff 238px,#7979ff 239px,#00b 240px,#1a1aff 241px,#a2a2ff 242px,#f5f5ff 244px,#e7e7ff 245px,#fff7f7 246px,#e5e5ff 247px,#f8f8ff 251px,#d7d7ff 259px,#c4c4ff 260px,#d1d1ff 264px,#d0d0ff 265px,#b4b4ff 266px,#c0c0ff 269px,#b6b6ff 270px,#d8d8ff 272px,#e4e4ff 277px,#f0f0ff 278px,#f2f2ff 284px,#f8f8ff 307px)"></i><i style="top:545.05px;height:1.05px;background:linear-gradient(90deg,#f8f8ff 0,#eef 164px,#d4d4ff 173px,#afafff 176px,#b3b3ff 179px,#cdcdff 180px,#c5c5ff 181px,#a4a4ff 182px,#9a9aff 183px,#a2a2ff 184px,#8282ff 187px,#6b6bff 188px,#3d3dff 189px,#3d3dff 190px,#6b6bff 191px,#8484ff 193px,#5e5eff 194px,#6a6aff 196px,#b8b8ff 198px,#b3b3ff 199px,#9595ff 200px,#a1a1ff 202px,#b5b5ff 203px,#b3b3ff 204px,#d6d6ff 205px,#d9d9ff 206px,#9494ff 208px,#b3b3ff 209px,#8989ff 210px,#cbcbff 211px,#5353ff 212px,#c6c6ff 213px,#cfcfff 214px,#3939ff 215px,#ffecec 216px,#fff1f1 217px,#4c4cff 218px,#ffc1c1 219px,#ffbaba 220px,#a7a7ff 221px,#6b6bff 222px,#00004c 223px,#0000d8 224px,#6e6eff 225px,#ffdcdc 226px,#7373ff 227px,#fff7f7 228px,#88f 230px,#ffe2e2 231px,#0000d5 232px,#0000e9 233px,#ffdcdc 234px,#ffd4d4 236px,#8a8aff 237px,#9f9fff 238px,#0000c7 239px,#0000d6 240px,#3535ff 241px,#a9a9ff 242px,#f9f9ff 244px,#fff2f2 246px,#ededff 247px,#fefeff 248px,#eaeaff 255px,#dadaff 259px,#c8c8ff 261px,#d2d2ff 263px,#d2d2ff 265px,#b9b9ff 266px,#c4c4ff 269px,#babaff 270px,#dadaff 272px,#e6e6ff 277px,#f1f1ff 278px,#f4f4ff 285px,#f8f8ff 307px)"></i><i style="top:546.05px;height:1.05px;background:linear-gradient(90deg,#f8f8ff 0,#efefff 164px,#d9d9ff 173px,#b9b9ff 177px,#bdbdff 179px,#d3d3ff 180px,#ccf 181px,#b0b0ff 182px,#a0a0ff 186px,#8080ff 188px,#5a5aff 189px,#5b5bff 190px,#8181ff 191px,#9595ff 193px,#77f 194px,#7f7fff 196px,#c2c2ff 198px,#bebeff 199px,#a4a4ff 200px,#afafff 202px,#c2c2ff 204px,#dfdfff 205px,#e3e3ff 206px,#a2a2ff 208px,#c0c0ff 209px,#9797ff 210px,#d6d6ff 211px,#6a6aff 212px,#d5d5ff 213px,#dedeff 214px,#0000fa 215px,#ffdada 216px,#ffdbdb 217px,#9b9bff 218px,#ffa2a2 219px,#ff9d9d 220px,#dcdcff 221px,#8181ff 222px,#00004c 223px,#0000dc 224px,#8989ff 225px,#ffcaca 226px,#0000d9 227px,#ffe0e0 228px,#e1e1ff 229px,#ffcece 230px,#ffd6d6 231px,#0000f3 232px,#0a0aff 233px,#ffcece 234px,#ffcbcb 236px,#a3a3ff 237px,#b4b4ff 238px,#0000e2 239px,#0000f0 240px,#7c7cff 241px,#bbf 242px,#ebebff 244px,#f9f9ff 245px,#ffecec 246px,#efefff 247px,#fff 249px,#dcdcff 259px,#ccf 261px,#d6d6ff 264px,#d5d5ff 265px,#bdbdff 266px,#c7c7ff 269px,#bfbfff 270px,#dcdcff 272px,#e7e7ff 277px,#eaeaff 279px,#f8f8ff 300px,#f8f8ff 307px)"></i><i style="top:547.05px;height:1.05px;background:linear-gradient(90deg,#f8f8ff 0,#f0f0ff 164px,#ddf 173px,#c2c2ff 177px,#c6c6ff 179px,#d9d9ff 180px,#d4d4ff 181px,#b4b4ff 183px,#afafff 186px,#9393ff 188px,#7575ff 189px,#7676ff 190px,#9595ff 191px,#a5a5ff 193px,#8d8dff 194px,#9393ff 196px,#cbcbff 198px,#b1b1ff 201px,#cdcdff 204px,#e7e7ff 205px,#d5d5ff 207px,#b0b0ff 208px,#e1e1ff 209px,#a6a6ff 210px,#e2e2ff 211px,#d2d2ff 212px,#eef 214px,#2020ff 215px,#ffc5c5 216px,#ffc3c3 217px,#babaff 218px,#ff7f7f 219px,#ff7d7d 220px,#efefff 221px,#9898ff 222px,#0000ab 223px,#00f 224px,#a6a6ff 225px,#ffb7b7 226px,#0a0aff 227px,#ffc7c7 228px,#66f 229px,#ffbebe 230px,#ffc9c9 231px,#0000f7 232px,#33f 233px,#ffbebe 234px,#b2b2ff 235px,#ffc1c1 236px,#bcbcff 237px,#ffe6e6 238px,#0000fe 239px,#11f 240px,#9393ff 241px,#ccf 242px,#fdfdff 245px,#ffe7e7 246px,#f7f7ff 247px,#fffcfc 249px,#dfdfff 259px,#d0d0ff 261px,#d9d9ff 264px,#d8d8ff 265px,#c2c2ff 266px,#cbcbff 269px,#c3c3ff 270px,#dedeff 272px,#ebebff 279px,#f8f8ff 304px,#f8f8ff 307px)"></i><i style="top:548.05px;height:1.05px;background:linear-gradient(90deg,#f8f8ff 0,#eef 165px,#d6d6ff 174px,#cbcbff 177px,#ceceff 179px,#dedeff 180px,#c0c0ff 183px,#b3b3ff 187px,#8e8eff 189px,#8f8fff 190px,#a7a7ff 191px,#b4b4ff 193px,#a1a1ff 194px,#a6a6ff 196px,#d3d3ff 198px,#bfbfff 201px,#d8d8ff 204px,#f5f5ff 205px,#e2e2ff 207px,#c1c1ff 208px,#ececff 209px,#b4b4ff 210px,#bfbfff 211px,#f5f5ff 213px,#e9e9ff 214px,#4848ff 215px,#ffafaf 216px,#ffa9a9 217px,#dadaff 218px,#ff5757 219px,#ff9696 220px,#fffbfb 221px,#b0b0ff 222px,#00d 223px,#3434ff 224px,#c4c4ff 225px,#ffa1a1 226px,#4e4eff 227px,#ffabab 228px,#9696ff 229px,#ffadad 230px,#a6a6ff 231px,#2525ff 232px,#5e5eff 233px,#ffa2a2 234px,#cacaff 235px,#ffb6b6 236px,#77f 237px,#ffd8d8 238px,#2727ff 239px,#4343ff 240px,#aaf 241px,#dedeff 242px,#fff4f4 243px,#fffdfd 245px,#fff0f0 246px,#fffefe 247px,#ffefef 248px,#f9f9ff 253px,#d4d4ff 261px,#dbdbff 265px,#c6c6ff 266px,#cfcfff 269px,#c7c7ff 270px,#e0e0ff 272px,#f7f7ff 287px,#f8f8ff 307px)"></i><i style="top:549.05px;height:1.05px;background:linear-gradient(90deg,#f8f8ff 0,#efefff 165px,#d7d7ff 175px,#d5d5ff 179px,#e0e0ff 181px,#cbcbff 183px,#c0c0ff 187px,#a4a4ff 189px,#a4a4ff 190px,#bdbdff 192px,#c1c1ff 193px,#b7b7ff 195px,#b7b7ff 196px,#dbdbff 198px,#ccf 201px,#e3e3ff 204px,#fdfdff 205px,#eef 207px,#ceceff 208px,#f8f8ff 209px,#c3c3ff 210px,#d0d0ff 211px,#f3f3ff 212px,#ffefef 213px,#fdfdff 214px,#6f6fff 215px,#ff9696 216px,#ff8c8c 217px,#fcfcff 218px,#ff2c2c 219px,#ff6767 220px,#ffe5e5 221px,#8181ff 222px,#1919ff 223px,#6a6aff 224px,#ffaeae 225px,#ff8989 226px,#9393ff 227px,#f77 228px,#c7c7ff 229px,#f99 230px,#c6c6ff 231px,#55f 232px,#88f 233px,#ff9292 234px,#e3e3ff 235px,#ffabab 236px,#9a9aff 237px,#ffc9c9 238px,#2121ff 239px,#6767ff 240px,#c1c1ff 241px,#e4e4ff 242px,#ffecec 243px,#fefeff 244px,#ffe8e8 246px,#fff5f5 247px,#ffe8e8 248px,#fffefe 252px,#d8d8ff 261px,#ddf 265px,#c9c9ff 267px,#d2d2ff 269px,#ccf 270px,#e2e2ff 272px,#f7f7ff 288px,#f8f8ff 307px)"></i><i style="top:550.05px;height:1.05px;background:linear-gradient(90deg,#f8f8ff 0,#f0f0ff 165px,#dcdcff 179px,#e5e5ff 181px,#d3d3ff 185px,#b8b8ff 190px,#ceceff 193px,#c7c7ff 196px,#e2e2ff 198px,#e0e0ff 202px,#fff9f9 206px,#dcdcff 208px,#fffbfb 209px,#e0e0ff 211px,#fffbfb 212px,#ffdfdf 213px,#ffecec 214px,#9797ff 215px,#ff7b7b 216px,#ff6c6c 217px,#ffdede 218px,#fd0000 219px,#ff3535 220px,#ffc7c7 221px,#a3a3ff 222px,#6363ff 223px,#a1a1ff 224px,#ff9a9a 225px,#ff6e6e 226px,#ffdede 227px,#ff5959 228px,#f9f9ff 229px,#ff8484 230px,#e6e6ff 231px,#8484ff 232px,#ffe8e8 233px,#ff8181 234px,#fcfcff 235px,#ff9f9f 236px,#bebeff 237px,#ffbaba 238px,#4b4bff 239px,#d7d7ff 241px,#f6f6ff 242px,#ffe4e4 243px,#fff9f9 244px,#ffe1e1 246px,#ffeded 247px,#ffe3e3 248px,#fffcfc 252px,#dbdbff 261px,#e0e0ff 265px,#ceceff 267px,#dbdbff 271px,#eef 279px,#f8f8ff 307px)"></i><i style="top:551.05px;height:1.05px;background:linear-gradient(90deg,#f8f8ff 0,#eef 166px,#e3e3ff 179px,#eaeaff 181px,#c9c9ff 190px,#d9d9ff 193px,#d5d5ff 196px,#e8e8ff 199px,#ededff 203px,#fafaff 204px,#fff2f2 206px,#fdfdff 207px,#e8e8ff 208px,#f1f1ff 211px,#ffcece 213px,#ffd7d7 214px,#fff8f8 215px,#ff5f5f 216px,#ff4a4a 217px,#ff7171 218px,#e40000 219px,#ff0101 220px,#ffb0b0 221px,#c4c4ff 222px,#aeaeff 223px,#d8d8ff 224px,#ff8383 225px,#ff5151 226px,#ff9f9f 227px,#ff3939 228px,#ffa2a2 229px,#ff6e6e 230px,#fff8f8 231px,#b7b7ff 232px,#ffcbcb 233px,#ff6f6f 234px,#ffbfbf 235px,#ff9393 236px,#e0e0ff 237px,#fffcfc 238px,#7474ff 239px,#ababff 240px,#fffefe 241px,#fff6f6 242px,#ffdbdb 243px,#fff8f8 244px,#ffd9d9 246px,#fdd 248px,#fffdfd 251px,#dfdfff 261px,#e3e3ff 265px,#d2d2ff 267px,#dedeff 271px,#f4f4ff 282px,#f8f8ff 307px)"></i><i style="top:552.05px;height:1.05px;background:linear-gradient(90deg,#f8f8ff 0,#eef 169px,#e8e8ff 179px,#dedeff 188px,#e2e2ff 196px,#fffafa 204px,#ffe9e9 206px,#f8f8ff 209px,#f9f9ff 211px,#ffcfcf 212px,#ffbebe 213px,#f6f6ff 214px,#ffdbdb 215px,#ff4242 216px,#ff9898 217px,#f55 218px,#c90000 219px,#ff1f1f 220px,#f99 221px,#e5e5ff 222px,#ffd1d1 223px,#ffefef 224px,#ff6c6c 225px,#ff7373 226px,#ff6060 227px,#ff1717 228px,#ff7575 229px,#ff5757 230px,#ffd8d8 231px,#e3e3ff 232px,#ffaeae 233px,#ff5d5d 234px,#ffacac 235px,#ff8787 236px,#ffc2c2 237px,#ffe3e3 238px,#9b9bff 239px,#d4d4ff 240px,#ffecec 241px,#ffd3d3 243px,#fff1f1 244px,#ffd8d8 248px,#fffcfc 251px,#ededff 259px,#e5e5ff 265px,#d6d6ff 267px,#e1e1ff 271px,#f8f8ff 286px,#f8f8ff 307px)"></i><i style="top:553.05px;height:1.05px;background:linear-gradient(90deg,#f8f8ff 0,#f0f0ff 173px,#e8e8ff 194px,#fefeff 203px,#ffe0e0 206px,#fff4f4 210px,#fff5f5 211px,#ffc0c0 212px,#ffadad 213px,#ffeaea 214px,#ffbfbf 215px,#ff2424 216px,#ff6565 217px,#ff3838 218px,#ae0000 219px,#e00 220px,#fff3f3 222px,#ff9191 223px,#ffbaba 224px,#ff5454 225px,#ff4c4c 226px,#f22 227px,#ff1a1a 228px,#ff4949 229px,#ff4040 230px,#ffe0e0 231px,#fff0f0 232px,#ff9292 233px,#ff4b4b 234px,#ff9b9b 235px,#ff7b7b 236px,#fcc 238px,#bfbfff 239px,#f0f0ff 240px,#ffdbdb 241px,#ffcbcb 243px,#ffebeb 244px,#ffd3d3 247px,#fffafa 251px,#f2f2ff 258px,#e1e1ff 268px,#e4e4ff 271px,#f7f7ff 288px,#f8f8ff 307px)"></i><i style="top:554.05px;height:1.05px;background:linear-gradient(90deg,#f8f8ff 0,#f4f4ff 195px,#fff9f9 203px,#ffd7d7 206px,#ffe8e8 207px,#ffe6e6 211px,#ffb2b2 212px,#ff9e9e 213px,#ffcdcd 214px,#ffa3a3 215px,#ff0707 216px,#ff3434 217px,#ff1d1d 218px,#940000 219px,#ce0000 220px,#ff6b6b 221px,#ffd6d6 222px,#ff5353 223px,#f88 224px,#ff3d3d 225px,#ff2626 226px,#c30000 227px,#f90000 228px,#ff1e1e 229px,#ff2929 230px,#ffbdbd 231px,#ffc9c9 232px,#ff4747 233px,#ff3a3a 234px,#ff8989 235px,#ffa9a9 236px,#ff9595 237px,#ffb5b5 238px,#ededff 239px,#fff3f3 240px,#ffcbcb 241px,#ffc4c4 243px,#ffe5e5 244px,#ffe3e3 245px,#ffcdcd 246px,#ffd0d0 248px,#fff9f9 251px,#f1f1ff 259px,#dfdfff 270px,#f2f2ff 279px,#f8f8ff 307px)"></i><i style="top:555.05px;height:1.05px;background:linear-gradient(90deg,#f8f8ff 0,#f9f9ff 194px,#fff3f3 203px,#ffcfcf 206px,#ffe6e6 209px,#ffd8d8 211px,#ffa5a5 212px,#ff8f8f 213px,#ffb2b2 214px,#f50000 216px,#ff0202 218px,#800000 219px,#b10000 220px,#ff7878 221px,#ffbcbc 222px,#ff1b1b 223px,#ff2727 225px,#ff0202 226px,#ae0000 227px,#e60000 228px,#fa0000 229px,#ff1313 230px,#ff9d9d 231px,#ffa4a4 232px,#ff3535 233px,#ff2929 234px,#ff9595 236px,#ff8080 237px,#fff5f5 238px,#fff4f4 239px,#ffb1b1 242px,#ffdada 244px,#ffe0e0 245px,#ffc6c6 246px,#ffcaca 248px,#fff8f8 251px,#f7f7ff 258px,#e2e2ff 270px,#f8f8ff 286px,#f8f8ff 307px)"></i><i style="top:556.05px;height:1.05px;background:linear-gradient(90deg,#f8f8ff 0,#fcfcff 186px,#fff7f7 200px,#ffecec 203px,#ffc9c9 206px,#ffd5d5 210px,#ffcbcb 211px,#f99 212px,#ff8181 213px,#ff9a9a 214px,#ff4b4b 215px,#e90000 216px,#e50000 217px,#f40000 218px,#800000 219px,#8c0000 220px,#ff6060 221px,#ffa4a4 222px,#fa0000 223px,#ff1313 225px,#ff0909 226px,#9b0000 227px,#d50000 228px,#d10000 229px,#f00 230px,#ff8080 231px,#ff7070 232px,#ff2525 233px,#ff1919 234px,#ff8282 236px,#ff6d6d 237px,#ffd4d4 238px,#ffdada 239px,#ffa4a4 242px,#ffd5d5 244px,#fdd 245px,#ffc1c1 246px,#ffc5c5 248px,#fff7f7 251px,#f6f6ff 259px,#e5e5ff 270px,#f7f7ff 289px,#f8f8ff 307px)"></i><i style="top:557.05px;height:1.05px;background:linear-gradient(90deg,#f8f8ff 0,#fafaff 181px,#fff5f5 195px,#fffcfc 199px,#ffe7e7 203px,#ffc2c2 206px,#ffd0d0 210px,#ff7575 213px,#ff9c9c 214px,#ff3e3e 215px,#de0000 216px,#d50000 217px,#ea0000 218px,#800000 219px,#800000 220px,#ff4b4b 221px,#ff9090 222px,#e30000 223px,#ff0303 225px,#f30000 226px,#8c0000 227px,#d90000 228px,#c60000 229px,#f60000 230px,#ff6e6e 231px,#ff5656 232px,#ff1616 233px,#ff7272 236px,#ff4747 237px,#ffb7b7 238px,#ffc2c2 239px,#ffa4a4 240px,#f99 242px,#ffd1d1 244px,#ffdbdb 245px,#ffb9b9 246px,#ffc1c1 248px,#fff6f6 251px,#f7f7ff 259px,#ececff 271px,#f8f8ff 307px)"></i><i style="top:558.05px;height:1.05px;background:linear-gradient(90deg,#f8f8ff 0,#fcfcff 181px,#fff0f0 195px,#fff9f9 199px,#ffe2e2 203px,#ffbcbc 206px,#ffc3c3 209px,#ffd1d1 210px,#ff8585 212px,#ff6f6f 213px,#ff8787 214px,#ff3434 215px,#d60000 216px,#c80000 217px,#e30000 218px,#800000 219px,#800000 220px,#ff3b3b 221px,#ff7070 222px,#d10000 223px,#fa0000 225px,#e60000 226px,#800000 227px,#cb0000 228px,#bc0000 229px,#ef0000 230px,#ff5757 231px,#ff3f3f 232px,#ff0707 233px,#ff4343 235px,#ff7979 236px,#ff3c3c 237px,#ff9d9d 238px,#faa 239px,#ff9494 240px,#ff9898 241px,#ff8585 242px,#ffcdcd 244px,#ffdbdb 245px,#ffb3b3 246px,#ffbdbd 248px,#fff5f5 251px,#f6f6ff 260px,#eef 271px,#f8f8ff 307px)"></i><i style="top:559.05px;height:1.05px;background:linear-gradient(90deg,#f8f8ff 0,#fff8f8 186px,#ffecec 197px,#fff7f7 199px,#ffdede 203px,#ffc9c9 204px,#ffb7b7 206px,#ffc3c3 208px,#ffbaba 209px,#fcc 210px,#ff7e7e 212px,#f66 213px,#ff7676 214px,#ff2c2c 215px,#d00000 216px,#bf0000 217px,#de0000 218px,#800000 219px,#800000 220px,#ff3f3f 221px,#ff6767 222px,#c40000 223px,#d30000 224px,#f60000 225px,#dc0000 226px,#800000 227px,#c00000 228px,#b60000 229px,#fb0000 230px,#ff4545 231px,#ff2d2d 232px,#fe0000 233px,#ff1212 234px,#ff6868 236px,#ff3131 237px,#ff8686 238px,#ff9898 239px,#ff8686 240px,#ff8d8d 241px,#ff7d7d 242px,#ffc7c7 244px,#ffd8d8 245px,#ffadad 246px,#ffb9b9 248px,#fff4f4 251px,#ffecec 252px,#fbfbff 259px,#f1f1ff 273px,#f8f8ff 307px)"></i><i style="top:560.05px;height:1.05px;background:linear-gradient(90deg,#f8f8ff 0,#fff8f8 182px,#ffefef 191px,#ffe1e1 196px,#fff5f5 199px,#ffdada 203px,#ffc6c6 204px,#ffb7b7 207px,#ffc0c0 208px,#ffabab 209px,#ffc8c8 210px,#f77 212px,#ff6060 213px,#ff6969 214px,#ff2828 215px,#cd0000 216px,#b90000 217px,#db0000 218px,#800000 219px,#800000 220px,#ff3535 221px,#ff6060 222px,#bc0000 223px,#f50000 225px,#d10000 226px,#800000 227px,#ba0000 228px,#b20000 229px,#f50000 230px,#ff3737 231px,#ff0d0d 232px,#ff0505 234px,#ff5959 236px,#ff2828 237px,#ff7c7c 238px,#f88 239px,#ff7a7a 240px,#ff8686 241px,#ff7676 242px,#ffc4c4 244px,#ffd6d6 245px,#ffa7a7 246px,#ffb5b5 248px,#fff3f3 251px,#ffebeb 252px,#fafaff 260px,#f4f4ff 275px,#f8f8ff 307px)"></i><i style="top:561.05px;height:1.05px;background:linear-gradient(90deg,#f8f8ff 0,#fff6f6 182px,#ffecec 191px,#fdd 196px,#fff3f3 199px,#ffd7d7 203px,#ffc3c3 204px,#ffc4c4 205px,#ffb1b1 206px,#ffc1c1 208px,#ffa7a7 209px,#ffc5c5 210px,#ff7474 212px,#ff5252 214px,#ff2727 215px,#c00 216px,#af0000 217px,#dc0000 218px,#800000 219px,#800000 220px,#ff2f2f 221px,#ff5e5e 222px,#b80000 223px,#f50000 225px,#cf0000 226px,#800000 227px,#b70000 228px,#b20000 229px,#f20000 230px,#ff2c2c 231px,#ff0606 232px,#f70000 234px,#ff4d4d 236px,#ff3131 237px,#ff6969 238px,#ff7b7b 239px,#ff6a6a 240px,#ff7d7d 241px,#ff7171 242px,#ffc2c2 244px,#ffd4d4 245px,#ffa1a1 246px,#ffb1b1 248px,#fff3f3 251px,#ffeaea 252px,#fcfcff 260px,#f5f5ff 277px,#f8f8ff 307px)"></i><i style="top:562.05px;height:1.05px;background:linear-gradient(90deg,#f8f8ff 0,#fffefe 181px,#ffe5e5 190px,#ffe2e2 195px,#ffdada 196px,#fff2f2 199px,#ffdada 202px,#ffafaf 207px,#ffbebe 208px,#ffa3a3 209px,#ffc2c2 210px,#ff7272 212px,#ff4f4f 214px,#ff2828 215px,#d50000 216px,#b20000 217px,#de0000 218px,#800000 219px,#800000 220px,#ff2e2e 221px,#ff5c5c 222px,#b90000 223px,#fd0000 225px,#d00000 226px,#800000 227px,#b40000 228px,#b40000 229px,#f00000 230px,#ff2626 231px,#ff0202 232px,#f40000 234px,#ff2c2c 235px,#f44 236px,#ff2828 237px,#ff5959 238px,#ff6f6f 239px,#ff6262 240px,#ff7575 241px,#ff6b6b 242px,#ffbfbf 244px,#ffd3d3 245px,#ff9d9d 246px,#ffadad 248px,#fff2f2 251px,#ffe8e8 252px,#fdfdff 260px,#f6f6ff 277px,#f8f8ff 307px)"></i><i style="top:563.05px;height:1.05px;background:linear-gradient(90deg,#f8f8ff 0,#fffdfd 181px,#ffe3e3 190px,#ffe5e5 194px,#ffd8d8 196px,#fff1f1 199px,#ffd7d7 201px,#ffd3d3 203px,#ffc0c0 204px,#ffc2c2 205px,#faa 207px,#fbb 208px,#ffa0a0 209px,#ffc1c1 210px,#ff7272 212px,#ff4e4e 214px,#ff2c2c 215px,#d70000 216px,#b70000 217px,#e30000 218px,#800000 219px,#800000 220px,#ff2f2f 221px,#ff6060 222px,#bd0000 223px,#ff0202 225px,#d40000 226px,#800000 227px,#b70000 228px,#b80000 229px,#f40000 230px,#ff2323 231px,#ff0101 232px,#f20000 234px,#ff2a2a 235px,#ff3434 236px,#ff2121 237px,#ff4c4c 238px,#ff6464 239px,#ff5a5a 240px,#ff6f6f 241px,#ff6767 242px,#ffbdbd 244px,#ffd1d1 245px,#ff9a9a 246px,#ffabab 248px,#fff1f1 251px,#ffe8e8 252px,#ffefef 255px,#fcfcff 261px,#f8f8ff 307px)"></i><i style="top:564.05px;height:2.05px;background:linear-gradient(90deg,#f8f8ff 0,#fffcfc 181px,#ffe0e0 190px,#ffe3e3 194px,#ffd5d5 196px,#fff0f0 199px,#ffd4d4 201px,#ffd0d0 203px,#ffbfbf 204px,#ffc2c2 205px,#ffa9a9 207px,#ffb9b9 208px,#ff9c9c 209px,#ffc0c0 210px,#ff7474 212px,#ff3636 215px,#df0000 216px,#c20000 217px,#ed0000 218px,#800000 219px,#800000 220px,#ff3a3a 221px,#ff6969 222px,#c60000 223px,#e70000 224px,#ff1212 225px,#dc0000 226px,#8e0000 227px,#c00000 228px,#c00000 229px,#f60000 230px,#ff2424 231px,#fe0000 232px,#f10000 234px,#ff2f2f 235px,#ff2e2e 236px,#ff1a1a 237px,#ff5959 239px,#ff5252 240px,#f66 241px,#ff6363 242px,#fbb 244px,#ffcfcf 245px,#ff9595 246px,#ffa7a7 248px,#fff1f1 251px,#ffe6e6 252px,#fff4f4 254px,#fff5f5 257px,#f8f8ff 302px,#f8f8ff 307px)"></i><i style="top:566.05px;height:1.05px;background:linear-gradient(90deg,#f8f8ff 0,#fffcfc 181px,#ffeaea 185px,#ffdede 190px,#ffe1e1 194px,#ffd3d3 196px,#ffefef 199px,#ffd2d2 201px,#ffcfcf 203px,#ffbfbf 204px,#ffc3c3 205px,#ffa9a9 207px,#ffb9b9 208px,#ff9b9b 209px,#ffbfbf 210px,#f77 212px,#ff4242 215px,#e80000 216px,#cf0000 217px,#f80000 218px,#800000 219px,#8a0000 220px,#ff4949 221px,#ff7676 222px,#d20000 223px,#f40000 224px,#ff2828 225px,#e60000 226px,#9f0000 227px,#c90000 228px,#cb0000 229px,#fa0000 230px,#ff2626 231px,#ff0404 232px,#f00000 234px,#ff2d2d 235px,#ff1f1f 237px,#ff5151 239px,#ff4c4c 240px,#ff6060 241px,#ff6060 242px,#ffb9b9 244px,#ffcece 245px,#ff9191 246px,#ffa5a5 248px,#ffdada 250px,#fff0f0 251px,#ffe6e6 252px,#fff4f4 254px,#fff4f4 257px,#f7f7ff 266px,#f8f8ff 307px)"></i><i style="top:567.05px;height:1.05px;background:linear-gradient(90deg,#f8f8ff 0,#fffbfb 181px,#ffe9e9 185px,#fdd 190px,#ffe0e0 194px,#ffd2d2 196px,#fee 199px,#ffd1d1 201px,#ffcfcf 203px,#ffc0c0 204px,#ffc5c5 205px,#ffa9a9 207px,#ffb8b8 208px,#ff9b9b 209px,#ffbebe 210px,#ff7979 212px,#ff4b4b 215px,#ef0000 216px,#d70000 217px,#f00 218px,#850000 219px,#900 220px,#ff5454 221px,#ff7f7f 222px,#dc0000 223px,#fd0000 224px,#ff3434 225px,#f00000 226px,#ae0000 227px,#d10000 228px,#d20000 229px,#fe0000 230px,#ff2a2a 231px,#ff0909 232px,#f10000 234px,#ff2d2d 235px,#ff1c1c 237px,#ff4c4c 239px,#ff4949 240px,#ff6161 242px,#ffb9b9 244px,#ffcdcd 245px,#ff9090 246px,#ffa3a3 248px,#ffd9d9 250px,#fff0f0 251px,#ffe5e5 252px,#fff3f3 254px,#fff4f4 257px,#f8f8ff 265px,#f8f8ff 307px)"></i><i style="top:568.05px;height:1.05px;background:linear-gradient(90deg,#f8f8ff 0,#fff8f8 178px,#fffbfb 181px,#ffe9e9 185px,#ffdcdc 190px,#ffe0e0 194px,#ffd2d2 196px,#fee 199px,#ffd0d0 201px,#ffc7c7 205px,#faa 207px,#ffb8b8 208px,#ff9d9d 209px,#ffbfbf 210px,#ff7c7c 212px,#ff5454 215px,#f60000 216px,#e00000 217px,#ff0f0f 218px,#950000 219px,#a00 220px,#ff5f5f 221px,#f88 222px,#e60000 223px,#ff0c0c 224px,#ff3f3f 225px,#f80000 226px,#ba0000 227px,#d90000 228px,#d90000 229px,#ff0606 230px,#ff2f2f 231px,#ff0e0e 232px,#f30000 234px,#ff2d2d 235px,#ff1a1a 237px,#ff2929 238px,#ff4a4a 239px,#ff4747 240px,#ff6060 242px,#ffb9b9 244px,#ffcdcd 245px,#ff8f8f 246px,#ffa3a3 248px,#ffd9d9 250px,#fff0f0 251px,#ffe5e5 252px,#fff3f3 254px,#fff3f3 257px,#f9f9ff 265px,#f8f8ff 307px)"></i><i style="top:569.05px;height:1.05px;background:linear-gradient(90deg,#f8f8ff 0,#fff8f8 178px,#fffbfb 181px,#ffe8e8 185px,#ffdbdb 190px,#ffe0e0 194px,#ffd2d2 196px,#fee 199px,#ffd0d0 201px,#ffc9c9 205px,#ffacac 207px,#ffb8b8 208px,#ff9d9d 209px,#ffc0c0 210px,#ff7f7f 212px,#ff5c5c 215px,#fd0000 216px,#e70000 217px,#ff1c1c 218px,#a50000 219px,#b00 220px,#ff6b6b 221px,#ff9090 222px,#e00 223px,#ff1a1a 224px,#ff4a4a 225px,#ff0303 226px,#c50000 227px,#e10000 228px,#e10000 229px,#ff0d0d 230px,#ff3434 231px,#ff0404 233px,#f40000 234px,#ff3030 235px,#ff1919 237px,#ff2727 238px,#ff4949 239px,#ff4646 240px,#ff6161 242px,#ffb8b8 244px,#ffcdcd 245px,#ff8e8e 246px,#ffa2a2 248px,#ffd9d9 250px,#fff0f0 251px,#ffe5e5 252px,#fff3f3 254px,#fff3f3 257px,#f9f9ff 266px,#f8f8ff 307px)"></i><i style="top:570.05px;height:1.05px;background:linear-gradient(90deg,#f8f8ff 0,#fff8f8 178px,#fffbfb 181px,#ffe8e8 185px,#ffdbdb 190px,#ffe0e0 194px,#ffd2d2 196px,#fee 199px,#ffcfcf 201px,#ffcbcb 205px,#ffadad 207px,#ffb8b8 208px,#ff9e9e 209px,#ffc0c0 210px,#ff8181 212px,#ff6464 215px,#ff0a0a 216px,#e00 217px,#ff2727 218px,#b50000 219px,#ca0000 220px,#f77 221px,#f99 222px,#f60000 223px,#ff5252 225px,#ff1313 226px,#d00000 227px,#e70000 228px,#e70000 229px,#ff1313 230px,#ff3737 231px,#ff0808 233px,#f60000 234px,#ff3131 235px,#ff1b1b 237px,#ff2626 238px,#ff4848 239px,#ff4646 240px,#ff6262 242px,#ffb8b8 244px,#ffcdcd 245px,#ff8e8e 246px,#ffa2a2 248px,#ffd9d9 250px,#fff0f0 251px,#ffe5e5 252px,#fff3f3 254px,#fff3f3 257px,#f8f8ff 267px,#f8f8ff 307px)"></i><i style="top:571.05px;height:1.05px;background:linear-gradient(90deg,#f8f8ff 0,#fff8f8 178px,#fffbfb 181px,#ffe8e8 185px,#ffdbdb 190px,#ffe0e0 194px,#ffd3d3 196px,#fee 199px,#ffcfcf 201px,#ffcdcd 205px,#ffafaf 207px,#ffb9b9 208px,#ff9f9f 209px,#ffc1c1 210px,#ff8484 212px,#ff6c6c 215px,#ff1616 216px,#f40000 217px,#ff3030 218px,#c20000 219px,#d80000 220px,#ff8181 221px,#ffa0a0 222px,#fd0000 223px,#ff5a5a 225px,#ff2121 226px,#da0000 227px,#ed0000 228px,#eb0000 229px,#ff1919 230px,#ff3b3b 231px,#ff0b0b 233px,#f80000 234px,#ff3232 235px,#ff1c1c 237px,#ff2626 238px,#ff4848 239px,#ff4646 240px,#ff6363 242px,#ffb9b9 244px,#ffcdcd 245px,#ff8e8e 246px,#ffa2a2 248px,#ffd9d9 250px,#fff0f0 251px,#ffe5e5 252px,#fff3f3 254px,#fff3f3 257px,#f9f9ff 267px,#f8f8ff 307px)"></i><i style="top:572.05px;height:2.05px;background:linear-gradient(90deg,#f8f8ff 0,#fff8f8 178px,#fffbfb 181px,#ffe8e8 185px,#ffdbdb 190px,#ffe0e0 194px,#ffd4d4 196px,#fee 199px,#ffd0d0 201px,#ffd1d1 205px,#ffb2b2 207px,#fbb 208px,#ffa0a0 209px,#ffc3c3 210px,#f88 212px,#ff7171 214px,#ff7676 215px,#ff2727 216px,#fb0000 217px,#ff3c3c 218px,#d50000 219px,#eb0000 220px,#ff9090 221px,#ffa9a9 222px,#ff0c0c 223px,#ff6363 225px,#ff3232 226px,#e70000 227px,#f10000 229px,#ff4141 231px,#fb0000 234px,#ff3535 235px,#ff1f1f 237px,#ff2828 238px,#ff4a4a 239px,#ff4848 240px,#ff6767 242px,#ffbaba 244px,#ffcece 245px,#ff8f8f 246px,#ffa3a3 248px,#ffd9d9 250px,#fff0f0 251px,#ffe6e6 252px,#fff3f3 254px,#fff3f3 257px,#f8f8ff 268px,#f8f8ff 307px)"></i><i style="top:574.05px;height:2.05px;background:linear-gradient(90deg,#f8f8ff 0,#fff8f8 178px,#fffbfb 181px,#ffe9e9 185px,#fdd 190px,#ffe2e2 194px,#ffd6d6 196px,#ffefef 199px,#ffd1d1 201px,#ffd6d6 205px,#ffb7b7 207px,#ffbebe 208px,#ffa4a4 209px,#ffc5c5 210px,#ff8d8d 212px,#ff7878 214px,#ff8181 215px,#ff3939 216px,#ff0707 217px,#ff4747 218px,#e80000 219px,#fd0606 220px,#ff9f9f 221px,#ffb3b3 222px,#ff1a1a 223px,#ff6b6b 225px,#ff4242 226px,#f30000 227px,#f60000 229px,#ff4747 231px,#fe0000 234px,#ff3939 235px,#ff2626 237px,#ff2c2c 238px,#ff4e4e 239px,#ff4c4c 240px,#ff6c6c 242px,#ffbcbc 244px,#ffcfcf 245px,#ff9393 246px,#ffa6a6 248px,#fff1f1 251px,#ffe7e7 252px,#fff4f4 254px,#fff3f3 257px,#f8f8ff 270px,#f8f8ff 307px)"></i><i style="top:576.05px;height:1.05px;background:linear-gradient(90deg,#f8f8ff 0,#fffcfc 181px,#ffeaea 185px,#ffdede 190px,#ffdfdf 195px,#ffd8d8 196px,#fff0f0 199px,#ffd3d3 201px,#ffd9d9 205px,#ffbaba 207px,#ffc0c0 208px,#ffa7a7 209px,#ffc7c7 210px,#ff9191 212px,#ff7d7d 214px,#f88 215px,#ff0f0f 217px,#ff4d4d 218px,#f40000 219px,#ff1b1b 220px,#ffa8a8 221px,#ffb8b8 222px,#ff1f1f 223px,#ff6d6d 225px,#ff4a4a 226px,#f90000 227px,#f70000 229px,#ff4949 231px,#ff0303 234px,#ff3d3d 235px,#ff2b2b 237px,#ff3131 238px,#ff5353 239px,#ff5151 240px,#ff7171 242px,#ffbebe 244px,#ffd1d1 245px,#ff9696 246px,#ffa9a9 248px,#fff1f1 251px,#ffe8e8 252px,#fff4f4 254px,#fff4f4 257px,#f8f8ff 273px,#f8f8ff 307px)"></i><i style="top:577.05px;height:2.05px;background:linear-gradient(90deg,#f8f8ff 0,#fffcfc 181px,#ffe0e0 190px,#ffe1e1 195px,#ffe5e5 197px,#fff1f1 199px,#ffd5d5 201px,#ffdcdc 205px,#ffbebe 207px,#ffc3c3 208px,#faa 209px,#ffc9c9 210px,#ff9595 212px,#ff8181 214px,#ff8e8e 215px,#ff1616 217px,#ff5151 218px,#fc0000 219px,#ff2d2d 220px,#ffafaf 221px,#fbb 222px,#ff2020 223px,#ff6d6d 225px,#ff4d4d 226px,#fc0000 227px,#f70000 229px,#ff4949 231px,#ff0707 234px,#ff4141 235px,#ff3636 238px,#ff5858 239px,#ff5656 240px,#f77 242px,#ffc1c1 244px,#ffd3d3 245px,#ff9a9a 246px,#ffacac 248px,#fff2f2 251px,#ffe9e9 252px,#fee 255px,#fafaff 264px,#f8f8ff 307px)"></i><i style="top:579.05px;height:2.05px;background:linear-gradient(90deg,#f8f8ff 0,#fffdfd 181px,#ffe3e3 190px,#ffe3e3 195px,#ffe8e8 197px,#fff2f2 199px,#ffd8d8 202px,#ffe0e0 205px,#ffc3c3 207px,#ffc7c7 208px,#ffafaf 209px,#ffcdcd 210px,#ff8e8e 213px,#ff8787 214px,#ff9595 215px,#ff1d1d 217px,#f55 218px,#ff0909 219px,#ff3e3e 220px,#ffb4b4 221px,#ffbebe 222px,#ff1d1d 223px,#ff6969 225px,#ff4d4d 226px,#fd0000 227px,#f40000 229px,#ff4848 231px,#ff0b0b 234px,#ff4545 235px,#ff3f3f 238px,#ff6060 239px,#ff5f5f 240px,#ff8080 242px,#ffc5c5 244px,#ffd6d6 245px,#ffa0a0 246px,#ffb1b1 248px,#fff3f3 251px,#ffebeb 252px,#fafaff 264px,#f8f8ff 307px)"></i><i style="top:581.05px;height:3.05px;background:linear-gradient(90deg,#f8f8ff 0,#fffefe 181px,#ffe7e7 190px,#ffebeb 197px,#fff4f4 199px,#ffdcdc 202px,#ffe5e5 205px,#ffcaca 207px,#ffcdcd 208px,#ffb7b7 209px,#ffd2d2 210px,#ff9797 213px,#ff9090 214px,#ff9d9d 215px,#ff2727 217px,#ff5b5b 218px,#ff1818 219px,#ff4c4c 220px,#ffb9b9 221px,#ffbfbf 222px,#ff1919 223px,#ff6565 225px,#ff4b4b 226px,#fc0000 227px,#f10000 229px,#ff4747 231px,#ff1212 234px,#ff4d4d 235px,#ff4c4c 238px,#ff6c6c 239px,#ff6c6c 240px,#ff8c8c 242px,#ffcaca 244px,#ffdbdb 245px,#ffa9a9 246px,#ffb9b9 248px,#fff5f5 251px,#f8f8ff 285px,#f8f8ff 307px)"></i><i style="top:584.05px;height:2.05px;background:linear-gradient(90deg,#f8f8ff 0,#fff7f7 182px,#ffefef 191px,#ffefef 197px,#fff7f7 199px,#ffe1e1 202px,#ffe9e9 205px,#ffd1d1 207px,#ffd3d3 208px,#ffbfbf 209px,#ffd7d7 210px,#ffa1a1 213px,#ff9a9a 214px,#ffa7a7 215px,#ff3636 217px,#ff6565 218px,#ff2929 219px,#ff5b5b 220px,#ffbebe 221px,#ffc3c3 222px,#ff1f1f 223px,#ff6969 225px,#ff5050 226px,#ff0404 227px,#f50000 229px,#ff4e4e 231px,#ff2020 234px,#ff5959 235px,#ff5c5c 238px,#ff7a7a 239px,#ff8c8c 241px,#ffb5b5 243px,#ffdfdf 245px,#ffb3b3 246px,#ffc2c2 248px,#fff7f7 251px,#f8f8ff 307px)"></i><i style="top:586.05px;height:1.05px;background:linear-gradient(90deg,#f8f8ff 0,#fff8f8 184px,#fff1f1 191px,#fff1f1 197px,#fff8f8 199px,#ffe4e4 202px,#ffecec 205px,#ffc5c5 209px,#ffdbdb 210px,#ffa9a9 213px,#ffa2a2 214px,#ffaeae 215px,#f44 217px,#ff6f6f 218px,#ff3838 219px,#ff6868 220px,#ffc3c3 221px,#ffc7c7 222px,#ff2c2c 223px,#ff7171 225px,#ff5a5a 226px,#ff1212 227px,#fe0000 228px,#fc0000 229px,#ff3636 230px,#ff5959 231px,#ff2f2f 234px,#ff6565 235px,#ff6868 238px,#ff8484 239px,#ffa1a1 242px,#ffe2e2 245px,#ffbaba 246px,#ffc7c7 248px,#fff8f8 251px,#f8f8ff 307px)"></i><i style="top:587.05px;height:1.05px;background:linear-gradient(90deg,#f8f8ff 0,#fff8f8 186px,#fff2f2 197px,#fff9f9 199px,#ffe6e6 202px,#ffeded 205px,#ffc8c8 209px,#fdd 210px,#ffaeae 213px,#ffa8a8 214px,#ffb3b3 215px,#ff4f4f 217px,#ff7878 218px,#ff4545 219px,#ff7272 220px,#ffc7c7 221px,#ffcbcb 222px,#ff3939 223px,#ff7a7a 225px,#ff6464 226px,#ff2121 227px,#ff0a0a 229px,#ff4242 230px,#ff6363 231px,#ff3b3b 234px,#ff6e6e 235px,#ff7171 238px,#ff8c8c 239px,#ffa7a7 242px,#ffe4e4 245px,#ffbebe 246px,#ffcaca 248px,#fff9f9 251px,#f8f8ff 307px)"></i><i style="top:588.05px;height:1.05px;background:linear-gradient(90deg,#f8f8ff 0,#fff9f9 186px,#fff4f4 197px,#ffefef 200px,#ffefef 205px,#fcc 209px,#ffe0e0 210px,#ffb3b3 213px,#ffb8b8 215px,#ff5b5b 217px,#ff8282 218px,#ff5353 219px,#ff7d7d 220px,#fcc 221px,#ffcfcf 222px,#ff4747 223px,#ff8484 225px,#ff7171 226px,#ff3232 227px,#ff1d1d 229px,#ff5050 230px,#ff6f6f 231px,#ff4949 234px,#ff7878 235px,#ff7b7b 238px,#ff9393 239px,#ffadad 242px,#ffe6e6 245px,#ffc2c2 246px,#ffcece 248px,#fffafa 251px,#f8f8ff 307px)"></i><i style="top:589.05px;height:1.05px;background:linear-gradient(90deg,#f8f8ff 0,#fffafa 186px,#fff5f5 197px,#fff1f1 200px,#ffe6e6 206px,#ffd0d0 209px,#ffe2e2 210px,#ffb9b9 213px,#ffbebe 215px,#ff6868 217px,#ff8c8c 218px,#ff6161 219px,#f88 220px,#ffd1d1 221px,#ffd4d4 222px,#ff5858 223px,#ff8f8f 225px,#ff7e7e 226px,#ff4545 227px,#ff3131 229px,#ff6060 230px,#ff7b7b 231px,#ff5858 234px,#ff8383 235px,#ff8484 238px,#ff9b9b 239px,#ffb3b3 242px,#ffe8e8 245px,#ffc7c7 246px,#fee 250px,#fffcfc 254px,#f8f8ff 307px)"></i><i style="top:590.05px;height:1.05px;background:linear-gradient(90deg,#f8f8ff 0,#fff7f7 187px,#fff6f6 197px,#fff2f2 200px,#ffe8e8 206px,#ffd3d3 209px,#ffe5e5 210px,#ffbaba 214px,#ffc4c4 215px,#ff7575 217px,#ff9696 218px,#ff7070 219px,#ff9494 220px,#ffd6d6 221px,#ffd9d9 222px,#ff6969 223px,#ff9b9b 225px,#ff8c8c 226px,#ff5959 227px,#ff4646 229px,#f88 231px,#ff6767 234px,#ff8e8e 235px,#ff8e8e 238px,#ffa3a3 239px,#ffb8b8 242px,#ffeaea 245px,#ffcbcb 246px,#fff0f0 250px,#fffdfd 254px,#f8f8ff 307px)"></i><i style="top:591.05px;height:1.05px;background:linear-gradient(90deg,#f8f8ff 0,#fff6f6 188px,#fff4f4 200px,#ffeaea 206px,#ffd7d7 209px,#ffe7e7 210px,#ffc0c0 214px,#ffc9c9 215px,#ff8282 217px,#ffa1a1 218px,#ff7f7f 219px,#ffa0a0 220px,#ffdbdb 221px,#ffdede 222px,#ff7a7a 223px,#ffa7a7 225px,#ff9a9a 226px,#ff6c6c 227px,#ff5b5b 229px,#ff9696 231px,#ff7575 234px,#ff9898 235px,#ff9898 238px,#faa 239px,#ffbebe 242px,#ffecec 245px,#ffcfcf 246px,#fffcfc 251px,#f8f8ff 307px)"></i><i style="top:592.05px;height:1.05px;background:linear-gradient(90deg,#f8f8ff 0,#fff7f7 195px,#fff6f6 200px,#ffecec 206px,#ffdbdb 209px,#ffe9e9 210px,#ffc6c6 214px,#ffcece 215px,#ff8e8e 217px,#ffabab 218px,#ff8d8d 219px,#ffabab 220px,#ffe0e0 221px,#ffe2e2 222px,#ff8a8a 223px,#ffb3b3 225px,#ffa6a6 226px,#ff7e7e 227px,#ff6f6f 229px,#ffa2a2 231px,#ff8484 234px,#ffa3a3 235px,#ffa1a1 238px,#ffd4d4 243px,#fee 245px,#ffd3d3 246px,#fffdfd 251px,#f8f8ff 307px)"></i><i style="top:593.05px;height:1.05px;background:linear-gradient(90deg,#f8f8ff 0,#fff7f7 200px,#fee 206px,#ffdede 209px,#ffecec 210px,#ffcbcb 214px,#ffd4d4 215px,#ff9a9a 217px,#ffb4b4 218px,#f99 219px,#ffb5b5 220px,#ffe4e4 221px,#ffe6e6 222px,#f99 223px,#ffbdbd 225px,#ffb2b2 226px,#ff8f8f 227px,#ff8181 229px,#ffadad 231px,#ff9191 234px,#ffacac 235px,#ffa9a9 238px,#ffd8d8 243px,#fff0f0 245px,#ffd7d7 246px,#fffdfd 251px,#f8f8ff 307px)"></i><i style="top:594.05px;height:1.05px;background:linear-gradient(90deg,#f8f8ff 0,#fff9f9 200px,#ffecec 208px,#ffe2e2 209px,#fee 210px,#ffd1d1 214px,#ffd8d8 215px,#ffa5a5 217px,#ffbcbc 218px,#ffa5a5 219px,#ffe8e8 221px,#ffeaea 222px,#ffa6a6 223px,#ffc6c6 225px,#ffbdbd 226px,#ff9e9e 227px,#ff9191 229px,#ffb7b7 231px,#ff9d9d 234px,#ffb5b5 235px,#ffb2b2 238px,#ffdcdc 243px,#fff2f2 245px,#ffdbdb 246px,#fffbfb 252px,#f8f8ff 307px)"></i><i style="top:595.05px;height:1.05px;background:linear-gradient(90deg,#f8f8ff 0,#fffafa 205px,#ffe6e6 209px,#fff1f1 210px,#ffd6d6 214px,#fdd 215px,#ffafaf 217px,#ffc4c4 218px,#ffb0b0 219px,#ffebeb 221px,#ffeded 222px,#ffb2b2 223px,#ffcece 225px,#ffc6c6 226px,#ffa2a2 228px,#ff9f9f 229px,#ffc0c0 231px,#ffa8a8 234px,#ffbdbd 235px,#ffb9b9 238px,#ffdfdf 243px,#fff4f4 245px,#ffdede 246px,#fffcfc 252px,#f8f8ff 307px)"></i><i style="top:596.05px;height:2.05px;background:linear-gradient(90deg,#f8f8ff 0,#fff9f9 206px,#ffeded 211px,#ffe5e5 215px,#ffbfbf 217px,#ffd0d0 218px,#ffbfbf 219px,#fff0f0 221px,#fff2f2 222px,#ffc1c1 223px,#ffd8d8 225px,#ffb3b3 228px,#ffb1b1 229px,#fcc 231px,#ffb6b6 234px,#ffc8c8 235px,#ffcece 240px,#fff6f6 245px,#ffe4e4 246px,#fdfdff 253px,#f8f8ff 307px)"></i><i style="top:598.05px;height:1.05px;background:linear-gradient(90deg,#f8f8ff 0,#fdfdff 206px,#fee 215px,#ffd0d0 217px,#fdd 218px,#ffd0d0 219px,#fff5f5 221px,#fff6f6 222px,#ffcfcf 223px,#ffe1e1 225px,#ffc1c1 229px,#ffd6d6 231px,#ffc4c4 234px,#ffd1d1 236px,#ffe1e1 242px,#fff9f9 245px,#ffecec 247px,#fcfcff 253px,#f8f8ff 307px)"></i><i style="top:599.05px;height:1.05px;background:linear-gradient(90deg,#f8f8ff 0,#eef 194px,#f3f3ff 206px,#fff7f7 213px,#ffebeb 216px,#ffdfdf 217px,#ffe7e7 218px,#ffdcdc 219px,#fff9f9 222px,#ffdada 223px,#ffe3e3 226px,#fcc 229px,#fdd 231px,#ffcdcd 234px,#ffd9d9 236px,#ffefef 243px,#fffcfc 245px,#fff2f2 247px,#f9f9ff 254px,#f8f8ff 307px)"></i><i style="top:600.05px;height:1.05px;background:linear-gradient(90deg,#f8f8ff 0,#eef 187px,#e0e0ff 197px,#e8e8ff 199px,#dadaff 202px,#fff9f9 216px,#fff0f0 220px,#fffdfd 222px,#ffe5e5 223px,#ffeaea 226px,#ffd7d7 229px,#ffdfdf 232px,#ffd7d7 234px,#fff9f9 246px,#f0f0ff 270px,#f8f8ff 307px)"></i><i style="top:601.05px;height:1.05px;background:linear-gradient(90deg,#f8f8ff 0,#eef 184px,#ceceff 195px,#c4c4ff 196px,#ddf 199px,#bebeff 201px,#ddf 205px,#d7d7ff 209px,#e6e6ff 210px,#fdfdff 222px,#fff4f4 224px,#ffeaea 230px,#ffecec 238px,#fafaff 245px,#e4e4ff 261px,#f8f8ff 299px,#f8f8ff 307px)"></i><i style="top:602.05px;height:1.05px;background:linear-gradient(90deg,#f8f8ff 0,#f1f1ff 181px,#d3d3ff 188px,#c2c2ff 194px,#a8a8ff 196px,#ccf 198px,#ceceff 199px,#9f9fff 201px,#b6b6ff 204px,#ccf 205px,#bbf 207px,#c5c5ff 208px,#bdbdff 209px,#d7d7ff 210px,#d1d1ff 213px,#ddf 216px,#fff 225px,#fff2f2 234px,#f9f9ff 241px,#e6e6ff 249px,#e8e8ff 254px,#d9d9ff 257px,#d6d6ff 261px,#e5e5ff 265px,#dadaff 267px,#f1f1ff 279px,#f8f8ff 307px)"></i><i style="top:603.05px;height:1.05px;background:linear-gradient(90deg,#f8f8ff 0,#efefff 174px,#eef 181px,#ceceff 187px,#b8b8ff 190px,#b3b3ff 193px,#8686ff 196px,#b9b9ff 198px,#bdbdff 199px,#9090ff 200px,#7878ff 201px,#99f 204px,#b8b8ff 205px,#9d9dff 207px,#acacff 208px,#9e9eff 209px,#c5c5ff 210px,#b7b7ff 213px,#cfcfff 215px,#bcbcff 217px,#d3d3ff 218px,#e1e1ff 220px,#f3f3ff 222px,#f3f3ff 237px,#e8e8ff 244px,#eaeaff 245px,#cdcdff 247px,#e6e6ff 251px,#d9d9ff 252px,#ddf 254px,#c2c2ff 256px,#cdcdff 259px,#bcbcff 260px,#d5d5ff 263px,#dadaff 265px,#c8c8ff 266px,#dcdcff 271px,#ededff 279px,#f8f8ff 307px)"></i><i style="top:604.05px;height:1.05px;background:linear-gradient(90deg,#f8f8ff 0,#f1f1ff 173px,#ebebff 181px,#ceceff 185px,#d0d0ff 186px,#a4a4ff 189px,#aaf 192px,#7e7eff 195px,#6060ff 196px,#a5a5ff 198px,#a9a9ff 199px,#6e6eff 200px,#4e4eff 201px,#7979ff 204px,#a2a2ff 205px,#7d7dff 207px,#9090ff 208px,#7c7cff 209px,#b1b1ff 210px,#9696ff 212px,#a3a3ff 214px,#babaff 215px,#99f 217px,#bcbcff 218px,#b5b5ff 219px,#e9e9ff 221px,#ededff 222px,#d8d8ff 223px,#e9e9ff 226px,#e4e4ff 236px,#d3d3ff 243px,#dfdfff 245px,#b9b9ff 246px,#afafff 248px,#dcdcff 251px,#c9c9ff 252px,#d0d0ff 254px,#a8a8ff 256px,#b9b9ff 259px,#a0a0ff 260px,#aaf 261px,#c5c5ff 262px,#ccf 265px,#b3b3ff 266px,#c6c6ff 269px,#bfbfff 270px,#ddf 272px,#f1f1ff 278px,#f0f0ff 284px,#f8f8ff 307px)"></i><i style="top:605.05px;height:1.05px;background:linear-gradient(90deg,#f8f8ff 0,#efefff 173px,#dfdfff 179px,#e7e7ff 181px,#cdcdff 183px,#c6c6ff 186px,#8e8eff 189px,#9696ff 192px,#5f5fff 195px,#3a3aff 196px,#9090ff 198px,#9696ff 199px,#4b4bff 200px,#2323ff 201px,#5858ff 204px,#8b8bff 205px,#6969ff 206px,#5c5cff 207px,#7474ff 208px,#5959ff 209px,#9d9dff 210px,#7878ff 212px,#88f 214px,#a5a5ff 215px,#77f 217px,#a4a4ff 218px,#9a9aff 219px,#e2e2ff 221px,#e7e7ff 222px,#c5c5ff 223px,#ddf 226px,#ddf 230px,#cacaff 237px,#b8b8ff 242px,#d3d3ff 245px,#9c9cff 246px,#9090ff 248px,#d2d2ff 251px,#b7b7ff 252px,#c6c6ff 253px,#c1c1ff 254px,#9c9cff 255px,#8b8bff 256px,#a5a5ff 258px,#a3a3ff 259px,#8282ff 260px,#8f8fff 261px,#b4b4ff 262px,#bdbdff 265px,#9b9bff 266px,#9d9dff 267px,#b5b5ff 268px,#ababff 270px,#d4d4ff 272px,#dbdbff 276px,#efefff 278px,#e3e3ff 280px,#f3f3ff 288px,#f8f8ff 307px)"></i><i style="top:606.05px;height:1.05px;background:linear-gradient(90deg,#f8f8ff 0,#efefff 171px,#dadaff 179px,#e4e4ff 181px,#c5c5ff 183px,#bdbdff 186px,#7b7bff 189px,#8484ff 192px,#44f 195px,#1818ff 196px,#7d7dff 198px,#8484ff 199px,#2c2cff 200px,#0000fc 201px,#0e0eff 202px,#2f2fff 203px,#3a3aff 204px,#77f 205px,#4e4eff 206px,#3e3eff 207px,#5a5aff 208px,#3a3aff 209px,#8b8bff 210px,#5e5eff 212px,#7070ff 214px,#9393ff 215px,#5757ff 217px,#8f8fff 218px,#8181ff 219px,#dcdcff 221px,#e1e1ff 222px,#b4b4ff 223px,#d3d3ff 225px,#c4c4ff 229px,#d4d4ff 231px,#bebeff 234px,#c0c0ff 236px,#a2a2ff 242px,#c8c8ff 245px,#8181ff 246px,#7272ff 248px,#c8c8ff 251px,#a6a6ff 252px,#b9b9ff 253px,#b3b3ff 254px,#8484ff 255px,#6f6fff 256px,#9090ff 258px,#8e8eff 259px,#6464ff 260px,#7474ff 261px,#a3a3ff 262px,#afafff 265px,#8484ff 266px,#8787ff 267px,#a4a4ff 268px,#99f 270px,#cbcbff 272px,#c9c9ff 274px,#ececff 278px,#dedeff 280px,#f6f6ff 287px,#f8f8ff 307px)"></i><i style="top:607.05px;height:1.05px;background:linear-gradient(90deg,#f8f8ff 0,#eef 171px,#d7d7ff 179px,#e2e2ff 181px,#bebeff 183px,#b6b6ff 186px,#6c6cff 189px,#77f 192px,#2f2fff 195px,#0000fe 196px,#6f6fff 198px,#77f 199px,#1515ff 200px,#0000e8 201px,#0000f6 202px,#2424ff 204px,#6868ff 205px,#3939ff 206px,#2727ff 207px,#4747ff 208px,#2323ff 209px,#7d7dff 210px,#5a5aff 211px,#4a4aff 212px,#5e5eff 214px,#8585ff 215px,#3f3fff 217px,#7f7fff 218px,#6d6dff 219px,#d7d7ff 221px,#ddf 222px,#a6a6ff 223px,#cbcbff 225px,#b6b6ff 229px,#cbcbff 231px,#aeaeff 234px,#babaff 235px,#9c9cff 238px,#9090ff 242px,#bfbfff 245px,#6b6bff 246px,#5b5bff 248px,#bfbfff 251px,#9898ff 252px,#afafff 253px,#a7a7ff 254px,#7272ff 255px,#5959ff 256px,#8080ff 258px,#7d7dff 259px,#4d4dff 260px,#6060ff 261px,#9696ff 262px,#a4a4ff 265px,#7272ff 266px,#7676ff 267px,#9797ff 268px,#8a8aff 270px,#c4c4ff 272px,#c1c1ff 274px,#d7d7ff 277px,#eaeaff 278px,#dadaff 280px,#eaeaff 282px,#f2f2ff 288px,#f8f8ff 307px)"></i><i style="top:608.05px;height:2.05px;background:linear-gradient(90deg,#f8f8ff 0,#eef 171px,#d5d5ff 179px,#e0e0ff 181px,#bbf 183px,#b2b2ff 186px,#6565ff 189px,#7070ff 192px,#4747ff 194px,#0000f5 196px,#6868ff 198px,#7070ff 199px,#0909ff 200px,#0000de 201px,#0b0bff 203px,#1919ff 204px,#6060ff 205px,#2f2fff 206px,#1c1cff 207px,#3d3dff 208px,#1717ff 209px,#7676ff 210px,#5151ff 211px,#3f3fff 212px,#5454ff 214px,#7d7dff 215px,#3232ff 217px,#7575ff 218px,#6262ff 219px,#d4d4ff 221px,#dbdbff 222px,#9e9eff 223px,#c7c7ff 225px,#aeaeff 229px,#c5c5ff 231px,#a5a5ff 234px,#b2b2ff 235px,#9292ff 238px,#9797ff 239px,#8686ff 242px,#babaff 245px,#5f5fff 246px,#4e4eff 248px,#77f 249px,#8f8fff 250px,#bbf 251px,#9191ff 252px,#a9a9ff 253px,#a1a1ff 254px,#6868ff 255px,#4e4eff 256px,#77f 258px,#7474ff 259px,#4141ff 260px,#55f 261px,#8f8fff 262px,#9e9eff 265px,#6969ff 266px,#6d6dff 267px,#9090ff 268px,#8282ff 270px,#c1c1ff 272px,#b6b6ff 273px,#d4d4ff 277px,#e9e9ff 278px,#d8d8ff 280px,#e9e9ff 282px,#f1f1ff 288px,#f8f8ff 307px)"></i><i style="top:610.05px;height:1.05px;background:linear-gradient(90deg,#f8f8ff 0,#efefff 171px,#d7d7ff 179px,#e2e2ff 181px,#bfbfff 183px,#b6b6ff 186px,#6d6dff 189px,#7878ff 192px,#3131ff 195px,#0202ff 196px,#7171ff 198px,#7878ff 199px,#1717ff 200px,#0000ea 201px,#0000f8 202px,#2626ff 204px,#6969ff 205px,#3b3bff 206px,#2929ff 207px,#4949ff 208px,#2424ff 209px,#7e7eff 210px,#5b5bff 211px,#4b4bff 212px,#5d5dff 214px,#8484ff 215px,#3e3eff 217px,#7d7dff 218px,#6b6bff 219px,#d6d6ff 221px,#dcdcff 222px,#a4a4ff 223px,#cacaff 225px,#b3b3ff 229px,#c8c8ff 231px,#ababff 234px,#b7b7ff 235px,#9a9aff 238px,#8f8fff 242px,#bfbfff 245px,#6c6cff 246px,#5b5bff 248px,#c0c0ff 251px,#99f 252px,#b0b0ff 253px,#a8a8ff 254px,#7373ff 255px,#5b5bff 256px,#8181ff 258px,#7f7fff 259px,#5050ff 260px,#6262ff 261px,#9797ff 262px,#a5a5ff 265px,#7474ff 266px,#7878ff 267px,#99f 268px,#8b8bff 270px,#c5c5ff 272px,#c2c2ff 274px,#d7d7ff 277px,#ebebff 278px,#dadaff 280px,#eaeaff 282px,#f2f2ff 288px,#f8f8ff 307px)"></i><i style="top:611.05px;height:1.05px;background:linear-gradient(90deg,#f8f8ff 0,#eef 173px,#dbdbff 179px,#e5e5ff 181px,#c6c6ff 183px,#bebeff 186px,#7d7dff 189px,#8787ff 192px,#4848ff 195px,#1d1dff 196px,#8080ff 198px,#8686ff 199px,#3131ff 200px,#0202ff 201px,#33f 203px,#3e3eff 204px,#7a7aff 205px,#5151ff 206px,#4141ff 207px,#5d5dff 208px,#3d3dff 209px,#8c8cff 210px,#5f5fff 212px,#7070ff 214px,#9393ff 215px,#55f 217px,#8d8dff 218px,#7e7eff 219px,#dbdbff 221px,#e0e0ff 222px,#b0b0ff 223px,#d1d1ff 225px,#bfbfff 229px,#d1d1ff 231px,#b9b9ff 234px,#bcbcff 236px,#a0a0ff 242px,#c8c8ff 245px,#8181ff 246px,#7373ff 248px,#c8c8ff 251px,#a7a7ff 252px,#babaff 253px,#b4b4ff 254px,#8787ff 255px,#7272ff 256px,#9393ff 258px,#9090ff 259px,#6868ff 260px,#7878ff 261px,#a5a5ff 262px,#b1b1ff 265px,#88f 266px,#8a8aff 267px,#a7a7ff 268px,#9b9bff 270px,#cdcdff 272px,#cacaff 274px,#ededff 278px,#dfdfff 280px,#f6f6ff 287px,#f8f8ff 307px)"></i><i style="top:612.05px;height:1.05px;background:linear-gradient(90deg,#f8f8ff 0,#f0f0ff 173px,#e0e0ff 179px,#e8e8ff 181px,#cfcfff 183px,#c8c8ff 186px,#9292ff 189px,#9a9aff 192px,#6565ff 195px,#4242ff 196px,#9494ff 198px,#9a9aff 199px,#5252ff 200px,#2b2bff 201px,#5e5eff 204px,#8f8fff 205px,#6d6dff 206px,#6161ff 207px,#7878ff 208px,#5e5eff 209px,#9f9fff 210px,#7b7bff 212px,#8989ff 214px,#a6a6ff 215px,#7575ff 217px,#a2a2ff 218px,#9797ff 219px,#e1e1ff 221px,#e6e6ff 222px,#c1c1ff 223px,#dbdbff 225px,#cfcfff 229px,#d7d7ff 232px,#b6b6ff 242px,#d3d3ff 245px,#9d9dff 246px,#9191ff 248px,#d3d3ff 251px,#b9b9ff 252px,#c8c8ff 253px,#c3c3ff 254px,#9f9fff 255px,#8f8fff 256px,#a8a8ff 258px,#a7a7ff 259px,#8787ff 260px,#9393ff 261px,#b7b7ff 262px,#c0c0ff 265px,#a0a0ff 266px,#a2a2ff 267px,#b8b8ff 268px,#afafff 270px,#d6d6ff 272px,#dcdcff 276px,#efefff 278px,#e4e4ff 280px,#f4f4ff 288px,#f8f8ff 307px)"></i><i style="top:613.05px;height:1.05px;background:linear-gradient(90deg,#f8f8ff 0,#efefff 174px,#ececff 181px,#d2d2ff 185px,#c3c3ff 187px,#a9a9ff 190px,#afafff 192px,#8787ff 195px,#6c6cff 196px,#ababff 198px,#afafff 199px,#7878ff 200px,#5a5aff 201px,#8282ff 204px,#a8a8ff 205px,#8585ff 207px,#9797ff 208px,#8383ff 209px,#b5b5ff 210px,#9a9aff 212px,#a6a6ff 214px,#bcbcff 215px,#9a9aff 217px,#bbf 218px,#b4b4ff 219px,#e9e9ff 221px,#ececff 222px,#d4d4ff 223px,#e6e6ff 226px,#dadaff 237px,#d2d2ff 243px,#dfdfff 245px,#babaff 246px,#b1b1ff 248px,#dedeff 251px,#ccf 252px,#d2d2ff 254px,#adadff 256px,#bebeff 259px,#a7a7ff 260px,#c9c9ff 262px,#d0d0ff 265px,#b8b8ff 266px,#cacaff 269px,#c4c4ff 270px,#dfdfff 272px,#eaeaff 279px,#f8f8ff 303px,#f8f8ff 307px)"></i><i style="top:614.05px;height:1.05px;background:linear-gradient(90deg,#f8f8ff 0,#f0f0ff 176px,#e7e7ff 182px,#d4d4ff 187px,#c2c2ff 190px,#bdbdff 193px,#9696ff 196px,#c2c2ff 198px,#c5c5ff 199px,#8b8bff 201px,#a7a7ff 204px,#c1c1ff 205px,#aaf 207px,#b6b6ff 208px,#aaf 209px,#ccf 210px,#bfbfff 213px,#d3d3ff 215px,#c1c1ff 217px,#d6d6ff 218px,#e2e2ff 220px,#f3f3ff 222px,#f3f3ff 225px,#ebebff 239px,#ebebff 245px,#d1d1ff 247px,#e8e8ff 251px,#e1e1ff 254px,#c9c9ff 256px,#d3d3ff 259px,#c5c5ff 260px,#dadaff 263px,#dedeff 265px,#d0d0ff 267px,#ececff 276px,#f8f8ff 307px)"></i><i style="top:615.05px;height:1.05px;background:linear-gradient(90deg,#f8f8ff 0,#f5f5ff 181px,#cbcbff 195px,#c0c0ff 196px,#dbdbff 199px,#babaff 201px,#dadaff 205px,#d0d0ff 209px,#e2e2ff 210px,#e3e3ff 214px,#fffcfc 226px,#fffafa 236px,#ededff 250px,#e0e0ff 261px,#f8f8ff 292px,#f8f8ff 307px)"></i><i style="top:616.05px;height:1.05px;background:linear-gradient(90deg,#f8f8ff 0,#f5f5ff 187px,#efefff 198px,#ededff 204px,#fffcfc 215px,#ffe9e9 219px,#fffdfd 222px,#ffe6e6 223px,#ffecec 226px,#ffdbdb 229px,#ffe5e5 232px,#fff4f4 242px,#f8f8ff 251px,#f8f8ff 307px)"></i><i style="top:617.05px;height:1.05px;background:linear-gradient(90deg,#f8f8ff 0,#fff6f6 195px,#fff3f3 200px,#ffefef 206px,#ffe4e4 209px,#fff0f0 210px,#fdd 214px,#ffe4e4 215px,#ffc1c1 217px,#ffd3d3 218px,#ffc5c5 219px,#fff3f3 221px,#fff5f5 222px,#fcc 223px,#ffe0e0 225px,#ffc3c3 229px,#ffd9d9 231px,#ffc9c9 234px,#ffd6d6 236px,#ffecec 243px,#fff9f9 245px,#ffeaea 247px,#fff 254px,#f8f8ff 307px)"></i><i style="top:618.05px;height:1.05px;background:linear-gradient(90deg,#f9f9ff 0,#fff6f6 174px,#fffdfd 181px,#ffe2e2 190px,#ffd8d8 195px,#ffcece 196px,#ffe9e9 199px,#ffc4c4 201px,#ffcfcf 204px,#ffdfdf 205px,#ffc8c8 207px,#ffcece 208px,#ffbfbf 209px,#ffdada 210px,#ffbcbc 213px,#ffcaca 215px,#ff9494 217px,#ffb4b4 218px,#ff9f9f 219px,#ffe9e9 221px,#ffecec 222px,#ffafaf 223px,#ffcfcf 225px,#ffc8c8 226px,#ffa8a8 228px,#ffa7a7 229px,#ffc7c7 231px,#ffb0b0 234px,#ffc4c4 235px,#ffbfbf 238px,#ffdfdf 243px,#fff2f2 245px,#ffd9d9 246px,#fff0f0 250px,#fff9f9 254px,#fff6f6 258px,#f9f9ff 307px)"></i><i style="top:619.05px;height:1.05px;background:linear-gradient(90deg,#f9f9ff 0,#fff7f7 169px,#fee 179px,#fff8f8 181px,#ffe6e6 183px,#ffdbdb 187px,#ffcdcd 190px,#ffcdcd 193px,#faa 196px,#ffd4d4 198px,#ffd6d6 199px,#ff9a9a 201px,#ffaeae 204px,#ffc8c8 205px,#ffa5a5 207px,#ffb0b0 208px,#f99 209px,#ffc4c4 210px,#ff9c9c 212px,#ff9a9a 214px,#ffafaf 215px,#ff6363 217px,#ff9292 218px,#ff7676 219px,#ffa0a0 220px,#ffdede 221px,#ffe2e2 222px,#ff9090 223px,#ffbcbc 225px,#ffb4b4 226px,#ff9393 227px,#f88 229px,#ffb2b2 231px,#ff9696 234px,#ffafaf 235px,#ffa9a9 238px,#ffd2d2 243px,#ffebeb 245px,#ffc9c9 246px,#ffcdcd 248px,#fff6f6 251px,#ffe8e8 257px,#ffebeb 261px,#fff8f8 265px,#fff8f8 271px,#f9f9ff 307px)"></i><i style="top:620.05px;height:1.05px;background:linear-gradient(90deg,#f9f9ff 0,#fff8f8 165px,#ffe9e9 174px,#ffe6e6 179px,#fff3f3 181px,#ffdbdb 183px,#ffdbdb 186px,#ffb5b5 189px,#ffc1c1 192px,#ff9e9e 195px,#ff8686 196px,#ffc0c0 198px,#ffc3c3 199px,#ff8f8f 200px,#ff7171 201px,#ff8d8d 204px,#ffb1b1 205px,#ff8282 207px,#ff9191 208px,#ff7272 209px,#ffacac 210px,#f77 212px,#ff7676 214px,#ff9393 215px,#ff3030 217px,#ff6e6e 218px,#ff4a4a 219px,#ff8282 220px,#ffd2d2 221px,#ffd8d8 222px,#ff6f6f 223px,#ffa8a8 225px,#ff9e9e 226px,#ff7575 227px,#ff6868 229px,#ff9d9d 231px,#ff7979 234px,#f99 235px,#ff9191 238px,#ffa3a3 239px,#ffb1b1 242px,#ffe4e4 245px,#ffb9b9 246px,#ffbdbd 248px,#fff1f1 251px,#ffe5e5 252px,#ffeded 254px,#ffdada 256px,#ffe8e8 259px,#ffe2e2 261px,#fff3f3 265px,#ffe8e8 267px,#fffcfc 279px,#f9f9ff 307px)"></i><i style="top:621.05px;height:1.05px;background:linear-gradient(90deg,#f9f9ff 0,#fff9f9 164px,#fee 173px,#ffd9d9 177px,#ffdede 179px,#fee 181px,#ffd6d6 182px,#ffd0d0 186px,#ff9f9f 189px,#ffaeae 192px,#ff8282 195px,#ff6363 196px,#ffacac 198px,#ffb1b1 199px,#ff6e6e 200px,#ff4848 201px,#ff6c6c 204px,#ff9a9a 205px,#ff7373 206px,#ff5f5f 207px,#ff7272 208px,#ff4b4b 209px,#ff9595 210px,#ff5353 212px,#ff5252 214px,#ff7676 215px,#fd0000 217px,#ff4a4a 218px,#ff1e1e 219px,#ff6464 220px,#ffc6c6 221px,#ffcece 222px,#ff4e4e 223px,#ff9494 225px,#f88 226px,#ff5757 227px,#ff4848 229px,#f88 231px,#ff5d5d 234px,#ff8383 235px,#ff7979 238px,#ff8e8e 239px,#ff9f9f 242px,#fdd 245px,#ffa9a9 246px,#ffaeae 248px,#ffeded 251px,#ffdede 252px,#ffe8e8 254px,#ffd1d1 256px,#ffe1e1 259px,#ffd4d4 260px,#ffebeb 263px,#ffefef 265px,#ffe2e2 267px,#fdfdff 278px,#fafaff 307px)"></i><i style="top:622.05px;height:1.05px;background:linear-gradient(90deg,#fafaff 0,#fff7f7 164px,#ffe8e8 172px,#ffd1d1 177px,#ffd6d6 179px,#ffeaea 180px,#ffeaea 181px,#ffcdcd 182px,#ffc5c5 186px,#ff8b8b 189px,#ff9d9d 192px,#ff6868 195px,#ff4343 196px,#ff9b9b 198px,#ffa0a0 199px,#ff5050 200px,#f22 201px,#ff4e4e 204px,#ff8585 205px,#ff5656 206px,#ff3e3e 207px,#f55 208px,#ff2727 209px,#ff7f7f 210px,#ff3131 212px,#ff3030 214px,#ff5c5c 215px,#ff1515 216px,#e50000 217px,#ff2929 218px,#fa0000 219px,#ff4848 220px,#ffbcbc 221px,#ffc5c5 222px,#ff3131 223px,#ff8383 225px,#ff7676 226px,#ff3e3e 227px,#ff2d2d 229px,#ff5b5b 230px,#ff7676 231px,#ff4343 234px,#ff6f6f 235px,#ff6363 238px,#ff7b7b 239px,#ff8585 241px,#faa 243px,#ffd6d6 245px,#ff9a9a 246px,#ffa0a0 248px,#ffe9e9 251px,#ffd8d8 252px,#ffe3e3 254px,#ffc8c8 256px,#ffdbdb 259px,#fcc 260px,#ffe6e6 263px,#ffebeb 265px,#ffdcdc 267px,#ffecec 271px,#fff8f8 279px,#fafaff 307px)"></i><i style="top:623.05px;height:1.05px;background:linear-gradient(90deg,#fafaff 0,#fff9f9 162px,#ffe7e7 167px,#ffe6e6 173px,#ffcaca 177px,#ffd0d0 179px,#ffe7e7 180px,#ffe6e6 181px,#ffc5c5 182px,#ffbdbd 186px,#ff7a7a 189px,#ff8e8e 192px,#ff5252 195px,#ff2727 196px,#ff8c8c 198px,#ff9191 199px,#ff3737 200px,#ff0202 201px,#ff2e2e 203px,#ff3434 204px,#ff7373 205px,#ff3d3d 206px,#f22 207px,#ff3d3d 208px,#ff0808 209px,#ff6d6d 210px,#ff3737 211px,#ff1414 212px,#ff1414 214px,#ff4545 215px,#fa0000 216px,#d20000 217px,#ff0e0e 218px,#ea0000 219px,#f33 220px,#ffb4b4 221px,#ffbebe 222px,#ff1d1d 223px,#ff7878 225px,#ff6a6a 226px,#ff2e2e 227px,#ff1b1b 229px,#ff4d4d 230px,#ff6969 231px,#ff3030 234px,#ff5f5f 235px,#ff5151 238px,#ff6b6b 239px,#ff6767 240px,#ff8181 242px,#ffbfbf 244px,#ffd0d0 245px,#ff8c8c 246px,#ff9393 248px,#ffe5e5 251px,#ffd2d2 252px,#ffdfdf 254px,#ffc0c0 256px,#ffd6d6 259px,#ffc5c5 260px,#ffe2e2 262px,#ffe8e8 265px,#ffd6d6 266px,#ffe2e2 269px,#ffdcdc 270px,#fff2f2 272px,#fff 278px,#fffcfc 281px,#fafaff 307px)"></i><i style="top:624.05px;height:1.05px;background:linear-gradient(90deg,#fafaff 0,#fff8f8 162px,#ffe5e5 167px,#ffe4e4 173px,#ffc7c7 176px,#ffcbcb 179px,#ffe4e4 180px,#ffe4e4 181px,#ffbfbf 182px,#ffafaf 185px,#ffb6b6 186px,#ff6e6e 189px,#ff8484 192px,#ff4242 195px,#ff1414 196px,#ff8181 198px,#ff8787 199px,#ff2525 200px,#f50000 201px,#fc0000 202px,#ff1b1b 203px,#f22 204px,#f66 205px,#ff2c2c 206px,#ff0e0e 207px,#ff2b2b 208px,#f80000 209px,#ff6060 210px,#ff2525 211px,#f00 212px,#f00 214px,#ff3636 215px,#ef0000 216px,#c50000 217px,#fd0000 218px,#e10000 219px,#ff2727 220px,#ffb0b0 221px,#fbb 222px,#ff1616 223px,#ff4f4f 224px,#ff7676 225px,#ff6868 226px,#ff2c2c 227px,#ff1919 229px,#ff4a4a 230px,#f66 231px,#ff2828 234px,#ff5959 235px,#ff4646 238px,#ff6262 239px,#ff5c5c 240px,#f77 242px,#ffb9b9 244px,#fcc 245px,#ff8282 246px,#ff8a8a 248px,#ffe2e2 251px,#ffcdcd 252px,#ffdcdc 254px,#ffbaba 256px,#ffd1d1 259px,#ffbfbf 260px,#ffdfdf 262px,#ffe5e5 265px,#ffd2d2 266px,#ffdfdf 269px,#ffd9d9 270px,#fff0f0 272px,#fff 278px,#fff3f3 280px,#fbfbff 305px,#fafaff 307px)"></i><i style="top:625.05px;height:1.05px;background:linear-gradient(90deg,#fafaff 0,#fff8f8 162px,#ffe4e4 167px,#ffe2e2 173px,#ffc4c4 176px,#ffc9c9 179px,#ffe3e3 180px,#ffe2e2 181px,#ffbdbd 182px,#ffabab 185px,#ffb3b3 186px,#ff6868 189px,#ff7e7e 192px,#ff3a3a 195px,#ff0a0a 196px,#ff7b7b 198px,#ff8282 199px,#ff1b1b 200px,#ef0000 201px,#ff1818 204px,#ff6060 205px,#f22 206px,#ff0404 207px,#f22 208px,#f20000 209px,#ff5959 210px,#ff1b1b 211px,#f90000 212px,#fa0000 214px,#ff2f2f 215px,#eb0000 216px,#c00000 217px,#fb0000 218px,#e00000 219px,#ff2828 220px,#ffb1b1 221px,#ffbebe 222px,#ff2020 223px,#ff5959 224px,#ff8080 225px,#ff7474 226px,#ff3e3e 227px,#ff2b2b 229px,#ff5858 230px,#ff7171 231px,#ff3131 234px,#ff5e5e 235px,#ff4747 238px,#ff6161 239px,#ff5a5a 240px,#ff7272 242px,#ffb6b6 244px,#ffc9c9 245px,#ff7c7c 246px,#ff8383 248px,#ffe1e1 251px,#ffcaca 252px,#ffdbdb 253px,#ffd9d9 254px,#ffb6b6 256px,#ffcfcf 259px,#fbb 260px,#fdd 262px,#ffe3e3 265px,#ffcfcf 266px,#fdd 269px,#ffd7d7 270px,#ffefef 272px,#fff4f4 277px,#fffefe 278px,#fff3f3 280px,#fdfdff 301px,#fafaff 307px)"></i><i style="top:626.05px;height:1.05px;background:linear-gradient(90deg,#fafaff 0,#fff8f8 162px,#ffe4e4 167px,#ffe2e2 173px,#ffc4c4 176px,#ffc9c9 179px,#ffe3e3 180px,#ffe2e2 181px,#ffbdbd 182px,#ffacac 185px,#ffb3b3 186px,#ff6969 189px,#ff7e7e 192px,#ff3a3a 195px,#ff0a0a 196px,#ff7b7b 198px,#ff8282 199px,#ff1c1c 200px,#ef0000 201px,#ff1818 204px,#ff6060 205px,#f22 206px,#ff0303 207px,#f22 208px,#f20000 209px,#ff5959 210px,#ff1c1c 211px,#fa0000 212px,#fb0000 214px,#ff3131 215px,#e00 216px,#c50000 217px,#ff0303 218px,#e80000 219px,#ff3737 220px,#ffb9b9 221px,#ffc6c6 222px,#ff3f3f 223px,#ff7474 224px,#ff9797 225px,#ff9090 226px,#f66 227px,#ff5757 229px,#ff8b8b 231px,#ff4d4d 234px,#ff7272 235px,#f55 238px,#ff6b6b 239px,#ff6262 240px,#ff7575 242px,#ffb6b6 244px,#ffc9c9 245px,#ff7a7a 246px,#ff8080 248px,#ffe0e0 251px,#ffc9c9 252px,#ffdada 253px,#ffd8d8 254px,#ffb4b4 256px,#ffcdcd 259px,#ffb9b9 260px,#ffdbdb 262px,#ffe3e3 265px,#ffcece 266px,#ffdcdc 269px,#ffd6d6 270px,#fee 272px,#fff4f4 277px,#fffefe 278px,#fff2f2 280px,#fefeff 300px,#fafaff 307px)"></i><i style="top:627.05px;height:1.05px;background:linear-gradient(90deg,#fafaff 0,#fff8f8 162px,#ffe5e5 167px,#ffe4e4 173px,#ffc7c7 176px,#ffcbcb 179px,#ffe4e4 180px,#ffe4e4 181px,#ffc0c0 182px,#ffafaf 185px,#ffb6b6 186px,#ff6f6f 189px,#ff8484 192px,#ff4242 195px,#ff1414 196px,#ff8181 198px,#ff8787 199px,#ff2424 200px,#f50000 201px,#fc0000 202px,#ff1a1a 203px,#ff2121 204px,#f66 205px,#ff2b2b 206px,#ff0d0d 207px,#ff2a2a 208px,#f70000 209px,#ff5f5f 210px,#ff2424 211px,#f00 212px,#ff0404 214px,#ff3d3d 215px,#f70000 216px,#d30000 217px,#ff1a1a 218px,#f90000 219px,#f55 220px,#ffc6c6 221px,#ffd3d3 222px,#ff7272 223px,#ffbdbd 225px,#ffbcbc 226px,#ffa0a0 228px,#ff9c9c 229px,#ffb7b7 231px,#ff8080 234px,#ff9797 235px,#ff7373 238px,#ff8181 239px,#ff7575 240px,#ff8080 242px,#ffcaca 245px,#ff7c7c 246px,#ff8181 248px,#ffdfdf 251px,#ffc8c8 252px,#ffdada 253px,#ffd8d8 254px,#ffb3b3 256px,#ffcdcd 259px,#ffb9b9 260px,#ffdbdb 262px,#ffe3e3 265px,#ffcece 266px,#fdd 269px,#ffd6d6 270px,#fee 272px,#fff4f4 277px,#fffefe 278px,#fff3f3 280px,#fcfcff 302px,#fafaff 307px)"></i><i style="top:628.05px;height:1.05px;background:linear-gradient(90deg,#fafaff 0,#fff9f9 162px,#ffe7e7 167px,#ffe6e6 173px,#ffcbcb 176px,#ffcfcf 179px,#ffe6e6 180px,#ffe6e6 181px,#ffc4c4 182px,#ffbcbc 186px,#ff7979 189px,#ff8d8d 192px,#ff5050 195px,#ff2525 196px,#ff8a8a 198px,#ff9090 199px,#ff3434 200px,#fe0000 201px,#ff2a2a 203px,#ff3131 204px,#ff7171 205px,#ff3939 206px,#ff1d1d 207px,#ff3939 208px,#ff0303 209px,#ff6a6a 210px,#ff3434 211px,#ff1212 212px,#ff1919 214px,#ff4f4f 215px,#ff0c0c 216px,#e90000 217px,#ff3e3e 218px,#ff2727 219px,#ffd9d9 221px,#ffe6e6 222px,#ffb8b8 223px,#fff1f1 225px,#fff7f7 230px,#ffc7c7 234px,#ffbdbd 236px,#ff9f9f 238px,#ffa2a2 239px,#ff9292 241px,#ff9191 242px,#ffcece 245px,#ff8282 246px,#ff8585 248px,#ffe0e0 251px,#ffc9c9 252px,#ffdada 253px,#ffd8d8 254px,#ffb4b4 256px,#ffcdcd 259px,#ffbaba 260px,#ffdcdc 262px,#ffe3e3 265px,#ffcfcf 266px,#fdd 269px,#ffd7d7 270px,#ffefef 272px,#fff 278px,#fff3f3 280px,#fbfbff 304px,#fafaff 307px)"></i><i style="top:629.05px;height:1.05px;background:linear-gradient(90deg,#f9f9ff 0,#fff7f7 164px,#ffe7e7 172px,#ffcfcf 177px,#ffd4d4 179px,#ffe9e9 180px,#ffe9e9 181px,#ffcbcb 182px,#ffc3c3 186px,#ff8686 189px,#ff9898 192px,#ff6161 195px,#ff3a3a 196px,#ff9696 198px,#ff9b9b 199px,#ff4747 200px,#ff1717 201px,#ff3e3e 203px,#f44 204px,#ff7e7e 205px,#ff4c4c 206px,#ff3232 207px,#ff4b4b 208px,#ff1b1b 209px,#ff7878 210px,#ff4747 211px,#ff2a2a 212px,#f33 214px,#ff6565 215px,#ff0808 217px,#ff6868 218px,#ff6363 219px,#ffefef 221px,#fffdfd 222px,#bcbcff 226px,#9b9bff 227px,#9595ff 229px,#c6c6ff 231px,#fff9f9 236px,#ffaeae 241px,#ffa6a6 242px,#ffd2d2 245px,#ff8b8b 246px,#ff8a8a 248px,#ffe1e1 251px,#ffcbcb 252px,#ffdcdc 253px,#ffdada 254px,#ffb6b6 256px,#ffcfcf 259px,#fbb 260px,#fdd 262px,#ffe4e4 265px,#ffd0d0 266px,#ffdfdf 269px,#ffd8d8 270px,#fff0f0 272px,#fff 278px,#fffcfc 281px,#fafaff 307px)"></i><i style="top:630.05px;height:1.05px;background:linear-gradient(90deg,#f9f9ff 0,#fff8f8 164px,#ffecec 173px,#ffd5d5 177px,#ffdada 179px,#ffecec 180px,#ffecec 181px,#ffd1d1 182px,#ffcaca 186px,#ff9494 189px,#ffa4a4 192px,#ff7373 195px,#ff5050 196px,#ffa2a2 198px,#ffa6a6 199px,#ff5c5c 200px,#ff3030 201px,#ff5959 204px,#ff8c8c 205px,#ff5f5f 206px,#ff4848 207px,#ff5e5e 208px,#f33 209px,#ff8787 210px,#ff5c5c 211px,#ff4242 212px,#ff4e4e 214px,#ff7d7d 215px,#ff3e3e 217px,#ff9494 218px,#ffa3a3 219px,#ffe2e2 220px,#f7f7ff 221px,#e8e8ff 222px,#9292ff 223px,#8484ff 225px,#66f 226px,#2323ff 227px,#1313ff 228px,#1c1cff 229px,#5858ff 230px,#7d7dff 231px,#8f8fff 234px,#b8b8ff 235px,#f6f6ff 238px,#fff2f2 239px,#fbb 242px,#ffd7d7 245px,#ff9393 246px,#ff9090 248px,#ffe2e2 251px,#ffcdcd 252px,#fdd 253px,#ffdbdb 254px,#ffb9b9 256px,#ffd0d0 259px,#ffbebe 260px,#ffdede 262px,#ffe5e5 265px,#ffd2d2 266px,#ffe0e0 269px,#ffdada 270px,#fff1f1 272px,#fff 278px,#fffbfb 284px,#f9f9ff 307px)"></i><i style="top:631.05px;height:1.05px;background:linear-gradient(90deg,#f9f9ff 0,#fff7f7 165px,#ffefef 173px,#ffdbdb 177px,#ffdfdf 179px,#ffefef 181px,#ffd7d7 182px,#ffd1d1 186px,#ffa1a1 189px,#ffafaf 192px,#ff8484 195px,#ff6565 196px,#ffadad 198px,#ffb1b1 199px,#ff6f6f 200px,#ff4848 201px,#ff6b6b 204px,#f99 205px,#ff7171 206px,#ff5d5d 207px,#ff7070 208px,#ff4949 209px,#ff9595 210px,#ff5858 212px,#ff6767 214px,#ff9292 215px,#f77 216px,#ff7070 217px,#ffbdbd 218px,#ffdede 219px,#eaeaff 220px,#ceceff 222px,#2929ff 223px,#2e2eff 225px,#0303ff 226px,#0000ba 227px,#0000b0 228px,#0000bf 229px,#0303ff 230px,#3d3dff 231px,#3f3fff 233px,#4848ff 234px,#8585ff 235px,#cdcdff 238px,#ededff 239px,#fff5f5 240px,#fcc 242px,#ffdbdb 245px,#ff9a9a 246px,#ff9494 248px,#ffe3e3 251px,#ffcece 252px,#ffdcdc 254px,#fbb 256px,#ffd2d2 259px,#ffc0c0 260px,#ffdfdf 262px,#ffe6e6 265px,#ffd4d4 266px,#ffe2e2 269px,#ffdcdc 270px,#fff2f2 272px,#fff8f8 279px,#f9f9ff 307px)"></i><i style="top:632.05px;height:1.05px;background:linear-gradient(90deg,#f9f9ff 0,#fff9f9 165px,#ffe7e7 174px,#ffe3e3 179px,#fff2f2 181px,#ffd7d7 183px,#ffd7d7 186px,#ffacac 189px,#ffb9b9 192px,#ff9292 195px,#ff7676 196px,#ffb6b6 198px,#ffbaba 199px,#ff7f7f 200px,#ff5c5c 201px,#ff7b7b 204px,#ffa4a4 205px,#ff6d6d 207px,#ff7f7f 208px,#ff5c5c 209px,#ffa0a0 210px,#ff6b6b 212px,#ff7b7b 214px,#ffa4a4 215px,#ff9292 216px,#ff9898 217px,#fdd 218px,#f0f0ff 219px,#c0c0ff 220px,#cacaff 221px,#b6b6ff 222px,#0000d5 223px,#0000e2 225px,#00b 226px,#00005f 227px,#00005b 228px,#007 229px,#0000d3 230px,#0d0dff 231px,#1313ff 233px,#1d1dff 234px,#6868ff 235px,#b8b8ff 238px,#fbfbff 240px,#ffd4d4 242px,#fdd 245px,#ff9e9e 246px,#ff9797 248px,#ffe4e4 251px,#ffd0d0 252px,#fdd 254px,#ffbcbc 256px,#ffd3d3 259px,#ffc1c1 260px,#ffe0e0 262px,#ffe7e7 265px,#ffd5d5 266px,#ffe3e3 269px,#ffeaea 271px,#fff9f9 279px,#f9f9ff 307px)"></i><i style="top:633.05px;height:1.05px;background:linear-gradient(90deg,#f9f9ff 0,#fffafa 165px,#ffe7e7 175px,#ffe6e6 179px,#fff4f4 181px,#ffdbdb 183px,#ffdbdb 186px,#ffb4b4 189px,#ffc0c0 192px,#ff9c9c 195px,#ff8383 196px,#ffbdbd 198px,#ffc1c1 199px,#ff8a8a 200px,#ff6a6a 201px,#ff8686 204px,#ffacac 205px,#ff7979 207px,#ff8989 208px,#ff6969 209px,#ffa8a8 210px,#ff7878 212px,#ff8989 214px,#ffafaf 215px,#ffa4a4 216px,#ffb2b2 217px,#fff3f3 218px,#a5a5ff 220px,#bcbcff 221px,#a5a5ff 222px,#0000a2 223px,#0000b5 225px,#00004c 227px,#00004c 229px,#0000ba 230px,#0000f9 231px,#1515ff 234px,#6565ff 235px,#bbf 238px,#fff 240px,#ffd2d2 242px,#fdd 245px,#ff9e9e 246px,#ff9898 248px,#ffe4e4 251px,#ffd0d0 252px,#fdd 254px,#ffbdbd 256px,#ffd3d3 259px,#ffc2c2 260px,#ffe1e1 262px,#ffe8e8 265px,#ffd6d6 266px,#ffe4e4 269px,#ffeaea 271px,#fff9f9 279px,#f9f9ff 307px)"></i><i style="top:634.05px;height:1.05px;background:linear-gradient(90deg,#f9f9ff 0,#fff9f9 168px,#ffe9e9 179px,#fff5f5 181px,#ffdede 183px,#ffdede 186px,#ffbaba 189px,#ffc4c4 192px,#ffa3a3 195px,#ff8b8b 196px,#ffc2c2 198px,#ffc5c5 199px,#ff9292 200px,#ff7373 201px,#ff8d8d 204px,#ffb1b1 205px,#ff8181 207px,#ff9090 208px,#ff7171 209px,#ffadad 210px,#ff7f7f 212px,#ff9090 214px,#ffb5b5 215px,#ffacac 216px,#ffbdbd 217px,#fffbfb 218px,#9e9eff 220px,#b8b8ff 221px,#a2a2ff 222px,#000098 223px,#0000ad 225px,#00004c 227px,#00004c 229px,#0000bd 230px,#0000fe 231px,#1919ff 233px,#2e2eff 234px,#7b7bff 235px,#f5f5ff 239px,#ffc7c7 242px,#ffdbdb 245px,#ff9b9b 246px,#ff9696 248px,#ffe4e4 251px,#ffd0d0 252px,#fdd 254px,#ffbcbc 256px,#ffd3d3 259px,#ffc2c2 260px,#ffe1e1 262px,#ffe8e8 265px,#ffd6d6 266px,#ffe4e4 269px,#ffebeb 271px,#fffafa 279px,#f9f9ff 307px)"></i><i style="top:635.05px;height:1.05px;background:linear-gradient(90deg,#f8f8ff 0,#fff6f6 169px,#ffeaea 179px,#fff6f6 181px,#ffe0e0 183px,#ffe0e0 186px,#ffbdbd 189px,#ffc7c7 192px,#ffa6a6 195px,#ff8f8f 196px,#ffc4c4 198px,#ffc7c7 199px,#ff9595 200px,#ff7878 201px,#ff9191 204px,#ffb3b3 205px,#ff8484 207px,#ff9393 208px,#ff7575 209px,#ffafaf 210px,#ff8181 212px,#ff9292 214px,#ffb5b5 215px,#ffabab 216px,#ffb9b9 217px,#fff6f6 218px,#a9a9ff 220px,#c0c0ff 221px,#acacff 222px,#0000b9 223px,#0000ce 225px,#0000a6 226px,#00004c 227px,#00004c 228px,#000074 229px,#0000da 230px,#2121ff 231px,#4545ff 233px,#6060ff 234px,#a3a3ff 235px,#fcfcff 238px,#ffc2c2 241px,#ffb7b7 242px,#ffd7d7 245px,#ff9595 246px,#ff9393 248px,#ffe3e3 251px,#ffcece 252px,#ffdcdc 254px,#fbb 256px,#ffd2d2 259px,#ffc1c1 260px,#ffe0e0 262px,#ffe7e7 265px,#ffd6d6 266px,#ffe4e4 269px,#ffebeb 271px,#fffafa 279px,#f9f9ff 307px)"></i><i style="top:636.05px;height:1.05px;background:linear-gradient(90deg,#f8f8ff 0,#fff7f7 169px,#ffeaea 179px,#fff6f6 181px,#ffe0e0 183px,#ffe0e0 186px,#ffbebe 189px,#ffc7c7 192px,#ffa7a7 195px,#ff9090 196px,#ffc5c5 198px,#ffc7c7 199px,#ff9696 200px,#ff7979 201px,#ff9191 204px,#ffb4b4 205px,#ff8484 207px,#ff9393 208px,#ff7474 209px,#ffaeae 210px,#ff8080 212px,#ff8e8e 214px,#ffb1b1 215px,#ffa2a2 216px,#ffa9a9 217px,#ffe5e5 218px,#ededff 219px,#c4c4ff 220px,#cfcfff 221px,#bfbfff 222px,#0000f5 223px,#0909ff 225px,#0000e6 226px,#00009d 227px,#00009c 228px,#0000b9 229px,#0f0fff 230px,#55f 231px,#8181ff 233px,#a1a1ff 234px,#d3d3ff 235px,#f1f1ff 236px,#fff0f0 237px,#ffb3b3 240px,#ffa4a4 242px,#ffd3d3 245px,#ff8e8e 246px,#ff8e8e 248px,#ffe2e2 251px,#ffcdcd 252px,#fdd 253px,#ffdbdb 254px,#ffb9b9 256px,#ffd1d1 259px,#ffbfbf 260px,#ffdfdf 262px,#ffe7e7 265px,#ffd5d5 266px,#ffe3e3 269px,#ffeaea 271px,#fffafa 279px,#f8f8ff 307px)"></i><i style="top:637.05px;height:1.05px;background:linear-gradient(90deg,#f8f8ff 0,#fff7f7 169px,#ffeaea 179px,#fff6f6 181px,#ffe0e0 183px,#ffe0e0 186px,#ffbdbd 189px,#ffc7c7 192px,#ffa6a6 195px,#ff8f8f 196px,#ffc4c4 198px,#ffc7c7 199px,#ff9595 200px,#f77 201px,#ff9090 204px,#ffb3b3 205px,#ff8282 207px,#ff9191 208px,#ff7272 209px,#ffacac 210px,#ff7b7b 212px,#ff8686 214px,#ffa9a9 215px,#ff8f8f 217px,#ffcece 218px,#ffebeb 219px,#e7e7ff 220px,#d4d4ff 222px,#4f4fff 223px,#5a5aff 225px,#3c3cff 226px,#0000f6 227px,#0c0cff 229px,#5c5cff 230px,#9191ff 231px,#fff9f9 235px,#ffabab 238px,#ff9494 241px,#ff9393 242px,#ffcfcf 245px,#ff8686 246px,#f88 248px,#ffe1e1 251px,#ffcbcb 252px,#ffdbdb 253px,#ffd9d9 254px,#ffb6b6 256px,#ffcfcf 259px,#ffbdbd 260px,#ffdede 262px,#ffe6e6 265px,#ffd4d4 266px,#ffe2e2 269px,#ffeaea 271px,#fffafa 279px,#f8f8ff 307px)"></i><i style="top:638.05px;height:1.05px;background:linear-gradient(90deg,#f8f8ff 0,#fff7f7 169px,#ffeaea 179px,#fff5f5 181px,#ffdfdf 183px,#ffdfdf 186px,#ffbcbc 189px,#ffc5c5 192px,#ffa4a4 195px,#ff8c8c 196px,#ffc2c2 198px,#ffc5c5 199px,#ff9292 200px,#ff7474 201px,#ff8d8d 204px,#ffb1b1 205px,#ff7f7f 207px,#ff8e8e 208px,#ff6d6d 209px,#faa 210px,#ff7575 212px,#ff7d7d 214px,#ff9f9f 215px,#ff7171 217px,#ffb2b2 218px,#ffc0c0 219px,#fff0f0 220px,#eaeaff 222px,#a6a6ff 223px,#a1a1ff 225px,#8e8eff 226px,#6464ff 227px,#6363ff 228px,#77f 229px,#cdcdff 231px,#fffcfc 233px,#ffd9d9 234px,#ff8686 238px,#ff8b8b 239px,#ff7c7c 240px,#ff8383 242px,#ffcbcb 245px,#ff7e7e 246px,#ff8282 248px,#ffe0e0 251px,#ffc9c9 252px,#ffdada 253px,#ffd8d8 254px,#ffb4b4 256px,#ffcece 259px,#ffbaba 260px,#fdd 262px,#ffe5e5 265px,#ffd2d2 266px,#ffe1e1 269px,#ffdcdc 270px,#fff2f2 272px,#fcfcff 292px,#f8f8ff 307px)"></i><i style="top:639.05px;height:1.05px;background:linear-gradient(90deg,#f8f8ff 0,#fff6f6 169px,#ffe9e9 179px,#fff5f5 181px,#ffdfdf 183px,#ffdede 186px,#ffbaba 189px,#ffc4c4 192px,#ffa1a1 195px,#ff8989 196px,#ffc1c1 198px,#ffc3c3 199px,#ff8f8f 200px,#ff7070 201px,#ff8989 204px,#ffaeae 205px,#ff7b7b 207px,#ff8a8a 208px,#ff6868 209px,#ffa6a6 210px,#ff6e6e 212px,#ff7272 214px,#ff9494 215px,#ff5151 217px,#ff9595 218px,#ff9292 219px,#fff6f6 221px,#fefeff 222px,#c6c6ff 227px,#dbdbff 229px,#f3f3ff 230px,#fff7f7 231px,#ff9e9e 234px,#ffa1a1 235px,#ff6565 238px,#ff7373 239px,#f66 240px,#ff7474 242px,#ffb4b4 244px,#ffc7c7 245px,#ff7575 246px,#ff7b7b 248px,#ffa4a4 249px,#ffdede 251px,#ffc6c6 252px,#ffd8d8 253px,#ffd6d6 254px,#ffbaba 255px,#ffb1b1 256px,#fcc 259px,#ffb8b8 260px,#ffdbdb 262px,#ffe4e4 265px,#ffd0d0 266px,#ffe0e0 269px,#ffdbdb 270px,#fff2f2 272px,#fefeff 285px,#f8f8ff 307px)"></i><i style="top:640.05px;height:1.05px;background:linear-gradient(90deg,#f8f8ff 0,#fff6f6 169px,#ffe8e8 179px,#fff5f5 181px,#fdd 183px,#fdd 186px,#ffb8b8 189px,#ffc2c2 192px,#ff9e9e 195px,#ff8686 196px,#ffbfbf 198px,#ffc2c2 199px,#ff8b8b 200px,#ff6b6b 201px,#ff8686 204px,#ffabab 205px,#ff7676 207px,#ff8686 208px,#ff6363 209px,#ffa3a3 210px,#ff6767 212px,#ff6767 214px,#ff8989 215px,#ff2f2f 217px,#f77 218px,#ff6464 219px,#ffe3e3 221px,#ffecec 222px,#ffc2c2 223px,#ffeaea 225px,#ffd3d3 228px,#ffc0c0 231px,#ff6565 234px,#ff7979 235px,#ff4545 238px,#ff5959 239px,#ff4d4d 240px,#ff6262 242px,#ffacac 244px,#ffc0c0 245px,#ff6868 246px,#ff7070 248px,#ff9e9e 249px,#ffdcdc 251px,#ffc3c3 252px,#ffd6d6 253px,#ffd4d4 254px,#ffb7b7 255px,#ffaeae 256px,#ffcaca 259px,#ffb5b5 260px,#ffdada 262px,#ffe3e3 265px,#ffcfcf 266px,#ffdfdf 269px,#ffdada 270px,#fff1f1 272px,#fefeff 285px,#f8f8ff 307px)"></i><i style="top:641.05px;height:1.05px;background:linear-gradient(90deg,#f8f8ff 0,#fff6f6 169px,#ffe8e8 179px,#fff4f4 181px,#ffdcdc 183px,#ffdcdc 186px,#ffb6b6 189px,#ffc0c0 192px,#ff9c9c 195px,#ff8282 196px,#ffbdbd 198px,#ffc0c0 199px,#f88 200px,#ff6767 201px,#ff8282 204px,#ffa9a9 205px,#ff7272 207px,#ff8282 208px,#ff5e5e 209px,#ff9f9f 210px,#ff5f5f 212px,#ff5c5c 214px,#ff7d7d 215px,#ff0b0b 217px,#ff5656 218px,#ff3232 219px,#ff7676 220px,#ffd0d0 221px,#ffd8d8 222px,#f77 223px,#ffb3b3 225px,#faa 226px,#ff8383 227px,#ff6363 229px,#ff8484 231px,#f22 234px,#ff4949 235px,#ff1717 238px,#ff3434 239px,#ff2828 240px,#f44 242px,#ff9d9d 244px,#ffb6b6 245px,#ff5151 246px,#ff5f5f 248px,#ff9393 249px,#ffd8d8 251px,#ffbfbf 252px,#ffd4d4 253px,#ffd2d2 254px,#ffb4b4 255px,#ffabab 256px,#ffc8c8 259px,#ffb3b3 260px,#ffd9d9 262px,#ffe2e2 265px,#ffcdcd 266px,#ffdede 269px,#ffd8d8 270px,#fff1f1 272px,#fff8f8 279px,#f8f8ff 307px)"></i><i style="top:642.05px;height:1.05px;background:linear-gradient(90deg,#f8f8ff 0,#fff9f9 168px,#ffe7e7 179px,#fff4f4 181px,#ffdcdc 183px,#ffdbdb 186px,#ffb4b4 189px,#ffbfbf 192px,#f99 195px,#ff7f7f 196px,#fbb 198px,#ffbebe 199px,#ff8585 200px,#ff6363 201px,#ff7e7e 204px,#ffa5a5 205px,#ff6d6d 207px,#ff7d7d 208px,#ff5858 209px,#ff9c9c 210px,#ff5858 212px,#ff4e4e 214px,#ff6f6f 215px,#ff2828 216px,#ed0000 217px,#ff2d2d 218px,#f80000 219px,#ff4040 220px,#ffb7b7 221px,#ffbfbf 222px,#ff1a1a 223px,#ff6f6f 225px,#ff5b5b 226px,#ff1212 227px,#fa0000 228px,#f20000 229px,#ff3434 231px,#ff0909 232px,#de0000 234px,#fd0000 235px,#e20000 238px,#f60000 239px,#ef0000 240px,#ff0808 242px,#ff7f7f 244px,#ffa0a0 245px,#ff2424 246px,#ff3d3d 248px,#ff7f7f 249px,#ffd3d3 251px,#ffb8b8 252px,#ffd0d0 253px,#ffcfcf 254px,#ffb1b1 255px,#ffa7a7 256px,#ffc5c5 258px,#ffc7c7 259px,#ffb1b1 260px,#ffd8d8 262px,#ffe1e1 265px,#fcc 266px,#fdd 269px,#ffd7d7 270px,#fff0f0 272px,#fff8f8 279px,#f8f8ff 307px)"></i><i style="top:643.05px;height:1.05px;background:linear-gradient(90deg,#f8f8ff 0,#fff8f8 168px,#ffe7e7 179px,#fff3f3 181px,#ffdbdb 183px,#ffdada 186px,#ffb2b2 189px,#ffbdbd 192px,#ff9898 195px,#ff7d7d 196px,#ffb9b9 198px,#ffbcbc 199px,#ff8282 200px,#ff5e5e 201px,#ff7878 204px,#ffa1a1 205px,#ff7a7a 206px,#f66 207px,#f77 208px,#ff5151 209px,#ff9797 210px,#ff4e4e 212px,#ff3b3b 214px,#ff5a5a 215px,#f00 216px,#ca0000 217px,#f50000 218px,#c70000 219px,#f60000 220px,#ff9191 221px,#f99 222px,#c80000 223px,#ff0d0d 225px,#f40000 226px,#b60000 227px,#960000 229px,#c20000 230px,#db0000 231px,#890000 234px,#b00 235px,#970000 238px,#b50000 239px,#ab0000 240px,#c90000 242px,#f30000 243px,#ff7575 245px,#e40000 246px,#fc0000 248px,#ff5858 249px,#ffc9c9 251px,#ffadad 252px,#ffcaca 253px,#ffcbcb 254px,#ffacac 255px,#ffa4a4 256px,#ffc4c4 258px,#ffc5c5 259px,#ffafaf 260px,#ffd7d7 262px,#ffe0e0 265px,#ffcbcb 266px,#fdd 269px,#ffd7d7 270px,#fff0f0 272px,#fff8f8 279px,#f8f8ff 307px)"></i><i style="top:644.05px;height:1.05px;background:linear-gradient(90deg,#f8f8ff 0,#fff8f8 168px,#ffe6e6 179px,#fff3f3 181px,#ffdada 183px,#ffdada 186px,#ffb1b1 189px,#ffbcbc 192px,#ff9696 195px,#ff7b7b 196px,#ffb8b8 198px,#ffbaba 199px,#ff7d7d 200px,#ff5656 201px,#ff6b6b 204px,#ff9898 205px,#ff6d6d 206px,#ff5858 207px,#ff6c6c 208px,#ff4545 209px,#ff9090 210px,#ff4040 212px,#ff2020 214px,#ff3a3a 215px,#de0000 216px,#910000 217px,#c10000 218px,#800000 219px,#b60000 220px,#ff5858 221px,#ff6262 222px,#800000 223px,#c20000 225px,#800000 227px,#800000 242px,#ab0000 243px,#f00000 244px,#ff2d2d 245px,#960000 246px,#c10000 248px,#ff1313 249px,#ffb8b8 251px,#ff9a9a 252px,#ffc1c1 253px,#ffc5c5 254px,#ffa6a6 255px,#ff9f9f 256px,#ffc2c2 258px,#ffc4c4 259px,#ffaeae 260px,#ffd7d7 262px,#ffe0e0 265px,#ffcaca 266px,#ffdcdc 269px,#ffd6d6 270px,#ffefef 272px,#fff8f8 279px,#f8f8ff 307px)"></i><i style="top:645.05px;height:1.05px;background:linear-gradient(90deg,#f8f8ff 0,#fff8f8 168px,#ffe6e6 179px,#fff3f3 181px,#ffdada 183px,#ffdada 186px,#ffb1b1 189px,#ffbcbc 192px,#ff9595 195px,#ff7979 196px,#ffb6b6 198px,#ffb7b7 199px,#ff7474 200px,#ff4545 201px,#ff4f4f 204px,#ff8181 205px,#ff4f4f 206px,#ff3737 207px,#ff5353 208px,#ff2a2a 209px,#ff8383 210px,#ff2b2b 212px,#f90000 214px,#ff0707 215px,#ac0000 216px,#800000 217px,#800000 220px,#ff1313 221px,#ff2323 222px,#800000 223px,#800000 243px,#e90000 245px,#800000 246px,#800000 248px,#d30000 249px,#ff1f1f 250px,#ff9d9d 251px,#ff7a7a 252px,#ffb2b2 253px,#fbb 254px,#ff9d9d 255px,#ff9a9a 256px,#ffc1c1 258px,#ffc3c3 259px,#ffadad 260px,#ffd6d6 262px,#ffe0e0 265px,#ffcaca 266px,#ffdcdc 269px,#ffd6d6 270px,#ffefef 272px,#fff8f8 279px,#f8f8ff 307px)"></i><i style="top:646.05px;height:1.05px;background:linear-gradient(90deg,#f8f8ff 0,#fff8f8 168px,#ffe6e6 179px,#fff3f3 181px,#ffdada 183px,#ffd9d9 186px,#ffb1b1 189px,#ffbcbc 192px,#ff9494 195px,#f77 196px,#ffb2b2 198px,#ffb1b1 199px,#ff1e1e 201px,#ff1010 202px,#ff0909 204px,#ff4d4d 205px,#ff0606 206px,#f40000 207px,#ff1818 208px,#f60000 209px,#ff6767 210px,#ff0707 212px,#d90000 214px,#de0000 215px,#800000 216px,#800000 220px,#eb0000 221px,#f70000 222px,#800000 223px,#800000 243px,#8a0000 244px,#c40000 245px,#800000 246px,#800000 248px,#920000 249px,#e20000 250px,#ff7575 251px,#ff4c4c 252px,#ff9c9c 253px,#ffadad 254px,#ff9191 255px,#ff9292 256px,#ffc0c0 258px,#ffc3c3 259px,#ffadad 260px,#ffd6d6 262px,#ffe0e0 265px,#ffcaca 266px,#ffdcdc 269px,#ffd6d6 270px,#ffefef 272px,#fff8f8 279px,#f8f8ff 307px)"></i><i style="top:647.05px;height:1.05px;background:linear-gradient(90deg,#f8f8ff 0,#fff8f8 168px,#ffe6e6 179px,#fff3f3 181px,#ffdada 183px,#ffdada 186px,#ffb1b1 189px,#ffbcbc 192px,#ff9393 195px,#ff7474 196px,#ffa9a9 198px,#ffa1a1 199px,#ff3131 200px,#e10000 201px,#c00 202px,#be0000 204px,#f10000 205px,#b00 206px,#a70000 207px,#ce0000 208px,#b50000 209px,#ff2929 210px,#f80000 211px,#ac0000 214px,#b10000 215px,#800000 216px,#800000 220px,#d90000 221px,#e80000 222px,#800000 223px,#800000 244px,#ac0000 245px,#800000 246px,#800000 249px,#b30000 250px,#ff4747 251px,#f11 252px,#ff7f7f 253px,#ff9b9b 254px,#ff8181 255px,#ff8989 256px,#ffbebe 258px,#ffc2c2 259px,#ffadad 260px,#ffd6d6 262px,#ffe0e0 265px,#ffcaca 266px,#ffdcdc 269px,#ffd6d6 270px,#ffefef 272px,#fff8f8 279px,#f8f8ff 307px)"></i><i style="top:648.05px;height:1.05px;background:linear-gradient(90deg,#f8f8ff 0,#fff8f8 168px,#ffe6e6 179px,#fff3f3 181px,#ffdada 183px,#ffdada 186px,#ffb2b2 189px,#ffbdbd 192px,#ff9191 195px,#ff6d6d 196px,#ff9595 198px,#ff7d7d 199px,#e40000 200px,#870000 201px,#800000 204px,#ac0000 205px,#800000 206px,#800000 209px,#d00 210px,#a60000 212px,#800000 214px,#800000 220px,#d00000 221px,#e10000 222px,#800000 223px,#800000 244px,#a10000 245px,#800000 246px,#800000 249px,#8c0000 250px,#ff1919 251px,#e60000 252px,#ff5b5b 253px,#ff8383 254px,#ff6c6c 255px,#ffa1a1 257px,#ffbdbd 258px,#ffc2c2 259px,#ffadad 260px,#ffd7d7 262px,#ffe0e0 265px,#ffcbcb 266px,#ffdcdc 269px,#ffd6d6 270px,#fff0f0 272px,#fff8f8 279px,#f8f8ff 307px)"></i><i style="top:649.05px;height:1.05px;background:linear-gradient(90deg,#f8f8ff 0,#fff9f9 168px,#ffe7e7 179px,#fff4f4 181px,#ffdbdb 183px,#ffdbdb 186px,#ffb3b3 189px,#ffbdbd 192px,#ff8d8d 195px,#ff5c5c 196px,#ff6969 198px,#ff3737 199px,#8d0000 200px,#800000 202px,#800000 209px,#9a0000 210px,#800000 211px,#800000 220px,#c00 221px,#de0000 222px,#800000 223px,#800000 244px,#9c0000 245px,#800000 246px,#800000 250px,#f90000 251px,#c70000 252px,#ff3434 253px,#ff6767 254px,#ff5454 255px,#ffbcbc 258px,#ffc2c2 259px,#ffaeae 260px,#ffd7d7 262px,#ffe1e1 265px,#ffcbcb 266px,#fdd 269px,#ffd7d7 270px,#fff0f0 272px,#fff8f8 279px,#f8f8ff 307px)"></i><i style="top:650.05px;height:1.05px;background:linear-gradient(90deg,#f8f8ff 0,#fff9f9 168px,#ffe7e7 179px,#fff4f4 181px,#ffdcdc 183px,#ffdcdc 186px,#ffb5b5 189px,#ffbebe 192px,#ffa3a3 194px,#ff8282 195px,#ff3737 196px,#ff1919 198px,#e50000 199px,#800000 200px,#800000 220px,#ca0000 221px,#d00 222px,#800000 223px,#800000 244px,#9a0000 245px,#800000 246px,#800000 250px,#eb0000 251px,#ad0000 252px,#ff1010 253px,#ff4a4a 254px,#ff3939 255px,#fbb 258px,#ffc2c2 259px,#ffafaf 260px,#ffd8d8 262px,#ffe1e1 265px,#ffcdcd 266px,#ffdede 269px,#ffd8d8 270px,#fff0f0 272px,#fff8f8 279px,#f8f8ff 307px)"></i><i style="top:651.05px;height:1.05px;background:linear-gradient(90deg,#f8f8ff 0,#fff6f6 169px,#ffe8e8 179px,#fff4f4 181px,#fdd 183px,#fdd 186px,#ffb7b7 189px,#ffbfbf 192px,#ff9d9d 194px,#ff6a6a 195px,#f60000 196px,#d90000 197px,#d30000 198px,#800000 200px,#800000 220px,#ca0000 221px,#d00 222px,#800000 223px,#800000 244px,#900 245px,#800000 246px,#800000 250px,#e30000 251px,#900 252px,#f70000 253px,#ff2f2f 254px,#ff1e1e 255px,#ff9393 257px,#ffbaba 258px,#ffc3c3 259px,#ffb1b1 260px,#ffd9d9 262px,#ffe2e2 265px,#ffcece 266px,#ffdfdf 269px,#ffd9d9 270px,#fff1f1 272px,#fefeff 285px,#f8f8ff 307px)"></i><i style="top:652.05px;height:1.05px;background:linear-gradient(90deg,#f8f8ff 0,#fff6f6 169px,#ffe9e9 179px,#fff5f5 181px,#ffdede 183px,#ffdede 186px,#ffb9b9 189px,#ffc0c0 192px,#ff9090 194px,#ff3b3b 195px,#b60000 196px,#8c0000 197px,#9a0000 198px,#800000 200px,#800000 220px,#cb0000 221px,#de0000 222px,#800000 223px,#800000 244px,#9a0000 245px,#800000 246px,#800000 250px,#d00 251px,#8b0000 252px,#ea0000 253px,#ff1616 254px,#ff0404 255px,#ff8f8f 257px,#ffbaba 258px,#ffc4c4 259px,#ffb3b3 260px,#ffdbdb 262px,#ffe3e3 265px,#ffd0d0 266px,#ffe0e0 269px,#ffdada 270px,#fff2f2 272px,#fefeff 285px,#f8f8ff 307px)"></i><i style="top:653.05px;height:1.05px;background:linear-gradient(90deg,#f8f8ff 0,#fff7f7 169px,#ffeaea 179px,#fff6f6 181px,#ffe0e0 183px,#ffdfdf 186px,#ffbcbc 189px,#ffc0c0 192px,#ffa8a8 193px,#ff7575 194px,#f40000 195px,#800000 196px,#800000 220px,#c00 221px,#df0000 222px,#800000 223px,#800000 244px,#9b0000 245px,#800000 246px,#800000 250px,#da0000 251px,#820000 252px,#e10000 253px,#ff0202 254px,#f60000 255px,#ff3a3a 256px,#ff8c8c 257px,#ffbaba 258px,#ffc5c5 259px,#ffb5b5 260px,#ffdcdc 262px,#ffe5e5 265px,#ffd2d2 266px,#ffe1e1 269px,#ffdcdc 270px,#fff2f2 272px,#fcfcff 292px,#f8f8ff 307px)"></i><i style="top:654.05px;height:1.05px;background:linear-gradient(90deg,#f8f8ff 0,#fff7f7 173px,#ffebeb 179px,#fff6f6 181px,#ffe1e1 183px,#ffe1e1 186px,#ffbfbf 189px,#ffbebe 192px,#ff9b9b 193px,#ff4747 194px,#b80000 195px,#800000 196px,#800000 220px,#cd0000 221px,#e00000 222px,#800000 223px,#800000 244px,#9c0000 245px,#800000 246px,#800000 250px,#d80000 251px,#800000 252px,#da0000 253px,#f80000 254px,#ed0000 255px,#ff3030 256px,#ff8989 257px,#fbb 258px,#ffc7c7 259px,#ffb8b8 260px,#ffdede 262px,#ffe6e6 265px,#ffd4d4 266px,#ffe3e3 269px,#ffeaea 271px,#fffafa 279px,#f8f8ff 307px)"></i><i style="top:655.05px;height:1.05px;background:linear-gradient(90deg,#f8f8ff 0,#fff8f8 173px,#ffeded 179px,#fff7f7 181px,#ffe3e3 183px,#ffe3e3 186px,#ffc2c2 190px,#ffbaba 192px,#ff8484 193px,#f00 194px,#800000 195px,#800000 220px,#ce0000 221px,#e10000 222px,#800000 223px,#800000 244px,#9d0000 245px,#800000 246px,#800000 250px,#d70000 251px,#800000 252px,#d50000 253px,#f20000 254px,#e60000 255px,#ff2828 256px,#f88 257px,#ffbcbc 258px,#ffc9c9 259px,#fbb 260px,#ffe0e0 262px,#ffe7e7 265px,#ffd6d6 266px,#ffe4e4 269px,#ffebeb 271px,#fffefe 283px,#f8f8ff 307px)"></i><i style="top:656.05px;height:1.05px;background:linear-gradient(90deg,#f8f8ff 0,#fff8f8 173px,#fee 179px,#fff8f8 181px,#ffe5e5 183px,#ffe4e4 186px,#ffc4c4 190px,#ffb1b1 192px,#ff5f5f 193px,#d00000 194px,#800000 195px,#800000 220px,#cf0000 221px,#e20000 222px,#800000 223px,#800000 244px,#9f0000 245px,#800000 246px,#800000 250px,#d70000 251px,#800000 252px,#d20000 253px,#e00 254px,#e10000 255px,#ff2323 256px,#f88 257px,#ffbebe 258px,#ffcbcb 259px,#ffbebe 260px,#ffe1e1 262px,#ffe9e9 265px,#ffdada 267px,#ffe6e6 269px,#ffeded 271px,#fff 284px,#f8f8ff 307px)"></i><i style="top:657.05px;height:1.05px;background:linear-gradient(90deg,#f8f8ff 0,#fff9f9 173px,#ffefef 179px,#fff9f9 181px,#ffe7e7 183px,#ffdada 187px,#ffc1c1 191px,#ffa3a3 192px,#ff2b2b 193px,#9a0000 194px,#800000 195px,#800000 220px,#d00000 221px,#e30000 222px,#800000 223px,#800000 244px,#a00000 245px,#800000 246px,#800000 250px,#d70000 251px,#800000 252px,#d00000 253px,#eb0000 254px,#de0000 255px,#ff2121 256px,#ff8989 257px,#ffc0c0 258px,#ffcece 259px,#ffc2c2 260px,#ffe4e4 262px,#ffebeb 265px,#fdd 267px,#fff8f8 275px,#f8f8ff 307px)"></i><i style="top:658.05px;height:1.05px;background:linear-gradient(90deg,#f8f8ff 0,#fffafa 173px,#fff1f1 179px,#fff9f9 181px,#ffe6e6 185px,#ffd3d3 188px,#ffbebe 191px,#ff8f8f 192px,#f40000 193px,#800000 194px,#800000 220px,#d00000 221px,#e50000 222px,#800000 223px,#800000 244px,#a20000 245px,#800000 246px,#800000 250px,#d70000 251px,#800000 252px,#d00000 253px,#ea0000 254px,#dc0000 255px,#ff2020 256px,#ff8a8a 257px,#ffc2c2 258px,#ffd0d0 259px,#ffc6c6 260px,#ffe6e6 262px,#ffecec 265px,#ffdfdf 267px,#fff9f9 275px,#f8f8ff 307px)"></i><i style="top:659.05px;height:1.05px;background:linear-gradient(90deg,#f8f8ff 0,#fffbfb 173px,#fff2f2 179px,#fffafa 181px,#ffe8e8 185px,#ffc9c9 190px,#ffb8b8 191px,#ff7474 192px,#cf0000 193px,#800000 194px,#800000 220px,#d10000 221px,#e60000 222px,#800000 223px,#800000 244px,#a30000 245px,#800000 246px,#800000 250px,#d80000 251px,#800000 252px,#d00000 253px,#ea0000 254px,#dc0000 255px,#ff2121 256px,#ff8d8d 257px,#ffc4c4 258px,#ffd3d3 259px,#ffcaca 260px,#ffe8e8 262px,#fee 265px,#ffe2e2 267px,#fffcfc 277px,#f8f8ff 307px)"></i><i style="top:660.05px;height:0.49px;background:linear-gradient(90deg,#f8f8ff 0,#fff6f6 174px,#fffbfb 181px,#ffe2e2 187px,#ffc9c9 190px,#ffb1b1 191px,#ff5d5d 192px,#b40000 193px,#800000 194px,#800000 220px,#d10000 221px,#e70000 222px,#800000 223px,#800000 244px,#a40000 245px,#800000 246px,#800000 250px,#d90000 251px,#800000 252px,#d00000 253px,#ea0000 254px,#dc0000 255px,#ff2323 256px,#ff8f8f 257px,#ffc6c6 258px,#ffd5d5 259px,#ffcdcd 260px,#ffeaea 263px,#ffefef 265px,#ffe4e4 267px,#fffdfd 277px,#f8f8ff 307px)"></i></div>
<svg width="852" height="712" viewBox="0 0 852 712">
<path d="M112.83 227.1V71M163.87 227.1V71M214.9 227.1V71M265.93 227.1V71M316.97 227.1V71M61.8 110.03H368M61.8 149.05H368M61.8 188.07H368M465.5 227.1V71M516.6 227.1V71M567.7 227.1V71M618.8 227.1V71M669.9 227.1V71M414.4 110.03H721M414.4 149.05H721M414.4 188.07H721M112.83 446.3V290.1M163.87 446.3V290.1M214.9 446.3V290.1M265.93 446.3V290.1M316.97 446.3V290.1M61.8 329.15H368M61.8 368.2H368M61.8 407.25H368M465.5 446.3V290.1M516.6 446.3V290.1M567.7 446.3V290.1M618.8 446.3V290.1M669.9 446.3V290.1M414.4 329.15H721M414.4 368.2H721M414.4 407.25H721M112.83 665.5V509.1M163.87 665.5V509.1M214.9 665.5V509.1M265.93 665.5V509.1M316.97 665.5V509.1M61.8 548.2H368M61.8 587.3H368M61.8 626.4H368M465.5 665.5V509.1M516.6 665.5V509.1M567.7 665.5V509.1M618.8 665.5V509.1M669.9 665.5V509.1M414.4 548.2H721M414.4 587.3H721M414.4 626.4H721" stroke="#000" stroke-width="1.3" stroke-dasharray="1.35 3.95" fill="none"/>
<path d="M61.8 227.1v-5.3M61.8 71v5.3M112.83 227.1v-5.3M112.83 71v5.3M163.87 227.1v-5.3M163.87 71v5.3M214.9 227.1v-5.3M214.9 71v5.3M265.93 227.1v-5.3M265.93 71v5.3M316.97 227.1v-5.3M316.97 71v5.3M368 227.1v-5.3M368 71v5.3M61.8 71h5.3M368 71h-5.3M61.8 110.03h5.3M368 110.03h-5.3M61.8 149.05h5.3M368 149.05h-5.3M61.8 188.07h5.3M368 188.07h-5.3M61.8 227.1h5.3M368 227.1h-5.3M414.4 227.1v-5.3M414.4 71v5.3M465.5 227.1v-5.3M465.5 71v5.3M516.6 227.1v-5.3M516.6 71v5.3M567.7 227.1v-5.3M567.7 71v5.3M618.8 227.1v-5.3M618.8 71v5.3M669.9 227.1v-5.3M669.9 71v5.3M721 227.1v-5.3M721 71v5.3M414.4 71h5.3M721 71h-5.3M414.4 110.03h5.3M721 110.03h-5.3M414.4 149.05h5.3M721 149.05h-5.3M414.4 188.07h5.3M721 188.07h-5.3M414.4 227.1h5.3M721 227.1h-5.3M61.8 446.3v-5.3M61.8 290.1v5.3M112.83 446.3v-5.3M112.83 290.1v5.3M163.87 446.3v-5.3M163.87 290.1v5.3M214.9 446.3v-5.3M214.9 290.1v5.3M265.93 446.3v-5.3M265.93 290.1v5.3M316.97 446.3v-5.3M316.97 290.1v5.3M368 446.3v-5.3M368 290.1v5.3M61.8 290.1h5.3M368 290.1h-5.3M61.8 329.15h5.3M368 329.15h-5.3M61.8 368.2h5.3M368 368.2h-5.3M61.8 407.25h5.3M368 407.25h-5.3M61.8 446.3h5.3M368 446.3h-5.3M414.4 446.3v-5.3M414.4 290.1v5.3M465.5 446.3v-5.3M465.5 290.1v5.3M516.6 446.3v-5.3M516.6 290.1v5.3M567.7 446.3v-5.3M567.7 290.1v5.3M618.8 446.3v-5.3M618.8 290.1v5.3M669.9 446.3v-5.3M669.9 290.1v5.3M721 446.3v-5.3M721 290.1v5.3M414.4 290.1h5.3M721 290.1h-5.3M414.4 329.15h5.3M721 329.15h-5.3M414.4 368.2h5.3M721 368.2h-5.3M414.4 407.25h5.3M721 407.25h-5.3M414.4 446.3h5.3M721 446.3h-5.3M61.8 665.5v-5.3M61.8 509.1v5.3M112.83 665.5v-5.3M112.83 509.1v5.3M163.87 665.5v-5.3M163.87 509.1v5.3M214.9 665.5v-5.3M214.9 509.1v5.3M265.93 665.5v-5.3M265.93 509.1v5.3M316.97 665.5v-5.3M316.97 509.1v5.3M368 665.5v-5.3M368 509.1v5.3M61.8 509.1h5.3M368 509.1h-5.3M61.8 548.2h5.3M368 548.2h-5.3M61.8 587.3h5.3M368 587.3h-5.3M61.8 626.4h5.3M368 626.4h-5.3M61.8 665.5h5.3M368 665.5h-5.3M414.4 665.5v-5.3M414.4 509.1v5.3M465.5 665.5v-5.3M465.5 509.1v5.3M516.6 665.5v-5.3M516.6 509.1v5.3M567.7 665.5v-5.3M567.7 509.1v5.3M618.8 665.5v-5.3M618.8 509.1v5.3M669.9 665.5v-5.3M669.9 509.1v5.3M721 665.5v-5.3M721 509.1v5.3M414.4 509.1h5.3M721 509.1h-5.3M414.4 548.2h5.3M721 548.2h-5.3M414.4 587.3h5.3M721 587.3h-5.3M414.4 626.4h5.3M721 626.4h-5.3M414.4 665.5h5.3M721 665.5h-5.3" stroke="#000" stroke-width="1.3" fill="none"/>
<rect x="61.8" y="71" width="306.2" height="156.1" fill="none" stroke="#000" stroke-width="1.6"/>
<rect x="414.4" y="71" width="306.6" height="156.1" fill="none" stroke="#000" stroke-width="1.6"/>
<rect x="61.8" y="290.1" width="306.2" height="156.2" fill="none" stroke="#000" stroke-width="1.6"/>
<rect x="414.4" y="290.1" width="306.6" height="156.2" fill="none" stroke="#000" stroke-width="1.6"/>
<rect x="61.8" y="509.1" width="306.2" height="156.4" fill="none" stroke="#000" stroke-width="1.6"/>
<rect x="414.4" y="509.1" width="306.6" height="156.4" fill="none" stroke="#000" stroke-width="1.6"/>
<text x="61.8" y="242.7" text-anchor="middle" font-size="13.33">0</text>
<text x="112.83" y="242.7" text-anchor="middle" font-size="13.33">60</text>
<text x="163.87" y="242.7" text-anchor="middle" font-size="13.33">120</text>
<text x="214.9" y="242.7" text-anchor="middle" font-size="13.33">180</text>
<text x="265.93" y="242.7" text-anchor="middle" font-size="13.33">240</text>
<text x="316.97" y="242.7" text-anchor="middle" font-size="13.33">300</text>
<text x="368" y="242.7" text-anchor="middle" font-size="13.33">360</text>
<text x="56.1" y="75.1" text-anchor="end" font-size="13.33">90</text>
<text x="56.1" y="114.12" text-anchor="end" font-size="13.33">45</text>
<text x="56.1" y="153.15" text-anchor="end" font-size="13.33">0</text>
<text x="56.1" y="192.17" text-anchor="end" font-size="13.33"><tspan stroke="#000" stroke-width="0.45">−</tspan>45</text>
<text x="56.1" y="231.2" text-anchor="end" font-size="13.33"><tspan stroke="#000" stroke-width="0.45">−</tspan>90</text>
<text x="214.9" y="64.1" text-anchor="middle" font-size="16">Altitude 0 km</text>
<text x="24.9" y="63.8" font-size="24" font-weight="bold">a</text>
<text transform="translate(18.6 149.05) rotate(-90)" text-anchor="middle" font-size="13.33">Latitude</text>
<text x="414.4" y="242.7" text-anchor="middle" font-size="13.33">0</text>
<text x="465.5" y="242.7" text-anchor="middle" font-size="13.33">60</text>
<text x="516.6" y="242.7" text-anchor="middle" font-size="13.33">120</text>
<text x="567.7" y="242.7" text-anchor="middle" font-size="13.33">180</text>
<text x="618.8" y="242.7" text-anchor="middle" font-size="13.33">240</text>
<text x="669.9" y="242.7" text-anchor="middle" font-size="13.33">300</text>
<text x="721" y="242.7" text-anchor="middle" font-size="13.33">360</text>
<text x="408.7" y="75.1" text-anchor="end" font-size="13.33">90</text>
<text x="408.7" y="114.12" text-anchor="end" font-size="13.33">45</text>
<text x="408.7" y="153.15" text-anchor="end" font-size="13.33">0</text>
<text x="408.7" y="192.17" text-anchor="end" font-size="13.33"><tspan stroke="#000" stroke-width="0.45">−</tspan>45</text>
<text x="408.7" y="231.2" text-anchor="end" font-size="13.33"><tspan stroke="#000" stroke-width="0.45">−</tspan>90</text>
<text x="567.7" y="64.1" text-anchor="middle" font-size="16">Altitude 30 km</text>
<text x="377.5" y="63.8" font-size="24" font-weight="bold">b</text>
<text x="61.8" y="461.9" text-anchor="middle" font-size="13.33">0</text>
<text x="112.83" y="461.9" text-anchor="middle" font-size="13.33">60</text>
<text x="163.87" y="461.9" text-anchor="middle" font-size="13.33">120</text>
<text x="214.9" y="461.9" text-anchor="middle" font-size="13.33">180</text>
<text x="265.93" y="461.9" text-anchor="middle" font-size="13.33">240</text>
<text x="316.97" y="461.9" text-anchor="middle" font-size="13.33">300</text>
<text x="368" y="461.9" text-anchor="middle" font-size="13.33">360</text>
<text x="56.1" y="294.2" text-anchor="end" font-size="13.33">90</text>
<text x="56.1" y="333.25" text-anchor="end" font-size="13.33">45</text>
<text x="56.1" y="372.3" text-anchor="end" font-size="13.33">0</text>
<text x="56.1" y="411.35" text-anchor="end" font-size="13.33"><tspan stroke="#000" stroke-width="0.45">−</tspan>45</text>
<text x="56.1" y="450.4" text-anchor="end" font-size="13.33"><tspan stroke="#000" stroke-width="0.45">−</tspan>90</text>
<text x="214.9" y="283.2" text-anchor="middle" font-size="16">Altitude 60 km</text>
<text x="24.9" y="282.9" font-size="24" font-weight="bold">c</text>
<text transform="translate(18.6 368.2) rotate(-90)" text-anchor="middle" font-size="13.33">Latitude</text>
<text x="414.4" y="461.9" text-anchor="middle" font-size="13.33">0</text>
<text x="465.5" y="461.9" text-anchor="middle" font-size="13.33">60</text>
<text x="516.6" y="461.9" text-anchor="middle" font-size="13.33">120</text>
<text x="567.7" y="461.9" text-anchor="middle" font-size="13.33">180</text>
<text x="618.8" y="461.9" text-anchor="middle" font-size="13.33">240</text>
<text x="669.9" y="461.9" text-anchor="middle" font-size="13.33">300</text>
<text x="721" y="461.9" text-anchor="middle" font-size="13.33">360</text>
<text x="408.7" y="294.2" text-anchor="end" font-size="13.33">90</text>
<text x="408.7" y="333.25" text-anchor="end" font-size="13.33">45</text>
<text x="408.7" y="372.3" text-anchor="end" font-size="13.33">0</text>
<text x="408.7" y="411.35" text-anchor="end" font-size="13.33"><tspan stroke="#000" stroke-width="0.45">−</tspan>45</text>
<text x="408.7" y="450.4" text-anchor="end" font-size="13.33"><tspan stroke="#000" stroke-width="0.45">−</tspan>90</text>
<text x="567.7" y="283.2" text-anchor="middle" font-size="16">Altitude 90 km</text>
<text x="377.5" y="282.9" font-size="24" font-weight="bold">d</text>
<text x="61.8" y="681.1" text-anchor="middle" font-size="13.33">0</text>
<text x="112.83" y="681.1" text-anchor="middle" font-size="13.33">60</text>
<text x="163.87" y="681.1" text-anchor="middle" font-size="13.33">120</text>
<text x="214.9" y="681.1" text-anchor="middle" font-size="13.33">180</text>
<text x="265.93" y="681.1" text-anchor="middle" font-size="13.33">240</text>
<text x="316.97" y="681.1" text-anchor="middle" font-size="13.33">300</text>
<text x="368" y="681.1" text-anchor="middle" font-size="13.33">360</text>
<text x="56.1" y="513.2" text-anchor="end" font-size="13.33">90</text>
<text x="56.1" y="552.3" text-anchor="end" font-size="13.33">45</text>
<text x="56.1" y="591.4" text-anchor="end" font-size="13.33">0</text>
<text x="56.1" y="630.5" text-anchor="end" font-size="13.33"><tspan stroke="#000" stroke-width="0.45">−</tspan>45</text>
<text x="56.1" y="669.6" text-anchor="end" font-size="13.33"><tspan stroke="#000" stroke-width="0.45">−</tspan>90</text>
<text x="214.9" y="502.2" text-anchor="middle" font-size="16">Altitude 120 km</text>
<text x="24.9" y="501.9" font-size="24" font-weight="bold">e</text>
<text transform="translate(18.6 587.3) rotate(-90)" text-anchor="middle" font-size="13.33">Latitude</text>
<text x="214.9" y="700.8" text-anchor="middle" font-size="13.33">Ls</text>
<text x="414.4" y="681.1" text-anchor="middle" font-size="13.33">0</text>
<text x="465.5" y="681.1" text-anchor="middle" font-size="13.33">60</text>
<text x="516.6" y="681.1" text-anchor="middle" font-size="13.33">120</text>
<text x="567.7" y="681.1" text-anchor="middle" font-size="13.33">180</text>
<text x="618.8" y="681.1" text-anchor="middle" font-size="13.33">240</text>
<text x="669.9" y="681.1" text-anchor="middle" font-size="13.33">300</text>
<text x="721" y="681.1" text-anchor="middle" font-size="13.33">360</text>
<text x="408.7" y="513.2" text-anchor="end" font-size="13.33">90</text>
<text x="408.7" y="552.3" text-anchor="end" font-size="13.33">45</text>
<text x="408.7" y="591.4" text-anchor="end" font-size="13.33">0</text>
<text x="408.7" y="630.5" text-anchor="end" font-size="13.33"><tspan stroke="#000" stroke-width="0.45">−</tspan>45</text>
<text x="408.7" y="669.6" text-anchor="end" font-size="13.33"><tspan stroke="#000" stroke-width="0.45">−</tspan>90</text>
<text x="567.7" y="502.2" text-anchor="middle" font-size="16">Altitude 150 km</text>
<text x="377.5" y="501.9" font-size="24" font-weight="bold">f</text>
<text x="567.7" y="700.8" text-anchor="middle" font-size="13.33">Ls</text>
<text x="421.3" y="29.9" text-anchor="middle" font-size="26.8">Water vapor vertical flux</text>
<rect x="788.4" y="97.9" width="17" height="6" fill="#820000"/><rect x="788.4" y="103.3" width="17" height="6" fill="#870000"/><rect x="788.4" y="108.7" width="17" height="6" fill="#8c0000"/><rect x="788.4" y="114.1" width="17" height="6" fill="#910000"/><rect x="788.4" y="119.5" width="17" height="6" fill="#960000"/><rect x="788.4" y="124.91" width="17" height="6" fill="#9c0000"/><rect x="788.4" y="130.31" width="17" height="6" fill="#a10000"/><rect x="788.4" y="135.71" width="17" height="6" fill="#a60000"/><rect x="788.4" y="141.11" width="17" height="6" fill="#ab0000"/><rect x="788.4" y="146.51" width="17" height="6" fill="#b00000"/><rect x="788.4" y="151.91" width="17" height="6" fill="#b50000"/><rect x="788.4" y="157.31" width="17" height="6" fill="#ba0000"/><rect x="788.4" y="162.71" width="17" height="6" fill="#bf0000"/><rect x="788.4" y="168.11" width="17" height="6" fill="#c40000"/><rect x="788.4" y="173.51" width="17" height="6" fill="#c90000"/><rect x="788.4" y="178.92" width="17" height="6" fill="#cf0000"/><rect x="788.4" y="184.32" width="17" height="6" fill="#d40000"/><rect x="788.4" y="189.72" width="17" height="6" fill="#d90000"/><rect x="788.4" y="195.12" width="17" height="6" fill="#de0000"/><rect x="788.4" y="200.52" width="17" height="6" fill="#e30000"/><rect x="788.4" y="205.92" width="17" height="6" fill="#e80000"/><rect x="788.4" y="211.32" width="17" height="6" fill="#ed0000"/><rect x="788.4" y="216.72" width="17" height="6" fill="#f20000"/><rect x="788.4" y="222.12" width="17" height="6" fill="#f70000"/><rect x="788.4" y="227.52" width="17" height="6" fill="#fc0000"/><rect x="788.4" y="232.93" width="17" height="6" fill="#ff0505"/><rect x="788.4" y="238.33" width="17" height="6" fill="#ff0f0f"/><rect x="788.4" y="243.73" width="17" height="6" fill="#ff1a1a"/><rect x="788.4" y="249.13" width="17" height="6" fill="#ff2424"/><rect x="788.4" y="254.53" width="17" height="6" fill="#ff2e2e"/><rect x="788.4" y="259.93" width="17" height="6" fill="#ff3838"/><rect x="788.4" y="265.33" width="17" height="6" fill="#ff4242"/><rect x="788.4" y="270.73" width="17" height="6" fill="#ff4c4c"/><rect x="788.4" y="276.13" width="17" height="6" fill="#ff5757"/><rect x="788.4" y="281.53" width="17" height="6" fill="#ff6161"/><rect x="788.4" y="286.94" width="17" height="6" fill="#ff6b6b"/><rect x="788.4" y="292.34" width="17" height="6" fill="#ff7575"/><rect x="788.4" y="297.74" width="17" height="6" fill="#ff8080"/><rect x="788.4" y="303.14" width="17" height="6" fill="#ff8a8a"/><rect x="788.4" y="308.54" width="17" height="6" fill="#ff9494"/><rect x="788.4" y="313.94" width="17" height="6" fill="#ff9e9e"/><rect x="788.4" y="319.34" width="17" height="6" fill="#ffa8a8"/><rect x="788.4" y="324.74" width="17" height="6" fill="#ffb3b3"/><rect x="788.4" y="330.14" width="17" height="6" fill="#ffbdbd"/><rect x="788.4" y="335.54" width="17" height="6" fill="#ffc7c7"/><rect x="788.4" y="340.94" width="17" height="6" fill="#ffd1d1"/><rect x="788.4" y="346.35" width="17" height="6" fill="#ffdbdb"/><rect x="788.4" y="351.75" width="17" height="6" fill="#ffe5e5"/><rect x="788.4" y="357.15" width="17" height="6" fill="#fff0f0"/><rect x="788.4" y="362.55" width="17" height="6" fill="#fffafa"/><rect x="788.4" y="367.95" width="17" height="6" fill="#fafaff"/><rect x="788.4" y="373.35" width="17" height="6" fill="#f0f0ff"/><rect x="788.4" y="378.75" width="17" height="6" fill="#e5e5ff"/><rect x="788.4" y="384.15" width="17" height="6" fill="#dbdbff"/><rect x="788.4" y="389.55" width="17" height="6" fill="#d1d1ff"/><rect x="788.4" y="394.96" width="17" height="6" fill="#c7c7ff"/><rect x="788.4" y="400.36" width="17" height="6" fill="#bdbdff"/><rect x="788.4" y="405.76" width="17" height="6" fill="#b2b2ff"/><rect x="788.4" y="411.16" width="17" height="6" fill="#a8a8ff"/><rect x="788.4" y="416.56" width="17" height="6" fill="#9e9eff"/><rect x="788.4" y="421.96" width="17" height="6" fill="#9494ff"/><rect x="788.4" y="427.36" width="17" height="6" fill="#8a8aff"/><rect x="788.4" y="432.76" width="17" height="6" fill="#8080ff"/><rect x="788.4" y="438.16" width="17" height="6" fill="#7575ff"/><rect x="788.4" y="443.56" width="17" height="6" fill="#6b6bff"/><rect x="788.4" y="448.97" width="17" height="6" fill="#6161ff"/><rect x="788.4" y="454.37" width="17" height="6" fill="#5757ff"/><rect x="788.4" y="459.77" width="17" height="6" fill="#4d4dff"/><rect x="788.4" y="465.17" width="17" height="6" fill="#4242ff"/><rect x="788.4" y="470.57" width="17" height="6" fill="#3838ff"/><rect x="788.4" y="475.97" width="17" height="6" fill="#2e2eff"/><rect x="788.4" y="481.37" width="17" height="6" fill="#2424ff"/><rect x="788.4" y="486.77" width="17" height="6" fill="#1a1aff"/><rect x="788.4" y="492.17" width="17" height="6" fill="#0f0fff"/><rect x="788.4" y="497.57" width="17" height="6" fill="#0505ff"/><rect x="788.4" y="502.98" width="17" height="6" fill="#0000fb"/><rect x="788.4" y="508.38" width="17" height="6" fill="#0000f4"/><rect x="788.4" y="513.78" width="17" height="6" fill="#0000ed"/><rect x="788.4" y="519.18" width="17" height="6" fill="#0000e6"/><rect x="788.4" y="524.58" width="17" height="6" fill="#0000df"/><rect x="788.4" y="529.98" width="17" height="6" fill="#0000d8"/><rect x="788.4" y="535.38" width="17" height="6" fill="#0000d1"/><rect x="788.4" y="540.78" width="17" height="6" fill="#0000c9"/><rect x="788.4" y="546.18" width="17" height="6" fill="#0000c2"/><rect x="788.4" y="551.58" width="17" height="6" fill="#0000bb"/><rect x="788.4" y="556.99" width="17" height="6" fill="#0000b4"/><rect x="788.4" y="562.39" width="17" height="6" fill="#0000ad"/><rect x="788.4" y="567.79" width="17" height="6" fill="#0000a6"/><rect x="788.4" y="573.19" width="17" height="6" fill="#00009f"/><rect x="788.4" y="578.59" width="17" height="6" fill="#000097"/><rect x="788.4" y="583.99" width="17" height="6" fill="#000090"/><rect x="788.4" y="589.39" width="17" height="6" fill="#000089"/><rect x="788.4" y="594.79" width="17" height="6" fill="#000082"/><rect x="788.4" y="600.19" width="17" height="6" fill="#00007b"/><rect x="788.4" y="605.59" width="17" height="6" fill="#000074"/><rect x="788.4" y="611" width="17" height="6" fill="#00006d"/><rect x="788.4" y="616.4" width="17" height="6" fill="#000065"/><rect x="788.4" y="621.8" width="17" height="6" fill="#00005e"/><rect x="788.4" y="627.2" width="17" height="6" fill="#000057"/><rect x="788.4" y="632.6" width="17" height="6" fill="#000050"/>
<path d="M788.4 98.4L796.9 70.3L805.4 98.4z" fill="#800000"/>
<path d="M788.4 637.5L796.9 666L805.4 637.5z" fill="#00004c"/>
<path d="M788.4 97.9L796.9 70.3L805.4 97.9L805.4 638L796.9 666L788.4 638z" fill="none" stroke="#000" stroke-width="1.2"/>
<text x="810.3" y="101.8" font-size="13.33">25</text>
<text x="810.3" y="155.81" font-size="13.33">20</text>
<text x="810.3" y="209.82" font-size="13.33">15</text>
<text x="810.3" y="263.83" font-size="13.33">10</text>
<text x="810.3" y="317.84" font-size="13.33">5</text>
<text x="810.3" y="371.85" font-size="13.33">0</text>
<text x="810.3" y="425.86" font-size="13.33"><tspan stroke="#000" stroke-width="0.45">−</tspan>5</text>
<text x="810.3" y="479.87" font-size="13.33"><tspan stroke="#000" stroke-width="0.45">−</tspan>10</text>
<text x="810.3" y="533.88" font-size="13.33"><tspan stroke="#000" stroke-width="0.45">−</tspan>15</text>
<text x="810.3" y="587.89" font-size="13.33"><tspan stroke="#000" stroke-width="0.45">−</tspan>20</text>
<text x="810.3" y="641.9" font-size="13.33"><tspan stroke="#000" stroke-width="0.45">−</tspan>25</text>
<path d="M805.4 97.9h-4.8M805.4 151.91h-4.8M805.4 205.92h-4.8M805.4 259.93h-4.8M805.4 313.94h-4.8M805.4 367.95h-4.8M805.4 421.96h-4.8M805.4 475.97h-4.8M805.4 529.98h-4.8M805.4 583.99h-4.8M805.4 638h-4.8" stroke="#000" stroke-width="1" fill="none"/>
<text x="796.8" y="46.6" text-anchor="middle" font-size="16">m/s * ppmv</text>
</svg></body></html>
